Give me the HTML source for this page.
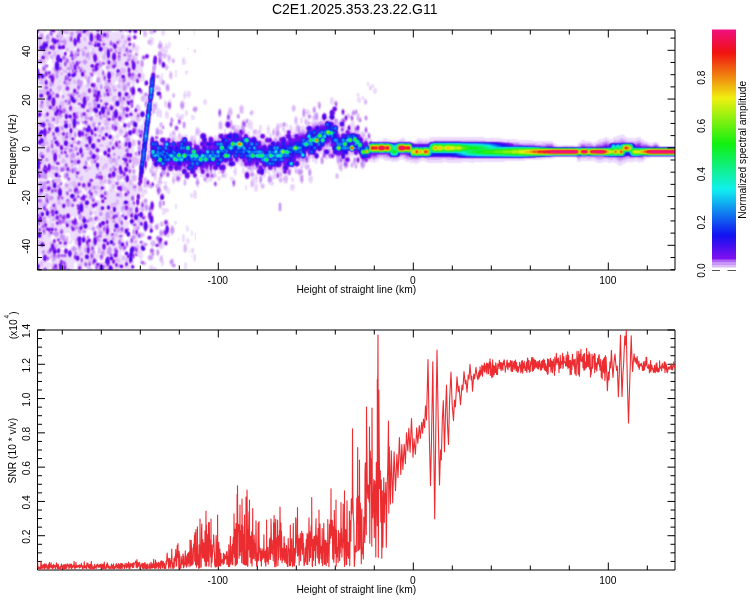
<!DOCTYPE html>
<html><head><meta charset="utf-8"><title>C2E1.2025.353.23.22.G11</title>
<style>
html,body{margin:0;padding:0;background:#fff;}
svg{display:block;font-family:"Liberation Sans",sans-serif;}
.lt ellipse,.lt rect{mix-blend-mode:lighten}
</style></head>
<body>
<svg width="750" height="600" viewBox="0 0 750 600">
<rect width="750" height="600" fill="#fff"/>
<defs>
<radialGradient id="r3"><stop offset="0" stop-color="#131313"/><stop offset="0.0833333" stop-color="#131313"/><stop offset="0.166667" stop-color="#131313"/><stop offset="0.25" stop-color="#121212"/><stop offset="0.333333" stop-color="#111111"/><stop offset="0.416667" stop-color="#0f0f0f"/><stop offset="0.5" stop-color="#0d0d0d"/><stop offset="0.583333" stop-color="#0a0a0a"/><stop offset="0.666667" stop-color="#070707"/><stop offset="0.75" stop-color="#050505"/><stop offset="0.833333" stop-color="#030303"/><stop offset="0.916667" stop-color="#010101"/><stop offset="1" stop-color="#000000"/></radialGradient>
<radialGradient id="r4"><stop offset="0" stop-color="#1a1a1a"/><stop offset="0.0833333" stop-color="#191919"/><stop offset="0.166667" stop-color="#191919"/><stop offset="0.25" stop-color="#181818"/><stop offset="0.333333" stop-color="#171717"/><stop offset="0.416667" stop-color="#141414"/><stop offset="0.5" stop-color="#111111"/><stop offset="0.583333" stop-color="#0d0d0d"/><stop offset="0.666667" stop-color="#090909"/><stop offset="0.75" stop-color="#060606"/><stop offset="0.833333" stop-color="#040404"/><stop offset="0.916667" stop-color="#020202"/><stop offset="1" stop-color="#000000"/></radialGradient>
<radialGradient id="r5"><stop offset="0" stop-color="#202020"/><stop offset="0.0833333" stop-color="#202020"/><stop offset="0.166667" stop-color="#1f1f1f"/><stop offset="0.25" stop-color="#1e1e1e"/><stop offset="0.333333" stop-color="#1c1c1c"/><stop offset="0.416667" stop-color="#191919"/><stop offset="0.5" stop-color="#151515"/><stop offset="0.583333" stop-color="#101010"/><stop offset="0.666667" stop-color="#0c0c0c"/><stop offset="0.75" stop-color="#080808"/><stop offset="0.833333" stop-color="#050505"/><stop offset="0.916667" stop-color="#020202"/><stop offset="1" stop-color="#000000"/></radialGradient>
<radialGradient id="r6"><stop offset="0" stop-color="#262626"/><stop offset="0.0833333" stop-color="#262626"/><stop offset="0.166667" stop-color="#262626"/><stop offset="0.25" stop-color="#242424"/><stop offset="0.333333" stop-color="#222222"/><stop offset="0.416667" stop-color="#1e1e1e"/><stop offset="0.5" stop-color="#191919"/><stop offset="0.583333" stop-color="#141414"/><stop offset="0.666667" stop-color="#0e0e0e"/><stop offset="0.75" stop-color="#090909"/><stop offset="0.833333" stop-color="#050505"/><stop offset="0.916667" stop-color="#030303"/><stop offset="1" stop-color="#000000"/></radialGradient>
<radialGradient id="r7"><stop offset="0" stop-color="#2d2d2d"/><stop offset="0.0833333" stop-color="#2d2d2d"/><stop offset="0.166667" stop-color="#2c2c2c"/><stop offset="0.25" stop-color="#2a2a2a"/><stop offset="0.333333" stop-color="#272727"/><stop offset="0.416667" stop-color="#232323"/><stop offset="0.5" stop-color="#1d1d1d"/><stop offset="0.583333" stop-color="#171717"/><stop offset="0.666667" stop-color="#101010"/><stop offset="0.75" stop-color="#0b0b0b"/><stop offset="0.833333" stop-color="#060606"/><stop offset="0.916667" stop-color="#030303"/><stop offset="1" stop-color="#000000"/></radialGradient>
<radialGradient id="r8"><stop offset="0" stop-color="#333333"/><stop offset="0.0833333" stop-color="#333333"/><stop offset="0.166667" stop-color="#323232"/><stop offset="0.25" stop-color="#303030"/><stop offset="0.333333" stop-color="#2d2d2d"/><stop offset="0.416667" stop-color="#282828"/><stop offset="0.5" stop-color="#212121"/><stop offset="0.583333" stop-color="#1a1a1a"/><stop offset="0.666667" stop-color="#131313"/><stop offset="0.75" stop-color="#0c0c0c"/><stop offset="0.833333" stop-color="#070707"/><stop offset="0.916667" stop-color="#040404"/><stop offset="1" stop-color="#000000"/></radialGradient>
<radialGradient id="r9"><stop offset="0" stop-color="#393939"/><stop offset="0.0833333" stop-color="#393939"/><stop offset="0.166667" stop-color="#383838"/><stop offset="0.25" stop-color="#363636"/><stop offset="0.333333" stop-color="#333333"/><stop offset="0.416667" stop-color="#2d2d2d"/><stop offset="0.5" stop-color="#262626"/><stop offset="0.583333" stop-color="#1d1d1d"/><stop offset="0.666667" stop-color="#151515"/><stop offset="0.75" stop-color="#0e0e0e"/><stop offset="0.833333" stop-color="#080808"/><stop offset="0.916667" stop-color="#040404"/><stop offset="1" stop-color="#000000"/></radialGradient>
<radialGradient id="r10"><stop offset="0" stop-color="#404040"/><stop offset="0.0833333" stop-color="#404040"/><stop offset="0.166667" stop-color="#3f3f3f"/><stop offset="0.25" stop-color="#3c3c3c"/><stop offset="0.333333" stop-color="#383838"/><stop offset="0.416667" stop-color="#323232"/><stop offset="0.5" stop-color="#2a2a2a"/><stop offset="0.583333" stop-color="#212121"/><stop offset="0.666667" stop-color="#171717"/><stop offset="0.75" stop-color="#0f0f0f"/><stop offset="0.833333" stop-color="#090909"/><stop offset="0.916667" stop-color="#050505"/><stop offset="1" stop-color="#000000"/></radialGradient>
<radialGradient id="r11"><stop offset="0" stop-color="#464646"/><stop offset="0.0833333" stop-color="#464646"/><stop offset="0.166667" stop-color="#454545"/><stop offset="0.25" stop-color="#434343"/><stop offset="0.333333" stop-color="#3e3e3e"/><stop offset="0.416667" stop-color="#373737"/><stop offset="0.5" stop-color="#2e2e2e"/><stop offset="0.583333" stop-color="#242424"/><stop offset="0.666667" stop-color="#1a1a1a"/><stop offset="0.75" stop-color="#111111"/><stop offset="0.833333" stop-color="#0a0a0a"/><stop offset="0.916667" stop-color="#050505"/><stop offset="1" stop-color="#000000"/></radialGradient>
<radialGradient id="r12"><stop offset="0" stop-color="#4c4c4c"/><stop offset="0.0833333" stop-color="#4c4c4c"/><stop offset="0.166667" stop-color="#4b4b4b"/><stop offset="0.25" stop-color="#494949"/><stop offset="0.333333" stop-color="#444444"/><stop offset="0.416667" stop-color="#3c3c3c"/><stop offset="0.5" stop-color="#323232"/><stop offset="0.583333" stop-color="#272727"/><stop offset="0.666667" stop-color="#1c1c1c"/><stop offset="0.75" stop-color="#121212"/><stop offset="0.833333" stop-color="#0b0b0b"/><stop offset="0.916667" stop-color="#060606"/><stop offset="1" stop-color="#000000"/></radialGradient>
<radialGradient id="r13"><stop offset="0" stop-color="#535353"/><stop offset="0.0833333" stop-color="#535353"/><stop offset="0.166667" stop-color="#525252"/><stop offset="0.25" stop-color="#4f4f4f"/><stop offset="0.333333" stop-color="#494949"/><stop offset="0.416667" stop-color="#414141"/><stop offset="0.5" stop-color="#363636"/><stop offset="0.583333" stop-color="#2a2a2a"/><stop offset="0.666667" stop-color="#1e1e1e"/><stop offset="0.75" stop-color="#141414"/><stop offset="0.833333" stop-color="#0c0c0c"/><stop offset="0.916667" stop-color="#060606"/><stop offset="1" stop-color="#000000"/></radialGradient>
<radialGradient id="r14"><stop offset="0" stop-color="#595959"/><stop offset="0.0833333" stop-color="#595959"/><stop offset="0.166667" stop-color="#585858"/><stop offset="0.25" stop-color="#555555"/><stop offset="0.333333" stop-color="#4f4f4f"/><stop offset="0.416667" stop-color="#464646"/><stop offset="0.5" stop-color="#3b3b3b"/><stop offset="0.583333" stop-color="#2e2e2e"/><stop offset="0.666667" stop-color="#212121"/><stop offset="0.75" stop-color="#151515"/><stop offset="0.833333" stop-color="#0d0d0d"/><stop offset="0.916667" stop-color="#070707"/><stop offset="1" stop-color="#000000"/></radialGradient>
<radialGradient id="r15"><stop offset="0" stop-color="#606060"/><stop offset="0.0833333" stop-color="#5f5f5f"/><stop offset="0.166667" stop-color="#5e5e5e"/><stop offset="0.25" stop-color="#5b5b5b"/><stop offset="0.333333" stop-color="#545454"/><stop offset="0.416667" stop-color="#4b4b4b"/><stop offset="0.5" stop-color="#3f3f3f"/><stop offset="0.583333" stop-color="#313131"/><stop offset="0.666667" stop-color="#232323"/><stop offset="0.75" stop-color="#171717"/><stop offset="0.833333" stop-color="#0e0e0e"/><stop offset="0.916667" stop-color="#070707"/><stop offset="1" stop-color="#000000"/></radialGradient>
<radialGradient id="r16"><stop offset="0" stop-color="#666666"/><stop offset="0.0833333" stop-color="#666666"/><stop offset="0.166667" stop-color="#646464"/><stop offset="0.25" stop-color="#616161"/><stop offset="0.333333" stop-color="#5a5a5a"/><stop offset="0.416667" stop-color="#505050"/><stop offset="0.5" stop-color="#434343"/><stop offset="0.583333" stop-color="#343434"/><stop offset="0.666667" stop-color="#262626"/><stop offset="0.75" stop-color="#191919"/><stop offset="0.833333" stop-color="#0e0e0e"/><stop offset="0.916667" stop-color="#080808"/><stop offset="1" stop-color="#000000"/></radialGradient>
<radialGradient id="r17"><stop offset="0" stop-color="#6c6c6c"/><stop offset="0.0833333" stop-color="#6c6c6c"/><stop offset="0.166667" stop-color="#6b6b6b"/><stop offset="0.25" stop-color="#676767"/><stop offset="0.333333" stop-color="#606060"/><stop offset="0.416667" stop-color="#555555"/><stop offset="0.5" stop-color="#474747"/><stop offset="0.583333" stop-color="#373737"/><stop offset="0.666667" stop-color="#282828"/><stop offset="0.75" stop-color="#1a1a1a"/><stop offset="0.833333" stop-color="#0f0f0f"/><stop offset="0.916667" stop-color="#080808"/><stop offset="1" stop-color="#000000"/></radialGradient>
<radialGradient id="r18"><stop offset="0" stop-color="#737373"/><stop offset="0.0833333" stop-color="#737373"/><stop offset="0.166667" stop-color="#717171"/><stop offset="0.25" stop-color="#6d6d6d"/><stop offset="0.333333" stop-color="#656565"/><stop offset="0.416667" stop-color="#5a5a5a"/><stop offset="0.5" stop-color="#4b4b4b"/><stop offset="0.583333" stop-color="#3b3b3b"/><stop offset="0.666667" stop-color="#2a2a2a"/><stop offset="0.75" stop-color="#1c1c1c"/><stop offset="0.833333" stop-color="#101010"/><stop offset="0.916667" stop-color="#090909"/><stop offset="1" stop-color="#000000"/></radialGradient>
<radialGradient id="r19"><stop offset="0" stop-color="#797979"/><stop offset="0.0833333" stop-color="#797979"/><stop offset="0.166667" stop-color="#777777"/><stop offset="0.25" stop-color="#737373"/><stop offset="0.333333" stop-color="#6b6b6b"/><stop offset="0.416667" stop-color="#5f5f5f"/><stop offset="0.5" stop-color="#4f4f4f"/><stop offset="0.583333" stop-color="#3e3e3e"/><stop offset="0.666667" stop-color="#2d2d2d"/><stop offset="0.75" stop-color="#1d1d1d"/><stop offset="0.833333" stop-color="#111111"/><stop offset="0.916667" stop-color="#090909"/><stop offset="1" stop-color="#000000"/></radialGradient>
<radialGradient id="r20"><stop offset="0" stop-color="#808080"/><stop offset="0.0833333" stop-color="#7f7f7f"/><stop offset="0.166667" stop-color="#7e7e7e"/><stop offset="0.25" stop-color="#797979"/><stop offset="0.333333" stop-color="#717171"/><stop offset="0.416667" stop-color="#646464"/><stop offset="0.5" stop-color="#545454"/><stop offset="0.583333" stop-color="#414141"/><stop offset="0.666667" stop-color="#2f2f2f"/><stop offset="0.75" stop-color="#1f1f1f"/><stop offset="0.833333" stop-color="#121212"/><stop offset="0.916667" stop-color="#090909"/><stop offset="1" stop-color="#000000"/></radialGradient>
<radialGradient id="r21"><stop offset="0" stop-color="#868686"/><stop offset="0.0833333" stop-color="#868686"/><stop offset="0.166667" stop-color="#848484"/><stop offset="0.25" stop-color="#7f7f7f"/><stop offset="0.333333" stop-color="#767676"/><stop offset="0.416667" stop-color="#696969"/><stop offset="0.5" stop-color="#585858"/><stop offset="0.583333" stop-color="#454545"/><stop offset="0.666667" stop-color="#313131"/><stop offset="0.75" stop-color="#202020"/><stop offset="0.833333" stop-color="#131313"/><stop offset="0.916667" stop-color="#0a0a0a"/><stop offset="1" stop-color="#000000"/></radialGradient>
<radialGradient id="r22"><stop offset="0" stop-color="#8c8c8c"/><stop offset="0.0833333" stop-color="#8c8c8c"/><stop offset="0.166667" stop-color="#8a8a8a"/><stop offset="0.25" stop-color="#858585"/><stop offset="0.333333" stop-color="#7c7c7c"/><stop offset="0.416667" stop-color="#6e6e6e"/><stop offset="0.5" stop-color="#5c5c5c"/><stop offset="0.583333" stop-color="#484848"/><stop offset="0.666667" stop-color="#343434"/><stop offset="0.75" stop-color="#222222"/><stop offset="0.833333" stop-color="#141414"/><stop offset="0.916667" stop-color="#0a0a0a"/><stop offset="1" stop-color="#000000"/></radialGradient>
<radialGradient id="r23"><stop offset="0" stop-color="#939393"/><stop offset="0.0833333" stop-color="#929292"/><stop offset="0.166667" stop-color="#909090"/><stop offset="0.25" stop-color="#8b8b8b"/><stop offset="0.333333" stop-color="#818181"/><stop offset="0.416667" stop-color="#737373"/><stop offset="0.5" stop-color="#606060"/><stop offset="0.583333" stop-color="#4b4b4b"/><stop offset="0.666667" stop-color="#363636"/><stop offset="0.75" stop-color="#232323"/><stop offset="0.833333" stop-color="#151515"/><stop offset="0.916667" stop-color="#0b0b0b"/><stop offset="1" stop-color="#000000"/></radialGradient>
<radialGradient id="r24"><stop offset="0" stop-color="#999999"/><stop offset="0.0833333" stop-color="#999999"/><stop offset="0.166667" stop-color="#979797"/><stop offset="0.25" stop-color="#919191"/><stop offset="0.333333" stop-color="#878787"/><stop offset="0.416667" stop-color="#787878"/><stop offset="0.5" stop-color="#646464"/><stop offset="0.583333" stop-color="#4e4e4e"/><stop offset="0.666667" stop-color="#383838"/><stop offset="0.75" stop-color="#252525"/><stop offset="0.833333" stop-color="#161616"/><stop offset="0.916667" stop-color="#0b0b0b"/><stop offset="1" stop-color="#000000"/></radialGradient>
<radialGradient id="r25"><stop offset="0" stop-color="#9f9f9f"/><stop offset="0.0833333" stop-color="#9f9f9f"/><stop offset="0.166667" stop-color="#9d9d9d"/><stop offset="0.25" stop-color="#979797"/><stop offset="0.333333" stop-color="#8d8d8d"/><stop offset="0.416667" stop-color="#7d7d7d"/><stop offset="0.5" stop-color="#696969"/><stop offset="0.583333" stop-color="#525252"/><stop offset="0.666667" stop-color="#3b3b3b"/><stop offset="0.75" stop-color="#262626"/><stop offset="0.833333" stop-color="#171717"/><stop offset="0.916667" stop-color="#0c0c0c"/><stop offset="1" stop-color="#000000"/></radialGradient>
<radialGradient id="r26"><stop offset="0" stop-color="#a6a6a6"/><stop offset="0.0833333" stop-color="#a5a5a5"/><stop offset="0.166667" stop-color="#a3a3a3"/><stop offset="0.25" stop-color="#9d9d9d"/><stop offset="0.333333" stop-color="#929292"/><stop offset="0.416667" stop-color="#828282"/><stop offset="0.5" stop-color="#6d6d6d"/><stop offset="0.583333" stop-color="#555555"/><stop offset="0.666667" stop-color="#3d3d3d"/><stop offset="0.75" stop-color="#282828"/><stop offset="0.833333" stop-color="#181818"/><stop offset="0.916667" stop-color="#0c0c0c"/><stop offset="1" stop-color="#000000"/></radialGradient>
<radialGradient id="r27"><stop offset="0" stop-color="#acacac"/><stop offset="0.0833333" stop-color="#acacac"/><stop offset="0.166667" stop-color="#a9a9a9"/><stop offset="0.25" stop-color="#a3a3a3"/><stop offset="0.333333" stop-color="#989898"/><stop offset="0.416667" stop-color="#878787"/><stop offset="0.5" stop-color="#717171"/><stop offset="0.583333" stop-color="#585858"/><stop offset="0.666667" stop-color="#3f3f3f"/><stop offset="0.75" stop-color="#292929"/><stop offset="0.833333" stop-color="#181818"/><stop offset="0.916667" stop-color="#0d0d0d"/><stop offset="1" stop-color="#000000"/></radialGradient>
<radialGradient id="r28"><stop offset="0" stop-color="#b2b2b2"/><stop offset="0.0833333" stop-color="#b2b2b2"/><stop offset="0.166667" stop-color="#b0b0b0"/><stop offset="0.25" stop-color="#a9a9a9"/><stop offset="0.333333" stop-color="#9e9e9e"/><stop offset="0.416667" stop-color="#8c8c8c"/><stop offset="0.5" stop-color="#757575"/><stop offset="0.583333" stop-color="#5b5b5b"/><stop offset="0.666667" stop-color="#424242"/><stop offset="0.75" stop-color="#2b2b2b"/><stop offset="0.833333" stop-color="#191919"/><stop offset="0.916667" stop-color="#0d0d0d"/><stop offset="1" stop-color="#000000"/></radialGradient>
<radialGradient id="r29"><stop offset="0" stop-color="#b9b9b9"/><stop offset="0.0833333" stop-color="#b9b9b9"/><stop offset="0.166667" stop-color="#b6b6b6"/><stop offset="0.25" stop-color="#afafaf"/><stop offset="0.333333" stop-color="#a3a3a3"/><stop offset="0.416667" stop-color="#919191"/><stop offset="0.5" stop-color="#797979"/><stop offset="0.583333" stop-color="#5f5f5f"/><stop offset="0.666667" stop-color="#444444"/><stop offset="0.75" stop-color="#2d2d2d"/><stop offset="0.833333" stop-color="#1a1a1a"/><stop offset="0.916667" stop-color="#0e0e0e"/><stop offset="1" stop-color="#000000"/></radialGradient>
<radialGradient id="r30"><stop offset="0" stop-color="#bfbfbf"/><stop offset="0.0833333" stop-color="#bfbfbf"/><stop offset="0.166667" stop-color="#bcbcbc"/><stop offset="0.25" stop-color="#b5b5b5"/><stop offset="0.333333" stop-color="#a9a9a9"/><stop offset="0.416667" stop-color="#969696"/><stop offset="0.5" stop-color="#7d7d7d"/><stop offset="0.583333" stop-color="#626262"/><stop offset="0.666667" stop-color="#464646"/><stop offset="0.75" stop-color="#2e2e2e"/><stop offset="0.833333" stop-color="#1b1b1b"/><stop offset="0.916667" stop-color="#0e0e0e"/><stop offset="1" stop-color="#000000"/></radialGradient>
<radialGradient id="r31"><stop offset="0" stop-color="#c6c6c6"/><stop offset="0.0833333" stop-color="#c5c5c5"/><stop offset="0.166667" stop-color="#c3c3c3"/><stop offset="0.25" stop-color="#bbbbbb"/><stop offset="0.333333" stop-color="#aeaeae"/><stop offset="0.416667" stop-color="#9b9b9b"/><stop offset="0.5" stop-color="#828282"/><stop offset="0.583333" stop-color="#656565"/><stop offset="0.666667" stop-color="#494949"/><stop offset="0.75" stop-color="#303030"/><stop offset="0.833333" stop-color="#1c1c1c"/><stop offset="0.916667" stop-color="#0f0f0f"/><stop offset="1" stop-color="#000000"/></radialGradient>
<radialGradient id="r33"><stop offset="0" stop-color="#d2d2d2"/><stop offset="0.0833333" stop-color="#d2d2d2"/><stop offset="0.166667" stop-color="#cfcfcf"/><stop offset="0.25" stop-color="#c8c8c8"/><stop offset="0.333333" stop-color="#bababa"/><stop offset="0.416667" stop-color="#a5a5a5"/><stop offset="0.5" stop-color="#8a8a8a"/><stop offset="0.583333" stop-color="#6c6c6c"/><stop offset="0.666667" stop-color="#4d4d4d"/><stop offset="0.75" stop-color="#333333"/><stop offset="0.833333" stop-color="#1e1e1e"/><stop offset="0.916667" stop-color="#101010"/><stop offset="1" stop-color="#000000"/></radialGradient>
<radialGradient id="r36"><stop offset="0" stop-color="#e6e6e6"/><stop offset="0.0833333" stop-color="#e5e5e5"/><stop offset="0.166667" stop-color="#e2e2e2"/><stop offset="0.25" stop-color="#dadada"/><stop offset="0.333333" stop-color="#cbcbcb"/><stop offset="0.416667" stop-color="#b4b4b4"/><stop offset="0.5" stop-color="#979797"/><stop offset="0.583333" stop-color="#757575"/><stop offset="0.666667" stop-color="#545454"/><stop offset="0.75" stop-color="#373737"/><stop offset="0.833333" stop-color="#212121"/><stop offset="0.916667" stop-color="#111111"/><stop offset="1" stop-color="#000000"/></radialGradient>
<radialGradient id="r37"><stop offset="0" stop-color="#ececec"/><stop offset="0.0833333" stop-color="#ebebeb"/><stop offset="0.166667" stop-color="#e8e8e8"/><stop offset="0.25" stop-color="#e0e0e0"/><stop offset="0.333333" stop-color="#d0d0d0"/><stop offset="0.416667" stop-color="#b9b9b9"/><stop offset="0.5" stop-color="#9b9b9b"/><stop offset="0.583333" stop-color="#797979"/><stop offset="0.666667" stop-color="#575757"/><stop offset="0.75" stop-color="#393939"/><stop offset="0.833333" stop-color="#212121"/><stop offset="0.916667" stop-color="#121212"/><stop offset="1" stop-color="#000000"/></radialGradient>
<radialGradient id="r38"><stop offset="0" stop-color="#f2f2f2"/><stop offset="0.0833333" stop-color="#f2f2f2"/><stop offset="0.166667" stop-color="#eeeeee"/><stop offset="0.25" stop-color="#e6e6e6"/><stop offset="0.333333" stop-color="#d6d6d6"/><stop offset="0.416667" stop-color="#bebebe"/><stop offset="0.5" stop-color="#9f9f9f"/><stop offset="0.583333" stop-color="#7c7c7c"/><stop offset="0.666667" stop-color="#595959"/><stop offset="0.75" stop-color="#3a3a3a"/><stop offset="0.833333" stop-color="#222222"/><stop offset="0.916667" stop-color="#121212"/><stop offset="1" stop-color="#000000"/></radialGradient>
<linearGradient id="l10" x1="0" y1="0" x2="0" y2="1"><stop offset="0" stop-color="#000000"/><stop offset="0.0625" stop-color="#020202"/><stop offset="0.125" stop-color="#050505"/><stop offset="0.1875" stop-color="#0b0b0b"/><stop offset="0.25" stop-color="#151515"/><stop offset="0.3125" stop-color="#222222"/><stop offset="0.375" stop-color="#303030"/><stop offset="0.4375" stop-color="#3b3b3b"/><stop offset="0.5" stop-color="#404040"/><stop offset="0.5625" stop-color="#3b3b3b"/><stop offset="0.625" stop-color="#303030"/><stop offset="0.6875" stop-color="#222222"/><stop offset="0.75" stop-color="#151515"/><stop offset="0.8125" stop-color="#0b0b0b"/><stop offset="0.875" stop-color="#050505"/><stop offset="0.9375" stop-color="#020202"/><stop offset="1" stop-color="#000000"/></linearGradient>
<linearGradient id="l13" x1="0" y1="0" x2="0" y2="1"><stop offset="0" stop-color="#000000"/><stop offset="0.0625" stop-color="#030303"/><stop offset="0.125" stop-color="#070707"/><stop offset="0.1875" stop-color="#0e0e0e"/><stop offset="0.25" stop-color="#1b1b1b"/><stop offset="0.3125" stop-color="#2c2c2c"/><stop offset="0.375" stop-color="#3f3f3f"/><stop offset="0.4375" stop-color="#4d4d4d"/><stop offset="0.5" stop-color="#535353"/><stop offset="0.5625" stop-color="#4d4d4d"/><stop offset="0.625" stop-color="#3f3f3f"/><stop offset="0.6875" stop-color="#2c2c2c"/><stop offset="0.75" stop-color="#1b1b1b"/><stop offset="0.8125" stop-color="#0e0e0e"/><stop offset="0.875" stop-color="#070707"/><stop offset="0.9375" stop-color="#030303"/><stop offset="1" stop-color="#000000"/></linearGradient>
<linearGradient id="l16" x1="0" y1="0" x2="0" y2="1"><stop offset="0" stop-color="#000000"/><stop offset="0.0625" stop-color="#030303"/><stop offset="0.125" stop-color="#080808"/><stop offset="0.1875" stop-color="#121212"/><stop offset="0.25" stop-color="#212121"/><stop offset="0.3125" stop-color="#363636"/><stop offset="0.375" stop-color="#4d4d4d"/><stop offset="0.4375" stop-color="#5f5f5f"/><stop offset="0.5" stop-color="#666666"/><stop offset="0.5625" stop-color="#5f5f5f"/><stop offset="0.625" stop-color="#4d4d4d"/><stop offset="0.6875" stop-color="#363636"/><stop offset="0.75" stop-color="#212121"/><stop offset="0.8125" stop-color="#121212"/><stop offset="0.875" stop-color="#080808"/><stop offset="0.9375" stop-color="#030303"/><stop offset="1" stop-color="#000000"/></linearGradient>
<linearGradient id="l20" x1="0" y1="0" x2="0" y2="1"><stop offset="0" stop-color="#000000"/><stop offset="0.0625" stop-color="#040404"/><stop offset="0.125" stop-color="#0a0a0a"/><stop offset="0.1875" stop-color="#161616"/><stop offset="0.25" stop-color="#292929"/><stop offset="0.3125" stop-color="#444444"/><stop offset="0.375" stop-color="#606060"/><stop offset="0.4375" stop-color="#777777"/><stop offset="0.5" stop-color="#808080"/><stop offset="0.5625" stop-color="#777777"/><stop offset="0.625" stop-color="#606060"/><stop offset="0.6875" stop-color="#444444"/><stop offset="0.75" stop-color="#292929"/><stop offset="0.8125" stop-color="#161616"/><stop offset="0.875" stop-color="#0a0a0a"/><stop offset="0.9375" stop-color="#040404"/><stop offset="1" stop-color="#000000"/></linearGradient>
<linearGradient id="m8" x1="0" y1="0" x2="0" y2="1"><stop offset="0" stop-color="#000000"/><stop offset="0.03125" stop-color="#010101"/><stop offset="0.0625" stop-color="#020202"/><stop offset="0.09375" stop-color="#040404"/><stop offset="0.125" stop-color="#080808"/><stop offset="0.1562" stop-color="#0d0d0d"/><stop offset="0.1875" stop-color="#141414"/><stop offset="0.2188" stop-color="#1c1c1c"/><stop offset="0.25" stop-color="#222222"/><stop offset="0.2812" stop-color="#272727"/><stop offset="0.3125" stop-color="#2a2a2a"/><stop offset="0.3438" stop-color="#2c2c2c"/><stop offset="0.375" stop-color="#2f2f2f"/><stop offset="0.4062" stop-color="#303030"/><stop offset="0.4375" stop-color="#323232"/><stop offset="0.4688" stop-color="#333333"/><stop offset="0.5" stop-color="#333333"/><stop offset="0.5312" stop-color="#333333"/><stop offset="0.5625" stop-color="#323232"/><stop offset="0.5938" stop-color="#303030"/><stop offset="0.625" stop-color="#2f2f2f"/><stop offset="0.6562" stop-color="#2c2c2c"/><stop offset="0.6875" stop-color="#2a2a2a"/><stop offset="0.7188" stop-color="#272727"/><stop offset="0.75" stop-color="#222222"/><stop offset="0.7812" stop-color="#1c1c1c"/><stop offset="0.8125" stop-color="#141414"/><stop offset="0.8438" stop-color="#0d0d0d"/><stop offset="0.875" stop-color="#080808"/><stop offset="0.9062" stop-color="#040404"/><stop offset="0.9375" stop-color="#020202"/><stop offset="0.9688" stop-color="#010101"/><stop offset="1" stop-color="#000000"/></linearGradient>
<linearGradient id="m9" x1="0" y1="0" x2="0" y2="1"><stop offset="0" stop-color="#000000"/><stop offset="0.03125" stop-color="#010101"/><stop offset="0.0625" stop-color="#020202"/><stop offset="0.09375" stop-color="#040404"/><stop offset="0.125" stop-color="#090909"/><stop offset="0.1562" stop-color="#0f0f0f"/><stop offset="0.1875" stop-color="#161616"/><stop offset="0.2188" stop-color="#1f1f1f"/><stop offset="0.25" stop-color="#272727"/><stop offset="0.2812" stop-color="#2b2b2b"/><stop offset="0.3125" stop-color="#2f2f2f"/><stop offset="0.3438" stop-color="#323232"/><stop offset="0.375" stop-color="#343434"/><stop offset="0.4062" stop-color="#373737"/><stop offset="0.4375" stop-color="#383838"/><stop offset="0.4688" stop-color="#393939"/><stop offset="0.5" stop-color="#393939"/><stop offset="0.5312" stop-color="#393939"/><stop offset="0.5625" stop-color="#383838"/><stop offset="0.5938" stop-color="#373737"/><stop offset="0.625" stop-color="#343434"/><stop offset="0.6562" stop-color="#323232"/><stop offset="0.6875" stop-color="#2f2f2f"/><stop offset="0.7188" stop-color="#2b2b2b"/><stop offset="0.75" stop-color="#272727"/><stop offset="0.7812" stop-color="#1f1f1f"/><stop offset="0.8125" stop-color="#161616"/><stop offset="0.8438" stop-color="#0f0f0f"/><stop offset="0.875" stop-color="#090909"/><stop offset="0.9062" stop-color="#040404"/><stop offset="0.9375" stop-color="#020202"/><stop offset="0.9688" stop-color="#010101"/><stop offset="1" stop-color="#000000"/></linearGradient>
<linearGradient id="m10" x1="0" y1="0" x2="0" y2="1"><stop offset="0" stop-color="#000000"/><stop offset="0.03125" stop-color="#010101"/><stop offset="0.0625" stop-color="#020202"/><stop offset="0.09375" stop-color="#050505"/><stop offset="0.125" stop-color="#090909"/><stop offset="0.1562" stop-color="#101010"/><stop offset="0.1875" stop-color="#191919"/><stop offset="0.2188" stop-color="#232323"/><stop offset="0.25" stop-color="#2b2b2b"/><stop offset="0.2812" stop-color="#303030"/><stop offset="0.3125" stop-color="#343434"/><stop offset="0.3438" stop-color="#373737"/><stop offset="0.375" stop-color="#3a3a3a"/><stop offset="0.4062" stop-color="#3d3d3d"/><stop offset="0.4375" stop-color="#3e3e3e"/><stop offset="0.4688" stop-color="#3f3f3f"/><stop offset="0.5" stop-color="#404040"/><stop offset="0.5312" stop-color="#3f3f3f"/><stop offset="0.5625" stop-color="#3e3e3e"/><stop offset="0.5938" stop-color="#3d3d3d"/><stop offset="0.625" stop-color="#3a3a3a"/><stop offset="0.6562" stop-color="#373737"/><stop offset="0.6875" stop-color="#343434"/><stop offset="0.7188" stop-color="#303030"/><stop offset="0.75" stop-color="#2b2b2b"/><stop offset="0.7812" stop-color="#232323"/><stop offset="0.8125" stop-color="#191919"/><stop offset="0.8438" stop-color="#101010"/><stop offset="0.875" stop-color="#090909"/><stop offset="0.9062" stop-color="#050505"/><stop offset="0.9375" stop-color="#020202"/><stop offset="0.9688" stop-color="#010101"/><stop offset="1" stop-color="#000000"/></linearGradient>
<linearGradient id="m11" x1="0" y1="0" x2="0" y2="1"><stop offset="0" stop-color="#000000"/><stop offset="0.03125" stop-color="#010101"/><stop offset="0.0625" stop-color="#030303"/><stop offset="0.09375" stop-color="#050505"/><stop offset="0.125" stop-color="#0a0a0a"/><stop offset="0.1562" stop-color="#121212"/><stop offset="0.1875" stop-color="#1b1b1b"/><stop offset="0.2188" stop-color="#262626"/><stop offset="0.25" stop-color="#2f2f2f"/><stop offset="0.2812" stop-color="#353535"/><stop offset="0.3125" stop-color="#393939"/><stop offset="0.3438" stop-color="#3d3d3d"/><stop offset="0.375" stop-color="#404040"/><stop offset="0.4062" stop-color="#434343"/><stop offset="0.4375" stop-color="#454545"/><stop offset="0.4688" stop-color="#464646"/><stop offset="0.5" stop-color="#464646"/><stop offset="0.5312" stop-color="#464646"/><stop offset="0.5625" stop-color="#454545"/><stop offset="0.5938" stop-color="#434343"/><stop offset="0.625" stop-color="#404040"/><stop offset="0.6562" stop-color="#3d3d3d"/><stop offset="0.6875" stop-color="#393939"/><stop offset="0.7188" stop-color="#353535"/><stop offset="0.75" stop-color="#2f2f2f"/><stop offset="0.7812" stop-color="#262626"/><stop offset="0.8125" stop-color="#1b1b1b"/><stop offset="0.8438" stop-color="#121212"/><stop offset="0.875" stop-color="#0a0a0a"/><stop offset="0.9062" stop-color="#050505"/><stop offset="0.9375" stop-color="#030303"/><stop offset="0.9688" stop-color="#010101"/><stop offset="1" stop-color="#000000"/></linearGradient>
<linearGradient id="m12" x1="0" y1="0" x2="0" y2="1"><stop offset="0" stop-color="#000000"/><stop offset="0.03125" stop-color="#010101"/><stop offset="0.0625" stop-color="#030303"/><stop offset="0.09375" stop-color="#060606"/><stop offset="0.125" stop-color="#0b0b0b"/><stop offset="0.1562" stop-color="#131313"/><stop offset="0.1875" stop-color="#1e1e1e"/><stop offset="0.2188" stop-color="#292929"/><stop offset="0.25" stop-color="#343434"/><stop offset="0.2812" stop-color="#3a3a3a"/><stop offset="0.3125" stop-color="#3e3e3e"/><stop offset="0.3438" stop-color="#424242"/><stop offset="0.375" stop-color="#464646"/><stop offset="0.4062" stop-color="#494949"/><stop offset="0.4375" stop-color="#4b4b4b"/><stop offset="0.4688" stop-color="#4c4c4c"/><stop offset="0.5" stop-color="#4c4c4c"/><stop offset="0.5312" stop-color="#4c4c4c"/><stop offset="0.5625" stop-color="#4b4b4b"/><stop offset="0.5938" stop-color="#494949"/><stop offset="0.625" stop-color="#464646"/><stop offset="0.6562" stop-color="#424242"/><stop offset="0.6875" stop-color="#3e3e3e"/><stop offset="0.7188" stop-color="#3a3a3a"/><stop offset="0.75" stop-color="#343434"/><stop offset="0.7812" stop-color="#292929"/><stop offset="0.8125" stop-color="#1e1e1e"/><stop offset="0.8438" stop-color="#131313"/><stop offset="0.875" stop-color="#0b0b0b"/><stop offset="0.9062" stop-color="#060606"/><stop offset="0.9375" stop-color="#030303"/><stop offset="0.9688" stop-color="#010101"/><stop offset="1" stop-color="#000000"/></linearGradient>
<linearGradient id="m13" x1="0" y1="0" x2="0" y2="1"><stop offset="0" stop-color="#000000"/><stop offset="0.03125" stop-color="#010101"/><stop offset="0.0625" stop-color="#030303"/><stop offset="0.09375" stop-color="#060606"/><stop offset="0.125" stop-color="#0c0c0c"/><stop offset="0.1562" stop-color="#151515"/><stop offset="0.1875" stop-color="#202020"/><stop offset="0.2188" stop-color="#2d2d2d"/><stop offset="0.25" stop-color="#383838"/><stop offset="0.2812" stop-color="#3f3f3f"/><stop offset="0.3125" stop-color="#444444"/><stop offset="0.3438" stop-color="#484848"/><stop offset="0.375" stop-color="#4c4c4c"/><stop offset="0.4062" stop-color="#4f4f4f"/><stop offset="0.4375" stop-color="#515151"/><stop offset="0.4688" stop-color="#525252"/><stop offset="0.5" stop-color="#535353"/><stop offset="0.5312" stop-color="#525252"/><stop offset="0.5625" stop-color="#515151"/><stop offset="0.5938" stop-color="#4f4f4f"/><stop offset="0.625" stop-color="#4c4c4c"/><stop offset="0.6562" stop-color="#484848"/><stop offset="0.6875" stop-color="#444444"/><stop offset="0.7188" stop-color="#3f3f3f"/><stop offset="0.75" stop-color="#383838"/><stop offset="0.7812" stop-color="#2d2d2d"/><stop offset="0.8125" stop-color="#202020"/><stop offset="0.8438" stop-color="#151515"/><stop offset="0.875" stop-color="#0c0c0c"/><stop offset="0.9062" stop-color="#060606"/><stop offset="0.9375" stop-color="#030303"/><stop offset="0.9688" stop-color="#010101"/><stop offset="1" stop-color="#000000"/></linearGradient>
<linearGradient id="m14" x1="0" y1="0" x2="0" y2="1"><stop offset="0" stop-color="#000000"/><stop offset="0.03125" stop-color="#010101"/><stop offset="0.0625" stop-color="#030303"/><stop offset="0.09375" stop-color="#070707"/><stop offset="0.125" stop-color="#0d0d0d"/><stop offset="0.1562" stop-color="#171717"/><stop offset="0.1875" stop-color="#232323"/><stop offset="0.2188" stop-color="#303030"/><stop offset="0.25" stop-color="#3c3c3c"/><stop offset="0.2812" stop-color="#444444"/><stop offset="0.3125" stop-color="#494949"/><stop offset="0.3438" stop-color="#4d4d4d"/><stop offset="0.375" stop-color="#515151"/><stop offset="0.4062" stop-color="#555555"/><stop offset="0.4375" stop-color="#575757"/><stop offset="0.4688" stop-color="#595959"/><stop offset="0.5" stop-color="#595959"/><stop offset="0.5312" stop-color="#595959"/><stop offset="0.5625" stop-color="#575757"/><stop offset="0.5938" stop-color="#555555"/><stop offset="0.625" stop-color="#515151"/><stop offset="0.6562" stop-color="#4d4d4d"/><stop offset="0.6875" stop-color="#494949"/><stop offset="0.7188" stop-color="#444444"/><stop offset="0.75" stop-color="#3c3c3c"/><stop offset="0.7812" stop-color="#303030"/><stop offset="0.8125" stop-color="#232323"/><stop offset="0.8438" stop-color="#171717"/><stop offset="0.875" stop-color="#0d0d0d"/><stop offset="0.9062" stop-color="#070707"/><stop offset="0.9375" stop-color="#030303"/><stop offset="0.9688" stop-color="#010101"/><stop offset="1" stop-color="#000000"/></linearGradient>
<linearGradient id="m15" x1="0" y1="0" x2="0" y2="1"><stop offset="0" stop-color="#000000"/><stop offset="0.03125" stop-color="#020202"/><stop offset="0.0625" stop-color="#040404"/><stop offset="0.09375" stop-color="#070707"/><stop offset="0.125" stop-color="#0e0e0e"/><stop offset="0.1562" stop-color="#181818"/><stop offset="0.1875" stop-color="#252525"/><stop offset="0.2188" stop-color="#343434"/><stop offset="0.25" stop-color="#404040"/><stop offset="0.2812" stop-color="#484848"/><stop offset="0.3125" stop-color="#4e4e4e"/><stop offset="0.3438" stop-color="#535353"/><stop offset="0.375" stop-color="#575757"/><stop offset="0.4062" stop-color="#5b5b5b"/><stop offset="0.4375" stop-color="#5d5d5d"/><stop offset="0.4688" stop-color="#5f5f5f"/><stop offset="0.5" stop-color="#606060"/><stop offset="0.5312" stop-color="#5f5f5f"/><stop offset="0.5625" stop-color="#5d5d5d"/><stop offset="0.5938" stop-color="#5b5b5b"/><stop offset="0.625" stop-color="#575757"/><stop offset="0.6562" stop-color="#535353"/><stop offset="0.6875" stop-color="#4e4e4e"/><stop offset="0.7188" stop-color="#484848"/><stop offset="0.75" stop-color="#404040"/><stop offset="0.7812" stop-color="#343434"/><stop offset="0.8125" stop-color="#252525"/><stop offset="0.8438" stop-color="#181818"/><stop offset="0.875" stop-color="#0e0e0e"/><stop offset="0.9062" stop-color="#070707"/><stop offset="0.9375" stop-color="#040404"/><stop offset="0.9688" stop-color="#020202"/><stop offset="1" stop-color="#000000"/></linearGradient>
<linearGradient id="m16" x1="0" y1="0" x2="0" y2="1"><stop offset="0" stop-color="#000000"/><stop offset="0.03125" stop-color="#020202"/><stop offset="0.0625" stop-color="#040404"/><stop offset="0.09375" stop-color="#080808"/><stop offset="0.125" stop-color="#0f0f0f"/><stop offset="0.1562" stop-color="#1a1a1a"/><stop offset="0.1875" stop-color="#282828"/><stop offset="0.2188" stop-color="#373737"/><stop offset="0.25" stop-color="#454545"/><stop offset="0.2812" stop-color="#4d4d4d"/><stop offset="0.3125" stop-color="#535353"/><stop offset="0.3438" stop-color="#585858"/><stop offset="0.375" stop-color="#5d5d5d"/><stop offset="0.4062" stop-color="#616161"/><stop offset="0.4375" stop-color="#646464"/><stop offset="0.4688" stop-color="#656565"/><stop offset="0.5" stop-color="#666666"/><stop offset="0.5312" stop-color="#656565"/><stop offset="0.5625" stop-color="#646464"/><stop offset="0.5938" stop-color="#616161"/><stop offset="0.625" stop-color="#5d5d5d"/><stop offset="0.6562" stop-color="#585858"/><stop offset="0.6875" stop-color="#535353"/><stop offset="0.7188" stop-color="#4d4d4d"/><stop offset="0.75" stop-color="#454545"/><stop offset="0.7812" stop-color="#373737"/><stop offset="0.8125" stop-color="#282828"/><stop offset="0.8438" stop-color="#1a1a1a"/><stop offset="0.875" stop-color="#0f0f0f"/><stop offset="0.9062" stop-color="#080808"/><stop offset="0.9375" stop-color="#040404"/><stop offset="0.9688" stop-color="#020202"/><stop offset="1" stop-color="#000000"/></linearGradient>
<linearGradient id="m17" x1="0" y1="0" x2="0" y2="1"><stop offset="0" stop-color="#000000"/><stop offset="0.03125" stop-color="#020202"/><stop offset="0.0625" stop-color="#040404"/><stop offset="0.09375" stop-color="#080808"/><stop offset="0.125" stop-color="#101010"/><stop offset="0.1562" stop-color="#1c1c1c"/><stop offset="0.1875" stop-color="#2a2a2a"/><stop offset="0.2188" stop-color="#3b3b3b"/><stop offset="0.25" stop-color="#494949"/><stop offset="0.2812" stop-color="#525252"/><stop offset="0.3125" stop-color="#585858"/><stop offset="0.3438" stop-color="#5e5e5e"/><stop offset="0.375" stop-color="#636363"/><stop offset="0.4062" stop-color="#676767"/><stop offset="0.4375" stop-color="#6a6a6a"/><stop offset="0.4688" stop-color="#6c6c6c"/><stop offset="0.5" stop-color="#6c6c6c"/><stop offset="0.5312" stop-color="#6c6c6c"/><stop offset="0.5625" stop-color="#6a6a6a"/><stop offset="0.5938" stop-color="#676767"/><stop offset="0.625" stop-color="#636363"/><stop offset="0.6562" stop-color="#5e5e5e"/><stop offset="0.6875" stop-color="#585858"/><stop offset="0.7188" stop-color="#525252"/><stop offset="0.75" stop-color="#494949"/><stop offset="0.7812" stop-color="#3b3b3b"/><stop offset="0.8125" stop-color="#2a2a2a"/><stop offset="0.8438" stop-color="#1c1c1c"/><stop offset="0.875" stop-color="#101010"/><stop offset="0.9062" stop-color="#080808"/><stop offset="0.9375" stop-color="#040404"/><stop offset="0.9688" stop-color="#020202"/><stop offset="1" stop-color="#000000"/></linearGradient>
<linearGradient id="m18" x1="0" y1="0" x2="0" y2="1"><stop offset="0" stop-color="#000000"/><stop offset="0.03125" stop-color="#020202"/><stop offset="0.0625" stop-color="#040404"/><stop offset="0.09375" stop-color="#090909"/><stop offset="0.125" stop-color="#111111"/><stop offset="0.1562" stop-color="#1d1d1d"/><stop offset="0.1875" stop-color="#2d2d2d"/><stop offset="0.2188" stop-color="#3e3e3e"/><stop offset="0.25" stop-color="#4d4d4d"/><stop offset="0.2812" stop-color="#575757"/><stop offset="0.3125" stop-color="#5e5e5e"/><stop offset="0.3438" stop-color="#646464"/><stop offset="0.375" stop-color="#696969"/><stop offset="0.4062" stop-color="#6d6d6d"/><stop offset="0.4375" stop-color="#707070"/><stop offset="0.4688" stop-color="#727272"/><stop offset="0.5" stop-color="#737373"/><stop offset="0.5312" stop-color="#727272"/><stop offset="0.5625" stop-color="#707070"/><stop offset="0.5938" stop-color="#6d6d6d"/><stop offset="0.625" stop-color="#696969"/><stop offset="0.6562" stop-color="#646464"/><stop offset="0.6875" stop-color="#5e5e5e"/><stop offset="0.7188" stop-color="#575757"/><stop offset="0.75" stop-color="#4d4d4d"/><stop offset="0.7812" stop-color="#3e3e3e"/><stop offset="0.8125" stop-color="#2d2d2d"/><stop offset="0.8438" stop-color="#1d1d1d"/><stop offset="0.875" stop-color="#111111"/><stop offset="0.9062" stop-color="#090909"/><stop offset="0.9375" stop-color="#040404"/><stop offset="0.9688" stop-color="#020202"/><stop offset="1" stop-color="#000000"/></linearGradient>
<linearGradient id="m19" x1="0" y1="0" x2="0" y2="1"><stop offset="0" stop-color="#000000"/><stop offset="0.03125" stop-color="#020202"/><stop offset="0.0625" stop-color="#040404"/><stop offset="0.09375" stop-color="#090909"/><stop offset="0.125" stop-color="#121212"/><stop offset="0.1562" stop-color="#1f1f1f"/><stop offset="0.1875" stop-color="#2f2f2f"/><stop offset="0.2188" stop-color="#424242"/><stop offset="0.25" stop-color="#525252"/><stop offset="0.2812" stop-color="#5c5c5c"/><stop offset="0.3125" stop-color="#636363"/><stop offset="0.3438" stop-color="#696969"/><stop offset="0.375" stop-color="#6f6f6f"/><stop offset="0.4062" stop-color="#737373"/><stop offset="0.4375" stop-color="#767676"/><stop offset="0.4688" stop-color="#787878"/><stop offset="0.5" stop-color="#797979"/><stop offset="0.5312" stop-color="#787878"/><stop offset="0.5625" stop-color="#767676"/><stop offset="0.5938" stop-color="#737373"/><stop offset="0.625" stop-color="#6f6f6f"/><stop offset="0.6562" stop-color="#696969"/><stop offset="0.6875" stop-color="#636363"/><stop offset="0.7188" stop-color="#5c5c5c"/><stop offset="0.75" stop-color="#525252"/><stop offset="0.7812" stop-color="#424242"/><stop offset="0.8125" stop-color="#2f2f2f"/><stop offset="0.8438" stop-color="#1f1f1f"/><stop offset="0.875" stop-color="#121212"/><stop offset="0.9062" stop-color="#090909"/><stop offset="0.9375" stop-color="#040404"/><stop offset="0.9688" stop-color="#020202"/><stop offset="1" stop-color="#000000"/></linearGradient>
<linearGradient id="m20" x1="0" y1="0" x2="0" y2="1"><stop offset="0" stop-color="#000000"/><stop offset="0.03125" stop-color="#020202"/><stop offset="0.0625" stop-color="#050505"/><stop offset="0.09375" stop-color="#0a0a0a"/><stop offset="0.125" stop-color="#131313"/><stop offset="0.1562" stop-color="#202020"/><stop offset="0.1875" stop-color="#323232"/><stop offset="0.2188" stop-color="#454545"/><stop offset="0.25" stop-color="#565656"/><stop offset="0.2812" stop-color="#616161"/><stop offset="0.3125" stop-color="#686868"/><stop offset="0.3438" stop-color="#6f6f6f"/><stop offset="0.375" stop-color="#747474"/><stop offset="0.4062" stop-color="#797979"/><stop offset="0.4375" stop-color="#7d7d7d"/><stop offset="0.4688" stop-color="#7f7f7f"/><stop offset="0.5" stop-color="#808080"/><stop offset="0.5312" stop-color="#7f7f7f"/><stop offset="0.5625" stop-color="#7d7d7d"/><stop offset="0.5938" stop-color="#797979"/><stop offset="0.625" stop-color="#747474"/><stop offset="0.6562" stop-color="#6f6f6f"/><stop offset="0.6875" stop-color="#686868"/><stop offset="0.7188" stop-color="#616161"/><stop offset="0.75" stop-color="#565656"/><stop offset="0.7812" stop-color="#454545"/><stop offset="0.8125" stop-color="#323232"/><stop offset="0.8438" stop-color="#202020"/><stop offset="0.875" stop-color="#131313"/><stop offset="0.9062" stop-color="#0a0a0a"/><stop offset="0.9375" stop-color="#050505"/><stop offset="0.9688" stop-color="#020202"/><stop offset="1" stop-color="#000000"/></linearGradient>
<linearGradient id="m21" x1="0" y1="0" x2="0" y2="1"><stop offset="0" stop-color="#000000"/><stop offset="0.03125" stop-color="#020202"/><stop offset="0.0625" stop-color="#050505"/><stop offset="0.09375" stop-color="#0a0a0a"/><stop offset="0.125" stop-color="#141414"/><stop offset="0.1562" stop-color="#222222"/><stop offset="0.1875" stop-color="#343434"/><stop offset="0.2188" stop-color="#484848"/><stop offset="0.25" stop-color="#5a5a5a"/><stop offset="0.2812" stop-color="#656565"/><stop offset="0.3125" stop-color="#6d6d6d"/><stop offset="0.3438" stop-color="#747474"/><stop offset="0.375" stop-color="#7a7a7a"/><stop offset="0.4062" stop-color="#7f7f7f"/><stop offset="0.4375" stop-color="#838383"/><stop offset="0.4688" stop-color="#858585"/><stop offset="0.5" stop-color="#868686"/><stop offset="0.5312" stop-color="#858585"/><stop offset="0.5625" stop-color="#838383"/><stop offset="0.5938" stop-color="#7f7f7f"/><stop offset="0.625" stop-color="#7a7a7a"/><stop offset="0.6562" stop-color="#747474"/><stop offset="0.6875" stop-color="#6d6d6d"/><stop offset="0.7188" stop-color="#656565"/><stop offset="0.75" stop-color="#5a5a5a"/><stop offset="0.7812" stop-color="#484848"/><stop offset="0.8125" stop-color="#343434"/><stop offset="0.8438" stop-color="#222222"/><stop offset="0.875" stop-color="#141414"/><stop offset="0.9062" stop-color="#0a0a0a"/><stop offset="0.9375" stop-color="#050505"/><stop offset="0.9688" stop-color="#020202"/><stop offset="1" stop-color="#000000"/></linearGradient>
<linearGradient id="m22" x1="0" y1="0" x2="0" y2="1"><stop offset="0" stop-color="#000000"/><stop offset="0.03125" stop-color="#020202"/><stop offset="0.0625" stop-color="#050505"/><stop offset="0.09375" stop-color="#0b0b0b"/><stop offset="0.125" stop-color="#151515"/><stop offset="0.1562" stop-color="#242424"/><stop offset="0.1875" stop-color="#373737"/><stop offset="0.2188" stop-color="#4c4c4c"/><stop offset="0.25" stop-color="#5f5f5f"/><stop offset="0.2812" stop-color="#6a6a6a"/><stop offset="0.3125" stop-color="#727272"/><stop offset="0.3438" stop-color="#7a7a7a"/><stop offset="0.375" stop-color="#808080"/><stop offset="0.4062" stop-color="#858585"/><stop offset="0.4375" stop-color="#898989"/><stop offset="0.4688" stop-color="#8b8b8b"/><stop offset="0.5" stop-color="#8c8c8c"/><stop offset="0.5312" stop-color="#8b8b8b"/><stop offset="0.5625" stop-color="#898989"/><stop offset="0.5938" stop-color="#858585"/><stop offset="0.625" stop-color="#808080"/><stop offset="0.6562" stop-color="#7a7a7a"/><stop offset="0.6875" stop-color="#727272"/><stop offset="0.7188" stop-color="#6a6a6a"/><stop offset="0.75" stop-color="#5f5f5f"/><stop offset="0.7812" stop-color="#4c4c4c"/><stop offset="0.8125" stop-color="#373737"/><stop offset="0.8438" stop-color="#242424"/><stop offset="0.875" stop-color="#151515"/><stop offset="0.9062" stop-color="#0b0b0b"/><stop offset="0.9375" stop-color="#050505"/><stop offset="0.9688" stop-color="#020202"/><stop offset="1" stop-color="#000000"/></linearGradient>
<linearGradient id="m23" x1="0" y1="0" x2="0" y2="1"><stop offset="0" stop-color="#000000"/><stop offset="0.03125" stop-color="#020202"/><stop offset="0.0625" stop-color="#050505"/><stop offset="0.09375" stop-color="#0b0b0b"/><stop offset="0.125" stop-color="#161616"/><stop offset="0.1562" stop-color="#252525"/><stop offset="0.1875" stop-color="#393939"/><stop offset="0.2188" stop-color="#4f4f4f"/><stop offset="0.25" stop-color="#636363"/><stop offset="0.2812" stop-color="#6f6f6f"/><stop offset="0.3125" stop-color="#787878"/><stop offset="0.3438" stop-color="#7f7f7f"/><stop offset="0.375" stop-color="#868686"/><stop offset="0.4062" stop-color="#8b8b8b"/><stop offset="0.4375" stop-color="#8f8f8f"/><stop offset="0.4688" stop-color="#929292"/><stop offset="0.5" stop-color="#939393"/><stop offset="0.5312" stop-color="#929292"/><stop offset="0.5625" stop-color="#8f8f8f"/><stop offset="0.5938" stop-color="#8b8b8b"/><stop offset="0.625" stop-color="#868686"/><stop offset="0.6562" stop-color="#7f7f7f"/><stop offset="0.6875" stop-color="#787878"/><stop offset="0.7188" stop-color="#6f6f6f"/><stop offset="0.75" stop-color="#636363"/><stop offset="0.7812" stop-color="#4f4f4f"/><stop offset="0.8125" stop-color="#393939"/><stop offset="0.8438" stop-color="#252525"/><stop offset="0.875" stop-color="#161616"/><stop offset="0.9062" stop-color="#0b0b0b"/><stop offset="0.9375" stop-color="#050505"/><stop offset="0.9688" stop-color="#020202"/><stop offset="1" stop-color="#000000"/></linearGradient>
<linearGradient id="m24" x1="0" y1="0" x2="0" y2="1"><stop offset="0" stop-color="#000000"/><stop offset="0.03125" stop-color="#020202"/><stop offset="0.0625" stop-color="#060606"/><stop offset="0.09375" stop-color="#0c0c0c"/><stop offset="0.125" stop-color="#171717"/><stop offset="0.1562" stop-color="#272727"/><stop offset="0.1875" stop-color="#3c3c3c"/><stop offset="0.2188" stop-color="#535353"/><stop offset="0.25" stop-color="#676767"/><stop offset="0.2812" stop-color="#747474"/><stop offset="0.3125" stop-color="#7d7d7d"/><stop offset="0.3438" stop-color="#858585"/><stop offset="0.375" stop-color="#8c8c8c"/><stop offset="0.4062" stop-color="#919191"/><stop offset="0.4375" stop-color="#969696"/><stop offset="0.4688" stop-color="#989898"/><stop offset="0.5" stop-color="#999999"/><stop offset="0.5312" stop-color="#989898"/><stop offset="0.5625" stop-color="#969696"/><stop offset="0.5938" stop-color="#919191"/><stop offset="0.625" stop-color="#8c8c8c"/><stop offset="0.6562" stop-color="#858585"/><stop offset="0.6875" stop-color="#7d7d7d"/><stop offset="0.7188" stop-color="#747474"/><stop offset="0.75" stop-color="#676767"/><stop offset="0.7812" stop-color="#535353"/><stop offset="0.8125" stop-color="#3c3c3c"/><stop offset="0.8438" stop-color="#272727"/><stop offset="0.875" stop-color="#171717"/><stop offset="0.9062" stop-color="#0c0c0c"/><stop offset="0.9375" stop-color="#060606"/><stop offset="0.9688" stop-color="#020202"/><stop offset="1" stop-color="#000000"/></linearGradient>
<linearGradient id="m25" x1="0" y1="0" x2="0" y2="1"><stop offset="0" stop-color="#000000"/><stop offset="0.03125" stop-color="#030303"/><stop offset="0.0625" stop-color="#060606"/><stop offset="0.09375" stop-color="#0c0c0c"/><stop offset="0.125" stop-color="#181818"/><stop offset="0.1562" stop-color="#292929"/><stop offset="0.1875" stop-color="#3e3e3e"/><stop offset="0.2188" stop-color="#565656"/><stop offset="0.25" stop-color="#6b6b6b"/><stop offset="0.2812" stop-color="#797979"/><stop offset="0.3125" stop-color="#828282"/><stop offset="0.3438" stop-color="#8a8a8a"/><stop offset="0.375" stop-color="#929292"/><stop offset="0.4062" stop-color="#979797"/><stop offset="0.4375" stop-color="#9c9c9c"/><stop offset="0.4688" stop-color="#9e9e9e"/><stop offset="0.5" stop-color="#9f9f9f"/><stop offset="0.5312" stop-color="#9e9e9e"/><stop offset="0.5625" stop-color="#9c9c9c"/><stop offset="0.5938" stop-color="#979797"/><stop offset="0.625" stop-color="#929292"/><stop offset="0.6562" stop-color="#8a8a8a"/><stop offset="0.6875" stop-color="#828282"/><stop offset="0.7188" stop-color="#797979"/><stop offset="0.75" stop-color="#6b6b6b"/><stop offset="0.7812" stop-color="#565656"/><stop offset="0.8125" stop-color="#3e3e3e"/><stop offset="0.8438" stop-color="#292929"/><stop offset="0.875" stop-color="#181818"/><stop offset="0.9062" stop-color="#0c0c0c"/><stop offset="0.9375" stop-color="#060606"/><stop offset="0.9688" stop-color="#030303"/><stop offset="1" stop-color="#000000"/></linearGradient>
<linearGradient id="m26" x1="0" y1="0" x2="0" y2="1"><stop offset="0" stop-color="#000000"/><stop offset="0.03125" stop-color="#030303"/><stop offset="0.0625" stop-color="#060606"/><stop offset="0.09375" stop-color="#0d0d0d"/><stop offset="0.125" stop-color="#191919"/><stop offset="0.1562" stop-color="#2a2a2a"/><stop offset="0.1875" stop-color="#414141"/><stop offset="0.2188" stop-color="#5a5a5a"/><stop offset="0.25" stop-color="#707070"/><stop offset="0.2812" stop-color="#7d7d7d"/><stop offset="0.3125" stop-color="#878787"/><stop offset="0.3438" stop-color="#909090"/><stop offset="0.375" stop-color="#979797"/><stop offset="0.4062" stop-color="#9d9d9d"/><stop offset="0.4375" stop-color="#a2a2a2"/><stop offset="0.4688" stop-color="#a5a5a5"/><stop offset="0.5" stop-color="#a6a6a6"/><stop offset="0.5312" stop-color="#a5a5a5"/><stop offset="0.5625" stop-color="#a2a2a2"/><stop offset="0.5938" stop-color="#9d9d9d"/><stop offset="0.625" stop-color="#979797"/><stop offset="0.6562" stop-color="#909090"/><stop offset="0.6875" stop-color="#878787"/><stop offset="0.7188" stop-color="#7d7d7d"/><stop offset="0.75" stop-color="#707070"/><stop offset="0.7812" stop-color="#5a5a5a"/><stop offset="0.8125" stop-color="#414141"/><stop offset="0.8438" stop-color="#2a2a2a"/><stop offset="0.875" stop-color="#191919"/><stop offset="0.9062" stop-color="#0d0d0d"/><stop offset="0.9375" stop-color="#060606"/><stop offset="0.9688" stop-color="#030303"/><stop offset="1" stop-color="#000000"/></linearGradient>
<linearGradient id="m27" x1="0" y1="0" x2="0" y2="1"><stop offset="0" stop-color="#000000"/><stop offset="0.03125" stop-color="#030303"/><stop offset="0.0625" stop-color="#060606"/><stop offset="0.09375" stop-color="#0d0d0d"/><stop offset="0.125" stop-color="#1a1a1a"/><stop offset="0.1562" stop-color="#2c2c2c"/><stop offset="0.1875" stop-color="#434343"/><stop offset="0.2188" stop-color="#5d5d5d"/><stop offset="0.25" stop-color="#747474"/><stop offset="0.2812" stop-color="#828282"/><stop offset="0.3125" stop-color="#8c8c8c"/><stop offset="0.3438" stop-color="#959595"/><stop offset="0.375" stop-color="#9d9d9d"/><stop offset="0.4062" stop-color="#a4a4a4"/><stop offset="0.4375" stop-color="#a8a8a8"/><stop offset="0.4688" stop-color="#ababab"/><stop offset="0.5" stop-color="#acacac"/><stop offset="0.5312" stop-color="#ababab"/><stop offset="0.5625" stop-color="#a8a8a8"/><stop offset="0.5938" stop-color="#a4a4a4"/><stop offset="0.625" stop-color="#9d9d9d"/><stop offset="0.6562" stop-color="#959595"/><stop offset="0.6875" stop-color="#8c8c8c"/><stop offset="0.7188" stop-color="#828282"/><stop offset="0.75" stop-color="#747474"/><stop offset="0.7812" stop-color="#5d5d5d"/><stop offset="0.8125" stop-color="#434343"/><stop offset="0.8438" stop-color="#2c2c2c"/><stop offset="0.875" stop-color="#1a1a1a"/><stop offset="0.9062" stop-color="#0d0d0d"/><stop offset="0.9375" stop-color="#060606"/><stop offset="0.9688" stop-color="#030303"/><stop offset="1" stop-color="#000000"/></linearGradient>
<linearGradient id="m28" x1="0" y1="0" x2="0" y2="1"><stop offset="0" stop-color="#000000"/><stop offset="0.03125" stop-color="#030303"/><stop offset="0.0625" stop-color="#070707"/><stop offset="0.09375" stop-color="#0e0e0e"/><stop offset="0.125" stop-color="#1b1b1b"/><stop offset="0.1562" stop-color="#2d2d2d"/><stop offset="0.1875" stop-color="#464646"/><stop offset="0.2188" stop-color="#616161"/><stop offset="0.25" stop-color="#787878"/><stop offset="0.2812" stop-color="#878787"/><stop offset="0.3125" stop-color="#919191"/><stop offset="0.3438" stop-color="#9b9b9b"/><stop offset="0.375" stop-color="#a3a3a3"/><stop offset="0.4062" stop-color="#aaaaaa"/><stop offset="0.4375" stop-color="#aeaeae"/><stop offset="0.4688" stop-color="#b1b1b1"/><stop offset="0.5" stop-color="#b2b2b2"/><stop offset="0.5312" stop-color="#b1b1b1"/><stop offset="0.5625" stop-color="#aeaeae"/><stop offset="0.5938" stop-color="#aaaaaa"/><stop offset="0.625" stop-color="#a3a3a3"/><stop offset="0.6562" stop-color="#9b9b9b"/><stop offset="0.6875" stop-color="#919191"/><stop offset="0.7188" stop-color="#878787"/><stop offset="0.75" stop-color="#787878"/><stop offset="0.7812" stop-color="#616161"/><stop offset="0.8125" stop-color="#464646"/><stop offset="0.8438" stop-color="#2d2d2d"/><stop offset="0.875" stop-color="#1b1b1b"/><stop offset="0.9062" stop-color="#0e0e0e"/><stop offset="0.9375" stop-color="#070707"/><stop offset="0.9688" stop-color="#030303"/><stop offset="1" stop-color="#000000"/></linearGradient>
<linearGradient id="m29" x1="0" y1="0" x2="0" y2="1"><stop offset="0" stop-color="#000000"/><stop offset="0.03125" stop-color="#030303"/><stop offset="0.0625" stop-color="#070707"/><stop offset="0.09375" stop-color="#0e0e0e"/><stop offset="0.125" stop-color="#1b1b1b"/><stop offset="0.1562" stop-color="#2f2f2f"/><stop offset="0.1875" stop-color="#484848"/><stop offset="0.2188" stop-color="#646464"/><stop offset="0.25" stop-color="#7d7d7d"/><stop offset="0.2812" stop-color="#8c8c8c"/><stop offset="0.3125" stop-color="#979797"/><stop offset="0.3438" stop-color="#a0a0a0"/><stop offset="0.375" stop-color="#a9a9a9"/><stop offset="0.4062" stop-color="#b0b0b0"/><stop offset="0.4375" stop-color="#b5b5b5"/><stop offset="0.4688" stop-color="#b8b8b8"/><stop offset="0.5" stop-color="#b9b9b9"/><stop offset="0.5312" stop-color="#b8b8b8"/><stop offset="0.5625" stop-color="#b5b5b5"/><stop offset="0.5938" stop-color="#b0b0b0"/><stop offset="0.625" stop-color="#a9a9a9"/><stop offset="0.6562" stop-color="#a0a0a0"/><stop offset="0.6875" stop-color="#979797"/><stop offset="0.7188" stop-color="#8c8c8c"/><stop offset="0.75" stop-color="#7d7d7d"/><stop offset="0.7812" stop-color="#646464"/><stop offset="0.8125" stop-color="#484848"/><stop offset="0.8438" stop-color="#2f2f2f"/><stop offset="0.875" stop-color="#1b1b1b"/><stop offset="0.9062" stop-color="#0e0e0e"/><stop offset="0.9375" stop-color="#070707"/><stop offset="0.9688" stop-color="#030303"/><stop offset="1" stop-color="#000000"/></linearGradient>
<linearGradient id="m30" x1="0" y1="0" x2="0" y2="1"><stop offset="0" stop-color="#000000"/><stop offset="0.03125" stop-color="#030303"/><stop offset="0.0625" stop-color="#070707"/><stop offset="0.09375" stop-color="#0f0f0f"/><stop offset="0.125" stop-color="#1c1c1c"/><stop offset="0.1562" stop-color="#313131"/><stop offset="0.1875" stop-color="#4b4b4b"/><stop offset="0.2188" stop-color="#686868"/><stop offset="0.25" stop-color="#818181"/><stop offset="0.2812" stop-color="#919191"/><stop offset="0.3125" stop-color="#9c9c9c"/><stop offset="0.3438" stop-color="#a6a6a6"/><stop offset="0.375" stop-color="#afafaf"/><stop offset="0.4062" stop-color="#b6b6b6"/><stop offset="0.4375" stop-color="#bbbbbb"/><stop offset="0.4688" stop-color="#bebebe"/><stop offset="0.5" stop-color="#bfbfbf"/><stop offset="0.5312" stop-color="#bebebe"/><stop offset="0.5625" stop-color="#bbbbbb"/><stop offset="0.5938" stop-color="#b6b6b6"/><stop offset="0.625" stop-color="#afafaf"/><stop offset="0.6562" stop-color="#a6a6a6"/><stop offset="0.6875" stop-color="#9c9c9c"/><stop offset="0.7188" stop-color="#919191"/><stop offset="0.75" stop-color="#818181"/><stop offset="0.7812" stop-color="#686868"/><stop offset="0.8125" stop-color="#4b4b4b"/><stop offset="0.8438" stop-color="#313131"/><stop offset="0.875" stop-color="#1c1c1c"/><stop offset="0.9062" stop-color="#0f0f0f"/><stop offset="0.9375" stop-color="#070707"/><stop offset="0.9688" stop-color="#030303"/><stop offset="1" stop-color="#000000"/></linearGradient>
<linearGradient id="m31" x1="0" y1="0" x2="0" y2="1"><stop offset="0" stop-color="#000000"/><stop offset="0.03125" stop-color="#030303"/><stop offset="0.0625" stop-color="#070707"/><stop offset="0.09375" stop-color="#0f0f0f"/><stop offset="0.125" stop-color="#1d1d1d"/><stop offset="0.1562" stop-color="#323232"/><stop offset="0.1875" stop-color="#4d4d4d"/><stop offset="0.2188" stop-color="#6b6b6b"/><stop offset="0.25" stop-color="#858585"/><stop offset="0.2812" stop-color="#969696"/><stop offset="0.3125" stop-color="#a1a1a1"/><stop offset="0.3438" stop-color="#ababab"/><stop offset="0.375" stop-color="#b4b4b4"/><stop offset="0.4062" stop-color="#bcbcbc"/><stop offset="0.4375" stop-color="#c1c1c1"/><stop offset="0.4688" stop-color="#c5c5c5"/><stop offset="0.5" stop-color="#c6c6c6"/><stop offset="0.5312" stop-color="#c5c5c5"/><stop offset="0.5625" stop-color="#c1c1c1"/><stop offset="0.5938" stop-color="#bcbcbc"/><stop offset="0.625" stop-color="#b4b4b4"/><stop offset="0.6562" stop-color="#ababab"/><stop offset="0.6875" stop-color="#a1a1a1"/><stop offset="0.7188" stop-color="#969696"/><stop offset="0.75" stop-color="#858585"/><stop offset="0.7812" stop-color="#6b6b6b"/><stop offset="0.8125" stop-color="#4d4d4d"/><stop offset="0.8438" stop-color="#323232"/><stop offset="0.875" stop-color="#1d1d1d"/><stop offset="0.9062" stop-color="#0f0f0f"/><stop offset="0.9375" stop-color="#070707"/><stop offset="0.9688" stop-color="#030303"/><stop offset="1" stop-color="#000000"/></linearGradient>
<linearGradient id="m32" x1="0" y1="0" x2="0" y2="1"><stop offset="0" stop-color="#000000"/><stop offset="0.03125" stop-color="#030303"/><stop offset="0.0625" stop-color="#080808"/><stop offset="0.09375" stop-color="#101010"/><stop offset="0.125" stop-color="#1e1e1e"/><stop offset="0.1562" stop-color="#343434"/><stop offset="0.1875" stop-color="#505050"/><stop offset="0.2188" stop-color="#6e6e6e"/><stop offset="0.25" stop-color="#8a8a8a"/><stop offset="0.2812" stop-color="#9a9a9a"/><stop offset="0.3125" stop-color="#a6a6a6"/><stop offset="0.3438" stop-color="#b1b1b1"/><stop offset="0.375" stop-color="#bababa"/><stop offset="0.4062" stop-color="#c2c2c2"/><stop offset="0.4375" stop-color="#c7c7c7"/><stop offset="0.4688" stop-color="#cbcbcb"/><stop offset="0.5" stop-color="#cccccc"/><stop offset="0.5312" stop-color="#cbcbcb"/><stop offset="0.5625" stop-color="#c7c7c7"/><stop offset="0.5938" stop-color="#c2c2c2"/><stop offset="0.625" stop-color="#bababa"/><stop offset="0.6562" stop-color="#b1b1b1"/><stop offset="0.6875" stop-color="#a6a6a6"/><stop offset="0.7188" stop-color="#9a9a9a"/><stop offset="0.75" stop-color="#8a8a8a"/><stop offset="0.7812" stop-color="#6e6e6e"/><stop offset="0.8125" stop-color="#505050"/><stop offset="0.8438" stop-color="#343434"/><stop offset="0.875" stop-color="#1e1e1e"/><stop offset="0.9062" stop-color="#101010"/><stop offset="0.9375" stop-color="#080808"/><stop offset="0.9688" stop-color="#030303"/><stop offset="1" stop-color="#000000"/></linearGradient>
<linearGradient id="m33" x1="0" y1="0" x2="0" y2="1"><stop offset="0" stop-color="#000000"/><stop offset="0.03125" stop-color="#030303"/><stop offset="0.0625" stop-color="#080808"/><stop offset="0.09375" stop-color="#101010"/><stop offset="0.125" stop-color="#1f1f1f"/><stop offset="0.1562" stop-color="#353535"/><stop offset="0.1875" stop-color="#525252"/><stop offset="0.2188" stop-color="#727272"/><stop offset="0.25" stop-color="#8e8e8e"/><stop offset="0.2812" stop-color="#9f9f9f"/><stop offset="0.3125" stop-color="#ababab"/><stop offset="0.3438" stop-color="#b7b7b7"/><stop offset="0.375" stop-color="#c0c0c0"/><stop offset="0.4062" stop-color="#c8c8c8"/><stop offset="0.4375" stop-color="#cecece"/><stop offset="0.4688" stop-color="#d1d1d1"/><stop offset="0.5" stop-color="#d2d2d2"/><stop offset="0.5312" stop-color="#d1d1d1"/><stop offset="0.5625" stop-color="#cecece"/><stop offset="0.5938" stop-color="#c8c8c8"/><stop offset="0.625" stop-color="#c0c0c0"/><stop offset="0.6562" stop-color="#b7b7b7"/><stop offset="0.6875" stop-color="#ababab"/><stop offset="0.7188" stop-color="#9f9f9f"/><stop offset="0.75" stop-color="#8e8e8e"/><stop offset="0.7812" stop-color="#727272"/><stop offset="0.8125" stop-color="#525252"/><stop offset="0.8438" stop-color="#353535"/><stop offset="0.875" stop-color="#1f1f1f"/><stop offset="0.9062" stop-color="#101010"/><stop offset="0.9375" stop-color="#080808"/><stop offset="0.9688" stop-color="#030303"/><stop offset="1" stop-color="#000000"/></linearGradient>
<linearGradient id="m34" x1="0" y1="0" x2="0" y2="1"><stop offset="0" stop-color="#000000"/><stop offset="0.03125" stop-color="#030303"/><stop offset="0.0625" stop-color="#080808"/><stop offset="0.09375" stop-color="#111111"/><stop offset="0.125" stop-color="#202020"/><stop offset="0.1562" stop-color="#373737"/><stop offset="0.1875" stop-color="#555555"/><stop offset="0.2188" stop-color="#757575"/><stop offset="0.25" stop-color="#929292"/><stop offset="0.2812" stop-color="#a4a4a4"/><stop offset="0.3125" stop-color="#b1b1b1"/><stop offset="0.3438" stop-color="#bcbcbc"/><stop offset="0.375" stop-color="#c6c6c6"/><stop offset="0.4062" stop-color="#cecece"/><stop offset="0.4375" stop-color="#d4d4d4"/><stop offset="0.4688" stop-color="#d8d8d8"/><stop offset="0.5" stop-color="#d9d9d9"/><stop offset="0.5312" stop-color="#d8d8d8"/><stop offset="0.5625" stop-color="#d4d4d4"/><stop offset="0.5938" stop-color="#cecece"/><stop offset="0.625" stop-color="#c6c6c6"/><stop offset="0.6562" stop-color="#bcbcbc"/><stop offset="0.6875" stop-color="#b1b1b1"/><stop offset="0.7188" stop-color="#a4a4a4"/><stop offset="0.75" stop-color="#929292"/><stop offset="0.7812" stop-color="#757575"/><stop offset="0.8125" stop-color="#555555"/><stop offset="0.8438" stop-color="#373737"/><stop offset="0.875" stop-color="#202020"/><stop offset="0.9062" stop-color="#111111"/><stop offset="0.9375" stop-color="#080808"/><stop offset="0.9688" stop-color="#030303"/><stop offset="1" stop-color="#000000"/></linearGradient>
<linearGradient id="m35" x1="0" y1="0" x2="0" y2="1"><stop offset="0" stop-color="#000000"/><stop offset="0.03125" stop-color="#040404"/><stop offset="0.0625" stop-color="#080808"/><stop offset="0.09375" stop-color="#111111"/><stop offset="0.125" stop-color="#212121"/><stop offset="0.1562" stop-color="#393939"/><stop offset="0.1875" stop-color="#575757"/><stop offset="0.2188" stop-color="#797979"/><stop offset="0.25" stop-color="#969696"/><stop offset="0.2812" stop-color="#a9a9a9"/><stop offset="0.3125" stop-color="#b6b6b6"/><stop offset="0.3438" stop-color="#c2c2c2"/><stop offset="0.375" stop-color="#cccccc"/><stop offset="0.4062" stop-color="#d4d4d4"/><stop offset="0.4375" stop-color="#dadada"/><stop offset="0.4688" stop-color="#dedede"/><stop offset="0.5" stop-color="#dfdfdf"/><stop offset="0.5312" stop-color="#dedede"/><stop offset="0.5625" stop-color="#dadada"/><stop offset="0.5938" stop-color="#d4d4d4"/><stop offset="0.625" stop-color="#cccccc"/><stop offset="0.6562" stop-color="#c2c2c2"/><stop offset="0.6875" stop-color="#b6b6b6"/><stop offset="0.7188" stop-color="#a9a9a9"/><stop offset="0.75" stop-color="#969696"/><stop offset="0.7812" stop-color="#797979"/><stop offset="0.8125" stop-color="#575757"/><stop offset="0.8438" stop-color="#393939"/><stop offset="0.875" stop-color="#212121"/><stop offset="0.9062" stop-color="#111111"/><stop offset="0.9375" stop-color="#080808"/><stop offset="0.9688" stop-color="#040404"/><stop offset="1" stop-color="#000000"/></linearGradient>
<linearGradient id="m36" x1="0" y1="0" x2="0" y2="1"><stop offset="0" stop-color="#000000"/><stop offset="0.03125" stop-color="#040404"/><stop offset="0.0625" stop-color="#080808"/><stop offset="0.09375" stop-color="#121212"/><stop offset="0.125" stop-color="#222222"/><stop offset="0.1562" stop-color="#3a3a3a"/><stop offset="0.1875" stop-color="#5a5a5a"/><stop offset="0.2188" stop-color="#7c7c7c"/><stop offset="0.25" stop-color="#9b9b9b"/><stop offset="0.2812" stop-color="#aeaeae"/><stop offset="0.3125" stop-color="#bbbbbb"/><stop offset="0.3438" stop-color="#c7c7c7"/><stop offset="0.375" stop-color="#d2d2d2"/><stop offset="0.4062" stop-color="#dadada"/><stop offset="0.4375" stop-color="#e0e0e0"/><stop offset="0.4688" stop-color="#e4e4e4"/><stop offset="0.5" stop-color="#e6e6e6"/><stop offset="0.5312" stop-color="#e4e4e4"/><stop offset="0.5625" stop-color="#e0e0e0"/><stop offset="0.5938" stop-color="#dadada"/><stop offset="0.625" stop-color="#d2d2d2"/><stop offset="0.6562" stop-color="#c7c7c7"/><stop offset="0.6875" stop-color="#bbbbbb"/><stop offset="0.7188" stop-color="#aeaeae"/><stop offset="0.75" stop-color="#9b9b9b"/><stop offset="0.7812" stop-color="#7c7c7c"/><stop offset="0.8125" stop-color="#5a5a5a"/><stop offset="0.8438" stop-color="#3a3a3a"/><stop offset="0.875" stop-color="#222222"/><stop offset="0.9062" stop-color="#121212"/><stop offset="0.9375" stop-color="#080808"/><stop offset="0.9688" stop-color="#040404"/><stop offset="1" stop-color="#000000"/></linearGradient>
<linearGradient id="m37" x1="0" y1="0" x2="0" y2="1"><stop offset="0" stop-color="#000000"/><stop offset="0.03125" stop-color="#040404"/><stop offset="0.0625" stop-color="#090909"/><stop offset="0.09375" stop-color="#121212"/><stop offset="0.125" stop-color="#232323"/><stop offset="0.1562" stop-color="#3c3c3c"/><stop offset="0.1875" stop-color="#5c5c5c"/><stop offset="0.2188" stop-color="#808080"/><stop offset="0.25" stop-color="#9f9f9f"/><stop offset="0.2812" stop-color="#b3b3b3"/><stop offset="0.3125" stop-color="#c0c0c0"/><stop offset="0.3438" stop-color="#cdcdcd"/><stop offset="0.375" stop-color="#d7d7d7"/><stop offset="0.4062" stop-color="#e0e0e0"/><stop offset="0.4375" stop-color="#e7e7e7"/><stop offset="0.4688" stop-color="#ebebeb"/><stop offset="0.5" stop-color="#ececec"/><stop offset="0.5312" stop-color="#ebebeb"/><stop offset="0.5625" stop-color="#e7e7e7"/><stop offset="0.5938" stop-color="#e0e0e0"/><stop offset="0.625" stop-color="#d7d7d7"/><stop offset="0.6562" stop-color="#cdcdcd"/><stop offset="0.6875" stop-color="#c0c0c0"/><stop offset="0.7188" stop-color="#b3b3b3"/><stop offset="0.75" stop-color="#9f9f9f"/><stop offset="0.7812" stop-color="#808080"/><stop offset="0.8125" stop-color="#5c5c5c"/><stop offset="0.8438" stop-color="#3c3c3c"/><stop offset="0.875" stop-color="#232323"/><stop offset="0.9062" stop-color="#121212"/><stop offset="0.9375" stop-color="#090909"/><stop offset="0.9688" stop-color="#040404"/><stop offset="1" stop-color="#000000"/></linearGradient>
<linearGradient id="m38" x1="0" y1="0" x2="0" y2="1"><stop offset="0" stop-color="#000000"/><stop offset="0.03125" stop-color="#040404"/><stop offset="0.0625" stop-color="#090909"/><stop offset="0.09375" stop-color="#131313"/><stop offset="0.125" stop-color="#242424"/><stop offset="0.1562" stop-color="#3e3e3e"/><stop offset="0.1875" stop-color="#5f5f5f"/><stop offset="0.2188" stop-color="#838383"/><stop offset="0.25" stop-color="#a3a3a3"/><stop offset="0.2812" stop-color="#b7b7b7"/><stop offset="0.3125" stop-color="#c5c5c5"/><stop offset="0.3438" stop-color="#d2d2d2"/><stop offset="0.375" stop-color="#dddddd"/><stop offset="0.4062" stop-color="#e6e6e6"/><stop offset="0.4375" stop-color="#ededed"/><stop offset="0.4688" stop-color="#f1f1f1"/><stop offset="0.5" stop-color="#f2f2f2"/><stop offset="0.5312" stop-color="#f1f1f1"/><stop offset="0.5625" stop-color="#ededed"/><stop offset="0.5938" stop-color="#e6e6e6"/><stop offset="0.625" stop-color="#dddddd"/><stop offset="0.6562" stop-color="#d2d2d2"/><stop offset="0.6875" stop-color="#c5c5c5"/><stop offset="0.7188" stop-color="#b7b7b7"/><stop offset="0.75" stop-color="#a3a3a3"/><stop offset="0.7812" stop-color="#838383"/><stop offset="0.8125" stop-color="#5f5f5f"/><stop offset="0.8438" stop-color="#3e3e3e"/><stop offset="0.875" stop-color="#242424"/><stop offset="0.9062" stop-color="#131313"/><stop offset="0.9375" stop-color="#090909"/><stop offset="0.9688" stop-color="#040404"/><stop offset="1" stop-color="#000000"/></linearGradient>
<linearGradient id="m39" x1="0" y1="0" x2="0" y2="1"><stop offset="0" stop-color="#000000"/><stop offset="0.03125" stop-color="#040404"/><stop offset="0.0625" stop-color="#090909"/><stop offset="0.09375" stop-color="#131313"/><stop offset="0.125" stop-color="#252525"/><stop offset="0.1562" stop-color="#3f3f3f"/><stop offset="0.1875" stop-color="#616161"/><stop offset="0.2188" stop-color="#878787"/><stop offset="0.25" stop-color="#a8a8a8"/><stop offset="0.2812" stop-color="#bcbcbc"/><stop offset="0.3125" stop-color="#cbcbcb"/><stop offset="0.3438" stop-color="#d8d8d8"/><stop offset="0.375" stop-color="#e3e3e3"/><stop offset="0.4062" stop-color="#ececec"/><stop offset="0.4375" stop-color="#f3f3f3"/><stop offset="0.4688" stop-color="#f7f7f7"/><stop offset="0.5" stop-color="#f9f9f9"/><stop offset="0.5312" stop-color="#f7f7f7"/><stop offset="0.5625" stop-color="#f3f3f3"/><stop offset="0.5938" stop-color="#ececec"/><stop offset="0.625" stop-color="#e3e3e3"/><stop offset="0.6562" stop-color="#d8d8d8"/><stop offset="0.6875" stop-color="#cbcbcb"/><stop offset="0.7188" stop-color="#bcbcbc"/><stop offset="0.75" stop-color="#a8a8a8"/><stop offset="0.7812" stop-color="#878787"/><stop offset="0.8125" stop-color="#616161"/><stop offset="0.8438" stop-color="#3f3f3f"/><stop offset="0.875" stop-color="#252525"/><stop offset="0.9062" stop-color="#131313"/><stop offset="0.9375" stop-color="#090909"/><stop offset="0.9688" stop-color="#040404"/><stop offset="1" stop-color="#000000"/></linearGradient>
<linearGradient id="m40" x1="0" y1="0" x2="0" y2="1"><stop offset="0" stop-color="#000000"/><stop offset="0.03125" stop-color="#040404"/><stop offset="0.0625" stop-color="#090909"/><stop offset="0.09375" stop-color="#141414"/><stop offset="0.125" stop-color="#262626"/><stop offset="0.1562" stop-color="#414141"/><stop offset="0.1875" stop-color="#646464"/><stop offset="0.2188" stop-color="#8a8a8a"/><stop offset="0.25" stop-color="#acacac"/><stop offset="0.2812" stop-color="#c1c1c1"/><stop offset="0.3125" stop-color="#d0d0d0"/><stop offset="0.3438" stop-color="#dddddd"/><stop offset="0.375" stop-color="#e9e9e9"/><stop offset="0.4062" stop-color="#f2f2f2"/><stop offset="0.4375" stop-color="#f9f9f9"/><stop offset="0.4688" stop-color="#fefefe"/><stop offset="0.5" stop-color="#ffffff"/><stop offset="0.5312" stop-color="#fefefe"/><stop offset="0.5625" stop-color="#f9f9f9"/><stop offset="0.5938" stop-color="#f2f2f2"/><stop offset="0.625" stop-color="#e9e9e9"/><stop offset="0.6562" stop-color="#dddddd"/><stop offset="0.6875" stop-color="#d0d0d0"/><stop offset="0.7188" stop-color="#c1c1c1"/><stop offset="0.75" stop-color="#acacac"/><stop offset="0.7812" stop-color="#8a8a8a"/><stop offset="0.8125" stop-color="#646464"/><stop offset="0.8438" stop-color="#414141"/><stop offset="0.875" stop-color="#262626"/><stop offset="0.9062" stop-color="#141414"/><stop offset="0.9375" stop-color="#090909"/><stop offset="0.9688" stop-color="#040404"/><stop offset="1" stop-color="#000000"/></linearGradient>
<linearGradient id="m41" x1="0" y1="0" x2="0" y2="1"><stop offset="0" stop-color="#000000"/><stop offset="0.03125" stop-color="#040404"/><stop offset="0.0625" stop-color="#0a0a0a"/><stop offset="0.09375" stop-color="#141414"/><stop offset="0.125" stop-color="#272727"/><stop offset="0.1562" stop-color="#424242"/><stop offset="0.1875" stop-color="#666666"/><stop offset="0.2188" stop-color="#8e8e8e"/><stop offset="0.25" stop-color="#b0b0b0"/><stop offset="0.2812" stop-color="#c6c6c6"/><stop offset="0.3125" stop-color="#d5d5d5"/><stop offset="0.3438" stop-color="#e3e3e3"/><stop offset="0.375" stop-color="#efefef"/><stop offset="0.4062" stop-color="#f8f8f8"/><stop offset="0.4375" stop-color="#ffffff"/><stop offset="0.4688" stop-color="#ffffff"/><stop offset="0.5" stop-color="#ffffff"/><stop offset="0.5312" stop-color="#ffffff"/><stop offset="0.5625" stop-color="#ffffff"/><stop offset="0.5938" stop-color="#f8f8f8"/><stop offset="0.625" stop-color="#efefef"/><stop offset="0.6562" stop-color="#e3e3e3"/><stop offset="0.6875" stop-color="#d5d5d5"/><stop offset="0.7188" stop-color="#c6c6c6"/><stop offset="0.75" stop-color="#b0b0b0"/><stop offset="0.7812" stop-color="#8e8e8e"/><stop offset="0.8125" stop-color="#666666"/><stop offset="0.8438" stop-color="#424242"/><stop offset="0.875" stop-color="#272727"/><stop offset="0.9062" stop-color="#141414"/><stop offset="0.9375" stop-color="#0a0a0a"/><stop offset="0.9688" stop-color="#040404"/><stop offset="1" stop-color="#000000"/></linearGradient>
<radialGradient id="hg"><stop offset="0" stop-color="#000"/><stop offset=".3" stop-color="#000" stop-opacity=".8"/><stop offset=".6" stop-color="#000" stop-opacity=".35"/><stop offset="1" stop-color="#000" stop-opacity="0"/></radialGradient>
<linearGradient id="base" gradientUnits="userSpaceOnUse" x1="36" y1="0" x2="160" y2="0"><stop offset="0" stop-color="#1b1b1b"/><stop offset=".7" stop-color="#1b1b1b"/><stop offset=".85" stop-color="#141414"/><stop offset="1" stop-color="#000"/></linearGradient>
<filter id="cma" filterUnits="userSpaceOnUse" x="36" y="28" width="160" height="244" color-interpolation-filters="sRGB">
<feComponentTransfer><feFuncR type="table" tableValues="1 1 1 1 1 1 1 1 1 1 1 1 1 1 1 1 1 1 1 0.933 0.933 0.933 0.933 0.933 0.933 0.933 0.933 0.933 0.933 0.933 0.933 0.933 0.863 0.863 0.863 0.863 0.863 0.863 0.863 0.784 0.784 0.784 0.784 0.784 0.784 0.784 0.686 0.686 0.686 0.686 0.686 0.588 0.588 0.588 0.588 0.588 0.498 0.49 0.482 0.475 0.467 0.455 0.447 0.439 0.431 0.42 0.412 0.4 0.392 0.384 0.373 0.361 0.353 0.341 0.333 0.322 0.31 0.298 0.29 0.278 0.267 0.255 0.243 0.231 0.22 0.208 0.196 0.184 0.173 0.157 0.145 0.133 0.122 0.106 0.094 0.078 0.067 0.063 0.063 0.063 0.063 0.063 0.063 0.063 0.063 0.063 0.063 0.063 0.063 0.063 0.063 0.063 0.063 0.063 0.063 0.063 0.063 0.063 0.063 0.063 0.063 0.063 0.063 0.063 0.063 0.063 0.063 0.063 0.063 0.063 0.063 0.063 0.063 0.063 0.063 0.063 0.063 0.063 0.063 0.063 0.063 0.063 0.063 0.063 0.063 0.063 0.063 0.063 0.063 0.063 0.063 0.063 0.063 0.063 0.063 0.063 0.063 0.063 0.063 0.063 0.063 0.063 0.063 0.063 0.063 0.063 0.063 0.063 0.063 0.063 0.063 0.063 0.063 0.063 0.063 0.063 0.063 0.063 0.063 0.063 0.063 0.063 0.063 0.063 0.063 0.078 0.102 0.129 0.157 0.184 0.208 0.235 0.263 0.29 0.318 0.345 0.373 0.4 0.431 0.459 0.486 0.514 0.545 0.573 0.6 0.631 0.659 0.69 0.718 0.749 0.776 0.808 0.835 0.867 0.898 0.929 0.941 0.941 0.941 0.941 0.941 0.941 0.941 0.941 0.941 0.941 0.941 0.941 0.941 0.941 0.941 0.941 0.941 0.941 0.941 0.941 0.941 0.941 0.941 0.941 0.941 0.941 0.941 0.941 0.941 0.941 0.941 0.941 0.941 0.941 0.941 0.941 0.941 0.941 0.941 0.941"/><feFuncG type="table" tableValues="1 1 1 1 1 1 1 1 1 1 1 1 1 1 1 1 1 1 1 0.863 0.863 0.863 0.863 0.863 0.863 0.863 0.863 0.863 0.863 0.863 0.863 0.863 0.725 0.725 0.725 0.725 0.725 0.725 0.725 0.588 0.588 0.588 0.588 0.588 0.588 0.588 0.392 0.392 0.392 0.392 0.392 0.235 0.235 0.235 0.235 0.235 0.063 0.063 0.063 0.063 0.063 0.063 0.063 0.063 0.063 0.063 0.063 0.063 0.063 0.063 0.063 0.063 0.063 0.063 0.063 0.063 0.063 0.063 0.063 0.063 0.063 0.063 0.063 0.063 0.063 0.063 0.063 0.063 0.063 0.063 0.063 0.063 0.063 0.063 0.063 0.063 0.063 0.075 0.086 0.102 0.114 0.129 0.145 0.157 0.173 0.188 0.204 0.22 0.231 0.247 0.263 0.278 0.294 0.31 0.325 0.345 0.361 0.376 0.392 0.412 0.427 0.443 0.463 0.478 0.498 0.514 0.533 0.549 0.569 0.584 0.604 0.624 0.643 0.659 0.678 0.698 0.718 0.737 0.757 0.776 0.796 0.816 0.835 0.855 0.878 0.898 0.918 0.937 0.941 0.941 0.941 0.941 0.941 0.941 0.941 0.941 0.941 0.941 0.941 0.941 0.941 0.941 0.941 0.941 0.941 0.941 0.941 0.941 0.941 0.941 0.941 0.941 0.941 0.941 0.941 0.941 0.941 0.941 0.941 0.941 0.941 0.941 0.941 0.941 0.941 0.941 0.941 0.941 0.941 0.941 0.941 0.941 0.941 0.941 0.941 0.941 0.941 0.941 0.941 0.941 0.941 0.941 0.941 0.941 0.941 0.941 0.941 0.941 0.941 0.941 0.941 0.941 0.941 0.941 0.941 0.941 0.925 0.894 0.863 0.831 0.8 0.769 0.737 0.706 0.675 0.643 0.612 0.576 0.545 0.514 0.482 0.447 0.416 0.38 0.349 0.318 0.282 0.247 0.216 0.18 0.149 0.114 0.078 0.063 0.063 0.063 0.063 0.063 0.063 0.063 0.063 0.063 0.063 0.063 0.063 0.063"/><feFuncB type="table" tableValues="1 1 1 1 1 1 1 1 1 1 1 1 1 1 1 1 1 1 1 0.992 0.992 0.992 0.992 0.992 0.992 0.992 0.992 0.992 0.992 0.992 0.992 0.992 0.98 0.98 0.98 0.98 0.98 0.98 0.98 0.973 0.973 0.973 0.973 0.973 0.973 0.973 0.961 0.961 0.961 0.961 0.961 0.941 0.941 0.941 0.941 0.941 0.941 0.941 0.941 0.941 0.941 0.941 0.941 0.941 0.941 0.941 0.941 0.941 0.941 0.941 0.941 0.941 0.941 0.941 0.941 0.941 0.941 0.941 0.941 0.941 0.941 0.941 0.941 0.941 0.941 0.941 0.941 0.941 0.941 0.941 0.941 0.941 0.941 0.941 0.941 0.941 0.941 0.941 0.941 0.941 0.941 0.941 0.941 0.941 0.941 0.941 0.941 0.941 0.941 0.941 0.941 0.941 0.941 0.941 0.941 0.941 0.941 0.941 0.941 0.941 0.941 0.941 0.941 0.941 0.941 0.941 0.941 0.941 0.941 0.941 0.941 0.941 0.941 0.941 0.941 0.941 0.941 0.941 0.941 0.941 0.941 0.941 0.941 0.941 0.941 0.941 0.941 0.941 0.922 0.902 0.882 0.859 0.839 0.816 0.796 0.773 0.749 0.729 0.706 0.682 0.663 0.639 0.616 0.592 0.569 0.545 0.522 0.498 0.475 0.451 0.427 0.404 0.376 0.353 0.329 0.306 0.278 0.255 0.227 0.204 0.176 0.153 0.125 0.102 0.075 0.063 0.063 0.063 0.063 0.063 0.063 0.063 0.063 0.063 0.063 0.063 0.063 0.063 0.063 0.063 0.063 0.063 0.063 0.063 0.063 0.063 0.063 0.063 0.063 0.063 0.063 0.063 0.063 0.063 0.063 0.063 0.063 0.063 0.063 0.063 0.063 0.063 0.063 0.063 0.063 0.063 0.063 0.063 0.063 0.063 0.063 0.063 0.063 0.063 0.063 0.063 0.063 0.063 0.063 0.063 0.063 0.063 0.063 0.082 0.114 0.149 0.184 0.22 0.255 0.29 0.325 0.361 0.396 0.431 0.471 0.506"/></feComponentTransfer>
<feConvolveMatrix order="3" preserveAlpha="true" edgeMode="duplicate" kernelMatrix="0.0468 0.1227 0.0468 0.1227 0.3220 0.1227 0.0468 0.1227 0.0468"/>
</filter>
<filter id="cmb" filterUnits="userSpaceOnUse" x="120" y="28" width="557" height="244" color-interpolation-filters="sRGB">
<feComponentTransfer><feFuncR type="table" tableValues="1 1 1 1 1 1 1 1 1 1 1 1 1 1 1 1 1 1 1 0.933 0.933 0.933 0.933 0.933 0.933 0.933 0.933 0.933 0.933 0.933 0.933 0.933 0.863 0.863 0.863 0.863 0.863 0.863 0.863 0.784 0.784 0.784 0.784 0.784 0.784 0.784 0.686 0.686 0.686 0.686 0.686 0.588 0.588 0.588 0.588 0.588 0.498 0.49 0.482 0.475 0.467 0.455 0.447 0.439 0.431 0.42 0.412 0.4 0.392 0.384 0.373 0.361 0.353 0.341 0.333 0.322 0.31 0.298 0.29 0.278 0.267 0.255 0.243 0.231 0.22 0.208 0.196 0.184 0.173 0.157 0.145 0.133 0.122 0.106 0.094 0.078 0.067 0.063 0.063 0.063 0.063 0.063 0.063 0.063 0.063 0.063 0.063 0.063 0.063 0.063 0.063 0.063 0.063 0.063 0.063 0.063 0.063 0.063 0.063 0.063 0.063 0.063 0.063 0.063 0.063 0.063 0.063 0.063 0.063 0.063 0.063 0.063 0.063 0.063 0.063 0.063 0.063 0.063 0.063 0.063 0.063 0.063 0.063 0.063 0.063 0.063 0.063 0.063 0.063 0.063 0.063 0.063 0.063 0.063 0.063 0.063 0.063 0.063 0.063 0.063 0.063 0.063 0.063 0.063 0.063 0.063 0.063 0.063 0.063 0.063 0.063 0.063 0.063 0.063 0.063 0.063 0.063 0.063 0.063 0.063 0.063 0.063 0.063 0.063 0.063 0.078 0.102 0.129 0.157 0.184 0.208 0.235 0.263 0.29 0.318 0.345 0.373 0.4 0.431 0.459 0.486 0.514 0.545 0.573 0.6 0.631 0.659 0.69 0.718 0.749 0.776 0.808 0.835 0.867 0.898 0.929 0.941 0.941 0.941 0.941 0.941 0.941 0.941 0.941 0.941 0.941 0.941 0.941 0.941 0.941 0.941 0.941 0.941 0.941 0.941 0.941 0.941 0.941 0.941 0.941 0.941 0.941 0.941 0.941 0.941 0.941 0.941 0.941 0.941 0.941 0.941 0.941 0.941 0.941 0.941 0.941"/><feFuncG type="table" tableValues="1 1 1 1 1 1 1 1 1 1 1 1 1 1 1 1 1 1 1 0.863 0.863 0.863 0.863 0.863 0.863 0.863 0.863 0.863 0.863 0.863 0.863 0.863 0.725 0.725 0.725 0.725 0.725 0.725 0.725 0.588 0.588 0.588 0.588 0.588 0.588 0.588 0.392 0.392 0.392 0.392 0.392 0.235 0.235 0.235 0.235 0.235 0.063 0.063 0.063 0.063 0.063 0.063 0.063 0.063 0.063 0.063 0.063 0.063 0.063 0.063 0.063 0.063 0.063 0.063 0.063 0.063 0.063 0.063 0.063 0.063 0.063 0.063 0.063 0.063 0.063 0.063 0.063 0.063 0.063 0.063 0.063 0.063 0.063 0.063 0.063 0.063 0.063 0.075 0.086 0.102 0.114 0.129 0.145 0.157 0.173 0.188 0.204 0.22 0.231 0.247 0.263 0.278 0.294 0.31 0.325 0.345 0.361 0.376 0.392 0.412 0.427 0.443 0.463 0.478 0.498 0.514 0.533 0.549 0.569 0.584 0.604 0.624 0.643 0.659 0.678 0.698 0.718 0.737 0.757 0.776 0.796 0.816 0.835 0.855 0.878 0.898 0.918 0.937 0.941 0.941 0.941 0.941 0.941 0.941 0.941 0.941 0.941 0.941 0.941 0.941 0.941 0.941 0.941 0.941 0.941 0.941 0.941 0.941 0.941 0.941 0.941 0.941 0.941 0.941 0.941 0.941 0.941 0.941 0.941 0.941 0.941 0.941 0.941 0.941 0.941 0.941 0.941 0.941 0.941 0.941 0.941 0.941 0.941 0.941 0.941 0.941 0.941 0.941 0.941 0.941 0.941 0.941 0.941 0.941 0.941 0.941 0.941 0.941 0.941 0.941 0.941 0.941 0.941 0.941 0.941 0.941 0.925 0.894 0.863 0.831 0.8 0.769 0.737 0.706 0.675 0.643 0.612 0.576 0.545 0.514 0.482 0.447 0.416 0.38 0.349 0.318 0.282 0.247 0.216 0.18 0.149 0.114 0.078 0.063 0.063 0.063 0.063 0.063 0.063 0.063 0.063 0.063 0.063 0.063 0.063 0.063"/><feFuncB type="table" tableValues="1 1 1 1 1 1 1 1 1 1 1 1 1 1 1 1 1 1 1 0.992 0.992 0.992 0.992 0.992 0.992 0.992 0.992 0.992 0.992 0.992 0.992 0.992 0.98 0.98 0.98 0.98 0.98 0.98 0.98 0.973 0.973 0.973 0.973 0.973 0.973 0.973 0.961 0.961 0.961 0.961 0.961 0.941 0.941 0.941 0.941 0.941 0.941 0.941 0.941 0.941 0.941 0.941 0.941 0.941 0.941 0.941 0.941 0.941 0.941 0.941 0.941 0.941 0.941 0.941 0.941 0.941 0.941 0.941 0.941 0.941 0.941 0.941 0.941 0.941 0.941 0.941 0.941 0.941 0.941 0.941 0.941 0.941 0.941 0.941 0.941 0.941 0.941 0.941 0.941 0.941 0.941 0.941 0.941 0.941 0.941 0.941 0.941 0.941 0.941 0.941 0.941 0.941 0.941 0.941 0.941 0.941 0.941 0.941 0.941 0.941 0.941 0.941 0.941 0.941 0.941 0.941 0.941 0.941 0.941 0.941 0.941 0.941 0.941 0.941 0.941 0.941 0.941 0.941 0.941 0.941 0.941 0.941 0.941 0.941 0.941 0.941 0.941 0.941 0.922 0.902 0.882 0.859 0.839 0.816 0.796 0.773 0.749 0.729 0.706 0.682 0.663 0.639 0.616 0.592 0.569 0.545 0.522 0.498 0.475 0.451 0.427 0.404 0.376 0.353 0.329 0.306 0.278 0.255 0.227 0.204 0.176 0.153 0.125 0.102 0.075 0.063 0.063 0.063 0.063 0.063 0.063 0.063 0.063 0.063 0.063 0.063 0.063 0.063 0.063 0.063 0.063 0.063 0.063 0.063 0.063 0.063 0.063 0.063 0.063 0.063 0.063 0.063 0.063 0.063 0.063 0.063 0.063 0.063 0.063 0.063 0.063 0.063 0.063 0.063 0.063 0.063 0.063 0.063 0.063 0.063 0.063 0.063 0.063 0.063 0.063 0.063 0.063 0.063 0.063 0.063 0.063 0.063 0.063 0.082 0.114 0.149 0.184 0.22 0.255 0.29 0.325 0.361 0.396 0.431 0.471 0.506"/></feComponentTransfer>
<feConvolveMatrix order="3" preserveAlpha="true" edgeMode="duplicate" kernelMatrix="0.0361 0.1178 0.0361 0.1178 0.3846 0.1178 0.0361 0.1178 0.0361"/>
</filter>
<clipPath id="cpt"><rect x="37.5" y="30" width="637.5" height="240"/></clipPath>
</defs>
<g clip-path="url(#cpt)">
<g filter="url(#cma)">
<rect x="36" y="28" width="160" height="244" fill="#000"/>
<rect x="36" y="28" width="124" height="244" fill="url(#base)"/>
<g fill="url(#hg)"><ellipse cx="142.7" cy="129.3" rx="5.0" ry="6.5" opacity="0.67"/><ellipse cx="96.2" cy="227.2" rx="5.7" ry="8.4" opacity="0.65"/><ellipse cx="50.0" cy="61.9" rx="4.2" ry="6.1" opacity="0.88"/><ellipse cx="118.2" cy="84.5" rx="6.9" ry="6.6" opacity="0.73"/><ellipse cx="55.2" cy="109.7" rx="5.0" ry="6.5" opacity="0.72"/><ellipse cx="148.8" cy="145.2" rx="6.8" ry="8.7" opacity="0.93"/><ellipse cx="117.9" cy="141.7" rx="4.4" ry="8.2" opacity="0.77"/><ellipse cx="143.2" cy="81.5" rx="6.2" ry="7.7" opacity="0.63"/><ellipse cx="46.8" cy="29.1" rx="5.6" ry="8.0" opacity="0.83"/><ellipse cx="95.3" cy="80.4" rx="4.5" ry="9.1" opacity="0.93"/><ellipse cx="135.2" cy="269.4" rx="5.0" ry="5.4" opacity="0.79"/><ellipse cx="154.5" cy="81.8" rx="4.7" ry="7.7" opacity="0.88"/><ellipse cx="142.6" cy="33.2" rx="6.7" ry="5.1" opacity="0.79"/><ellipse cx="146.5" cy="178.7" rx="7.2" ry="6.1" opacity="0.99"/><ellipse cx="106.9" cy="61.0" rx="3.9" ry="6.8" opacity="0.64"/><ellipse cx="128.4" cy="239.0" rx="4.3" ry="7.8" opacity="0.67"/><ellipse cx="84.8" cy="237.3" rx="4.0" ry="6.1" opacity="0.95"/><ellipse cx="97.0" cy="200.2" rx="4.7" ry="6.9" opacity="0.98"/><ellipse cx="104.3" cy="67.5" rx="4.1" ry="9.7" opacity="0.99"/><ellipse cx="139.4" cy="85.6" rx="6.3" ry="8.5" opacity="0.62"/><ellipse cx="124.6" cy="203.0" rx="3.9" ry="5.5" opacity="0.64"/><ellipse cx="62.5" cy="178.8" rx="7.0" ry="8.9" opacity="0.80"/><ellipse cx="114.4" cy="245.9" rx="3.8" ry="7.2" opacity="0.80"/><ellipse cx="145.3" cy="37.0" rx="4.3" ry="10.0" opacity="0.71"/><ellipse cx="119.6" cy="133.8" rx="4.5" ry="7.2" opacity="0.65"/><ellipse cx="93.3" cy="211.6" rx="4.8" ry="8.3" opacity="0.71"/><ellipse cx="80.5" cy="137.2" rx="4.9" ry="6.6" opacity="0.66"/><ellipse cx="146.4" cy="48.9" rx="4.6" ry="9.2" opacity="0.78"/><ellipse cx="140.8" cy="32.6" rx="6.5" ry="10.1" opacity="0.65"/><ellipse cx="54.3" cy="239.9" rx="5.5" ry="8.3" opacity="0.88"/><ellipse cx="91.5" cy="234.4" rx="5.9" ry="7.6" opacity="0.82"/><ellipse cx="148.6" cy="64.6" rx="4.9" ry="10.0" opacity="0.83"/><ellipse cx="75.4" cy="169.8" rx="6.7" ry="7.7" opacity="0.78"/><ellipse cx="90.8" cy="264.5" rx="4.8" ry="6.7" opacity="0.96"/><ellipse cx="143.3" cy="271.7" rx="6.9" ry="8.5" opacity="0.87"/><ellipse cx="157.3" cy="266.2" rx="4.9" ry="5.4" opacity="0.65"/><ellipse cx="132.6" cy="227.1" rx="5.2" ry="9.7" opacity="0.80"/><ellipse cx="155.4" cy="93.9" rx="4.9" ry="7.6" opacity="0.93"/><ellipse cx="128.4" cy="136.0" rx="7.0" ry="9.3" opacity="0.62"/><ellipse cx="62.8" cy="223.3" rx="7.2" ry="6.1" opacity="0.61"/><ellipse cx="121.1" cy="46.3" rx="5.4" ry="5.1" opacity="0.88"/><ellipse cx="67.6" cy="237.4" rx="4.3" ry="6.7" opacity="0.77"/><ellipse cx="120.2" cy="139.6" rx="6.1" ry="5.1" opacity="0.66"/><ellipse cx="55.7" cy="217.5" rx="5.7" ry="5.1" opacity="0.93"/><ellipse cx="145.5" cy="126.0" rx="5.9" ry="9.2" opacity="0.99"/><ellipse cx="140.8" cy="202.5" rx="4.5" ry="5.6" opacity="0.76"/><ellipse cx="145.5" cy="206.9" rx="5.9" ry="6.8" opacity="0.80"/><ellipse cx="119.3" cy="170.7" rx="3.6" ry="6.3" opacity="0.70"/><ellipse cx="140.4" cy="55.7" rx="4.4" ry="8.7" opacity="0.64"/><ellipse cx="150.4" cy="196.6" rx="4.8" ry="4.8" opacity="0.88"/><ellipse cx="81.0" cy="240.7" rx="5.8" ry="9.4" opacity="0.86"/><ellipse cx="136.4" cy="155.3" rx="4.1" ry="6.4" opacity="0.85"/><ellipse cx="46.6" cy="30.9" rx="4.2" ry="7.2" opacity="0.72"/><ellipse cx="137.1" cy="221.6" rx="4.7" ry="9.1" opacity="0.70"/><ellipse cx="47.8" cy="216.8" rx="5.7" ry="7.3" opacity="0.61"/><ellipse cx="150.5" cy="230.9" rx="5.5" ry="7.4" opacity="0.75"/><ellipse cx="130.8" cy="230.9" rx="3.7" ry="9.2" opacity="0.97"/><ellipse cx="130.8" cy="43.8" rx="3.8" ry="5.1" opacity="0.63"/><ellipse cx="93.8" cy="49.7" rx="6.9" ry="8.4" opacity="0.68"/><ellipse cx="126.3" cy="247.1" rx="4.6" ry="5.0" opacity="0.73"/><ellipse cx="150.5" cy="149.5" rx="4.7" ry="8.5" opacity="0.69"/><ellipse cx="61.5" cy="180.3" rx="6.5" ry="7.3" opacity="0.63"/><ellipse cx="128.3" cy="123.1" rx="4.9" ry="8.1" opacity="0.85"/><ellipse cx="42.3" cy="32.5" rx="6.5" ry="8.2" opacity="0.94"/><ellipse cx="42.8" cy="257.9" rx="6.9" ry="8.3" opacity="0.88"/><ellipse cx="37.1" cy="63.5" rx="4.7" ry="7.4" opacity="1.00"/><ellipse cx="57.8" cy="127.1" rx="5.2" ry="9.2" opacity="0.79"/><ellipse cx="66.3" cy="239.9" rx="5.8" ry="9.9" opacity="0.70"/><ellipse cx="65.4" cy="118.0" rx="4.5" ry="5.6" opacity="0.62"/><ellipse cx="41.7" cy="63.7" rx="5.6" ry="8.9" opacity="0.97"/><ellipse cx="141.6" cy="202.1" rx="4.7" ry="7.9" opacity="0.70"/><ellipse cx="34.9" cy="74.4" rx="6.3" ry="7.4" opacity="0.95"/><ellipse cx="128.3" cy="31.4" rx="6.6" ry="9.4" opacity="0.64"/><ellipse cx="126.6" cy="238.9" rx="4.7" ry="4.9" opacity="0.99"/><ellipse cx="158.9" cy="124.2" rx="7.1" ry="8.9" opacity="0.75"/><ellipse cx="136.3" cy="262.6" rx="4.8" ry="9.3" opacity="0.66"/><ellipse cx="61.9" cy="111.8" rx="4.7" ry="8.1" opacity="0.76"/><ellipse cx="92.0" cy="159.3" rx="6.1" ry="7.6" opacity="0.79"/><ellipse cx="50.7" cy="258.0" rx="6.2" ry="8.1" opacity="0.94"/><ellipse cx="105.2" cy="60.9" rx="3.7" ry="9.1" opacity="0.94"/><ellipse cx="102.8" cy="186.4" rx="3.9" ry="7.3" opacity="0.61"/><ellipse cx="75.8" cy="219.5" rx="7.1" ry="6.0" opacity="0.89"/><ellipse cx="108.6" cy="169.9" rx="4.8" ry="8.7" opacity="0.69"/><ellipse cx="119.3" cy="28.3" rx="4.6" ry="7.3" opacity="0.84"/><ellipse cx="146.3" cy="87.7" rx="5.0" ry="8.9" opacity="0.98"/><ellipse cx="120.8" cy="177.7" rx="6.6" ry="9.6" opacity="0.64"/><ellipse cx="145.0" cy="171.4" rx="4.1" ry="9.6" opacity="0.70"/><ellipse cx="49.1" cy="67.0" rx="5.8" ry="5.6" opacity="0.81"/><ellipse cx="129.0" cy="89.5" rx="5.9" ry="9.3" opacity="0.78"/><ellipse cx="150.5" cy="201.8" rx="5.4" ry="8.7" opacity="0.78"/><ellipse cx="114.2" cy="231.8" rx="3.8" ry="8.1" opacity="0.63"/><ellipse cx="58.3" cy="254.6" rx="5.8" ry="5.2" opacity="0.68"/><ellipse cx="150.0" cy="108.5" rx="6.4" ry="6.2" opacity="0.87"/><ellipse cx="36.6" cy="91.0" rx="4.0" ry="7.4" opacity="0.98"/><ellipse cx="39.1" cy="131.0" rx="5.0" ry="8.3" opacity="0.76"/><ellipse cx="158.1" cy="179.8" rx="6.9" ry="5.2" opacity="0.84"/><ellipse cx="82.3" cy="196.7" rx="5.8" ry="8.5" opacity="0.89"/><ellipse cx="141.2" cy="41.3" rx="4.2" ry="7.7" opacity="0.82"/><ellipse cx="87.8" cy="82.0" rx="3.9" ry="7.9" opacity="0.64"/><ellipse cx="140.5" cy="271.1" rx="4.7" ry="7.4" opacity="0.85"/><ellipse cx="144.7" cy="210.0" rx="4.1" ry="5.1" opacity="0.97"/><ellipse cx="155.3" cy="261.6" rx="5.0" ry="7.4" opacity="0.80"/><ellipse cx="113.5" cy="133.6" rx="4.0" ry="9.2" opacity="0.95"/><ellipse cx="136.0" cy="94.0" rx="5.2" ry="4.9" opacity="0.76"/><ellipse cx="105.7" cy="81.4" rx="5.1" ry="5.0" opacity="0.95"/><ellipse cx="121.0" cy="103.4" rx="6.0" ry="9.9" opacity="0.90"/><ellipse cx="125.3" cy="135.6" rx="6.0" ry="9.5" opacity="0.69"/><ellipse cx="86.6" cy="78.5" rx="5.5" ry="5.6" opacity="0.87"/><ellipse cx="156.1" cy="50.4" rx="4.1" ry="5.9" opacity="0.79"/><ellipse cx="112.7" cy="147.2" rx="6.6" ry="5.5" opacity="0.73"/><ellipse cx="132.4" cy="105.8" rx="3.9" ry="6.7" opacity="0.75"/><ellipse cx="34.7" cy="86.8" rx="5.4" ry="9.8" opacity="0.96"/><ellipse cx="149.2" cy="244.5" rx="6.3" ry="9.6" opacity="0.65"/><ellipse cx="142.3" cy="35.9" rx="6.9" ry="5.3" opacity="0.81"/><ellipse cx="65.3" cy="272.6" rx="4.8" ry="5.4" opacity="0.95"/><ellipse cx="141.4" cy="234.4" rx="5.1" ry="9.3" opacity="0.88"/><ellipse cx="137.9" cy="243.3" rx="4.3" ry="7.9" opacity="0.91"/><ellipse cx="150.1" cy="214.5" rx="4.6" ry="9.4" opacity="0.85"/><ellipse cx="119.0" cy="101.6" rx="5.8" ry="8.8" opacity="0.88"/><ellipse cx="96.0" cy="268.4" rx="7.1" ry="8.8" opacity="0.60"/><ellipse cx="88.0" cy="254.5" rx="5.9" ry="6.4" opacity="0.68"/><ellipse cx="149.1" cy="149.8" rx="7.2" ry="9.4" opacity="0.95"/><ellipse cx="85.3" cy="125.8" rx="4.2" ry="9.4" opacity="0.70"/><ellipse cx="127.4" cy="210.3" rx="5.7" ry="8.7" opacity="0.87"/><ellipse cx="145.4" cy="108.3" rx="5.1" ry="4.9" opacity="0.92"/><ellipse cx="88.3" cy="267.9" rx="6.6" ry="9.4" opacity="0.81"/><ellipse cx="36.3" cy="91.9" rx="6.2" ry="6.5" opacity="0.82"/><ellipse cx="149.6" cy="116.3" rx="6.4" ry="6.3" opacity="0.96"/><ellipse cx="154.3" cy="47.0" rx="3.8" ry="7.6" opacity="0.62"/><ellipse cx="93.3" cy="27.8" rx="6.8" ry="9.3" opacity="0.71"/><ellipse cx="151.3" cy="27.7" rx="3.7" ry="5.4" opacity="0.89"/><ellipse cx="150.9" cy="127.8" rx="4.1" ry="8.8" opacity="0.77"/><ellipse cx="92.5" cy="116.5" rx="4.3" ry="5.1" opacity="0.95"/><ellipse cx="102.5" cy="59.7" rx="5.5" ry="5.7" opacity="0.76"/><ellipse cx="82.5" cy="195.8" rx="5.3" ry="8.8" opacity="0.93"/><ellipse cx="159.8" cy="252.8" rx="4.8" ry="6.0" opacity="0.87"/><ellipse cx="146.0" cy="77.9" rx="4.9" ry="4.9" opacity="0.78"/><ellipse cx="152.0" cy="59.0" rx="4.3" ry="7.9" opacity="0.75"/><ellipse cx="74.8" cy="242.4" rx="4.5" ry="6.7" opacity="0.62"/><ellipse cx="130.1" cy="253.7" rx="5.0" ry="7.4" opacity="0.88"/><ellipse cx="158.5" cy="242.7" rx="4.9" ry="7.3" opacity="0.94"/><ellipse cx="106.8" cy="186.4" rx="4.0" ry="5.7" opacity="0.61"/><ellipse cx="157.1" cy="63.8" rx="7.1" ry="6.9" opacity="0.67"/><ellipse cx="79.8" cy="265.2" rx="6.7" ry="9.3" opacity="0.94"/><ellipse cx="134.2" cy="58.1" rx="3.9" ry="9.6" opacity="0.70"/><ellipse cx="103.3" cy="127.9" rx="5.4" ry="5.3" opacity="0.65"/><ellipse cx="108.2" cy="216.8" rx="6.1" ry="9.6" opacity="0.65"/><ellipse cx="57.7" cy="174.0" rx="7.2" ry="5.2" opacity="0.85"/><ellipse cx="81.8" cy="234.7" rx="3.9" ry="7.2" opacity="0.62"/><ellipse cx="127.6" cy="127.3" rx="5.1" ry="8.4" opacity="0.85"/><ellipse cx="131.3" cy="160.7" rx="5.3" ry="5.5" opacity="0.97"/><ellipse cx="119.0" cy="215.4" rx="5.5" ry="8.1" opacity="0.93"/><ellipse cx="151.2" cy="158.6" rx="6.3" ry="7.1" opacity="0.65"/><ellipse cx="134.8" cy="39.5" rx="5.4" ry="9.1" opacity="0.86"/><ellipse cx="132.5" cy="126.9" rx="4.3" ry="8.8" opacity="0.88"/><ellipse cx="37.4" cy="177.1" rx="5.0" ry="6.5" opacity="0.83"/><ellipse cx="113.2" cy="27.6" rx="5.3" ry="8.1" opacity="0.82"/><ellipse cx="59.4" cy="92.2" rx="5.4" ry="7.0" opacity="0.79"/><ellipse cx="134.5" cy="200.8" rx="4.7" ry="5.7" opacity="0.81"/><ellipse cx="77.0" cy="268.7" rx="5.5" ry="9.0" opacity="0.97"/><ellipse cx="137.9" cy="148.0" rx="5.6" ry="7.5" opacity="0.87"/><ellipse cx="103.8" cy="115.7" rx="4.5" ry="7.1" opacity="0.73"/><ellipse cx="136.4" cy="134.7" rx="4.2" ry="7.8" opacity="0.67"/><ellipse cx="141.7" cy="28.5" rx="4.1" ry="7.3" opacity="0.83"/><ellipse cx="137.4" cy="102.7" rx="5.6" ry="5.9" opacity="1.00"/><ellipse cx="72.7" cy="248.3" rx="6.8" ry="6.8" opacity="0.75"/><ellipse cx="78.7" cy="88.2" rx="3.8" ry="7.3" opacity="0.95"/><ellipse cx="75.5" cy="147.9" rx="3.7" ry="5.0" opacity="0.63"/><ellipse cx="64.8" cy="248.2" rx="6.7" ry="5.1" opacity="0.62"/><ellipse cx="139.7" cy="165.4" rx="3.6" ry="9.0" opacity="0.81"/><ellipse cx="113.0" cy="62.6" rx="6.2" ry="6.9" opacity="0.63"/><ellipse cx="150.6" cy="125.9" rx="4.0" ry="6.7" opacity="0.62"/><ellipse cx="158.7" cy="118.0" rx="7.2" ry="9.5" opacity="0.74"/><ellipse cx="101.8" cy="259.3" rx="5.6" ry="6.6" opacity="0.61"/><ellipse cx="148.4" cy="203.9" rx="7.1" ry="5.6" opacity="0.63"/><ellipse cx="127.8" cy="86.9" rx="5.4" ry="7.4" opacity="0.69"/><ellipse cx="65.9" cy="32.6" rx="4.5" ry="7.8" opacity="0.69"/><ellipse cx="149.5" cy="145.6" rx="6.1" ry="8.0" opacity="0.97"/><ellipse cx="148.7" cy="205.2" rx="3.8" ry="8.6" opacity="0.64"/><ellipse cx="44.0" cy="175.5" rx="5.1" ry="5.5" opacity="0.72"/><ellipse cx="126.2" cy="260.3" rx="5.7" ry="6.1" opacity="0.93"/><ellipse cx="151.8" cy="264.0" rx="5.6" ry="7.2" opacity="0.84"/><ellipse cx="123.7" cy="250.4" rx="5.3" ry="8.7" opacity="0.97"/><ellipse cx="126.6" cy="236.4" rx="3.8" ry="4.9" opacity="0.71"/><ellipse cx="70.1" cy="134.4" rx="4.2" ry="9.0" opacity="0.91"/><ellipse cx="75.7" cy="52.2" rx="3.9" ry="9.6" opacity="0.63"/><ellipse cx="66.1" cy="53.2" rx="4.8" ry="8.6" opacity="0.99"/><ellipse cx="137.9" cy="227.1" rx="4.6" ry="5.7" opacity="0.91"/><ellipse cx="140.1" cy="272.3" rx="5.3" ry="6.0" opacity="0.77"/><ellipse cx="101.6" cy="154.5" rx="6.3" ry="5.5" opacity="0.63"/><ellipse cx="118.0" cy="110.8" rx="5.8" ry="5.1" opacity="0.61"/><ellipse cx="89.6" cy="160.5" rx="6.8" ry="6.1" opacity="1.00"/><ellipse cx="79.9" cy="125.7" rx="6.1" ry="6.0" opacity="0.66"/><ellipse cx="53.1" cy="270.3" rx="5.9" ry="7.3" opacity="0.93"/><ellipse cx="86.7" cy="84.0" rx="4.4" ry="9.3" opacity="0.79"/><ellipse cx="48.9" cy="208.7" rx="4.1" ry="8.0" opacity="0.93"/><ellipse cx="68.8" cy="81.5" rx="5.7" ry="9.2" opacity="0.77"/><ellipse cx="66.0" cy="179.1" rx="5.7" ry="9.5" opacity="0.67"/><ellipse cx="133.0" cy="77.1" rx="6.2" ry="5.4" opacity="0.95"/><ellipse cx="112.7" cy="104.3" rx="5.7" ry="5.3" opacity="0.91"/><ellipse cx="137.7" cy="127.2" rx="5.6" ry="6.8" opacity="1.00"/><ellipse cx="85.9" cy="235.6" rx="7.0" ry="9.6" opacity="0.63"/><ellipse cx="115.9" cy="129.5" rx="3.8" ry="7.3" opacity="0.63"/><ellipse cx="84.8" cy="187.4" rx="6.7" ry="5.7" opacity="0.69"/><ellipse cx="128.5" cy="28.0" rx="6.5" ry="6.9" opacity="0.85"/><ellipse cx="60.3" cy="269.6" rx="5.7" ry="5.0" opacity="0.96"/><ellipse cx="134.2" cy="166.6" rx="6.6" ry="9.3" opacity="0.64"/><ellipse cx="159.0" cy="121.9" rx="6.6" ry="9.2" opacity="0.66"/><ellipse cx="150.0" cy="38.3" rx="3.9" ry="6.6" opacity="0.74"/><ellipse cx="59.4" cy="69.3" rx="7.0" ry="6.6" opacity="0.61"/><ellipse cx="156.0" cy="190.3" rx="6.1" ry="6.1" opacity="0.91"/><ellipse cx="77.5" cy="140.3" rx="5.9" ry="10.2" opacity="0.78"/><ellipse cx="56.1" cy="36.6" rx="3.9" ry="9.8" opacity="0.82"/><ellipse cx="104.9" cy="189.3" rx="6.0" ry="4.9" opacity="0.88"/><ellipse cx="155.9" cy="106.7" rx="4.2" ry="6.8" opacity="0.81"/><ellipse cx="95.8" cy="250.0" rx="3.9" ry="8.9" opacity="0.64"/><ellipse cx="95.3" cy="217.0" rx="6.1" ry="7.1" opacity="0.99"/><ellipse cx="138.8" cy="148.4" rx="4.3" ry="8.2" opacity="0.92"/><ellipse cx="136.4" cy="176.4" rx="5.0" ry="6.0" opacity="0.72"/><ellipse cx="98.8" cy="125.9" rx="5.4" ry="5.0" opacity="0.86"/><ellipse cx="122.6" cy="192.6" rx="6.8" ry="6.4" opacity="0.84"/><ellipse cx="139.3" cy="246.3" rx="4.9" ry="9.7" opacity="0.62"/><ellipse cx="145.3" cy="162.1" rx="4.4" ry="7.8" opacity="0.93"/><ellipse cx="49.8" cy="181.6" rx="5.2" ry="7.4" opacity="0.81"/><ellipse cx="67.5" cy="64.5" rx="5.8" ry="8.9" opacity="0.79"/><ellipse cx="130.0" cy="261.8" rx="6.9" ry="5.6" opacity="0.72"/><ellipse cx="81.4" cy="271.6" rx="6.7" ry="9.5" opacity="0.93"/><ellipse cx="101.3" cy="262.3" rx="5.1" ry="7.6" opacity="0.88"/><ellipse cx="57.7" cy="113.9" rx="6.3" ry="8.1" opacity="0.68"/><ellipse cx="140.0" cy="98.0" rx="5.6" ry="8.4" opacity="0.81"/><ellipse cx="144.9" cy="264.7" rx="4.9" ry="8.0" opacity="0.64"/><ellipse cx="116.3" cy="184.9" rx="3.6" ry="9.7" opacity="0.94"/><ellipse cx="142.8" cy="88.7" rx="7.2" ry="5.3" opacity="0.62"/><ellipse cx="156.4" cy="220.3" rx="5.3" ry="6.7" opacity="0.67"/><ellipse cx="41.9" cy="29.0" rx="5.2" ry="8.5" opacity="0.86"/><ellipse cx="97.6" cy="159.2" rx="3.7" ry="6.3" opacity="0.83"/><ellipse cx="141.4" cy="198.0" rx="6.5" ry="8.6" opacity="0.67"/><ellipse cx="129.4" cy="31.9" rx="6.2" ry="7.3" opacity="0.82"/><ellipse cx="113.3" cy="139.9" rx="5.8" ry="8.4" opacity="0.96"/><ellipse cx="137.5" cy="237.0" rx="4.2" ry="9.8" opacity="0.98"/><ellipse cx="128.6" cy="217.7" rx="5.1" ry="5.9" opacity="0.77"/><ellipse cx="143.4" cy="183.4" rx="5.1" ry="7.0" opacity="0.99"/><ellipse cx="66.4" cy="71.6" rx="4.9" ry="7.8" opacity="0.87"/><ellipse cx="152.2" cy="35.3" rx="5.2" ry="5.3" opacity="0.71"/><ellipse cx="135.5" cy="177.5" rx="6.4" ry="7.9" opacity="0.76"/><ellipse cx="77.1" cy="103.7" rx="4.6" ry="5.6" opacity="0.66"/><ellipse cx="131.9" cy="244.2" rx="6.0" ry="8.4" opacity="0.79"/><ellipse cx="154.2" cy="267.9" rx="5.0" ry="8.8" opacity="0.87"/><ellipse cx="122.3" cy="123.3" rx="5.2" ry="5.3" opacity="0.80"/><ellipse cx="89.0" cy="135.5" rx="7.1" ry="7.5" opacity="0.82"/></g>
<g class="lt">
<g fill="url(#r5)"><ellipse cx="115.8" cy="213.6" rx="5.8" ry="8.0"/><ellipse cx="123.1" cy="247.6" rx="4.2" ry="6.7"/><ellipse cx="117.4" cy="136.4" rx="4.0" ry="6.3"/><ellipse cx="101.6" cy="159.5" rx="5.0" ry="7.6"/><ellipse cx="138.8" cy="222.9" rx="4.8" ry="7.0"/><ellipse cx="74.0" cy="187.2" rx="5.3" ry="7.5"/><ellipse cx="53.4" cy="84.9" rx="3.7" ry="8.2"/><ellipse cx="78.1" cy="259.5" rx="5.6" ry="7.5"/><ellipse cx="110.9" cy="45.5" rx="5.0" ry="5.9"/><ellipse cx="124.5" cy="51.1" rx="5.3" ry="6.1"/><ellipse cx="68.0" cy="263.1" rx="3.9" ry="7.3"/><ellipse cx="120.4" cy="249.4" rx="4.0" ry="6.5"/><ellipse cx="103.9" cy="218.5" rx="5.9" ry="5.0"/><ellipse cx="151.7" cy="269.0" rx="5.0" ry="8.1"/><ellipse cx="94.0" cy="135.7" rx="5.8" ry="6.2"/><ellipse cx="51.1" cy="131.5" rx="5.2" ry="7.5"/><ellipse cx="95.7" cy="212.7" rx="4.5" ry="5.5"/><ellipse cx="87.3" cy="30.2" rx="5.2" ry="6.3"/><ellipse cx="116.1" cy="77.4" rx="5.7" ry="4.9"/><ellipse cx="74.0" cy="197.2" rx="5.5" ry="5.2"/><ellipse cx="155.6" cy="142.3" rx="3.7" ry="5.1"/><ellipse cx="113.8" cy="227.5" rx="3.8" ry="4.4"/><ellipse cx="54.6" cy="73.0" rx="4.1" ry="4.7"/><ellipse cx="71.0" cy="182.8" rx="5.8" ry="7.2"/><ellipse cx="112.0" cy="244.8" rx="6.0" ry="7.6"/><ellipse cx="78.1" cy="103.0" rx="5.8" ry="5.3"/><ellipse cx="43.5" cy="40.6" rx="4.0" ry="6.1"/><ellipse cx="142.2" cy="195.4" rx="4.2" ry="4.8"/><ellipse cx="107.0" cy="143.9" rx="4.9" ry="6.4"/><ellipse cx="123.0" cy="148.5" rx="5.6" ry="8.0"/><ellipse cx="89.3" cy="108.5" rx="6.0" ry="7.1"/><ellipse cx="111.8" cy="86.2" rx="3.9" ry="5.2"/><ellipse cx="75.6" cy="187.5" rx="4.1" ry="5.3"/><ellipse cx="70.1" cy="184.8" rx="4.5" ry="6.9"/><ellipse cx="149.0" cy="104.8" rx="5.4" ry="6.5"/><ellipse cx="56.0" cy="105.2" rx="5.8" ry="4.8"/><ellipse cx="70.4" cy="121.4" rx="4.7" ry="6.4"/><ellipse cx="71.9" cy="106.9" rx="3.7" ry="8.1"/><ellipse cx="141.5" cy="64.1" rx="5.3" ry="7.1"/><ellipse cx="70.1" cy="97.9" rx="5.6" ry="7.9"/><ellipse cx="52.9" cy="254.2" rx="3.8" ry="8.4"/><ellipse cx="133.2" cy="161.1" rx="4.0" ry="6.0"/><ellipse cx="124.7" cy="83.3" rx="3.7" ry="7.1"/><ellipse cx="83.0" cy="143.3" rx="4.2" ry="6.2"/><ellipse cx="68.0" cy="202.6" rx="4.4" ry="5.4"/><ellipse cx="65.2" cy="245.7" rx="5.9" ry="4.6"/><ellipse cx="117.0" cy="96.7" rx="5.8" ry="5.2"/><ellipse cx="82.3" cy="221.7" rx="4.8" ry="6.8"/><ellipse cx="42.1" cy="142.7" rx="4.1" ry="4.2"/><ellipse cx="129.8" cy="187.1" rx="3.8" ry="6.9"/><ellipse cx="164.7" cy="146.7" rx="4.6" ry="6.6"/><ellipse cx="63.8" cy="131.4" rx="5.3" ry="6.4"/><ellipse cx="109.3" cy="31.2" rx="4.5" ry="5.5"/><ellipse cx="144.9" cy="191.8" rx="5.1" ry="6.1"/><ellipse cx="122.0" cy="121.1" rx="4.2" ry="4.5"/><ellipse cx="139.4" cy="209.1" rx="4.2" ry="8.1"/><ellipse cx="44.0" cy="71.5" rx="5.9" ry="8.3"/><ellipse cx="57.2" cy="51.4" rx="5.4" ry="6.2"/><ellipse cx="123.7" cy="82.4" rx="5.3" ry="8.3"/><ellipse cx="131.8" cy="154.7" rx="4.9" ry="8.3"/><ellipse cx="68.5" cy="73.0" rx="5.5" ry="8.1"/><ellipse cx="142.1" cy="127.2" rx="5.3" ry="5.1"/><ellipse cx="89.7" cy="72.9" rx="5.4" ry="5.8"/><ellipse cx="120.4" cy="30.7" rx="4.0" ry="7.4"/><ellipse cx="90.5" cy="123.0" rx="5.7" ry="4.4"/><ellipse cx="111.5" cy="189.7" rx="3.9" ry="6.9"/><ellipse cx="94.3" cy="146.0" rx="4.3" ry="4.4"/><ellipse cx="46.5" cy="103.8" rx="5.4" ry="6.0"/><ellipse cx="84.9" cy="169.8" rx="5.6" ry="6.7"/><ellipse cx="92.1" cy="212.6" rx="3.9" ry="4.9"/><ellipse cx="76.3" cy="41.1" rx="5.2" ry="8.3"/><ellipse cx="108.9" cy="93.7" rx="3.8" ry="5.3"/><ellipse cx="154.4" cy="171.7" rx="5.8" ry="5.8"/><ellipse cx="56.7" cy="132.9" rx="3.6" ry="7.3"/><ellipse cx="98.7" cy="218.8" rx="5.9" ry="6.5"/><ellipse cx="38.9" cy="138.4" rx="4.2" ry="7.8"/><ellipse cx="122.0" cy="94.9" rx="4.8" ry="7.2"/><ellipse cx="76.7" cy="257.0" rx="5.5" ry="6.4"/><ellipse cx="84.5" cy="53.1" rx="4.0" ry="6.5"/><ellipse cx="53.8" cy="40.6" rx="4.2" ry="4.5"/><ellipse cx="140.4" cy="77.9" rx="5.8" ry="6.9"/><ellipse cx="134.6" cy="30.2" rx="3.8" ry="5.1"/><ellipse cx="117.9" cy="236.3" rx="3.8" ry="8.2"/><ellipse cx="48.8" cy="250.9" rx="5.6" ry="6.6"/><ellipse cx="164.6" cy="272.7" rx="4.3" ry="6.6"/><ellipse cx="81.2" cy="146.2" rx="5.6" ry="6.1"/><ellipse cx="44.8" cy="29.9" rx="3.6" ry="5.2"/><ellipse cx="111.8" cy="259.3" rx="5.7" ry="5.1"/><ellipse cx="74.6" cy="179.1" rx="4.6" ry="6.2"/><ellipse cx="43.9" cy="87.7" rx="5.7" ry="5.5"/><ellipse cx="127.6" cy="270.9" rx="4.9" ry="8.1"/><ellipse cx="70.2" cy="211.0" rx="3.6" ry="4.6"/><ellipse cx="93.6" cy="49.0" rx="4.5" ry="5.4"/><ellipse cx="149.4" cy="146.3" rx="5.1" ry="5.9"/><ellipse cx="36.9" cy="264.7" rx="5.9" ry="7.8"/><ellipse cx="86.5" cy="49.7" rx="5.3" ry="7.4"/><ellipse cx="69.0" cy="201.6" rx="5.9" ry="4.5"/><ellipse cx="50.0" cy="136.1" rx="3.8" ry="6.7"/><ellipse cx="39.3" cy="112.5" rx="4.6" ry="7.6"/><ellipse cx="34.0" cy="239.5" rx="3.9" ry="4.7"/><ellipse cx="128.4" cy="173.9" rx="3.6" ry="4.7"/><ellipse cx="112.0" cy="148.5" rx="5.1" ry="4.6"/><ellipse cx="117.8" cy="163.4" rx="5.2" ry="6.2"/><ellipse cx="42.2" cy="239.4" rx="4.3" ry="6.5"/><ellipse cx="134.0" cy="206.1" rx="4.4" ry="6.9"/><ellipse cx="54.1" cy="173.9" rx="5.5" ry="6.7"/><ellipse cx="80.0" cy="170.4" rx="5.9" ry="8.2"/><ellipse cx="89.2" cy="210.5" rx="4.6" ry="6.2"/><ellipse cx="124.9" cy="128.2" rx="3.6" ry="6.9"/><ellipse cx="67.2" cy="223.6" rx="5.0" ry="4.3"/><ellipse cx="77.8" cy="86.6" rx="6.0" ry="6.1"/><ellipse cx="99.6" cy="92.8" rx="5.6" ry="4.5"/><ellipse cx="64.1" cy="131.9" rx="3.9" ry="7.8"/><ellipse cx="136.0" cy="58.2" rx="4.1" ry="7.6"/><ellipse cx="129.8" cy="72.0" rx="5.1" ry="6.8"/><ellipse cx="165.7" cy="210.3" rx="5.9" ry="4.5"/><ellipse cx="40.6" cy="141.5" rx="5.2" ry="5.9"/><ellipse cx="38.7" cy="190.6" rx="4.7" ry="5.5"/><ellipse cx="59.8" cy="81.0" rx="4.1" ry="6.1"/><ellipse cx="63.0" cy="69.5" rx="5.9" ry="7.4"/><ellipse cx="45.0" cy="122.2" rx="4.7" ry="7.4"/><ellipse cx="68.4" cy="121.3" rx="4.6" ry="8.3"/><ellipse cx="71.6" cy="189.2" rx="4.3" ry="4.5"/><ellipse cx="65.8" cy="84.4" rx="5.3" ry="5.1"/><ellipse cx="56.0" cy="257.4" rx="5.3" ry="7.7"/><ellipse cx="42.3" cy="142.4" rx="6.0" ry="7.9"/><ellipse cx="96.5" cy="104.9" rx="5.6" ry="6.5"/><ellipse cx="70.3" cy="118.3" rx="4.1" ry="7.0"/><ellipse cx="134.8" cy="221.2" rx="4.1" ry="7.3"/><ellipse cx="132.6" cy="247.4" rx="5.9" ry="8.4"/><ellipse cx="35.9" cy="232.7" rx="4.5" ry="5.6"/><ellipse cx="142.6" cy="77.3" rx="5.1" ry="8.2"/><ellipse cx="112.3" cy="111.5" rx="4.5" ry="6.1"/><ellipse cx="53.1" cy="30.3" rx="4.7" ry="7.2"/><ellipse cx="115.2" cy="96.6" rx="4.2" ry="4.7"/><ellipse cx="59.5" cy="210.4" rx="5.4" ry="7.5"/><ellipse cx="133.5" cy="238.7" rx="4.6" ry="7.6"/><ellipse cx="109.7" cy="176.5" rx="4.6" ry="8.3"/><ellipse cx="59.2" cy="169.6" rx="5.9" ry="7.4"/><ellipse cx="45.3" cy="116.4" rx="5.7" ry="7.0"/><ellipse cx="136.9" cy="49.2" rx="3.6" ry="7.6"/><ellipse cx="139.5" cy="252.1" rx="5.6" ry="6.1"/><ellipse cx="88.0" cy="149.7" rx="5.8" ry="8.1"/><ellipse cx="101.0" cy="99.0" rx="5.6" ry="6.8"/><ellipse cx="81.1" cy="269.5" rx="4.9" ry="6.9"/><ellipse cx="137.2" cy="208.4" rx="4.2" ry="4.7"/><ellipse cx="100.3" cy="195.2" rx="4.4" ry="4.7"/><ellipse cx="124.8" cy="213.0" rx="5.4" ry="7.3"/><ellipse cx="83.5" cy="38.3" rx="5.0" ry="4.4"/><ellipse cx="126.2" cy="174.6" rx="5.4" ry="8.2"/><ellipse cx="132.0" cy="189.5" rx="3.9" ry="4.7"/><ellipse cx="104.8" cy="120.1" rx="4.6" ry="5.0"/><ellipse cx="105.5" cy="219.4" rx="3.9" ry="7.6"/><ellipse cx="49.2" cy="38.9" rx="5.2" ry="4.3"/><ellipse cx="86.3" cy="133.1" rx="5.0" ry="5.4"/><ellipse cx="86.7" cy="141.0" rx="4.1" ry="7.1"/><ellipse cx="44.2" cy="172.0" rx="3.6" ry="5.7"/><ellipse cx="66.8" cy="57.8" rx="5.5" ry="4.3"/><ellipse cx="113.9" cy="182.8" rx="4.0" ry="6.2"/><ellipse cx="156.6" cy="28.2" rx="5.2" ry="6.3"/><ellipse cx="83.6" cy="136.8" rx="5.5" ry="8.1"/><ellipse cx="98.2" cy="267.0" rx="5.2" ry="7.0"/><ellipse cx="100.1" cy="90.2" rx="4.4" ry="7.5"/><ellipse cx="51.2" cy="166.9" rx="5.3" ry="5.0"/><ellipse cx="114.7" cy="147.3" rx="5.8" ry="8.1"/><ellipse cx="62.8" cy="146.3" rx="5.1" ry="7.6"/><ellipse cx="104.4" cy="177.4" rx="3.9" ry="8.3"/><ellipse cx="68.1" cy="195.6" rx="4.2" ry="7.0"/><ellipse cx="90.7" cy="69.6" rx="4.0" ry="7.2"/><ellipse cx="131.0" cy="69.5" rx="5.7" ry="5.2"/><ellipse cx="106.6" cy="168.1" rx="4.3" ry="7.2"/><ellipse cx="110.7" cy="145.5" rx="5.5" ry="6.5"/><ellipse cx="146.1" cy="96.4" rx="5.3" ry="5.2"/><ellipse cx="86.1" cy="48.4" rx="5.1" ry="6.7"/><ellipse cx="111.6" cy="191.1" rx="3.8" ry="5.6"/><ellipse cx="92.3" cy="29.2" rx="5.4" ry="6.6"/><ellipse cx="65.4" cy="140.0" rx="4.1" ry="7.0"/><ellipse cx="99.7" cy="99.0" rx="4.7" ry="6.0"/><ellipse cx="91.0" cy="209.0" rx="5.3" ry="4.4"/><ellipse cx="43.2" cy="231.6" rx="5.8" ry="5.6"/><ellipse cx="57.7" cy="115.1" rx="5.7" ry="6.1"/><ellipse cx="105.1" cy="213.6" rx="4.3" ry="5.9"/><ellipse cx="96.4" cy="188.3" rx="4.1" ry="5.4"/><ellipse cx="46.6" cy="74.8" rx="5.8" ry="8.1"/><ellipse cx="61.5" cy="150.3" rx="3.7" ry="5.5"/><ellipse cx="83.0" cy="167.5" rx="5.8" ry="5.3"/><ellipse cx="81.9" cy="241.9" rx="4.4" ry="6.1"/><ellipse cx="49.9" cy="184.3" rx="5.1" ry="6.4"/><ellipse cx="94.8" cy="51.6" rx="5.3" ry="8.3"/><ellipse cx="129.5" cy="215.0" rx="4.8" ry="6.1"/><ellipse cx="53.5" cy="188.5" rx="4.1" ry="5.8"/><ellipse cx="44.8" cy="43.1" rx="5.3" ry="7.7"/><ellipse cx="149.6" cy="117.2" rx="3.9" ry="5.2"/><ellipse cx="86.3" cy="86.9" rx="4.2" ry="5.2"/><ellipse cx="88.8" cy="142.4" rx="4.3" ry="5.7"/><ellipse cx="154.9" cy="270.0" rx="3.6" ry="6.3"/><ellipse cx="73.2" cy="121.4" rx="5.9" ry="6.3"/><ellipse cx="90.7" cy="167.2" rx="5.6" ry="4.4"/><ellipse cx="109.0" cy="161.6" rx="4.7" ry="5.3"/><ellipse cx="44.7" cy="163.9" rx="3.7" ry="7.7"/><ellipse cx="116.8" cy="171.9" rx="4.3" ry="7.0"/><ellipse cx="84.5" cy="134.9" rx="5.3" ry="7.7"/><ellipse cx="136.2" cy="71.4" rx="5.3" ry="4.8"/><ellipse cx="103.2" cy="252.9" rx="3.9" ry="6.5"/><ellipse cx="106.0" cy="80.2" rx="4.5" ry="7.1"/><ellipse cx="40.1" cy="77.2" rx="4.4" ry="6.9"/><ellipse cx="117.0" cy="199.6" rx="3.8" ry="7.7"/><ellipse cx="83.7" cy="70.0" rx="4.2" ry="5.6"/><ellipse cx="89.0" cy="169.8" rx="4.5" ry="6.8"/><ellipse cx="90.1" cy="45.4" rx="5.7" ry="7.1"/><ellipse cx="85.5" cy="58.6" rx="5.7" ry="8.3"/><ellipse cx="127.7" cy="85.1" rx="3.9" ry="8.3"/><ellipse cx="63.3" cy="200.8" rx="3.9" ry="4.7"/><ellipse cx="151.4" cy="41.3" rx="5.4" ry="8.3"/><ellipse cx="53.3" cy="57.7" rx="4.5" ry="4.9"/><ellipse cx="93.8" cy="221.5" rx="4.2" ry="6.3"/><ellipse cx="96.8" cy="56.8" rx="4.1" ry="6.3"/><ellipse cx="48.4" cy="76.8" rx="5.5" ry="7.5"/><ellipse cx="52.5" cy="83.1" rx="3.9" ry="4.4"/><ellipse cx="55.7" cy="57.1" rx="4.7" ry="5.9"/><ellipse cx="96.0" cy="88.2" rx="5.6" ry="8.0"/><ellipse cx="104.2" cy="40.6" rx="4.9" ry="4.7"/><ellipse cx="162.4" cy="49.9" rx="3.0" ry="6.9"/><ellipse cx="163.1" cy="32.7" rx="3.4" ry="5.6"/><ellipse cx="165.9" cy="51.0" rx="3.4" ry="6.0"/><ellipse cx="167.6" cy="231.3" rx="4.2" ry="5.7"/><ellipse cx="170.1" cy="102.9" rx="3.1" ry="6.9"/><ellipse cx="169.0" cy="58.8" rx="2.8" ry="8.2"/><ellipse cx="192.5" cy="250.6" rx="2.9" ry="5.3"/><ellipse cx="182.0" cy="116.7" rx="3.8" ry="5.9"/><ellipse cx="188.8" cy="94.2" rx="3.5" ry="7.3"/><ellipse cx="167.1" cy="190.7" rx="2.9" ry="5.1"/><ellipse cx="185.0" cy="95.4" rx="3.1" ry="7.8"/><ellipse cx="161.3" cy="80.3" rx="4.1" ry="9.0"/><ellipse cx="167.6" cy="229.5" rx="3.6" ry="4.9"/><ellipse cx="167.0" cy="114.6" rx="3.9" ry="7.8"/><ellipse cx="167.1" cy="225.4" rx="3.9" ry="5.6"/><ellipse cx="177.9" cy="115.6" rx="2.9" ry="4.6"/><ellipse cx="160.0" cy="94.5" rx="4.1" ry="7.0"/><ellipse cx="162.2" cy="262.4" rx="2.9" ry="8.0"/><ellipse cx="196.2" cy="111.4" rx="2.9" ry="5.1"/><ellipse cx="168.3" cy="235.3" rx="3.3" ry="5.3"/><ellipse cx="166.1" cy="47.6" rx="3.2" ry="8.8"/><ellipse cx="183.6" cy="61.2" rx="3.7" ry="7.8"/><ellipse cx="160.2" cy="113.3" rx="3.7" ry="8.8"/></g>
<g fill="url(#r6)"><ellipse cx="110.5" cy="66.3" rx="4.0" ry="5.2"/><ellipse cx="35.9" cy="108.6" rx="3.7" ry="4.4"/><ellipse cx="68.0" cy="103.3" rx="5.7" ry="5.0"/><ellipse cx="62.4" cy="103.9" rx="6.0" ry="7.8"/><ellipse cx="80.8" cy="241.7" rx="3.8" ry="7.3"/><ellipse cx="160.3" cy="58.6" rx="4.5" ry="5.0"/><ellipse cx="97.2" cy="164.8" rx="4.0" ry="6.1"/><ellipse cx="121.0" cy="131.5" rx="5.3" ry="7.0"/><ellipse cx="81.5" cy="218.8" rx="4.3" ry="4.5"/><ellipse cx="47.2" cy="48.0" rx="3.7" ry="8.2"/><ellipse cx="153.2" cy="243.3" rx="5.2" ry="6.4"/><ellipse cx="137.9" cy="119.0" rx="3.8" ry="6.6"/><ellipse cx="123.6" cy="70.8" rx="5.3" ry="7.4"/><ellipse cx="35.0" cy="213.6" rx="4.1" ry="5.4"/><ellipse cx="66.6" cy="240.0" rx="4.7" ry="8.4"/><ellipse cx="118.3" cy="260.3" rx="3.9" ry="6.4"/><ellipse cx="82.2" cy="114.6" rx="4.6" ry="6.4"/><ellipse cx="119.3" cy="115.4" rx="4.0" ry="8.1"/><ellipse cx="45.4" cy="74.4" rx="4.8" ry="6.7"/><ellipse cx="108.8" cy="263.4" rx="3.9" ry="5.3"/><ellipse cx="107.0" cy="227.4" rx="4.1" ry="6.4"/><ellipse cx="63.7" cy="160.7" rx="5.5" ry="5.8"/><ellipse cx="147.6" cy="99.6" rx="4.8" ry="5.4"/><ellipse cx="134.9" cy="188.6" rx="4.1" ry="6.0"/><ellipse cx="90.2" cy="108.8" rx="4.7" ry="5.5"/><ellipse cx="75.6" cy="53.9" rx="4.7" ry="7.2"/><ellipse cx="44.8" cy="80.9" rx="5.1" ry="7.3"/><ellipse cx="52.1" cy="56.6" rx="5.2" ry="5.5"/><ellipse cx="154.7" cy="150.1" rx="5.7" ry="6.2"/><ellipse cx="48.2" cy="186.7" rx="4.2" ry="4.5"/><ellipse cx="40.1" cy="207.3" rx="4.6" ry="5.9"/><ellipse cx="113.0" cy="213.7" rx="4.1" ry="8.4"/><ellipse cx="49.3" cy="215.8" rx="4.2" ry="6.4"/><ellipse cx="94.0" cy="145.5" rx="4.2" ry="6.5"/><ellipse cx="128.7" cy="66.5" rx="3.8" ry="7.1"/><ellipse cx="95.0" cy="188.5" rx="4.8" ry="7.3"/><ellipse cx="114.3" cy="146.4" rx="5.7" ry="8.1"/><ellipse cx="151.3" cy="170.7" rx="3.8" ry="6.1"/><ellipse cx="70.3" cy="222.2" rx="5.7" ry="6.3"/><ellipse cx="40.3" cy="36.5" rx="3.7" ry="4.7"/><ellipse cx="39.8" cy="197.5" rx="3.9" ry="6.2"/><ellipse cx="73.9" cy="142.2" rx="5.8" ry="5.7"/><ellipse cx="40.6" cy="213.1" rx="4.7" ry="7.1"/><ellipse cx="59.1" cy="202.2" rx="5.6" ry="8.3"/><ellipse cx="36.1" cy="74.9" rx="4.2" ry="7.7"/><ellipse cx="134.2" cy="177.9" rx="5.9" ry="7.4"/><ellipse cx="133.3" cy="186.8" rx="4.3" ry="6.4"/><ellipse cx="96.9" cy="114.7" rx="5.4" ry="6.3"/><ellipse cx="84.7" cy="39.0" rx="4.3" ry="4.9"/><ellipse cx="144.0" cy="225.4" rx="4.8" ry="5.8"/><ellipse cx="126.9" cy="259.5" rx="4.4" ry="4.5"/><ellipse cx="105.8" cy="51.7" rx="5.3" ry="6.8"/><ellipse cx="124.3" cy="163.5" rx="3.6" ry="4.4"/><ellipse cx="79.7" cy="191.7" rx="4.8" ry="5.8"/><ellipse cx="108.0" cy="230.3" rx="4.9" ry="4.3"/><ellipse cx="133.4" cy="143.2" rx="4.5" ry="7.0"/><ellipse cx="115.3" cy="105.0" rx="4.1" ry="4.7"/><ellipse cx="89.4" cy="140.7" rx="4.7" ry="7.9"/><ellipse cx="142.1" cy="164.5" rx="4.0" ry="5.7"/><ellipse cx="114.1" cy="99.4" rx="5.2" ry="7.6"/><ellipse cx="55.6" cy="248.4" rx="4.3" ry="7.9"/><ellipse cx="43.0" cy="224.2" rx="4.6" ry="8.3"/><ellipse cx="55.8" cy="245.7" rx="5.0" ry="4.7"/><ellipse cx="118.7" cy="41.8" rx="5.9" ry="6.7"/><ellipse cx="97.9" cy="268.8" rx="4.6" ry="5.9"/><ellipse cx="40.9" cy="203.2" rx="5.1" ry="7.9"/><ellipse cx="67.7" cy="101.6" rx="5.9" ry="7.3"/><ellipse cx="41.9" cy="244.4" rx="4.8" ry="8.4"/><ellipse cx="132.5" cy="94.0" rx="4.8" ry="5.2"/><ellipse cx="103.1" cy="226.0" rx="5.0" ry="5.7"/><ellipse cx="97.8" cy="140.7" rx="4.4" ry="6.6"/><ellipse cx="103.0" cy="187.9" rx="4.9" ry="5.4"/><ellipse cx="51.7" cy="126.3" rx="5.1" ry="7.8"/><ellipse cx="43.3" cy="204.4" rx="4.6" ry="5.7"/><ellipse cx="145.7" cy="121.7" rx="4.7" ry="7.7"/><ellipse cx="85.9" cy="187.4" rx="4.5" ry="7.7"/><ellipse cx="128.1" cy="168.1" rx="5.6" ry="7.6"/><ellipse cx="60.6" cy="265.5" rx="6.0" ry="6.9"/><ellipse cx="135.9" cy="241.6" rx="4.0" ry="5.2"/><ellipse cx="77.3" cy="242.6" rx="5.4" ry="5.7"/><ellipse cx="81.5" cy="68.9" rx="4.1" ry="6.7"/><ellipse cx="123.8" cy="46.3" rx="3.9" ry="8.2"/><ellipse cx="37.0" cy="209.1" rx="5.8" ry="7.4"/><ellipse cx="80.4" cy="265.6" rx="5.2" ry="5.6"/><ellipse cx="138.3" cy="220.3" rx="5.9" ry="5.3"/><ellipse cx="68.1" cy="145.9" rx="4.7" ry="6.0"/><ellipse cx="140.5" cy="178.3" rx="4.6" ry="6.9"/><ellipse cx="98.9" cy="107.8" rx="4.9" ry="4.5"/><ellipse cx="145.3" cy="181.3" rx="4.5" ry="8.4"/><ellipse cx="67.7" cy="251.4" rx="5.0" ry="4.6"/><ellipse cx="151.7" cy="31.6" rx="4.8" ry="5.2"/><ellipse cx="55.7" cy="181.4" rx="4.6" ry="6.4"/><ellipse cx="118.7" cy="170.3" rx="6.0" ry="8.2"/><ellipse cx="52.1" cy="224.6" rx="3.9" ry="4.8"/><ellipse cx="134.3" cy="122.3" rx="3.9" ry="5.4"/><ellipse cx="91.4" cy="148.1" rx="4.3" ry="5.5"/><ellipse cx="80.7" cy="254.2" rx="5.6" ry="5.2"/><ellipse cx="92.9" cy="187.5" rx="5.1" ry="5.9"/><ellipse cx="63.6" cy="137.4" rx="5.4" ry="4.6"/><ellipse cx="100.8" cy="131.3" rx="4.7" ry="4.7"/><ellipse cx="124.7" cy="203.8" rx="5.7" ry="8.2"/><ellipse cx="52.3" cy="118.9" rx="3.7" ry="7.5"/><ellipse cx="119.7" cy="220.1" rx="5.2" ry="8.0"/><ellipse cx="138.5" cy="132.5" rx="5.9" ry="8.0"/><ellipse cx="89.3" cy="90.6" rx="4.7" ry="4.9"/><ellipse cx="39.1" cy="242.5" rx="4.4" ry="6.7"/><ellipse cx="122.3" cy="116.6" rx="4.5" ry="7.7"/><ellipse cx="41.0" cy="80.5" rx="5.8" ry="8.0"/><ellipse cx="80.1" cy="205.7" rx="6.0" ry="8.2"/><ellipse cx="41.6" cy="45.6" rx="4.5" ry="8.0"/><ellipse cx="47.9" cy="252.8" rx="3.7" ry="5.4"/><ellipse cx="70.7" cy="64.7" rx="4.3" ry="8.3"/><ellipse cx="99.6" cy="250.5" rx="4.6" ry="8.2"/><ellipse cx="54.9" cy="218.8" rx="5.9" ry="5.8"/><ellipse cx="34.6" cy="79.9" rx="3.7" ry="5.3"/><ellipse cx="89.9" cy="269.5" rx="5.0" ry="5.5"/><ellipse cx="90.3" cy="260.4" rx="5.6" ry="7.4"/><ellipse cx="60.3" cy="67.6" rx="5.0" ry="8.1"/><ellipse cx="86.5" cy="206.4" rx="5.0" ry="5.4"/><ellipse cx="70.7" cy="157.5" rx="4.8" ry="6.4"/><ellipse cx="35.3" cy="137.8" rx="4.7" ry="6.7"/><ellipse cx="66.5" cy="201.6" rx="5.1" ry="5.2"/><ellipse cx="73.9" cy="184.2" rx="5.6" ry="7.6"/><ellipse cx="105.3" cy="105.3" rx="4.1" ry="5.0"/><ellipse cx="73.3" cy="149.1" rx="4.9" ry="6.6"/><ellipse cx="129.1" cy="37.4" rx="5.9" ry="6.0"/><ellipse cx="122.0" cy="107.5" rx="4.5" ry="6.7"/><ellipse cx="78.1" cy="160.4" rx="5.5" ry="7.5"/><ellipse cx="48.5" cy="54.2" rx="4.4" ry="4.9"/><ellipse cx="132.9" cy="213.5" rx="5.3" ry="4.4"/><ellipse cx="108.9" cy="56.8" rx="5.5" ry="6.9"/><ellipse cx="45.2" cy="138.9" rx="5.7" ry="4.8"/><ellipse cx="148.8" cy="185.0" rx="5.5" ry="5.1"/><ellipse cx="120.8" cy="70.9" rx="4.9" ry="8.3"/><ellipse cx="44.4" cy="124.2" rx="4.8" ry="6.6"/><ellipse cx="67.0" cy="185.9" rx="5.5" ry="6.3"/><ellipse cx="149.7" cy="152.5" rx="4.4" ry="7.4"/><ellipse cx="55.3" cy="208.5" rx="5.1" ry="6.3"/><ellipse cx="150.4" cy="226.9" rx="4.7" ry="4.7"/><ellipse cx="114.6" cy="235.5" rx="4.0" ry="4.7"/><ellipse cx="141.3" cy="145.3" rx="5.0" ry="5.1"/><ellipse cx="104.3" cy="56.8" rx="5.0" ry="8.2"/><ellipse cx="61.0" cy="36.0" rx="4.7" ry="7.9"/><ellipse cx="130.3" cy="55.1" rx="4.0" ry="5.2"/><ellipse cx="37.5" cy="206.2" rx="4.9" ry="6.0"/><ellipse cx="105.6" cy="165.5" rx="5.7" ry="5.7"/><ellipse cx="39.3" cy="43.3" rx="5.3" ry="6.4"/><ellipse cx="165.4" cy="187.5" rx="3.6" ry="6.1"/><ellipse cx="106.9" cy="193.9" rx="3.8" ry="5.2"/><ellipse cx="103.6" cy="182.0" rx="5.1" ry="4.5"/><ellipse cx="107.1" cy="240.1" rx="5.2" ry="4.9"/><ellipse cx="121.5" cy="230.3" rx="5.5" ry="7.0"/><ellipse cx="125.6" cy="189.1" rx="5.6" ry="4.9"/><ellipse cx="43.4" cy="60.5" rx="4.9" ry="7.1"/><ellipse cx="100.0" cy="229.4" rx="5.3" ry="7.8"/><ellipse cx="39.6" cy="162.4" rx="4.7" ry="6.0"/><ellipse cx="112.8" cy="205.8" rx="5.9" ry="7.6"/><ellipse cx="51.5" cy="208.9" rx="4.7" ry="7.3"/><ellipse cx="36.9" cy="146.9" rx="5.8" ry="4.5"/><ellipse cx="101.4" cy="195.6" rx="3.7" ry="7.4"/><ellipse cx="96.6" cy="59.8" rx="5.9" ry="6.8"/><ellipse cx="143.0" cy="163.5" rx="3.6" ry="6.5"/><ellipse cx="59.0" cy="128.0" rx="4.5" ry="5.7"/><ellipse cx="156.2" cy="88.1" rx="5.8" ry="6.2"/><ellipse cx="59.2" cy="88.1" rx="4.5" ry="7.9"/><ellipse cx="40.5" cy="91.6" rx="5.9" ry="4.7"/><ellipse cx="164.5" cy="55.5" rx="5.6" ry="5.5"/><ellipse cx="65.9" cy="113.5" rx="5.3" ry="5.1"/><ellipse cx="58.8" cy="34.7" rx="4.8" ry="5.0"/><ellipse cx="68.7" cy="82.9" rx="5.8" ry="5.3"/><ellipse cx="35.1" cy="30.8" rx="4.0" ry="8.1"/><ellipse cx="165.1" cy="152.1" rx="4.1" ry="6.2"/><ellipse cx="103.2" cy="47.5" rx="3.7" ry="7.2"/><ellipse cx="72.5" cy="95.6" rx="3.6" ry="6.0"/><ellipse cx="80.7" cy="95.5" rx="5.8" ry="4.6"/><ellipse cx="107.1" cy="61.7" rx="4.1" ry="7.8"/><ellipse cx="42.3" cy="78.0" rx="5.3" ry="4.6"/><ellipse cx="142.7" cy="245.5" rx="5.4" ry="6.6"/><ellipse cx="125.2" cy="111.5" rx="3.6" ry="7.7"/><ellipse cx="74.1" cy="65.6" rx="4.9" ry="6.2"/><ellipse cx="122.3" cy="37.0" rx="4.5" ry="4.9"/><ellipse cx="95.8" cy="100.8" rx="4.7" ry="5.7"/><ellipse cx="68.8" cy="201.3" rx="4.7" ry="7.5"/><ellipse cx="60.9" cy="31.2" rx="5.0" ry="7.2"/><ellipse cx="82.5" cy="50.5" rx="3.8" ry="5.2"/><ellipse cx="92.9" cy="53.3" rx="5.6" ry="5.4"/><ellipse cx="57.6" cy="118.4" rx="5.3" ry="7.7"/><ellipse cx="46.9" cy="100.7" rx="3.6" ry="8.0"/><ellipse cx="89.7" cy="104.5" rx="4.8" ry="5.4"/><ellipse cx="65.7" cy="111.8" rx="5.4" ry="6.0"/><ellipse cx="109.9" cy="83.7" rx="4.9" ry="4.6"/><ellipse cx="113.6" cy="217.3" rx="5.7" ry="7.2"/><ellipse cx="54.4" cy="109.0" rx="4.3" ry="8.1"/><ellipse cx="65.2" cy="71.3" rx="5.6" ry="4.3"/><ellipse cx="116.6" cy="164.1" rx="3.9" ry="4.3"/><ellipse cx="132.7" cy="221.3" rx="5.6" ry="7.6"/><ellipse cx="67.5" cy="146.1" rx="5.9" ry="8.2"/><ellipse cx="58.4" cy="180.6" rx="5.8" ry="6.0"/><ellipse cx="125.5" cy="97.8" rx="5.2" ry="8.0"/><ellipse cx="78.7" cy="206.3" rx="5.2" ry="4.8"/><ellipse cx="36.5" cy="128.0" rx="5.2" ry="6.8"/><ellipse cx="117.9" cy="214.7" rx="3.8" ry="7.5"/><ellipse cx="93.3" cy="109.5" rx="5.1" ry="6.2"/><ellipse cx="53.4" cy="75.1" rx="5.1" ry="5.6"/><ellipse cx="43.9" cy="92.2" rx="5.9" ry="7.4"/><ellipse cx="141.9" cy="234.8" rx="5.4" ry="4.8"/><ellipse cx="130.1" cy="209.7" rx="4.6" ry="7.7"/><ellipse cx="106.5" cy="48.7" rx="4.2" ry="4.9"/><ellipse cx="116.9" cy="227.6" rx="4.3" ry="7.6"/><ellipse cx="155.3" cy="106.5" rx="4.8" ry="8.3"/><ellipse cx="38.1" cy="172.3" rx="4.4" ry="4.3"/><ellipse cx="103.0" cy="266.2" rx="5.7" ry="7.1"/><ellipse cx="44.0" cy="79.9" rx="4.3" ry="6.8"/><ellipse cx="143.4" cy="98.3" rx="5.2" ry="6.6"/><ellipse cx="37.9" cy="129.5" rx="5.2" ry="6.9"/><ellipse cx="116.0" cy="260.1" rx="4.0" ry="8.0"/><ellipse cx="122.5" cy="187.0" rx="5.8" ry="6.8"/><ellipse cx="60.2" cy="112.9" rx="4.3" ry="4.3"/><ellipse cx="80.2" cy="62.2" rx="3.7" ry="4.5"/><ellipse cx="94.9" cy="40.7" rx="5.6" ry="6.2"/><ellipse cx="129.9" cy="170.6" rx="4.4" ry="5.0"/><ellipse cx="45.3" cy="82.2" rx="4.3" ry="4.8"/><ellipse cx="49.6" cy="233.7" rx="4.5" ry="8.4"/><ellipse cx="111.5" cy="74.1" rx="5.5" ry="7.4"/><ellipse cx="41.2" cy="123.4" rx="5.9" ry="7.3"/><ellipse cx="34.7" cy="248.8" rx="4.7" ry="8.1"/><ellipse cx="125.5" cy="41.6" rx="4.7" ry="5.2"/><ellipse cx="120.1" cy="80.4" rx="4.2" ry="8.3"/><ellipse cx="49.0" cy="123.2" rx="4.9" ry="6.2"/><ellipse cx="96.1" cy="88.4" rx="4.0" ry="6.2"/><ellipse cx="76.7" cy="240.6" rx="5.2" ry="8.0"/><ellipse cx="86.9" cy="31.4" rx="4.4" ry="8.3"/><ellipse cx="136.1" cy="228.2" rx="4.8" ry="8.1"/><ellipse cx="123.0" cy="209.2" rx="6.0" ry="6.1"/><ellipse cx="105.1" cy="181.0" rx="4.5" ry="4.5"/><ellipse cx="128.3" cy="213.5" rx="3.8" ry="7.0"/><ellipse cx="78.2" cy="52.4" rx="5.4" ry="6.8"/><ellipse cx="149.5" cy="42.0" rx="4.4" ry="5.5"/><ellipse cx="49.3" cy="100.9" rx="4.9" ry="7.6"/><ellipse cx="109.8" cy="75.8" rx="5.3" ry="4.7"/><ellipse cx="81.8" cy="98.1" rx="4.5" ry="7.3"/><ellipse cx="108.3" cy="30.9" rx="4.4" ry="4.6"/><ellipse cx="96.8" cy="150.4" rx="5.6" ry="6.5"/><ellipse cx="111.4" cy="235.2" rx="4.8" ry="4.7"/><ellipse cx="35.2" cy="92.5" rx="4.1" ry="5.6"/><ellipse cx="94.0" cy="243.8" rx="4.4" ry="4.3"/><ellipse cx="41.9" cy="263.5" rx="4.1" ry="7.0"/><ellipse cx="37.8" cy="137.8" rx="5.1" ry="7.5"/><ellipse cx="115.4" cy="204.3" rx="4.0" ry="7.0"/><ellipse cx="85.8" cy="77.1" rx="4.0" ry="6.1"/><ellipse cx="106.6" cy="121.9" rx="5.4" ry="4.7"/><ellipse cx="86.5" cy="28.0" rx="3.9" ry="8.2"/><ellipse cx="69.4" cy="223.8" rx="4.3" ry="8.0"/><ellipse cx="119.3" cy="86.2" rx="4.9" ry="5.0"/><ellipse cx="59.6" cy="87.2" rx="5.9" ry="4.8"/><ellipse cx="55.6" cy="152.2" rx="5.1" ry="7.1"/><ellipse cx="42.2" cy="161.6" rx="4.8" ry="5.4"/><ellipse cx="114.3" cy="98.0" rx="5.2" ry="5.5"/><ellipse cx="100.9" cy="189.0" rx="4.0" ry="7.2"/><ellipse cx="48.4" cy="147.8" rx="3.8" ry="6.0"/><ellipse cx="45.6" cy="115.8" rx="4.6" ry="5.5"/><ellipse cx="66.6" cy="32.2" rx="5.9" ry="4.4"/><ellipse cx="54.8" cy="162.0" rx="4.4" ry="5.9"/><ellipse cx="141.6" cy="27.1" rx="4.6" ry="8.2"/><ellipse cx="90.6" cy="148.7" rx="4.8" ry="7.5"/><ellipse cx="159.0" cy="59.7" rx="3.9" ry="5.1"/><ellipse cx="112.0" cy="138.7" rx="4.4" ry="6.6"/><ellipse cx="62.8" cy="220.6" rx="3.8" ry="4.4"/><ellipse cx="61.8" cy="73.6" rx="3.8" ry="5.1"/><ellipse cx="55.6" cy="95.3" rx="4.4" ry="7.2"/><ellipse cx="56.0" cy="150.8" rx="4.9" ry="5.8"/><ellipse cx="81.1" cy="178.3" rx="4.8" ry="7.2"/><ellipse cx="145.4" cy="184.1" rx="3.9" ry="7.7"/><ellipse cx="90.8" cy="188.9" rx="5.6" ry="7.8"/><ellipse cx="52.1" cy="186.5" rx="4.4" ry="8.2"/><ellipse cx="70.1" cy="73.5" rx="4.2" ry="6.8"/><ellipse cx="101.6" cy="145.5" rx="5.8" ry="4.4"/><ellipse cx="113.2" cy="186.3" rx="4.0" ry="6.9"/><ellipse cx="44.6" cy="172.3" rx="5.0" ry="6.0"/><ellipse cx="92.0" cy="198.5" rx="4.6" ry="5.7"/><ellipse cx="118.7" cy="144.0" rx="3.8" ry="4.5"/><ellipse cx="118.7" cy="177.7" rx="5.7" ry="7.4"/><ellipse cx="54.8" cy="208.2" rx="5.8" ry="6.0"/><ellipse cx="84.9" cy="93.8" rx="4.8" ry="5.0"/><ellipse cx="62.7" cy="60.0" rx="4.9" ry="4.2"/><ellipse cx="139.2" cy="27.1" rx="4.6" ry="6.9"/><ellipse cx="116.1" cy="160.6" rx="4.3" ry="7.6"/><ellipse cx="134.9" cy="232.6" rx="5.8" ry="5.4"/><ellipse cx="116.2" cy="234.9" rx="4.5" ry="5.6"/><ellipse cx="110.9" cy="94.2" rx="3.9" ry="5.9"/><ellipse cx="67.0" cy="77.2" rx="5.2" ry="6.5"/><ellipse cx="140.2" cy="189.0" rx="4.7" ry="7.1"/><ellipse cx="160.7" cy="45.8" rx="4.6" ry="7.0"/><ellipse cx="120.2" cy="95.9" rx="4.2" ry="5.6"/><ellipse cx="119.8" cy="194.9" rx="5.8" ry="7.4"/><ellipse cx="69.9" cy="144.4" rx="3.8" ry="7.3"/><ellipse cx="74.7" cy="81.6" rx="4.2" ry="5.9"/><ellipse cx="51.5" cy="244.9" rx="4.3" ry="8.1"/><ellipse cx="128.0" cy="30.1" rx="4.1" ry="5.4"/><ellipse cx="134.8" cy="159.8" rx="5.9" ry="8.3"/><ellipse cx="58.7" cy="133.1" rx="5.2" ry="6.4"/><ellipse cx="133.8" cy="79.3" rx="5.8" ry="4.9"/><ellipse cx="72.3" cy="164.3" rx="4.2" ry="6.6"/><ellipse cx="43.1" cy="82.9" rx="4.5" ry="4.9"/><ellipse cx="113.7" cy="87.2" rx="4.8" ry="4.6"/><ellipse cx="106.5" cy="82.4" rx="4.9" ry="8.0"/><ellipse cx="46.8" cy="190.3" rx="5.4" ry="5.0"/><ellipse cx="56.1" cy="267.8" rx="5.2" ry="7.9"/><ellipse cx="57.0" cy="169.7" rx="4.9" ry="6.8"/><ellipse cx="129.7" cy="29.0" rx="4.5" ry="5.6"/><ellipse cx="143.1" cy="138.1" rx="4.2" ry="7.8"/><ellipse cx="63.4" cy="29.6" rx="5.4" ry="6.6"/><ellipse cx="128.1" cy="203.7" rx="5.3" ry="7.8"/><ellipse cx="51.8" cy="256.4" rx="5.9" ry="5.0"/><ellipse cx="71.5" cy="35.8" rx="4.6" ry="6.7"/><ellipse cx="111.2" cy="62.6" rx="3.9" ry="5.2"/><ellipse cx="94.2" cy="69.5" rx="5.6" ry="8.0"/><ellipse cx="133.7" cy="58.2" rx="4.1" ry="7.0"/><ellipse cx="102.5" cy="271.4" rx="3.8" ry="6.5"/><ellipse cx="115.3" cy="128.4" rx="6.0" ry="5.9"/><ellipse cx="40.0" cy="139.5" rx="5.4" ry="8.1"/><ellipse cx="57.9" cy="213.7" rx="5.1" ry="7.9"/><ellipse cx="88.1" cy="84.7" rx="3.7" ry="7.7"/><ellipse cx="105.4" cy="104.2" rx="5.5" ry="7.5"/><ellipse cx="145.0" cy="33.6" rx="4.1" ry="7.3"/><ellipse cx="104.0" cy="29.3" rx="4.8" ry="7.3"/><ellipse cx="138.4" cy="195.9" rx="4.4" ry="4.9"/><ellipse cx="64.7" cy="136.7" rx="4.7" ry="4.9"/><ellipse cx="46.5" cy="143.0" rx="5.8" ry="4.9"/><ellipse cx="129.3" cy="134.3" rx="5.8" ry="5.3"/><ellipse cx="69.8" cy="135.8" rx="5.2" ry="8.1"/><ellipse cx="133.7" cy="59.5" rx="5.9" ry="6.8"/><ellipse cx="40.1" cy="47.1" rx="4.7" ry="5.3"/><ellipse cx="136.9" cy="161.5" rx="5.9" ry="8.0"/><ellipse cx="119.8" cy="49.7" rx="5.5" ry="8.3"/><ellipse cx="54.0" cy="47.1" rx="5.7" ry="6.9"/><ellipse cx="103.4" cy="168.1" rx="4.4" ry="4.3"/><ellipse cx="77.2" cy="195.3" rx="4.6" ry="4.3"/><ellipse cx="58.5" cy="239.4" rx="5.4" ry="5.3"/><ellipse cx="59.4" cy="156.0" rx="4.1" ry="6.3"/><ellipse cx="126.7" cy="165.0" rx="5.4" ry="5.0"/><ellipse cx="53.6" cy="259.9" rx="4.4" ry="6.5"/><ellipse cx="34.4" cy="91.9" rx="5.8" ry="4.2"/><ellipse cx="130.5" cy="182.5" rx="4.3" ry="7.3"/><ellipse cx="102.4" cy="41.8" rx="3.7" ry="4.5"/><ellipse cx="64.3" cy="140.9" rx="3.9" ry="7.6"/><ellipse cx="142.3" cy="209.0" rx="4.1" ry="8.2"/><ellipse cx="88.2" cy="267.1" rx="4.2" ry="5.1"/><ellipse cx="34.2" cy="38.6" rx="5.6" ry="6.7"/><ellipse cx="107.8" cy="147.1" rx="5.3" ry="5.1"/><ellipse cx="76.0" cy="99.6" rx="4.1" ry="8.2"/><ellipse cx="112.7" cy="218.4" rx="5.5" ry="6.4"/><ellipse cx="46.3" cy="56.4" rx="5.2" ry="8.1"/><ellipse cx="159.2" cy="89.0" rx="3.8" ry="4.7"/><ellipse cx="48.0" cy="104.7" rx="5.8" ry="5.7"/><ellipse cx="79.8" cy="248.5" rx="4.1" ry="6.5"/><ellipse cx="136.3" cy="76.6" rx="5.9" ry="4.5"/><ellipse cx="117.5" cy="202.2" rx="4.8" ry="6.7"/><ellipse cx="86.1" cy="122.2" rx="4.8" ry="6.9"/><ellipse cx="52.2" cy="227.0" rx="5.4" ry="6.3"/><ellipse cx="46.9" cy="44.2" rx="3.9" ry="8.1"/><ellipse cx="53.2" cy="151.6" rx="6.0" ry="4.8"/><ellipse cx="137.6" cy="108.3" rx="4.3" ry="7.5"/><ellipse cx="36.6" cy="183.0" rx="4.0" ry="6.9"/><ellipse cx="64.7" cy="40.8" rx="5.7" ry="4.7"/><ellipse cx="127.9" cy="139.3" rx="4.6" ry="5.7"/><ellipse cx="100.9" cy="182.2" rx="3.7" ry="7.2"/><ellipse cx="86.4" cy="170.1" rx="5.0" ry="5.0"/><ellipse cx="60.6" cy="28.9" rx="3.9" ry="5.8"/><ellipse cx="106.7" cy="123.8" rx="5.1" ry="6.0"/><ellipse cx="90.7" cy="109.5" rx="5.2" ry="5.3"/><ellipse cx="110.9" cy="161.2" rx="5.4" ry="7.5"/><ellipse cx="43.6" cy="123.3" rx="5.8" ry="5.2"/><ellipse cx="65.1" cy="168.9" rx="3.8" ry="5.3"/><ellipse cx="105.7" cy="123.5" rx="3.7" ry="5.2"/><ellipse cx="34.0" cy="184.5" rx="4.9" ry="5.3"/><ellipse cx="52.2" cy="106.2" rx="4.7" ry="6.4"/><ellipse cx="123.5" cy="83.9" rx="4.6" ry="5.9"/><ellipse cx="141.8" cy="215.1" rx="5.9" ry="5.4"/><ellipse cx="53.5" cy="219.3" rx="5.9" ry="4.6"/><ellipse cx="109.0" cy="251.7" rx="5.0" ry="6.7"/><ellipse cx="36.8" cy="234.0" rx="5.2" ry="6.1"/><ellipse cx="88.8" cy="57.3" rx="4.5" ry="7.6"/><ellipse cx="60.7" cy="105.3" rx="5.6" ry="7.8"/><ellipse cx="69.2" cy="270.0" rx="3.7" ry="5.9"/><ellipse cx="107.2" cy="127.9" rx="4.7" ry="4.7"/><ellipse cx="48.1" cy="41.2" rx="4.1" ry="6.1"/><ellipse cx="141.3" cy="149.2" rx="4.8" ry="6.4"/><ellipse cx="86.8" cy="187.2" rx="5.2" ry="5.8"/><ellipse cx="37.6" cy="125.1" rx="5.5" ry="6.1"/><ellipse cx="100.9" cy="208.8" rx="5.3" ry="7.2"/><ellipse cx="81.9" cy="210.0" rx="5.4" ry="6.2"/><ellipse cx="152.8" cy="108.7" rx="4.5" ry="4.6"/><ellipse cx="97.5" cy="203.2" rx="4.0" ry="5.9"/><ellipse cx="137.7" cy="247.2" rx="4.1" ry="5.2"/><ellipse cx="57.1" cy="121.9" rx="4.2" ry="4.9"/><ellipse cx="36.7" cy="263.0" rx="5.3" ry="6.0"/><ellipse cx="83.0" cy="95.9" rx="4.0" ry="6.7"/><ellipse cx="132.6" cy="159.3" rx="3.8" ry="7.3"/><ellipse cx="67.5" cy="49.7" rx="4.3" ry="4.7"/><ellipse cx="120.7" cy="238.1" rx="4.5" ry="5.9"/><ellipse cx="133.5" cy="164.5" rx="3.8" ry="7.0"/><ellipse cx="53.8" cy="173.4" rx="3.9" ry="4.4"/><ellipse cx="93.0" cy="122.8" rx="3.7" ry="6.4"/><ellipse cx="63.6" cy="161.2" rx="5.9" ry="4.8"/><ellipse cx="54.5" cy="53.6" rx="4.3" ry="6.1"/><ellipse cx="110.4" cy="212.8" rx="5.5" ry="7.4"/><ellipse cx="123.3" cy="208.4" rx="5.4" ry="7.7"/><ellipse cx="111.5" cy="171.3" rx="5.8" ry="5.2"/><ellipse cx="88.2" cy="33.8" rx="5.0" ry="6.9"/><ellipse cx="71.8" cy="76.0" rx="5.4" ry="7.7"/><ellipse cx="122.3" cy="102.4" rx="4.4" ry="5.8"/><ellipse cx="111.5" cy="258.6" rx="4.6" ry="8.0"/><ellipse cx="98.7" cy="35.2" rx="4.0" ry="5.0"/><ellipse cx="70.6" cy="204.2" rx="5.8" ry="5.3"/><ellipse cx="116.0" cy="123.7" rx="4.3" ry="7.2"/><ellipse cx="47.4" cy="87.3" rx="4.9" ry="4.7"/><ellipse cx="85.0" cy="131.1" rx="5.7" ry="6.8"/><ellipse cx="97.8" cy="187.3" rx="4.1" ry="5.5"/><ellipse cx="112.3" cy="218.3" rx="5.6" ry="6.6"/><ellipse cx="60.6" cy="38.8" rx="4.8" ry="6.0"/><ellipse cx="44.7" cy="52.6" rx="5.6" ry="7.0"/><ellipse cx="151.1" cy="93.8" rx="4.2" ry="7.1"/><ellipse cx="72.8" cy="169.7" rx="4.9" ry="6.1"/><ellipse cx="115.8" cy="112.0" rx="5.5" ry="8.3"/><ellipse cx="57.8" cy="36.3" rx="5.3" ry="6.1"/><ellipse cx="153.4" cy="110.9" rx="4.1" ry="6.5"/><ellipse cx="123.6" cy="258.2" rx="4.0" ry="5.9"/><ellipse cx="112.7" cy="63.1" rx="4.4" ry="7.5"/><ellipse cx="88.8" cy="168.3" rx="4.4" ry="4.5"/><ellipse cx="34.5" cy="219.8" rx="4.0" ry="8.1"/><ellipse cx="133.4" cy="28.1" rx="4.9" ry="5.2"/><ellipse cx="93.0" cy="160.6" rx="5.7" ry="8.2"/><ellipse cx="170.7" cy="75.3" rx="3.6" ry="8.0"/><ellipse cx="161.3" cy="258.9" rx="3.3" ry="7.2"/><ellipse cx="180.1" cy="119.1" rx="2.7" ry="7.3"/><ellipse cx="166.5" cy="67.2" rx="3.4" ry="6.0"/><ellipse cx="185.2" cy="248.4" rx="3.6" ry="8.5"/><ellipse cx="161.6" cy="224.2" rx="3.6" ry="5.3"/><ellipse cx="173.6" cy="95.5" rx="3.0" ry="4.7"/><ellipse cx="169.1" cy="58.0" rx="3.9" ry="6.0"/><ellipse cx="163.0" cy="65.1" rx="3.4" ry="7.0"/><ellipse cx="173.4" cy="60.8" rx="3.4" ry="4.7"/><ellipse cx="160.1" cy="44.2" rx="2.7" ry="7.2"/><ellipse cx="160.4" cy="244.2" rx="3.5" ry="9.0"/></g>
<g fill="url(#r7)"><ellipse cx="89.4" cy="184.5" rx="3.9" ry="5.7"/><ellipse cx="97.1" cy="157.5" rx="4.6" ry="7.0"/><ellipse cx="108.9" cy="90.5" rx="5.2" ry="7.3"/><ellipse cx="41.4" cy="36.5" rx="4.7" ry="8.3"/><ellipse cx="71.9" cy="33.8" rx="4.2" ry="6.1"/><ellipse cx="59.2" cy="272.3" rx="4.9" ry="6.4"/><ellipse cx="100.1" cy="64.5" rx="5.8" ry="7.1"/><ellipse cx="68.3" cy="203.2" rx="6.0" ry="5.2"/><ellipse cx="94.9" cy="147.9" rx="5.5" ry="5.6"/><ellipse cx="94.4" cy="101.4" rx="4.1" ry="6.7"/><ellipse cx="100.6" cy="232.9" rx="5.8" ry="4.5"/><ellipse cx="51.4" cy="198.0" rx="5.2" ry="5.4"/><ellipse cx="54.6" cy="205.4" rx="4.3" ry="6.6"/><ellipse cx="53.5" cy="153.1" rx="4.2" ry="8.3"/><ellipse cx="46.8" cy="196.0" rx="5.1" ry="5.5"/><ellipse cx="56.8" cy="75.8" rx="3.8" ry="7.2"/><ellipse cx="87.6" cy="55.1" rx="5.1" ry="6.3"/><ellipse cx="94.4" cy="91.0" rx="5.3" ry="8.0"/><ellipse cx="125.8" cy="156.6" rx="5.3" ry="5.5"/><ellipse cx="120.6" cy="99.6" rx="5.7" ry="7.4"/><ellipse cx="40.8" cy="184.4" rx="5.6" ry="7.2"/><ellipse cx="86.0" cy="163.5" rx="3.7" ry="7.3"/><ellipse cx="119.0" cy="58.8" rx="4.3" ry="5.5"/><ellipse cx="54.6" cy="265.4" rx="5.9" ry="4.6"/><ellipse cx="74.0" cy="249.0" rx="5.6" ry="5.9"/><ellipse cx="166.3" cy="224.0" rx="5.1" ry="4.6"/><ellipse cx="62.8" cy="221.5" rx="5.6" ry="4.9"/><ellipse cx="56.6" cy="234.0" rx="5.6" ry="6.1"/><ellipse cx="127.6" cy="139.9" rx="5.5" ry="8.0"/><ellipse cx="108.2" cy="110.2" rx="5.2" ry="7.3"/><ellipse cx="118.2" cy="229.1" rx="4.9" ry="8.3"/><ellipse cx="46.7" cy="159.7" rx="4.4" ry="4.6"/><ellipse cx="143.4" cy="217.6" rx="5.6" ry="5.8"/><ellipse cx="58.8" cy="218.9" rx="4.6" ry="5.8"/><ellipse cx="113.8" cy="160.0" rx="4.9" ry="6.4"/><ellipse cx="127.0" cy="166.9" rx="4.4" ry="7.4"/><ellipse cx="52.8" cy="167.8" rx="5.2" ry="5.9"/><ellipse cx="35.1" cy="208.5" rx="3.6" ry="4.5"/><ellipse cx="42.3" cy="175.8" rx="5.8" ry="6.0"/><ellipse cx="49.3" cy="169.7" rx="4.6" ry="6.4"/><ellipse cx="98.1" cy="239.8" rx="5.6" ry="4.3"/><ellipse cx="72.0" cy="95.1" rx="3.6" ry="4.9"/><ellipse cx="70.1" cy="150.8" rx="4.2" ry="5.2"/><ellipse cx="75.2" cy="170.3" rx="3.9" ry="7.4"/><ellipse cx="81.1" cy="82.8" rx="3.9" ry="5.6"/><ellipse cx="91.1" cy="196.6" rx="5.0" ry="6.9"/><ellipse cx="64.7" cy="42.2" rx="4.7" ry="8.0"/><ellipse cx="56.4" cy="190.7" rx="5.1" ry="5.4"/><ellipse cx="56.9" cy="68.0" rx="4.1" ry="8.4"/><ellipse cx="109.5" cy="249.8" rx="5.0" ry="7.2"/><ellipse cx="35.5" cy="49.6" rx="5.2" ry="5.4"/><ellipse cx="84.9" cy="62.0" rx="5.8" ry="5.8"/><ellipse cx="146.6" cy="103.9" rx="4.7" ry="7.9"/><ellipse cx="102.8" cy="252.9" rx="5.0" ry="5.4"/><ellipse cx="79.5" cy="28.9" rx="5.0" ry="8.2"/><ellipse cx="95.3" cy="105.1" rx="4.6" ry="8.4"/><ellipse cx="121.3" cy="246.5" rx="5.2" ry="7.3"/><ellipse cx="87.5" cy="98.5" rx="4.4" ry="6.1"/><ellipse cx="150.5" cy="257.5" rx="5.0" ry="5.4"/><ellipse cx="129.0" cy="272.6" rx="4.1" ry="7.5"/><ellipse cx="107.9" cy="67.3" rx="4.2" ry="4.9"/><ellipse cx="65.3" cy="27.9" rx="4.8" ry="5.2"/><ellipse cx="69.8" cy="95.1" rx="5.7" ry="4.3"/><ellipse cx="47.7" cy="37.4" rx="4.5" ry="6.7"/><ellipse cx="119.2" cy="146.9" rx="4.9" ry="5.2"/><ellipse cx="139.9" cy="148.5" rx="4.5" ry="8.0"/><ellipse cx="36.1" cy="194.7" rx="4.6" ry="6.8"/><ellipse cx="131.7" cy="77.1" rx="5.4" ry="6.6"/><ellipse cx="88.4" cy="148.4" rx="3.9" ry="4.9"/><ellipse cx="35.7" cy="272.9" rx="3.9" ry="6.6"/><ellipse cx="142.1" cy="63.7" rx="3.7" ry="7.4"/><ellipse cx="107.0" cy="35.6" rx="5.4" ry="6.9"/><ellipse cx="68.2" cy="204.7" rx="4.0" ry="5.8"/><ellipse cx="40.5" cy="200.8" rx="4.7" ry="5.4"/><ellipse cx="86.0" cy="250.1" rx="4.4" ry="6.3"/><ellipse cx="40.1" cy="193.1" rx="5.9" ry="4.7"/><ellipse cx="44.3" cy="183.6" rx="5.6" ry="4.7"/><ellipse cx="107.2" cy="265.2" rx="4.4" ry="6.5"/><ellipse cx="129.7" cy="56.0" rx="5.0" ry="4.4"/><ellipse cx="143.6" cy="135.0" rx="4.1" ry="7.0"/><ellipse cx="86.1" cy="116.9" rx="4.1" ry="7.5"/><ellipse cx="100.8" cy="214.0" rx="4.8" ry="5.2"/><ellipse cx="66.0" cy="222.5" rx="3.9" ry="4.8"/><ellipse cx="66.4" cy="271.8" rx="3.7" ry="6.1"/><ellipse cx="98.4" cy="80.1" rx="4.5" ry="6.9"/><ellipse cx="78.6" cy="82.3" rx="4.3" ry="8.1"/><ellipse cx="72.7" cy="68.1" rx="3.7" ry="8.0"/><ellipse cx="90.8" cy="152.9" rx="5.8" ry="5.4"/><ellipse cx="63.1" cy="237.0" rx="4.5" ry="5.0"/><ellipse cx="43.8" cy="220.5" rx="5.2" ry="7.4"/><ellipse cx="100.6" cy="266.3" rx="4.2" ry="7.5"/><ellipse cx="35.3" cy="28.9" rx="3.8" ry="5.2"/><ellipse cx="134.0" cy="67.1" rx="4.8" ry="7.6"/><ellipse cx="116.0" cy="225.6" rx="4.9" ry="7.4"/><ellipse cx="75.3" cy="162.0" rx="5.3" ry="6.2"/><ellipse cx="72.8" cy="99.8" rx="4.3" ry="6.6"/><ellipse cx="80.2" cy="216.4" rx="4.1" ry="8.4"/><ellipse cx="75.7" cy="55.4" rx="4.1" ry="7.0"/><ellipse cx="40.1" cy="142.8" rx="5.8" ry="6.6"/><ellipse cx="63.5" cy="238.5" rx="4.4" ry="6.7"/><ellipse cx="76.2" cy="116.9" rx="5.8" ry="5.5"/><ellipse cx="103.9" cy="107.7" rx="5.8" ry="5.9"/><ellipse cx="88.4" cy="158.5" rx="3.8" ry="4.7"/><ellipse cx="82.7" cy="225.5" rx="5.9" ry="5.3"/><ellipse cx="86.4" cy="123.3" rx="4.1" ry="5.3"/><ellipse cx="133.6" cy="237.1" rx="5.2" ry="5.2"/><ellipse cx="48.1" cy="149.8" rx="4.8" ry="6.8"/><ellipse cx="38.3" cy="168.7" rx="6.0" ry="7.8"/><ellipse cx="150.6" cy="212.9" rx="3.8" ry="7.1"/><ellipse cx="128.7" cy="157.0" rx="4.2" ry="6.5"/><ellipse cx="36.2" cy="129.6" rx="4.3" ry="5.1"/><ellipse cx="43.1" cy="145.5" rx="4.7" ry="4.8"/><ellipse cx="45.4" cy="176.1" rx="4.1" ry="7.6"/><ellipse cx="84.7" cy="223.4" rx="5.6" ry="4.2"/><ellipse cx="107.6" cy="216.2" rx="5.7" ry="7.2"/><ellipse cx="127.6" cy="51.0" rx="3.7" ry="7.5"/><ellipse cx="126.6" cy="143.5" rx="4.2" ry="5.1"/><ellipse cx="146.3" cy="207.3" rx="4.0" ry="7.1"/><ellipse cx="51.5" cy="83.4" rx="4.8" ry="5.4"/><ellipse cx="80.2" cy="84.6" rx="4.1" ry="7.0"/><ellipse cx="109.0" cy="251.9" rx="5.4" ry="7.0"/><ellipse cx="62.0" cy="237.0" rx="5.3" ry="6.6"/><ellipse cx="43.6" cy="187.0" rx="6.0" ry="6.6"/><ellipse cx="41.2" cy="153.7" rx="4.1" ry="4.9"/><ellipse cx="71.0" cy="74.6" rx="4.5" ry="4.9"/><ellipse cx="114.9" cy="62.1" rx="4.9" ry="4.4"/><ellipse cx="100.8" cy="116.5" rx="4.7" ry="6.9"/><ellipse cx="57.2" cy="70.9" rx="5.8" ry="6.6"/><ellipse cx="124.7" cy="87.8" rx="5.3" ry="8.3"/><ellipse cx="150.8" cy="155.9" rx="5.6" ry="7.3"/><ellipse cx="74.7" cy="228.7" rx="4.8" ry="5.0"/><ellipse cx="81.5" cy="204.5" rx="4.6" ry="8.4"/><ellipse cx="130.6" cy="209.8" rx="5.6" ry="5.5"/><ellipse cx="110.0" cy="157.1" rx="3.7" ry="5.0"/><ellipse cx="79.8" cy="231.2" rx="3.9" ry="6.6"/><ellipse cx="40.7" cy="133.0" rx="5.2" ry="7.3"/><ellipse cx="160.1" cy="54.7" rx="5.2" ry="7.1"/><ellipse cx="72.8" cy="155.8" rx="5.9" ry="7.6"/><ellipse cx="83.9" cy="71.2" rx="4.7" ry="4.5"/><ellipse cx="45.3" cy="205.1" rx="4.7" ry="5.3"/><ellipse cx="37.4" cy="115.4" rx="4.4" ry="8.2"/><ellipse cx="102.4" cy="35.8" rx="4.3" ry="7.3"/><ellipse cx="146.1" cy="94.6" rx="5.5" ry="4.4"/><ellipse cx="105.4" cy="227.4" rx="5.1" ry="4.4"/><ellipse cx="90.5" cy="219.4" rx="5.9" ry="5.6"/><ellipse cx="81.0" cy="242.5" rx="3.7" ry="4.5"/><ellipse cx="76.2" cy="227.6" rx="4.4" ry="4.8"/><ellipse cx="127.2" cy="95.7" rx="3.4" ry="6.2"/><ellipse cx="74.7" cy="74.1" rx="4.5" ry="6.2"/><ellipse cx="51.0" cy="84.5" rx="3.6" ry="6.6"/><ellipse cx="77.0" cy="223.6" rx="3.6" ry="4.6"/><ellipse cx="76.2" cy="186.9" rx="3.7" ry="4.9"/><ellipse cx="91.3" cy="118.3" rx="4.5" ry="5.3"/><ellipse cx="97.8" cy="128.7" rx="3.6" ry="5.7"/><ellipse cx="120.4" cy="170.9" rx="4.0" ry="3.5"/><ellipse cx="42.6" cy="227.4" rx="4.3" ry="4.2"/><ellipse cx="131.8" cy="122.5" rx="3.6" ry="5.7"/><ellipse cx="109.3" cy="181.6" rx="3.1" ry="6.3"/><ellipse cx="156.7" cy="226.9" rx="4.1" ry="5.8"/><ellipse cx="56.3" cy="168.2" rx="4.4" ry="3.9"/><ellipse cx="65.9" cy="175.7" rx="4.4" ry="6.6"/><ellipse cx="105.8" cy="87.6" rx="4.3" ry="5.4"/><ellipse cx="133.0" cy="166.9" rx="3.0" ry="3.6"/><ellipse cx="103.6" cy="201.4" rx="3.8" ry="3.5"/><ellipse cx="36.3" cy="166.4" rx="3.4" ry="3.9"/><ellipse cx="66.9" cy="114.5" rx="3.9" ry="3.7"/><ellipse cx="123.6" cy="207.6" rx="4.1" ry="4.7"/><ellipse cx="123.6" cy="112.9" rx="3.9" ry="5.4"/><ellipse cx="141.8" cy="160.3" rx="4.1" ry="3.9"/><ellipse cx="45.3" cy="187.6" rx="3.4" ry="5.3"/><ellipse cx="54.1" cy="258.2" rx="4.0" ry="6.4"/><ellipse cx="113.1" cy="238.7" rx="4.1" ry="5.0"/><ellipse cx="143.9" cy="263.4" rx="4.2" ry="3.4"/><ellipse cx="77.3" cy="32.0" rx="3.5" ry="4.0"/><ellipse cx="88.0" cy="133.5" rx="4.4" ry="5.9"/><ellipse cx="65.2" cy="149.0" rx="4.3" ry="3.4"/><ellipse cx="133.7" cy="171.6" rx="3.4" ry="5.3"/><ellipse cx="66.5" cy="185.0" rx="3.6" ry="3.8"/><ellipse cx="85.5" cy="47.9" rx="3.6" ry="3.8"/><ellipse cx="113.8" cy="167.7" rx="4.1" ry="5.4"/><ellipse cx="50.9" cy="198.6" rx="4.2" ry="5.6"/><ellipse cx="45.2" cy="196.0" rx="4.0" ry="3.4"/><ellipse cx="114.8" cy="90.1" rx="4.4" ry="3.5"/><ellipse cx="114.2" cy="154.5" rx="3.5" ry="4.4"/><ellipse cx="83.7" cy="53.6" rx="3.9" ry="6.6"/><ellipse cx="107.6" cy="214.0" rx="3.5" ry="5.9"/><ellipse cx="157.7" cy="252.5" rx="3.1" ry="6.4"/><ellipse cx="68.1" cy="68.5" rx="4.3" ry="3.3"/><ellipse cx="69.7" cy="170.4" rx="3.6" ry="5.7"/><ellipse cx="111.8" cy="109.0" rx="4.2" ry="4.5"/><ellipse cx="76.4" cy="148.9" rx="3.6" ry="6.1"/><ellipse cx="54.4" cy="233.3" rx="3.9" ry="3.5"/><ellipse cx="120.0" cy="73.8" rx="3.9" ry="4.1"/><ellipse cx="63.1" cy="31.0" rx="3.4" ry="4.6"/><ellipse cx="93.1" cy="252.3" rx="4.3" ry="6.0"/><ellipse cx="83.9" cy="236.5" rx="3.0" ry="3.5"/><ellipse cx="88.7" cy="118.4" rx="3.9" ry="3.9"/><ellipse cx="99.6" cy="177.8" rx="3.7" ry="5.4"/><ellipse cx="57.6" cy="36.4" rx="3.9" ry="4.4"/><ellipse cx="137.8" cy="62.3" rx="3.6" ry="4.3"/><ellipse cx="59.6" cy="191.6" rx="4.1" ry="5.5"/><ellipse cx="61.5" cy="41.6" rx="4.4" ry="3.9"/><ellipse cx="73.7" cy="94.1" rx="4.3" ry="6.5"/><ellipse cx="104.9" cy="94.8" rx="3.9" ry="5.3"/><ellipse cx="140.7" cy="181.7" rx="3.7" ry="5.7"/><ellipse cx="119.0" cy="157.5" rx="3.3" ry="4.5"/><ellipse cx="87.9" cy="237.6" rx="3.4" ry="3.9"/><ellipse cx="66.5" cy="217.5" rx="3.1" ry="5.4"/><ellipse cx="91.3" cy="43.5" rx="4.2" ry="4.9"/><ellipse cx="136.3" cy="54.4" rx="3.5" ry="3.9"/><ellipse cx="98.3" cy="227.0" rx="4.1" ry="4.2"/><ellipse cx="90.6" cy="213.2" rx="3.2" ry="5.2"/><ellipse cx="44.4" cy="232.3" rx="3.4" ry="6.5"/><ellipse cx="44.4" cy="218.3" rx="3.9" ry="4.2"/><ellipse cx="88.9" cy="77.6" rx="4.0" ry="3.3"/><ellipse cx="145.5" cy="244.6" rx="4.1" ry="3.8"/><ellipse cx="48.7" cy="252.1" rx="3.9" ry="5.4"/><ellipse cx="77.1" cy="113.4" rx="3.6" ry="3.8"/><ellipse cx="151.6" cy="146.5" rx="3.9" ry="5.5"/><ellipse cx="107.2" cy="117.9" rx="3.2" ry="5.4"/><ellipse cx="41.5" cy="220.7" rx="3.7" ry="5.3"/><ellipse cx="152.6" cy="253.6" rx="3.1" ry="6.2"/><ellipse cx="66.5" cy="83.9" rx="3.7" ry="6.3"/><ellipse cx="35.6" cy="246.9" rx="3.5" ry="4.2"/><ellipse cx="110.4" cy="143.2" rx="3.6" ry="3.9"/><ellipse cx="133.7" cy="45.7" rx="3.3" ry="6.1"/><ellipse cx="100.1" cy="173.3" rx="3.7" ry="5.6"/><ellipse cx="87.0" cy="138.3" rx="3.9" ry="5.9"/><ellipse cx="151.1" cy="185.9" rx="3.5" ry="5.1"/><ellipse cx="128.6" cy="97.1" rx="4.5" ry="5.1"/><ellipse cx="58.7" cy="186.4" rx="4.5" ry="5.0"/><ellipse cx="99.9" cy="135.8" rx="3.5" ry="3.5"/><ellipse cx="102.5" cy="128.5" rx="4.3" ry="4.9"/><ellipse cx="129.2" cy="59.4" rx="4.3" ry="4.1"/><ellipse cx="35.7" cy="186.2" rx="4.4" ry="4.3"/><ellipse cx="70.9" cy="110.1" rx="3.9" ry="4.0"/><ellipse cx="58.6" cy="69.2" rx="3.7" ry="6.1"/><ellipse cx="128.7" cy="125.2" rx="4.2" ry="5.9"/><ellipse cx="93.8" cy="124.9" rx="4.2" ry="6.0"/><ellipse cx="79.6" cy="246.8" rx="3.6" ry="5.3"/><ellipse cx="120.2" cy="246.2" rx="3.7" ry="5.9"/><ellipse cx="76.9" cy="176.2" rx="3.1" ry="6.0"/><ellipse cx="53.0" cy="93.4" rx="3.3" ry="4.7"/><ellipse cx="52.1" cy="141.5" rx="3.0" ry="4.0"/><ellipse cx="41.5" cy="105.7" rx="4.5" ry="6.3"/><ellipse cx="128.3" cy="84.3" rx="4.4" ry="5.6"/><ellipse cx="101.1" cy="86.7" rx="3.3" ry="6.3"/><ellipse cx="62.2" cy="29.9" rx="3.5" ry="5.7"/><ellipse cx="145.5" cy="201.1" rx="4.4" ry="5.3"/><ellipse cx="153.3" cy="174.4" rx="4.1" ry="4.6"/><ellipse cx="54.4" cy="109.5" rx="3.2" ry="5.0"/><ellipse cx="73.3" cy="63.2" rx="4.0" ry="4.1"/><ellipse cx="108.3" cy="88.1" rx="3.8" ry="6.4"/><ellipse cx="57.3" cy="223.7" rx="3.9" ry="5.2"/><ellipse cx="93.2" cy="228.6" rx="4.0" ry="4.9"/><ellipse cx="96.3" cy="240.3" rx="4.2" ry="5.9"/><ellipse cx="132.1" cy="261.7" rx="3.1" ry="3.9"/><ellipse cx="157.5" cy="76.5" rx="3.7" ry="3.9"/><ellipse cx="47.2" cy="120.6" rx="3.8" ry="4.1"/><ellipse cx="81.8" cy="115.1" rx="3.8" ry="6.4"/><ellipse cx="88.4" cy="80.1" rx="3.3" ry="4.3"/><ellipse cx="78.3" cy="228.3" rx="3.9" ry="4.3"/><ellipse cx="36.2" cy="248.2" rx="3.7" ry="4.9"/><ellipse cx="90.7" cy="44.1" rx="3.4" ry="4.1"/><ellipse cx="136.2" cy="154.0" rx="3.3" ry="5.1"/><ellipse cx="125.3" cy="179.0" rx="3.9" ry="3.3"/><ellipse cx="94.5" cy="187.7" rx="4.2" ry="4.9"/><ellipse cx="63.4" cy="168.1" rx="4.1" ry="3.5"/><ellipse cx="75.7" cy="254.2" rx="4.4" ry="6.4"/><ellipse cx="78.4" cy="67.1" rx="4.0" ry="3.8"/><ellipse cx="57.6" cy="69.0" rx="3.7" ry="5.3"/><ellipse cx="65.6" cy="241.0" rx="4.4" ry="6.5"/><ellipse cx="71.8" cy="66.0" rx="4.3" ry="4.7"/><ellipse cx="61.1" cy="116.0" rx="4.0" ry="3.5"/><ellipse cx="65.5" cy="142.3" rx="3.4" ry="3.5"/><ellipse cx="56.1" cy="256.6" rx="4.0" ry="5.5"/><ellipse cx="75.1" cy="101.4" rx="3.7" ry="4.3"/><ellipse cx="121.1" cy="169.6" rx="3.4" ry="4.3"/><ellipse cx="78.8" cy="96.3" rx="3.4" ry="3.4"/><ellipse cx="92.0" cy="137.5" rx="3.1" ry="4.6"/><ellipse cx="35.8" cy="269.3" rx="4.4" ry="4.2"/><ellipse cx="127.8" cy="94.3" rx="3.7" ry="4.6"/><ellipse cx="117.4" cy="74.6" rx="3.9" ry="5.3"/><ellipse cx="62.9" cy="205.7" rx="3.6" ry="5.1"/><ellipse cx="127.8" cy="229.4" rx="3.7" ry="3.7"/><ellipse cx="121.4" cy="177.0" rx="3.1" ry="3.6"/><ellipse cx="49.4" cy="124.8" rx="3.5" ry="5.5"/><ellipse cx="43.7" cy="143.8" rx="3.8" ry="6.5"/><ellipse cx="161.3" cy="233.1" rx="4.4" ry="6.1"/><ellipse cx="83.5" cy="122.2" rx="3.2" ry="4.6"/><ellipse cx="138.3" cy="228.1" rx="3.2" ry="4.0"/><ellipse cx="87.3" cy="147.9" rx="4.0" ry="5.6"/><ellipse cx="96.0" cy="192.3" rx="4.2" ry="3.4"/><ellipse cx="43.4" cy="252.2" rx="4.0" ry="5.5"/><ellipse cx="135.9" cy="126.1" rx="3.4" ry="4.7"/><ellipse cx="39.9" cy="155.3" rx="3.3" ry="3.5"/><ellipse cx="70.7" cy="79.1" rx="3.0" ry="3.9"/><ellipse cx="50.1" cy="212.3" rx="4.5" ry="3.7"/><ellipse cx="45.3" cy="227.3" rx="3.9" ry="3.4"/><ellipse cx="62.2" cy="128.2" rx="3.6" ry="5.7"/><ellipse cx="69.5" cy="68.9" rx="3.1" ry="4.7"/><ellipse cx="37.5" cy="229.4" rx="3.4" ry="5.3"/><ellipse cx="75.1" cy="134.9" rx="3.4" ry="5.9"/><ellipse cx="84.1" cy="231.2" rx="4.5" ry="4.8"/><ellipse cx="119.4" cy="265.9" rx="3.8" ry="4.2"/><ellipse cx="160.1" cy="46.2" rx="4.4" ry="6.0"/><ellipse cx="81.5" cy="31.5" rx="3.6" ry="6.5"/><ellipse cx="63.1" cy="96.7" rx="3.1" ry="4.5"/><ellipse cx="115.7" cy="51.2" rx="3.6" ry="5.7"/><ellipse cx="143.7" cy="132.4" rx="3.5" ry="6.5"/><ellipse cx="114.0" cy="221.5" rx="4.1" ry="3.7"/><ellipse cx="97.1" cy="65.5" rx="4.4" ry="3.5"/><ellipse cx="94.9" cy="37.3" rx="3.7" ry="6.2"/><ellipse cx="59.0" cy="44.9" rx="4.4" ry="6.2"/><ellipse cx="147.7" cy="158.0" rx="4.4" ry="5.8"/><ellipse cx="128.0" cy="60.6" rx="3.0" ry="6.6"/><ellipse cx="55.3" cy="69.2" rx="4.2" ry="5.9"/><ellipse cx="116.4" cy="270.8" rx="3.4" ry="4.0"/><ellipse cx="102.8" cy="109.5" rx="3.6" ry="4.4"/><ellipse cx="71.7" cy="118.9" rx="3.1" ry="5.7"/><ellipse cx="54.2" cy="185.1" rx="3.3" ry="4.7"/><ellipse cx="88.7" cy="81.7" rx="3.6" ry="6.0"/><ellipse cx="104.3" cy="115.6" rx="4.2" ry="5.2"/><ellipse cx="70.0" cy="190.2" rx="4.4" ry="4.8"/><ellipse cx="109.7" cy="182.0" rx="4.5" ry="4.3"/><ellipse cx="91.7" cy="153.2" rx="3.3" ry="4.2"/><ellipse cx="115.2" cy="252.7" rx="3.3" ry="5.2"/><ellipse cx="97.9" cy="168.7" rx="3.3" ry="3.7"/><ellipse cx="43.5" cy="27.4" rx="3.9" ry="6.3"/><ellipse cx="55.3" cy="208.5" rx="3.6" ry="5.7"/><ellipse cx="163.0" cy="127.3" rx="3.1" ry="4.2"/><ellipse cx="70.1" cy="125.9" rx="3.0" ry="5.8"/><ellipse cx="110.7" cy="169.7" rx="3.4" ry="4.8"/><ellipse cx="124.1" cy="248.9" rx="3.2" ry="4.3"/><ellipse cx="41.5" cy="173.1" rx="4.0" ry="5.6"/><ellipse cx="91.5" cy="139.5" rx="3.1" ry="5.9"/><ellipse cx="172.2" cy="230.2" rx="4.1" ry="8.7"/><ellipse cx="160.4" cy="204.2" rx="3.3" ry="8.9"/><ellipse cx="173.8" cy="265.5" rx="3.9" ry="4.3"/><ellipse cx="171.7" cy="262.0" rx="4.0" ry="6.2"/><ellipse cx="167.6" cy="87.7" rx="3.8" ry="7.6"/><ellipse cx="163.2" cy="82.4" rx="3.7" ry="5.0"/><ellipse cx="161.2" cy="61.8" rx="2.8" ry="7.0"/></g>
<g fill="url(#r8)"><ellipse cx="72.6" cy="58.4" rx="3.7" ry="5.0"/><ellipse cx="65.6" cy="79.4" rx="3.5" ry="3.9"/><ellipse cx="62.1" cy="198.0" rx="3.3" ry="4.8"/><ellipse cx="54.3" cy="255.7" rx="4.0" ry="5.5"/><ellipse cx="79.0" cy="62.5" rx="3.3" ry="3.6"/><ellipse cx="125.2" cy="136.4" rx="4.0" ry="3.5"/><ellipse cx="40.0" cy="113.6" rx="4.3" ry="5.5"/><ellipse cx="43.9" cy="68.6" rx="4.0" ry="6.2"/><ellipse cx="76.8" cy="116.9" rx="3.3" ry="6.1"/><ellipse cx="89.7" cy="192.1" rx="3.7" ry="5.5"/><ellipse cx="67.0" cy="175.1" rx="3.5" ry="6.0"/><ellipse cx="121.6" cy="222.6" rx="3.3" ry="5.9"/><ellipse cx="64.5" cy="263.5" rx="3.8" ry="6.4"/><ellipse cx="37.2" cy="208.2" rx="4.1" ry="5.0"/><ellipse cx="35.2" cy="93.9" rx="3.4" ry="5.9"/><ellipse cx="100.1" cy="96.2" rx="3.3" ry="3.6"/><ellipse cx="52.4" cy="191.0" rx="4.4" ry="5.4"/><ellipse cx="95.9" cy="108.3" rx="3.0" ry="4.3"/><ellipse cx="124.7" cy="54.9" rx="3.7" ry="3.5"/><ellipse cx="78.3" cy="50.4" rx="3.9" ry="5.8"/><ellipse cx="99.4" cy="123.9" rx="3.0" ry="4.2"/><ellipse cx="126.7" cy="49.8" rx="3.2" ry="5.6"/><ellipse cx="112.9" cy="126.9" rx="3.2" ry="6.4"/><ellipse cx="45.0" cy="75.9" rx="3.6" ry="3.4"/><ellipse cx="81.7" cy="260.2" rx="3.2" ry="5.6"/><ellipse cx="111.7" cy="175.6" rx="3.5" ry="6.4"/><ellipse cx="119.1" cy="56.8" rx="3.4" ry="5.6"/><ellipse cx="54.1" cy="212.7" rx="3.3" ry="6.2"/><ellipse cx="95.5" cy="27.1" rx="3.5" ry="5.5"/><ellipse cx="131.9" cy="105.1" rx="3.4" ry="6.4"/><ellipse cx="131.8" cy="240.4" rx="3.6" ry="6.1"/><ellipse cx="108.2" cy="113.2" rx="4.4" ry="5.5"/><ellipse cx="66.0" cy="101.4" rx="3.5" ry="3.4"/><ellipse cx="87.9" cy="110.7" rx="4.1" ry="3.8"/><ellipse cx="78.5" cy="87.4" rx="3.8" ry="6.0"/><ellipse cx="77.9" cy="192.0" rx="3.2" ry="5.5"/><ellipse cx="92.5" cy="248.5" rx="4.0" ry="6.3"/><ellipse cx="79.5" cy="103.9" rx="4.4" ry="3.4"/><ellipse cx="71.1" cy="39.1" rx="4.3" ry="6.5"/><ellipse cx="45.2" cy="269.6" rx="4.4" ry="5.7"/><ellipse cx="39.6" cy="230.1" rx="3.6" ry="5.8"/><ellipse cx="115.4" cy="126.6" rx="3.5" ry="4.8"/><ellipse cx="61.9" cy="152.4" rx="3.6" ry="4.6"/><ellipse cx="71.1" cy="150.4" rx="3.4" ry="4.1"/><ellipse cx="63.0" cy="169.4" rx="4.0" ry="4.5"/><ellipse cx="130.7" cy="259.6" rx="4.0" ry="6.1"/><ellipse cx="88.1" cy="245.2" rx="4.1" ry="5.6"/><ellipse cx="91.8" cy="255.9" rx="4.0" ry="6.5"/><ellipse cx="93.9" cy="146.7" rx="3.9" ry="5.5"/><ellipse cx="135.1" cy="249.2" rx="4.4" ry="6.6"/><ellipse cx="113.5" cy="119.0" rx="4.5" ry="4.7"/><ellipse cx="60.2" cy="106.9" rx="3.1" ry="5.5"/><ellipse cx="64.7" cy="82.5" rx="3.1" ry="4.4"/><ellipse cx="154.6" cy="31.0" rx="3.6" ry="3.6"/><ellipse cx="103.5" cy="63.3" rx="3.9" ry="3.6"/><ellipse cx="50.6" cy="90.4" rx="3.4" ry="5.5"/><ellipse cx="56.9" cy="108.0" rx="3.3" ry="3.9"/><ellipse cx="142.6" cy="262.6" rx="4.4" ry="3.5"/><ellipse cx="95.2" cy="261.0" rx="3.4" ry="5.6"/><ellipse cx="150.1" cy="208.6" rx="3.2" ry="5.8"/><ellipse cx="130.2" cy="262.1" rx="3.1" ry="3.6"/><ellipse cx="39.5" cy="200.7" rx="4.3" ry="3.8"/><ellipse cx="95.1" cy="161.2" rx="3.9" ry="5.3"/><ellipse cx="46.8" cy="42.4" rx="4.1" ry="3.6"/><ellipse cx="85.6" cy="196.6" rx="4.3" ry="3.5"/><ellipse cx="56.9" cy="163.1" rx="3.7" ry="3.8"/><ellipse cx="111.1" cy="107.5" rx="4.3" ry="6.3"/><ellipse cx="140.9" cy="91.3" rx="3.8" ry="4.9"/><ellipse cx="69.4" cy="80.0" rx="4.1" ry="4.0"/><ellipse cx="91.7" cy="74.6" rx="4.1" ry="5.4"/><ellipse cx="39.1" cy="113.8" rx="3.8" ry="4.5"/><ellipse cx="63.5" cy="218.8" rx="4.5" ry="5.0"/><ellipse cx="91.2" cy="118.9" rx="3.9" ry="4.9"/><ellipse cx="50.6" cy="95.1" rx="4.2" ry="4.0"/><ellipse cx="53.6" cy="268.3" rx="4.1" ry="4.3"/><ellipse cx="46.9" cy="200.2" rx="4.2" ry="6.2"/><ellipse cx="117.1" cy="183.6" rx="4.1" ry="4.5"/><ellipse cx="123.9" cy="98.9" rx="3.1" ry="4.9"/><ellipse cx="120.6" cy="236.2" rx="4.2" ry="3.4"/><ellipse cx="63.2" cy="221.4" rx="3.3" ry="4.0"/><ellipse cx="60.9" cy="183.8" rx="3.2" ry="3.7"/><ellipse cx="47.4" cy="258.4" rx="4.4" ry="4.8"/><ellipse cx="72.2" cy="227.2" rx="4.0" ry="4.7"/><ellipse cx="80.9" cy="70.6" rx="3.6" ry="5.4"/><ellipse cx="95.2" cy="134.9" rx="3.2" ry="4.1"/><ellipse cx="47.9" cy="182.4" rx="4.4" ry="3.9"/><ellipse cx="63.2" cy="262.5" rx="4.1" ry="3.9"/><ellipse cx="111.0" cy="50.1" rx="4.0" ry="4.6"/><ellipse cx="93.3" cy="200.2" rx="3.8" ry="5.0"/><ellipse cx="56.1" cy="269.7" rx="3.5" ry="5.9"/><ellipse cx="53.6" cy="134.4" rx="3.5" ry="6.4"/><ellipse cx="73.1" cy="71.1" rx="3.0" ry="6.2"/><ellipse cx="128.1" cy="192.4" rx="3.3" ry="6.5"/><ellipse cx="120.9" cy="29.1" rx="3.6" ry="6.1"/><ellipse cx="84.6" cy="129.0" rx="4.0" ry="4.4"/><ellipse cx="67.1" cy="60.8" rx="4.1" ry="5.6"/><ellipse cx="156.5" cy="137.6" rx="4.1" ry="4.4"/><ellipse cx="139.6" cy="131.3" rx="3.3" ry="4.6"/><ellipse cx="117.7" cy="42.4" rx="3.9" ry="4.4"/><ellipse cx="46.4" cy="87.7" rx="4.4" ry="4.9"/><ellipse cx="69.3" cy="102.1" rx="3.9" ry="6.4"/><ellipse cx="34.4" cy="88.9" rx="4.0" ry="5.3"/><ellipse cx="51.1" cy="33.4" rx="3.1" ry="4.4"/><ellipse cx="66.2" cy="165.2" rx="3.5" ry="5.1"/><ellipse cx="67.7" cy="200.4" rx="3.1" ry="4.2"/><ellipse cx="71.4" cy="99.1" rx="3.1" ry="5.4"/><ellipse cx="101.1" cy="100.7" rx="3.1" ry="3.9"/><ellipse cx="64.4" cy="265.8" rx="4.0" ry="5.2"/><ellipse cx="60.3" cy="109.1" rx="3.9" ry="4.9"/><ellipse cx="39.4" cy="38.4" rx="3.7" ry="4.3"/><ellipse cx="123.9" cy="78.8" rx="4.4" ry="5.2"/><ellipse cx="51.4" cy="249.0" rx="4.4" ry="4.1"/><ellipse cx="37.8" cy="201.2" rx="4.0" ry="4.5"/><ellipse cx="38.3" cy="269.0" rx="4.1" ry="5.1"/><ellipse cx="127.0" cy="150.5" rx="3.9" ry="5.5"/><ellipse cx="72.6" cy="205.3" rx="3.8" ry="4.5"/><ellipse cx="100.2" cy="236.0" rx="4.1" ry="4.5"/><ellipse cx="97.3" cy="176.1" rx="3.1" ry="5.4"/><ellipse cx="130.9" cy="89.4" rx="3.0" ry="5.8"/><ellipse cx="119.2" cy="53.3" rx="4.1" ry="3.5"/><ellipse cx="127.9" cy="101.7" rx="3.8" ry="3.8"/><ellipse cx="97.2" cy="237.8" rx="4.0" ry="4.6"/><ellipse cx="116.4" cy="216.1" rx="4.5" ry="5.2"/><ellipse cx="52.7" cy="82.2" rx="3.4" ry="4.6"/><ellipse cx="65.2" cy="265.7" rx="3.4" ry="4.2"/><ellipse cx="59.5" cy="114.6" rx="4.0" ry="4.1"/><ellipse cx="46.4" cy="66.0" rx="4.0" ry="3.5"/><ellipse cx="134.7" cy="224.9" rx="4.5" ry="3.5"/><ellipse cx="114.3" cy="113.3" rx="4.2" ry="5.5"/><ellipse cx="35.1" cy="151.1" rx="3.7" ry="6.1"/><ellipse cx="138.1" cy="115.9" rx="3.5" ry="4.9"/><ellipse cx="62.0" cy="255.7" rx="3.9" ry="3.7"/><ellipse cx="139.2" cy="235.4" rx="4.2" ry="5.5"/><ellipse cx="64.0" cy="110.7" rx="4.3" ry="6.4"/><ellipse cx="72.1" cy="161.5" rx="4.0" ry="4.0"/><ellipse cx="54.8" cy="138.4" rx="4.0" ry="6.1"/><ellipse cx="130.4" cy="51.2" rx="3.3" ry="3.6"/><ellipse cx="80.4" cy="209.6" rx="3.5" ry="4.9"/><ellipse cx="134.8" cy="187.0" rx="4.1" ry="3.4"/><ellipse cx="78.7" cy="142.8" rx="4.5" ry="5.0"/><ellipse cx="107.5" cy="226.7" rx="3.2" ry="4.3"/><ellipse cx="89.6" cy="264.0" rx="3.1" ry="5.0"/><ellipse cx="115.1" cy="169.3" rx="3.7" ry="5.1"/><ellipse cx="34.5" cy="194.4" rx="3.4" ry="4.9"/><ellipse cx="141.7" cy="132.0" rx="3.5" ry="4.7"/><ellipse cx="57.7" cy="128.9" rx="3.6" ry="4.0"/><ellipse cx="55.7" cy="229.6" rx="3.5" ry="4.7"/><ellipse cx="121.9" cy="229.3" rx="4.0" ry="6.4"/><ellipse cx="37.9" cy="135.3" rx="3.7" ry="4.1"/><ellipse cx="110.9" cy="43.3" rx="3.2" ry="6.2"/><ellipse cx="40.5" cy="61.5" rx="3.5" ry="4.7"/><ellipse cx="141.2" cy="242.3" rx="3.8" ry="3.6"/><ellipse cx="78.8" cy="68.0" rx="3.1" ry="3.7"/><ellipse cx="66.3" cy="137.0" rx="4.2" ry="5.2"/><ellipse cx="58.7" cy="197.9" rx="3.8" ry="5.8"/><ellipse cx="85.8" cy="264.2" rx="4.0" ry="5.5"/><ellipse cx="101.5" cy="256.8" rx="4.0" ry="6.2"/><ellipse cx="95.5" cy="91.9" rx="3.2" ry="5.7"/><ellipse cx="48.4" cy="132.1" rx="3.1" ry="3.6"/><ellipse cx="78.1" cy="122.8" rx="3.1" ry="4.3"/><ellipse cx="38.6" cy="223.7" rx="3.4" ry="4.8"/><ellipse cx="111.1" cy="254.9" rx="3.9" ry="3.5"/><ellipse cx="89.6" cy="43.3" rx="3.1" ry="3.6"/><ellipse cx="104.7" cy="77.8" rx="3.1" ry="6.5"/><ellipse cx="40.6" cy="135.0" rx="3.1" ry="6.5"/><ellipse cx="96.4" cy="218.0" rx="3.7" ry="4.2"/><ellipse cx="66.8" cy="155.7" rx="3.9" ry="4.3"/><ellipse cx="134.0" cy="203.0" rx="3.7" ry="3.7"/><ellipse cx="123.9" cy="80.0" rx="3.8" ry="6.0"/><ellipse cx="87.8" cy="221.1" rx="3.1" ry="3.5"/><ellipse cx="34.9" cy="57.3" rx="3.8" ry="3.7"/><ellipse cx="61.6" cy="231.8" rx="4.2" ry="6.6"/><ellipse cx="103.5" cy="266.6" rx="3.3" ry="3.3"/><ellipse cx="59.4" cy="176.2" rx="3.2" ry="3.7"/><ellipse cx="132.7" cy="74.9" rx="4.3" ry="5.5"/><ellipse cx="91.5" cy="157.4" rx="3.8" ry="3.4"/><ellipse cx="53.7" cy="119.4" rx="3.5" ry="4.8"/><ellipse cx="119.8" cy="242.4" rx="3.9" ry="6.5"/><ellipse cx="71.6" cy="53.2" rx="3.6" ry="5.7"/><ellipse cx="151.9" cy="250.9" rx="4.2" ry="5.3"/><ellipse cx="136.0" cy="254.7" rx="3.8" ry="3.4"/><ellipse cx="79.2" cy="41.7" rx="3.7" ry="4.1"/><ellipse cx="126.6" cy="134.8" rx="3.7" ry="6.5"/><ellipse cx="66.4" cy="77.7" rx="4.0" ry="6.2"/><ellipse cx="115.7" cy="250.2" rx="3.9" ry="6.3"/><ellipse cx="142.5" cy="204.8" rx="3.3" ry="6.5"/><ellipse cx="129.8" cy="171.2" rx="3.3" ry="5.2"/><ellipse cx="61.8" cy="217.2" rx="3.7" ry="4.2"/><ellipse cx="112.4" cy="234.6" rx="3.7" ry="3.9"/><ellipse cx="113.5" cy="116.6" rx="3.7" ry="5.7"/><ellipse cx="129.5" cy="254.6" rx="3.7" ry="4.3"/><ellipse cx="91.0" cy="153.0" rx="3.3" ry="6.2"/><ellipse cx="151.5" cy="222.1" rx="4.3" ry="3.3"/><ellipse cx="93.6" cy="70.0" rx="3.9" ry="6.3"/><ellipse cx="118.0" cy="194.8" rx="4.3" ry="4.4"/><ellipse cx="75.9" cy="71.5" rx="3.8" ry="4.1"/><ellipse cx="53.2" cy="181.6" rx="3.3" ry="4.3"/><ellipse cx="115.1" cy="65.5" rx="3.4" ry="4.8"/><ellipse cx="103.8" cy="44.4" rx="4.0" ry="3.6"/><ellipse cx="55.6" cy="190.5" rx="3.9" ry="3.9"/><ellipse cx="68.8" cy="178.8" rx="3.6" ry="4.8"/><ellipse cx="86.1" cy="135.1" rx="3.8" ry="4.8"/><ellipse cx="67.3" cy="193.2" rx="3.5" ry="5.2"/><ellipse cx="83.8" cy="218.0" rx="3.5" ry="4.7"/><ellipse cx="123.9" cy="109.3" rx="3.2" ry="5.3"/><ellipse cx="126.9" cy="244.0" rx="3.0" ry="6.4"/><ellipse cx="68.1" cy="78.4" rx="3.7" ry="3.9"/><ellipse cx="103.1" cy="73.0" rx="3.0" ry="5.5"/><ellipse cx="51.3" cy="107.6" rx="3.7" ry="5.6"/><ellipse cx="58.3" cy="65.6" rx="3.0" ry="3.7"/><ellipse cx="159.9" cy="241.7" rx="4.5" ry="6.4"/><ellipse cx="113.8" cy="244.3" rx="3.3" ry="4.1"/><ellipse cx="97.4" cy="95.5" rx="3.8" ry="4.6"/><ellipse cx="97.1" cy="177.3" rx="4.0" ry="3.9"/><ellipse cx="60.5" cy="215.8" rx="3.9" ry="4.3"/><ellipse cx="52.1" cy="145.9" rx="3.5" ry="6.5"/><ellipse cx="58.9" cy="255.9" rx="3.5" ry="6.1"/><ellipse cx="124.5" cy="247.7" rx="4.0" ry="5.5"/><ellipse cx="77.2" cy="92.9" rx="4.3" ry="4.3"/><ellipse cx="77.9" cy="54.6" rx="3.1" ry="3.8"/><ellipse cx="83.5" cy="219.7" rx="3.8" ry="3.4"/><ellipse cx="136.5" cy="250.1" rx="3.4" ry="5.8"/><ellipse cx="60.5" cy="222.2" rx="4.4" ry="5.7"/><ellipse cx="65.8" cy="122.1" rx="4.4" ry="4.6"/><ellipse cx="38.2" cy="215.6" rx="3.5" ry="6.0"/><ellipse cx="96.0" cy="43.1" rx="3.9" ry="4.0"/><ellipse cx="34.8" cy="149.1" rx="3.2" ry="6.4"/><ellipse cx="46.5" cy="210.2" rx="3.8" ry="4.1"/><ellipse cx="52.8" cy="102.7" rx="4.2" ry="6.5"/><ellipse cx="72.9" cy="170.7" rx="3.6" ry="6.0"/><ellipse cx="61.8" cy="169.4" rx="3.9" ry="5.4"/><ellipse cx="158.2" cy="238.4" rx="4.2" ry="5.5"/><ellipse cx="113.5" cy="44.7" rx="4.1" ry="5.5"/><ellipse cx="42.1" cy="102.4" rx="3.4" ry="6.0"/><ellipse cx="162.0" cy="195.3" rx="4.1" ry="4.1"/><ellipse cx="104.3" cy="228.9" rx="3.2" ry="6.3"/><ellipse cx="47.7" cy="201.5" rx="3.3" ry="5.1"/><ellipse cx="135.0" cy="129.3" rx="3.6" ry="4.6"/><ellipse cx="51.2" cy="34.1" rx="3.6" ry="4.5"/><ellipse cx="65.3" cy="63.9" rx="3.8" ry="6.2"/><ellipse cx="95.6" cy="218.8" rx="3.3" ry="5.1"/><ellipse cx="64.0" cy="57.9" rx="4.3" ry="5.4"/><ellipse cx="95.8" cy="91.1" rx="4.4" ry="5.2"/><ellipse cx="64.7" cy="255.7" rx="4.5" ry="4.2"/><ellipse cx="93.4" cy="262.4" rx="3.4" ry="4.9"/><ellipse cx="96.8" cy="266.9" rx="4.0" ry="6.5"/><ellipse cx="105.3" cy="193.4" rx="3.8" ry="5.4"/><ellipse cx="89.5" cy="183.7" rx="4.3" ry="6.5"/><ellipse cx="67.0" cy="133.9" rx="3.2" ry="4.2"/><ellipse cx="110.2" cy="267.0" rx="3.7" ry="5.6"/><ellipse cx="119.3" cy="142.0" rx="3.2" ry="3.7"/><ellipse cx="60.1" cy="68.5" rx="4.4" ry="4.4"/><ellipse cx="114.8" cy="230.2" rx="3.1" ry="5.0"/><ellipse cx="53.3" cy="213.0" rx="4.2" ry="4.2"/><ellipse cx="143.7" cy="57.5" rx="4.1" ry="4.6"/><ellipse cx="78.3" cy="196.7" rx="3.5" ry="3.4"/><ellipse cx="59.0" cy="219.9" rx="3.1" ry="3.5"/><ellipse cx="43.6" cy="226.3" rx="3.6" ry="5.7"/><ellipse cx="43.8" cy="231.2" rx="3.7" ry="4.7"/><ellipse cx="132.6" cy="198.3" rx="4.1" ry="6.3"/><ellipse cx="82.2" cy="154.9" rx="3.6" ry="6.3"/><ellipse cx="101.1" cy="268.0" rx="3.4" ry="5.0"/><ellipse cx="122.9" cy="216.0" rx="3.6" ry="4.2"/><ellipse cx="49.5" cy="52.9" rx="3.6" ry="3.5"/><ellipse cx="160.0" cy="60.9" rx="3.5" ry="8.3"/><ellipse cx="160.5" cy="96.4" rx="2.9" ry="5.6"/></g>
<g fill="url(#r9)"><ellipse cx="74.7" cy="199.6" rx="4.2" ry="4.8"/><ellipse cx="99.5" cy="36.7" rx="4.5" ry="5.8"/><ellipse cx="126.9" cy="115.6" rx="4.3" ry="4.7"/><ellipse cx="126.4" cy="207.7" rx="4.4" ry="6.1"/><ellipse cx="71.7" cy="55.5" rx="4.4" ry="3.9"/><ellipse cx="124.2" cy="174.1" rx="3.4" ry="6.3"/><ellipse cx="139.2" cy="152.8" rx="3.2" ry="5.8"/><ellipse cx="131.7" cy="215.5" rx="4.0" ry="5.9"/><ellipse cx="47.2" cy="229.0" rx="3.8" ry="3.9"/><ellipse cx="54.4" cy="248.6" rx="3.2" ry="5.1"/><ellipse cx="89.5" cy="90.7" rx="3.8" ry="5.6"/><ellipse cx="75.0" cy="116.6" rx="4.4" ry="6.3"/><ellipse cx="44.4" cy="208.0" rx="3.3" ry="5.9"/><ellipse cx="103.6" cy="138.3" rx="4.3" ry="4.9"/><ellipse cx="55.6" cy="266.5" rx="4.2" ry="5.9"/><ellipse cx="97.8" cy="264.5" rx="4.3" ry="3.7"/><ellipse cx="41.2" cy="124.6" rx="4.0" ry="4.2"/><ellipse cx="132.6" cy="62.0" rx="3.1" ry="6.3"/><ellipse cx="152.6" cy="184.5" rx="3.1" ry="4.9"/><ellipse cx="79.7" cy="268.1" rx="4.0" ry="4.7"/><ellipse cx="115.3" cy="216.1" rx="3.4" ry="3.4"/><ellipse cx="38.0" cy="159.9" rx="3.1" ry="4.0"/><ellipse cx="51.1" cy="232.8" rx="3.5" ry="3.4"/><ellipse cx="70.6" cy="108.3" rx="3.8" ry="5.9"/><ellipse cx="132.9" cy="255.7" rx="3.8" ry="6.3"/><ellipse cx="115.6" cy="128.3" rx="4.0" ry="6.1"/><ellipse cx="113.8" cy="66.4" rx="4.1" ry="4.9"/><ellipse cx="86.8" cy="145.7" rx="4.3" ry="4.0"/><ellipse cx="63.6" cy="133.9" rx="4.1" ry="4.0"/><ellipse cx="73.1" cy="229.0" rx="3.8" ry="5.2"/><ellipse cx="75.0" cy="41.2" rx="4.4" ry="4.2"/><ellipse cx="106.4" cy="104.2" rx="4.2" ry="4.1"/><ellipse cx="61.0" cy="111.8" rx="3.8" ry="5.6"/><ellipse cx="157.1" cy="245.3" rx="4.4" ry="3.3"/><ellipse cx="130.9" cy="114.4" rx="4.2" ry="4.1"/><ellipse cx="77.6" cy="172.9" rx="4.4" ry="4.0"/><ellipse cx="57.2" cy="217.5" rx="4.4" ry="5.4"/><ellipse cx="165.4" cy="232.5" rx="4.3" ry="6.3"/><ellipse cx="129.5" cy="74.7" rx="3.8" ry="6.6"/><ellipse cx="120.8" cy="188.6" rx="3.6" ry="6.6"/><ellipse cx="78.3" cy="205.7" rx="4.0" ry="3.6"/><ellipse cx="61.2" cy="146.5" rx="4.1" ry="3.3"/><ellipse cx="61.4" cy="261.5" rx="3.6" ry="4.0"/><ellipse cx="105.6" cy="107.7" rx="3.0" ry="3.6"/><ellipse cx="129.1" cy="39.1" rx="4.1" ry="4.7"/><ellipse cx="165.9" cy="243.1" rx="3.7" ry="4.8"/><ellipse cx="140.6" cy="135.5" rx="3.3" ry="5.3"/><ellipse cx="141.3" cy="223.9" rx="4.4" ry="4.4"/><ellipse cx="49.2" cy="72.9" rx="3.4" ry="4.2"/><ellipse cx="42.5" cy="156.7" rx="4.1" ry="5.3"/><ellipse cx="143.5" cy="217.9" rx="3.3" ry="3.5"/><ellipse cx="98.0" cy="29.9" rx="4.2" ry="4.4"/><ellipse cx="95.0" cy="233.6" rx="3.6" ry="6.4"/><ellipse cx="133.9" cy="130.9" rx="4.1" ry="6.3"/><ellipse cx="44.0" cy="169.8" rx="3.5" ry="4.4"/><ellipse cx="87.4" cy="242.5" rx="3.5" ry="6.1"/><ellipse cx="116.5" cy="144.0" rx="3.3" ry="6.5"/><ellipse cx="126.3" cy="143.6" rx="3.3" ry="5.1"/><ellipse cx="95.1" cy="95.4" rx="4.3" ry="5.8"/><ellipse cx="139.3" cy="75.5" rx="3.9" ry="5.2"/><ellipse cx="53.0" cy="40.1" rx="3.6" ry="6.1"/><ellipse cx="68.3" cy="271.4" rx="4.4" ry="5.3"/><ellipse cx="35.0" cy="177.2" rx="4.4" ry="3.6"/><ellipse cx="139.1" cy="142.8" rx="3.2" ry="6.0"/><ellipse cx="107.1" cy="222.0" rx="3.5" ry="5.3"/><ellipse cx="106.6" cy="262.2" rx="3.9" ry="3.8"/><ellipse cx="65.2" cy="243.1" rx="4.1" ry="4.1"/><ellipse cx="116.4" cy="265.0" rx="3.0" ry="4.8"/><ellipse cx="49.5" cy="129.1" rx="3.3" ry="5.9"/><ellipse cx="137.4" cy="80.8" rx="3.5" ry="5.0"/><ellipse cx="72.9" cy="138.9" rx="3.9" ry="3.5"/><ellipse cx="52.6" cy="211.8" rx="3.9" ry="5.8"/><ellipse cx="67.4" cy="88.4" rx="4.4" ry="5.2"/><ellipse cx="46.6" cy="168.5" rx="3.2" ry="5.0"/><ellipse cx="77.8" cy="153.9" rx="3.0" ry="3.6"/><ellipse cx="50.4" cy="250.2" rx="3.1" ry="5.6"/><ellipse cx="73.0" cy="222.2" rx="3.3" ry="5.2"/><ellipse cx="98.9" cy="140.6" rx="3.6" ry="3.9"/><ellipse cx="125.8" cy="161.0" rx="3.6" ry="4.8"/><ellipse cx="138.7" cy="214.8" rx="3.2" ry="4.1"/><ellipse cx="74.1" cy="126.5" rx="3.2" ry="4.3"/><ellipse cx="46.3" cy="73.8" rx="3.5" ry="6.0"/><ellipse cx="84.1" cy="114.1" rx="4.2" ry="4.6"/><ellipse cx="75.3" cy="257.1" rx="3.5" ry="5.5"/><ellipse cx="50.1" cy="107.4" rx="3.6" ry="4.2"/><ellipse cx="75.5" cy="190.4" rx="3.8" ry="6.5"/><ellipse cx="136.7" cy="232.1" rx="3.1" ry="6.2"/><ellipse cx="79.2" cy="184.4" rx="3.8" ry="4.5"/><ellipse cx="54.4" cy="241.2" rx="3.1" ry="4.8"/><ellipse cx="71.2" cy="96.3" rx="3.7" ry="4.5"/><ellipse cx="100.3" cy="39.9" rx="3.2" ry="3.9"/><ellipse cx="119.8" cy="118.2" rx="4.5" ry="6.2"/><ellipse cx="101.5" cy="177.6" rx="3.1" ry="5.9"/><ellipse cx="64.8" cy="267.9" rx="4.0" ry="6.3"/><ellipse cx="54.0" cy="30.9" rx="3.1" ry="3.3"/><ellipse cx="78.5" cy="239.2" rx="4.0" ry="6.1"/><ellipse cx="79.3" cy="34.6" rx="4.0" ry="4.5"/><ellipse cx="78.7" cy="208.5" rx="3.6" ry="5.4"/><ellipse cx="113.8" cy="217.3" rx="3.4" ry="4.6"/><ellipse cx="107.1" cy="90.4" rx="3.5" ry="4.8"/><ellipse cx="123.7" cy="158.9" rx="3.3" ry="3.4"/><ellipse cx="77.1" cy="63.6" rx="3.9" ry="6.2"/><ellipse cx="82.5" cy="133.6" rx="3.8" ry="6.3"/><ellipse cx="109.1" cy="81.0" rx="3.6" ry="4.1"/><ellipse cx="57.9" cy="144.3" rx="4.4" ry="5.2"/><ellipse cx="93.9" cy="85.5" rx="4.1" ry="5.3"/><ellipse cx="79.1" cy="212.5" rx="3.5" ry="5.4"/><ellipse cx="91.2" cy="130.8" rx="4.2" ry="4.5"/><ellipse cx="57.9" cy="163.4" rx="3.9" ry="3.7"/><ellipse cx="51.0" cy="47.2" rx="3.3" ry="3.8"/><ellipse cx="113.1" cy="148.0" rx="3.6" ry="4.1"/><ellipse cx="147.9" cy="182.6" rx="3.9" ry="5.4"/><ellipse cx="96.5" cy="100.2" rx="4.3" ry="3.4"/><ellipse cx="67.9" cy="169.1" rx="3.6" ry="5.2"/><ellipse cx="76.8" cy="189.9" rx="3.3" ry="6.0"/><ellipse cx="39.3" cy="176.1" rx="3.5" ry="4.9"/><ellipse cx="57.8" cy="223.0" rx="4.2" ry="3.9"/><ellipse cx="109.2" cy="119.4" rx="4.5" ry="3.5"/><ellipse cx="45.7" cy="225.0" rx="3.3" ry="5.5"/><ellipse cx="38.6" cy="219.9" rx="3.4" ry="5.9"/><ellipse cx="127.2" cy="164.6" rx="3.1" ry="6.2"/><ellipse cx="82.2" cy="198.5" rx="4.2" ry="4.9"/><ellipse cx="47.4" cy="114.3" rx="3.3" ry="5.1"/><ellipse cx="64.1" cy="217.5" rx="3.2" ry="6.5"/><ellipse cx="57.7" cy="41.0" rx="4.1" ry="3.8"/><ellipse cx="91.3" cy="180.4" rx="4.3" ry="3.7"/><ellipse cx="113.4" cy="261.5" rx="3.8" ry="5.8"/><ellipse cx="91.3" cy="194.0" rx="3.4" ry="5.0"/><ellipse cx="116.9" cy="145.4" rx="3.5" ry="3.8"/><ellipse cx="71.8" cy="145.8" rx="3.4" ry="3.8"/><ellipse cx="126.1" cy="194.4" rx="3.8" ry="4.6"/><ellipse cx="126.5" cy="264.1" rx="3.3" ry="5.5"/><ellipse cx="129.8" cy="44.3" rx="3.6" ry="3.8"/><ellipse cx="107.9" cy="94.2" rx="4.0" ry="5.2"/><ellipse cx="50.4" cy="76.8" rx="4.4" ry="4.2"/><ellipse cx="75.2" cy="123.7" rx="3.3" ry="3.8"/><ellipse cx="79.6" cy="211.3" rx="3.5" ry="4.6"/><ellipse cx="134.2" cy="123.2" rx="3.6" ry="4.3"/><ellipse cx="130.0" cy="161.1" rx="3.2" ry="4.4"/><ellipse cx="83.8" cy="185.3" rx="4.4" ry="5.5"/><ellipse cx="53.8" cy="205.7" rx="3.4" ry="4.2"/><ellipse cx="94.7" cy="56.0" rx="4.4" ry="4.3"/><ellipse cx="97.2" cy="68.1" rx="3.3" ry="5.5"/><ellipse cx="134.9" cy="37.2" rx="3.8" ry="4.4"/><ellipse cx="85.7" cy="122.2" rx="3.5" ry="3.7"/><ellipse cx="79.7" cy="35.4" rx="4.2" ry="4.4"/><ellipse cx="88.5" cy="137.9" rx="3.8" ry="3.7"/><ellipse cx="60.3" cy="242.9" rx="3.5" ry="3.6"/><ellipse cx="51.3" cy="29.7" rx="3.2" ry="4.9"/><ellipse cx="37.0" cy="61.6" rx="3.1" ry="5.3"/><ellipse cx="58.5" cy="240.0" rx="3.1" ry="3.6"/><ellipse cx="99.4" cy="177.1" rx="4.1" ry="4.6"/><ellipse cx="126.0" cy="144.8" rx="3.6" ry="4.7"/><ellipse cx="131.5" cy="101.6" rx="4.0" ry="4.5"/><ellipse cx="105.0" cy="198.3" rx="3.4" ry="3.8"/><ellipse cx="65.3" cy="152.4" rx="3.1" ry="4.1"/><ellipse cx="166.0" cy="222.3" rx="4.1" ry="4.8"/><ellipse cx="57.3" cy="95.7" rx="4.2" ry="4.9"/><ellipse cx="116.4" cy="252.1" rx="3.5" ry="7.2"/><ellipse cx="47.3" cy="170.1" rx="3.5" ry="4.2"/><ellipse cx="53.4" cy="47.3" rx="3.1" ry="7.1"/><ellipse cx="53.0" cy="214.8" rx="3.5" ry="4.3"/></g>
<g fill="url(#r10)"><ellipse cx="43.1" cy="57.5" rx="4.0" ry="4.1"/><ellipse cx="40.4" cy="219.0" rx="3.4" ry="6.8"/><ellipse cx="52.2" cy="229.5" rx="3.3" ry="4.0"/><ellipse cx="97.4" cy="64.5" rx="3.5" ry="3.7"/><ellipse cx="156.6" cy="158.5" rx="3.5" ry="5.4"/><ellipse cx="61.6" cy="147.9" rx="3.6" ry="5.3"/><ellipse cx="104.8" cy="34.9" rx="3.9" ry="4.5"/><ellipse cx="81.0" cy="227.9" rx="3.7" ry="4.5"/><ellipse cx="107.4" cy="230.9" rx="3.6" ry="8.7"/><ellipse cx="135.0" cy="28.0" rx="3.8" ry="4.1"/><ellipse cx="104.0" cy="246.6" rx="3.7" ry="6.9"/><ellipse cx="34.5" cy="148.7" rx="3.2" ry="3.9"/><ellipse cx="130.5" cy="155.4" rx="3.6" ry="4.7"/><ellipse cx="133.6" cy="132.0" rx="3.1" ry="3.6"/><ellipse cx="88.2" cy="250.2" rx="3.5" ry="7.4"/><ellipse cx="149.5" cy="237.7" rx="4.2" ry="4.0"/><ellipse cx="97.3" cy="97.6" rx="3.8" ry="9.5"/><ellipse cx="102.2" cy="188.0" rx="3.7" ry="3.7"/><ellipse cx="145.4" cy="164.3" rx="3.3" ry="9.0"/><ellipse cx="65.3" cy="53.8" rx="3.0" ry="4.1"/><ellipse cx="93.6" cy="205.6" rx="4.0" ry="4.5"/><ellipse cx="146.9" cy="56.3" rx="3.8" ry="4.4"/><ellipse cx="97.5" cy="150.3" rx="4.0" ry="4.6"/><ellipse cx="92.3" cy="65.9" rx="4.1" ry="4.0"/><ellipse cx="53.3" cy="30.5" rx="3.3" ry="4.0"/><ellipse cx="100.1" cy="113.2" rx="3.2" ry="5.1"/><ellipse cx="49.3" cy="229.7" rx="3.1" ry="4.7"/><ellipse cx="41.4" cy="190.4" rx="3.8" ry="5.1"/><ellipse cx="83.6" cy="106.1" rx="3.2" ry="5.2"/><ellipse cx="56.0" cy="113.7" rx="3.9" ry="5.3"/><ellipse cx="118.9" cy="188.1" rx="4.0" ry="4.4"/><ellipse cx="129.0" cy="70.3" rx="3.1" ry="6.3"/><ellipse cx="98.0" cy="37.0" rx="3.9" ry="8.2"/><ellipse cx="95.4" cy="45.3" rx="3.5" ry="3.6"/><ellipse cx="49.2" cy="98.7" rx="4.2" ry="4.2"/><ellipse cx="132.7" cy="266.8" rx="3.2" ry="3.9"/><ellipse cx="126.8" cy="63.7" rx="4.1" ry="4.7"/><ellipse cx="100.2" cy="225.2" rx="3.6" ry="5.1"/><ellipse cx="109.9" cy="175.7" rx="3.8" ry="5.3"/><ellipse cx="37.2" cy="31.0" rx="3.9" ry="4.5"/><ellipse cx="108.9" cy="62.3" rx="3.2" ry="4.9"/><ellipse cx="75.2" cy="221.8" rx="3.5" ry="7.7"/><ellipse cx="121.3" cy="171.9" rx="4.1" ry="5.3"/><ellipse cx="107.8" cy="243.3" rx="3.5" ry="4.2"/><ellipse cx="74.8" cy="90.9" rx="3.5" ry="4.8"/><ellipse cx="127.2" cy="109.3" rx="4.2" ry="5.2"/><ellipse cx="74.6" cy="74.2" rx="3.7" ry="4.3"/><ellipse cx="78.6" cy="161.9" rx="4.0" ry="4.4"/><ellipse cx="128.8" cy="256.3" rx="4.0" ry="3.9"/><ellipse cx="149.9" cy="215.7" rx="3.8" ry="8.4"/><ellipse cx="52.4" cy="78.7" rx="4.1" ry="9.1"/><ellipse cx="85.7" cy="226.2" rx="4.2" ry="3.9"/><ellipse cx="95.9" cy="204.4" rx="3.4" ry="4.3"/><ellipse cx="135.9" cy="110.3" rx="3.0" ry="4.1"/><ellipse cx="45.0" cy="166.9" rx="3.0" ry="4.7"/><ellipse cx="94.3" cy="260.7" rx="3.0" ry="5.1"/><ellipse cx="102.1" cy="196.2" rx="3.8" ry="4.1"/><ellipse cx="60.2" cy="264.9" rx="3.2" ry="3.6"/><ellipse cx="160.4" cy="239.8" rx="3.6" ry="5.1"/><ellipse cx="94.4" cy="261.2" rx="3.1" ry="3.7"/><ellipse cx="52.7" cy="247.2" rx="3.9" ry="8.2"/><ellipse cx="89.1" cy="240.6" rx="3.7" ry="4.2"/><ellipse cx="111.5" cy="107.9" rx="4.1" ry="5.0"/><ellipse cx="127.9" cy="154.9" rx="4.0" ry="5.0"/><ellipse cx="67.3" cy="225.2" rx="3.2" ry="4.4"/><ellipse cx="45.6" cy="171.3" rx="4.0" ry="5.4"/><ellipse cx="48.8" cy="188.4" rx="4.1" ry="4.6"/><ellipse cx="74.3" cy="114.4" rx="3.6" ry="4.3"/><ellipse cx="89.1" cy="184.8" rx="3.6" ry="5.0"/><ellipse cx="75.2" cy="67.2" rx="3.1" ry="7.5"/><ellipse cx="48.0" cy="93.2" rx="4.0" ry="5.2"/><ellipse cx="102.8" cy="201.2" rx="3.2" ry="4.0"/></g>
<g fill="url(#r11)"><ellipse cx="123.1" cy="76.7" rx="3.7" ry="3.8"/><ellipse cx="126.0" cy="169.5" rx="4.0" ry="5.1"/><ellipse cx="95.0" cy="109.9" rx="3.8" ry="4.0"/><ellipse cx="35.5" cy="75.6" rx="3.4" ry="4.1"/><ellipse cx="66.0" cy="251.2" rx="3.5" ry="5.4"/><ellipse cx="146.4" cy="83.0" rx="3.6" ry="4.9"/><ellipse cx="82.2" cy="105.7" rx="3.2" ry="4.1"/><ellipse cx="114.1" cy="56.7" rx="4.1" ry="8.2"/><ellipse cx="55.1" cy="157.1" rx="3.8" ry="9.2"/><ellipse cx="124.9" cy="125.4" rx="3.2" ry="4.4"/><ellipse cx="71.0" cy="130.7" rx="3.0" ry="5.3"/><ellipse cx="82.7" cy="74.1" rx="3.6" ry="4.9"/><ellipse cx="34.9" cy="256.3" rx="3.2" ry="5.3"/><ellipse cx="80.9" cy="150.8" rx="3.4" ry="6.3"/><ellipse cx="135.3" cy="30.1" rx="4.0" ry="6.4"/><ellipse cx="152.1" cy="205.7" rx="3.3" ry="8.5"/><ellipse cx="75.2" cy="42.0" rx="3.5" ry="8.0"/><ellipse cx="79.6" cy="243.0" rx="3.4" ry="7.7"/><ellipse cx="63.3" cy="47.1" rx="3.5" ry="4.2"/><ellipse cx="105.2" cy="153.0" rx="3.5" ry="5.0"/><ellipse cx="44.9" cy="257.9" rx="3.8" ry="6.9"/><ellipse cx="113.7" cy="174.2" rx="3.9" ry="6.1"/><ellipse cx="41.2" cy="95.7" rx="4.2" ry="4.0"/><ellipse cx="115.6" cy="255.2" rx="4.1" ry="4.5"/><ellipse cx="108.5" cy="155.4" rx="3.3" ry="4.1"/><ellipse cx="121.4" cy="266.4" rx="3.4" ry="3.6"/><ellipse cx="133.1" cy="91.1" rx="3.9" ry="8.6"/><ellipse cx="57.8" cy="111.3" rx="4.0" ry="5.0"/><ellipse cx="96.0" cy="67.9" rx="3.3" ry="7.4"/><ellipse cx="133.7" cy="65.6" rx="4.0" ry="8.8"/><ellipse cx="95.1" cy="57.9" rx="3.8" ry="8.5"/><ellipse cx="39.9" cy="142.3" rx="3.9" ry="4.6"/><ellipse cx="107.1" cy="272.2" rx="3.8" ry="5.3"/><ellipse cx="128.8" cy="103.0" rx="3.4" ry="4.1"/><ellipse cx="41.3" cy="47.9" rx="4.0" ry="5.1"/><ellipse cx="92.3" cy="85.1" rx="3.2" ry="4.0"/><ellipse cx="151.3" cy="230.6" rx="3.1" ry="4.4"/><ellipse cx="83.8" cy="197.8" rx="3.3" ry="6.2"/><ellipse cx="60.0" cy="47.4" rx="4.2" ry="4.0"/><ellipse cx="126.4" cy="94.3" rx="3.6" ry="4.1"/><ellipse cx="79.9" cy="133.7" rx="4.2" ry="6.5"/><ellipse cx="51.2" cy="47.4" rx="3.2" ry="3.8"/><ellipse cx="126.6" cy="253.5" rx="3.5" ry="3.6"/><ellipse cx="40.1" cy="133.9" rx="3.5" ry="3.8"/><ellipse cx="84.6" cy="101.2" rx="4.0" ry="9.5"/><ellipse cx="120.3" cy="168.8" rx="3.2" ry="6.7"/><ellipse cx="85.1" cy="167.4" rx="3.6" ry="3.7"/><ellipse cx="53.5" cy="101.9" rx="4.0" ry="9.4"/><ellipse cx="108.5" cy="207.5" rx="3.3" ry="4.3"/><ellipse cx="115.0" cy="46.2" rx="3.6" ry="5.4"/><ellipse cx="58.6" cy="250.9" rx="3.1" ry="5.0"/><ellipse cx="95.1" cy="241.0" rx="3.5" ry="8.7"/><ellipse cx="92.1" cy="132.9" rx="3.0" ry="4.1"/><ellipse cx="125.7" cy="160.0" rx="4.0" ry="4.0"/><ellipse cx="102.5" cy="208.1" rx="3.4" ry="3.9"/><ellipse cx="49.2" cy="167.2" rx="3.1" ry="7.1"/><ellipse cx="46.2" cy="82.5" rx="3.1" ry="4.8"/><ellipse cx="68.0" cy="215.9" rx="3.9" ry="5.1"/><ellipse cx="34.1" cy="269.7" rx="3.8" ry="4.7"/><ellipse cx="63.9" cy="205.9" rx="3.3" ry="4.4"/><ellipse cx="118.1" cy="71.0" rx="3.4" ry="3.7"/><ellipse cx="44.9" cy="132.3" rx="3.7" ry="8.8"/><ellipse cx="83.5" cy="239.8" rx="4.1" ry="5.3"/><ellipse cx="109.0" cy="150.3" rx="3.3" ry="4.8"/><ellipse cx="39.6" cy="114.7" rx="3.9" ry="4.5"/><ellipse cx="119.7" cy="94.3" rx="3.3" ry="5.4"/><ellipse cx="42.4" cy="244.5" rx="3.8" ry="4.3"/><ellipse cx="70.0" cy="116.4" rx="3.7" ry="3.9"/><ellipse cx="125.6" cy="28.6" rx="3.1" ry="4.1"/><ellipse cx="66.3" cy="116.4" rx="3.2" ry="5.2"/><ellipse cx="38.7" cy="75.5" rx="4.0" ry="7.1"/></g>
<g fill="url(#r12)"><ellipse cx="65.9" cy="143.2" rx="4.1" ry="5.4"/><ellipse cx="93.8" cy="156.5" rx="3.8" ry="5.0"/><ellipse cx="78.3" cy="38.5" rx="3.0" ry="7.7"/><ellipse cx="54.9" cy="41.4" rx="3.9" ry="5.2"/><ellipse cx="73.2" cy="75.4" rx="3.8" ry="3.7"/><ellipse cx="86.9" cy="256.8" rx="3.8" ry="4.5"/><ellipse cx="36.0" cy="173.4" rx="4.1" ry="4.4"/><ellipse cx="109.1" cy="75.7" rx="3.5" ry="8.0"/><ellipse cx="37.5" cy="266.4" rx="4.1" ry="4.7"/><ellipse cx="37.3" cy="71.4" rx="3.5" ry="5.3"/><ellipse cx="107.4" cy="260.0" rx="3.9" ry="5.0"/><ellipse cx="79.7" cy="239.2" rx="3.5" ry="5.3"/><ellipse cx="110.6" cy="268.8" rx="3.9" ry="6.4"/><ellipse cx="46.0" cy="45.0" rx="3.8" ry="5.0"/><ellipse cx="34.6" cy="130.2" rx="3.9" ry="5.0"/><ellipse cx="36.9" cy="173.0" rx="4.0" ry="3.9"/><ellipse cx="105.0" cy="240.5" rx="4.0" ry="3.7"/><ellipse cx="130.1" cy="132.8" rx="3.8" ry="4.9"/><ellipse cx="106.4" cy="134.7" rx="3.4" ry="3.7"/><ellipse cx="107.9" cy="261.3" rx="3.4" ry="8.9"/><ellipse cx="125.8" cy="217.8" rx="3.2" ry="4.0"/><ellipse cx="37.7" cy="163.5" rx="3.8" ry="5.1"/><ellipse cx="162.1" cy="197.4" rx="3.6" ry="4.6"/><ellipse cx="98.7" cy="44.8" rx="4.0" ry="4.3"/><ellipse cx="90.0" cy="140.3" rx="3.2" ry="8.2"/><ellipse cx="111.3" cy="258.4" rx="3.8" ry="3.9"/><ellipse cx="72.5" cy="98.9" rx="3.5" ry="5.2"/><ellipse cx="74.5" cy="122.7" rx="4.0" ry="9.0"/><ellipse cx="121.8" cy="27.2" rx="3.9" ry="4.8"/><ellipse cx="43.5" cy="124.8" rx="3.8" ry="4.7"/><ellipse cx="110.1" cy="136.9" rx="3.5" ry="4.2"/><ellipse cx="86.8" cy="28.5" rx="3.8" ry="4.5"/><ellipse cx="54.7" cy="251.5" rx="4.0" ry="4.9"/><ellipse cx="114.4" cy="209.4" rx="3.1" ry="4.9"/><ellipse cx="38.2" cy="165.1" rx="3.9" ry="8.7"/><ellipse cx="60.7" cy="266.6" rx="3.4" ry="8.6"/><ellipse cx="122.4" cy="244.5" rx="3.4" ry="4.0"/><ellipse cx="163.5" cy="64.8" rx="3.3" ry="5.2"/><ellipse cx="84.4" cy="29.6" rx="3.2" ry="7.1"/><ellipse cx="108.3" cy="53.5" rx="3.2" ry="8.9"/><ellipse cx="126.5" cy="231.2" rx="3.7" ry="5.0"/><ellipse cx="38.9" cy="162.7" rx="3.9" ry="4.2"/><ellipse cx="97.5" cy="165.3" rx="3.3" ry="4.7"/><ellipse cx="115.9" cy="113.9" rx="3.7" ry="8.6"/><ellipse cx="69.1" cy="74.8" rx="3.1" ry="4.1"/><ellipse cx="101.6" cy="269.2" rx="4.2" ry="4.6"/><ellipse cx="60.0" cy="192.4" rx="3.8" ry="8.1"/><ellipse cx="42.3" cy="214.3" rx="3.3" ry="4.2"/><ellipse cx="86.9" cy="202.8" rx="4.1" ry="4.6"/><ellipse cx="56.5" cy="142.3" rx="4.0" ry="3.6"/><ellipse cx="142.5" cy="247.9" rx="3.2" ry="4.5"/><ellipse cx="129.5" cy="145.1" rx="3.6" ry="6.3"/><ellipse cx="77.6" cy="258.2" rx="3.6" ry="4.8"/><ellipse cx="88.9" cy="128.6" rx="3.4" ry="6.7"/><ellipse cx="167.1" cy="229.4" rx="3.2" ry="8.0"/><ellipse cx="58.2" cy="58.6" rx="3.9" ry="7.8"/><ellipse cx="151.5" cy="219.3" rx="3.7" ry="7.5"/><ellipse cx="91.3" cy="37.5" rx="3.4" ry="8.9"/><ellipse cx="87.2" cy="129.9" rx="3.6" ry="3.7"/><ellipse cx="49.6" cy="97.3" rx="4.1" ry="4.5"/><ellipse cx="139.3" cy="89.8" rx="3.3" ry="3.6"/><ellipse cx="95.2" cy="129.3" rx="3.0" ry="4.1"/><ellipse cx="103.1" cy="223.2" rx="3.9" ry="4.1"/><ellipse cx="127.2" cy="178.7" rx="3.4" ry="6.9"/><ellipse cx="84.4" cy="220.6" rx="4.1" ry="4.9"/><ellipse cx="69.9" cy="253.6" rx="3.4" ry="6.4"/><ellipse cx="56.5" cy="174.9" rx="3.8" ry="4.3"/></g>
<g fill="url(#r13)"><ellipse cx="41.7" cy="140.8" rx="3.5" ry="4.9"/><ellipse cx="103.0" cy="110.2" rx="4.0" ry="7.2"/><ellipse cx="132.5" cy="249.2" rx="3.7" ry="5.1"/><ellipse cx="98.6" cy="106.1" rx="3.2" ry="4.3"/><ellipse cx="101.3" cy="266.5" rx="3.4" ry="4.0"/><ellipse cx="41.7" cy="132.0" rx="3.6" ry="3.8"/><ellipse cx="57.1" cy="66.0" rx="4.2" ry="9.2"/><ellipse cx="131.9" cy="221.4" rx="3.4" ry="4.2"/><ellipse cx="54.7" cy="185.4" rx="3.2" ry="5.4"/><ellipse cx="57.1" cy="129.7" rx="4.1" ry="5.3"/><ellipse cx="158.8" cy="93.6" rx="4.0" ry="3.7"/><ellipse cx="60.6" cy="60.3" rx="3.3" ry="4.1"/><ellipse cx="39.4" cy="235.4" rx="3.8" ry="4.6"/><ellipse cx="66.1" cy="125.8" rx="3.8" ry="4.8"/><ellipse cx="145.6" cy="225.9" rx="3.7" ry="8.8"/><ellipse cx="117.4" cy="103.5" rx="3.8" ry="5.3"/><ellipse cx="136.0" cy="217.1" rx="3.7" ry="5.4"/><ellipse cx="116.5" cy="225.8" rx="3.8" ry="4.6"/><ellipse cx="100.6" cy="49.1" rx="3.7" ry="4.5"/><ellipse cx="44.1" cy="46.5" rx="3.2" ry="8.3"/><ellipse cx="125.8" cy="202.4" rx="4.1" ry="3.6"/><ellipse cx="96.2" cy="110.5" rx="3.3" ry="4.6"/><ellipse cx="56.5" cy="212.4" rx="3.4" ry="3.7"/><ellipse cx="141.1" cy="214.8" rx="3.3" ry="5.2"/><ellipse cx="73.9" cy="100.9" rx="3.4" ry="4.0"/><ellipse cx="142.5" cy="114.2" rx="4.1" ry="5.2"/><ellipse cx="42.3" cy="76.2" rx="3.3" ry="4.5"/><ellipse cx="85.4" cy="226.3" rx="3.7" ry="4.3"/><ellipse cx="143.4" cy="248.7" rx="3.4" ry="3.8"/><ellipse cx="130.0" cy="27.8" rx="3.3" ry="8.8"/><ellipse cx="47.4" cy="213.2" rx="3.2" ry="4.8"/><ellipse cx="111.5" cy="242.2" rx="3.6" ry="3.7"/><ellipse cx="128.3" cy="234.1" rx="3.2" ry="4.5"/><ellipse cx="135.3" cy="124.7" rx="3.9" ry="5.0"/><ellipse cx="93.2" cy="146.0" rx="4.0" ry="4.9"/><ellipse cx="72.4" cy="196.2" rx="4.2" ry="4.2"/><ellipse cx="81.3" cy="207.8" rx="3.9" ry="8.2"/><ellipse cx="98.6" cy="93.4" rx="3.3" ry="5.1"/></g>
<g fill="url(#r4)"><ellipse cx="183.4" cy="238.3" rx="4.0" ry="8.4"/><ellipse cx="186.2" cy="112.7" rx="3.6" ry="7.0"/><ellipse cx="194.7" cy="257.6" rx="3.7" ry="8.7"/><ellipse cx="175.6" cy="222.6" rx="3.8" ry="4.3"/><ellipse cx="196.1" cy="236.2" rx="3.3" ry="8.3"/><ellipse cx="199.2" cy="32.8" rx="3.3" ry="7.0"/><ellipse cx="193.6" cy="117.1" rx="3.2" ry="4.3"/><ellipse cx="197.3" cy="197.3" rx="4.1" ry="5.4"/><ellipse cx="176.1" cy="73.5" rx="3.1" ry="7.7"/><ellipse cx="160.1" cy="244.9" rx="3.6" ry="8.0"/><ellipse cx="186.6" cy="72.4" rx="3.2" ry="5.4"/><ellipse cx="184.4" cy="62.1" rx="3.5" ry="7.0"/><ellipse cx="160.8" cy="203.7" rx="3.5" ry="6.0"/><ellipse cx="191.8" cy="233.0" rx="2.8" ry="6.0"/><ellipse cx="195.1" cy="51.0" rx="3.8" ry="5.2"/><ellipse cx="200.3" cy="247.1" rx="3.8" ry="6.9"/><ellipse cx="162.5" cy="245.3" rx="3.1" ry="7.9"/><ellipse cx="187.9" cy="240.8" rx="3.7" ry="6.3"/><ellipse cx="169.3" cy="45.1" rx="3.2" ry="7.9"/><ellipse cx="187.4" cy="228.9" rx="2.9" ry="7.4"/><ellipse cx="161.9" cy="76.9" rx="2.8" ry="8.4"/><ellipse cx="169.1" cy="190.9" rx="3.0" ry="6.6"/><ellipse cx="185.6" cy="265.8" rx="3.5" ry="8.5"/><ellipse cx="163.6" cy="211.3" rx="4.2" ry="8.4"/></g>
<g fill="url(#r3)"><ellipse cx="187.7" cy="49.1" rx="3.8" ry="7.1"/><ellipse cx="203.7" cy="48.1" rx="3.9" ry="5.9"/><ellipse cx="203.8" cy="70.0" rx="3.3" ry="5.4"/><ellipse cx="201.2" cy="197.9" rx="2.8" ry="4.4"/><ellipse cx="183.4" cy="99.8" rx="3.6" ry="8.5"/><ellipse cx="189.6" cy="251.4" rx="4.1" ry="6.5"/><ellipse cx="178.6" cy="239.2" rx="3.1" ry="7.1"/><ellipse cx="203.6" cy="204.8" rx="2.7" ry="9.0"/><ellipse cx="194.5" cy="32.9" rx="3.9" ry="8.5"/><ellipse cx="191.6" cy="256.2" rx="3.0" ry="6.1"/></g>
</g>
</g>
<g filter="url(#cmb)" style="mix-blend-mode:darken">
<rect x="120" y="28" width="557" height="244" fill="#000"/>
<g class="lt">
<g fill="url(#r7)"><ellipse cx="153.7" cy="143.7" rx="4.2" ry="8.9"/><ellipse cx="154.7" cy="105.9" rx="3.5" ry="4.6"/><ellipse cx="158.0" cy="152.8" rx="4.6" ry="5.3"/><ellipse cx="157.5" cy="131.7" rx="4.0" ry="8.1"/><ellipse cx="163.7" cy="172.2" rx="4.8" ry="7.0"/><ellipse cx="162.4" cy="148.3" rx="4.1" ry="8.1"/><ellipse cx="164.0" cy="155.3" rx="3.2" ry="4.6"/><ellipse cx="163.5" cy="203.1" rx="3.1" ry="5.2"/><ellipse cx="166.8" cy="164.2" rx="3.3" ry="5.1"/><ellipse cx="166.7" cy="140.8" rx="3.4" ry="6.1"/><ellipse cx="165.6" cy="167.1" rx="4.3" ry="4.6"/><ellipse cx="165.8" cy="151.0" rx="4.8" ry="6.0"/><ellipse cx="170.8" cy="158.8" rx="3.7" ry="7.0"/><ellipse cx="171.7" cy="120.5" rx="3.3" ry="5.8"/><ellipse cx="174.3" cy="147.2" rx="4.7" ry="7.7"/><ellipse cx="179.6" cy="147.9" rx="3.6" ry="8.2"/><ellipse cx="182.2" cy="105.3" rx="4.3" ry="8.2"/><ellipse cx="182.3" cy="139.9" rx="4.3" ry="7.7"/><ellipse cx="184.2" cy="125.1" rx="3.6" ry="6.7"/><ellipse cx="186.2" cy="160.4" rx="4.0" ry="6.2"/><ellipse cx="186.9" cy="144.2" rx="4.5" ry="4.6"/><ellipse cx="187.6" cy="174.8" rx="3.6" ry="8.7"/><ellipse cx="190.3" cy="171.3" rx="4.3" ry="7.1"/><ellipse cx="190.0" cy="144.7" rx="3.2" ry="6.3"/><ellipse cx="194.4" cy="151.2" rx="3.1" ry="7.7"/><ellipse cx="195.1" cy="109.3" rx="4.7" ry="5.6"/><ellipse cx="197.5" cy="182.4" rx="3.3" ry="8.4"/><ellipse cx="197.0" cy="148.6" rx="4.0" ry="5.9"/><ellipse cx="200.5" cy="159.1" rx="3.6" ry="6.0"/><ellipse cx="202.8" cy="163.5" rx="4.2" ry="8.9"/><ellipse cx="203.0" cy="156.7" rx="4.6" ry="6.4"/><ellipse cx="201.9" cy="158.9" rx="3.4" ry="5.3"/><ellipse cx="205.0" cy="179.2" rx="3.4" ry="4.8"/><ellipse cx="207.5" cy="151.2" rx="3.7" ry="4.6"/><ellipse cx="208.5" cy="167.6" rx="3.0" ry="8.5"/><ellipse cx="208.4" cy="164.5" rx="3.9" ry="8.0"/><ellipse cx="209.2" cy="162.9" rx="3.0" ry="8.5"/><ellipse cx="212.2" cy="144.4" rx="4.7" ry="5.6"/><ellipse cx="215.4" cy="151.3" rx="4.1" ry="5.7"/><ellipse cx="215.4" cy="143.8" rx="4.4" ry="8.2"/><ellipse cx="216.0" cy="151.5" rx="3.7" ry="8.6"/><ellipse cx="220.7" cy="152.7" rx="3.9" ry="6.5"/><ellipse cx="223.5" cy="159.1" rx="4.4" ry="7.9"/><ellipse cx="222.6" cy="137.3" rx="3.0" ry="7.3"/><ellipse cx="223.0" cy="152.5" rx="4.5" ry="7.7"/><ellipse cx="228.1" cy="162.9" rx="4.0" ry="7.0"/><ellipse cx="229.0" cy="155.3" rx="4.5" ry="8.7"/><ellipse cx="228.3" cy="147.8" rx="4.3" ry="7.6"/><ellipse cx="230.7" cy="124.1" rx="3.5" ry="8.1"/><ellipse cx="230.1" cy="144.2" rx="3.9" ry="5.8"/><ellipse cx="233.0" cy="127.6" rx="4.5" ry="4.9"/><ellipse cx="235.7" cy="152.1" rx="4.4" ry="5.4"/><ellipse cx="238.4" cy="116.3" rx="3.3" ry="4.9"/><ellipse cx="239.6" cy="140.1" rx="4.5" ry="5.0"/><ellipse cx="239.8" cy="156.6" rx="4.3" ry="5.9"/><ellipse cx="239.2" cy="139.5" rx="4.7" ry="6.0"/><ellipse cx="244.3" cy="140.7" rx="4.1" ry="8.5"/><ellipse cx="243.0" cy="127.7" rx="4.0" ry="8.6"/><ellipse cx="247.0" cy="121.1" rx="3.0" ry="4.6"/><ellipse cx="247.6" cy="158.9" rx="3.9" ry="7.2"/><ellipse cx="246.8" cy="163.1" rx="4.8" ry="8.2"/><ellipse cx="249.6" cy="167.5" rx="3.6" ry="4.7"/><ellipse cx="248.8" cy="166.5" rx="3.8" ry="6.0"/><ellipse cx="249.0" cy="143.5" rx="4.0" ry="7.4"/><ellipse cx="251.9" cy="148.0" rx="3.2" ry="5.9"/><ellipse cx="251.0" cy="144.8" rx="4.1" ry="6.5"/><ellipse cx="252.2" cy="174.5" rx="4.3" ry="4.9"/><ellipse cx="253.4" cy="140.1" rx="3.9" ry="8.1"/><ellipse cx="257.8" cy="151.1" rx="4.2" ry="7.3"/><ellipse cx="260.6" cy="179.2" rx="3.0" ry="8.5"/><ellipse cx="259.3" cy="167.3" rx="3.5" ry="7.4"/><ellipse cx="263.2" cy="147.9" rx="3.7" ry="5.9"/><ellipse cx="261.6" cy="144.9" rx="4.1" ry="7.1"/><ellipse cx="262.8" cy="148.1" rx="3.0" ry="5.1"/><ellipse cx="264.1" cy="159.2" rx="4.1" ry="6.8"/><ellipse cx="268.2" cy="152.4" rx="3.3" ry="7.0"/><ellipse cx="267.1" cy="151.2" rx="3.1" ry="4.5"/><ellipse cx="270.0" cy="159.8" rx="3.2" ry="7.0"/><ellipse cx="269.4" cy="160.6" rx="3.6" ry="8.1"/><ellipse cx="270.0" cy="179.4" rx="4.6" ry="8.6"/><ellipse cx="272.1" cy="147.1" rx="4.3" ry="8.3"/><ellipse cx="275.9" cy="140.4" rx="3.4" ry="6.3"/><ellipse cx="277.5" cy="133.4" rx="4.0" ry="8.2"/><ellipse cx="280.0" cy="207.0" rx="3.2" ry="8.5"/><ellipse cx="282.9" cy="167.7" rx="3.9" ry="8.6"/><ellipse cx="283.8" cy="140.6" rx="3.8" ry="7.6"/><ellipse cx="284.0" cy="124.8" rx="3.3" ry="5.2"/><ellipse cx="285.1" cy="148.5" rx="4.0" ry="7.3"/><ellipse cx="288.8" cy="133.0" rx="4.3" ry="4.6"/><ellipse cx="291.1" cy="139.8" rx="4.3" ry="8.0"/><ellipse cx="292.9" cy="148.4" rx="3.5" ry="7.1"/><ellipse cx="293.4" cy="137.0" rx="4.2" ry="5.9"/><ellipse cx="296.9" cy="160.6" rx="4.1" ry="4.7"/><ellipse cx="295.2" cy="145.1" rx="4.3" ry="6.9"/><ellipse cx="299.0" cy="129.4" rx="3.1" ry="7.9"/><ellipse cx="299.1" cy="171.7" rx="4.3" ry="6.2"/><ellipse cx="299.2" cy="137.2" rx="3.2" ry="6.5"/><ellipse cx="300.8" cy="171.7" rx="4.4" ry="6.5"/><ellipse cx="301.7" cy="178.6" rx="3.4" ry="8.9"/><ellipse cx="300.9" cy="156.2" rx="4.4" ry="6.4"/><ellipse cx="303.3" cy="156.7" rx="4.6" ry="5.2"/><ellipse cx="303.9" cy="112.8" rx="3.5" ry="8.5"/><ellipse cx="309.4" cy="116.5" rx="3.7" ry="5.0"/><ellipse cx="309.7" cy="172.4" rx="3.3" ry="7.5"/><ellipse cx="311.7" cy="129.0" rx="3.4" ry="7.1"/><ellipse cx="312.0" cy="150.9" rx="3.5" ry="6.1"/><ellipse cx="313.4" cy="136.6" rx="3.5" ry="7.7"/><ellipse cx="315.0" cy="135.7" rx="4.4" ry="7.0"/><ellipse cx="314.3" cy="109.9" rx="3.1" ry="6.8"/><ellipse cx="316.3" cy="116.5" rx="4.3" ry="8.3"/><ellipse cx="317.6" cy="144.6" rx="3.8" ry="8.0"/><ellipse cx="319.6" cy="125.3" rx="3.9" ry="8.2"/><ellipse cx="320.3" cy="143.9" rx="3.4" ry="4.8"/><ellipse cx="319.5" cy="105.5" rx="3.1" ry="7.0"/><ellipse cx="322.1" cy="160.4" rx="3.6" ry="7.1"/><ellipse cx="321.5" cy="124.2" rx="3.4" ry="5.9"/><ellipse cx="323.9" cy="143.6" rx="4.1" ry="8.7"/><ellipse cx="326.3" cy="143.3" rx="4.6" ry="8.3"/><ellipse cx="328.8" cy="141.0" rx="3.9" ry="4.7"/><ellipse cx="329.3" cy="152.2" rx="4.2" ry="8.5"/><ellipse cx="330.5" cy="136.8" rx="3.3" ry="6.2"/><ellipse cx="330.5" cy="140.0" rx="3.3" ry="7.6"/><ellipse cx="329.7" cy="132.6" rx="4.2" ry="4.6"/><ellipse cx="335.0" cy="132.9" rx="3.1" ry="6.6"/><ellipse cx="335.3" cy="141.1" rx="4.1" ry="7.4"/><ellipse cx="334.7" cy="140.5" rx="3.9" ry="6.0"/><ellipse cx="335.9" cy="120.7" rx="4.3" ry="4.5"/><ellipse cx="334.9" cy="123.7" rx="4.3" ry="5.6"/><ellipse cx="338.5" cy="160.3" rx="3.2" ry="7.4"/><ellipse cx="340.4" cy="147.6" rx="4.1" ry="5.0"/><ellipse cx="340.8" cy="151.9" rx="3.0" ry="5.6"/><ellipse cx="343.7" cy="156.1" rx="4.3" ry="9.0"/><ellipse cx="342.3" cy="144.7" rx="4.6" ry="5.7"/><ellipse cx="343.3" cy="125.6" rx="4.2" ry="4.5"/><ellipse cx="344.9" cy="135.4" rx="3.5" ry="8.0"/><ellipse cx="345.2" cy="160.1" rx="4.5" ry="5.4"/><ellipse cx="347.9" cy="152.9" rx="4.3" ry="8.1"/><ellipse cx="347.0" cy="135.6" rx="3.5" ry="6.6"/><ellipse cx="347.4" cy="132.5" rx="4.4" ry="5.3"/><ellipse cx="351.3" cy="140.8" rx="4.2" ry="8.9"/><ellipse cx="353.5" cy="112.9" rx="3.3" ry="5.4"/><ellipse cx="356.2" cy="140.7" rx="3.4" ry="5.6"/><ellipse cx="354.9" cy="160.0" rx="3.6" ry="5.2"/><ellipse cx="361.8" cy="156.2" rx="4.5" ry="7.7"/><ellipse cx="362.6" cy="164.0" rx="4.8" ry="8.7"/><ellipse cx="366.0" cy="140.6" rx="3.2" ry="6.5"/><ellipse cx="369.8" cy="155.5" rx="4.5" ry="8.5"/><ellipse cx="356.0" cy="112.0" rx="3.3" ry="5.4"/><ellipse cx="360.0" cy="120.0" rx="3.3" ry="5.4"/><ellipse cx="366.0" cy="118.0" rx="3.3" ry="5.4"/><ellipse cx="347.0" cy="162.0" rx="3.3" ry="5.4"/><ellipse cx="154.1" cy="68.4" rx="3.9" ry="6.0"/><ellipse cx="153.4" cy="73.2" rx="3.9" ry="6.0"/><ellipse cx="134.0" cy="232.0" rx="3.6" ry="6.6"/></g>
<g fill="url(#r6)"><ellipse cx="152.1" cy="155.2" rx="3.6" ry="8.0"/><ellipse cx="153.7" cy="156.3" rx="3.0" ry="7.6"/><ellipse cx="152.9" cy="167.0" rx="4.0" ry="5.2"/><ellipse cx="155.0" cy="174.8" rx="3.4" ry="7.2"/><ellipse cx="156.2" cy="152.6" rx="3.4" ry="5.8"/><ellipse cx="157.8" cy="186.2" rx="4.3" ry="7.0"/><ellipse cx="158.1" cy="147.2" rx="3.2" ry="5.6"/><ellipse cx="160.1" cy="182.2" rx="4.5" ry="5.6"/><ellipse cx="161.0" cy="132.0" rx="4.1" ry="5.7"/><ellipse cx="161.2" cy="125.1" rx="3.7" ry="5.8"/><ellipse cx="160.4" cy="178.4" rx="3.3" ry="5.3"/><ellipse cx="165.6" cy="160.5" rx="4.0" ry="5.1"/><ellipse cx="167.9" cy="155.7" rx="3.2" ry="5.0"/><ellipse cx="169.0" cy="159.1" rx="4.6" ry="4.5"/><ellipse cx="171.3" cy="158.9" rx="4.4" ry="4.7"/><ellipse cx="170.2" cy="151.6" rx="4.0" ry="8.5"/><ellipse cx="173.5" cy="180.2" rx="3.0" ry="8.2"/><ellipse cx="173.7" cy="140.2" rx="3.5" ry="8.8"/><ellipse cx="173.6" cy="133.2" rx="3.9" ry="5.2"/><ellipse cx="175.9" cy="152.3" rx="3.4" ry="7.4"/><ellipse cx="179.5" cy="136.2" rx="3.1" ry="6.3"/><ellipse cx="178.2" cy="164.3" rx="3.3" ry="8.8"/><ellipse cx="181.1" cy="166.9" rx="4.2" ry="7.7"/><ellipse cx="184.8" cy="182.5" rx="3.2" ry="6.6"/><ellipse cx="184.3" cy="168.2" rx="4.4" ry="8.1"/><ellipse cx="184.6" cy="159.6" rx="4.1" ry="7.2"/><ellipse cx="184.6" cy="159.9" rx="3.7" ry="8.0"/><ellipse cx="186.4" cy="151.3" rx="3.8" ry="7.7"/><ellipse cx="189.9" cy="166.7" rx="3.1" ry="8.5"/><ellipse cx="189.1" cy="147.3" rx="4.7" ry="5.1"/><ellipse cx="191.9" cy="140.4" rx="4.1" ry="8.9"/><ellipse cx="193.8" cy="143.2" rx="3.1" ry="8.2"/><ellipse cx="194.6" cy="163.1" rx="3.3" ry="8.3"/><ellipse cx="197.5" cy="159.4" rx="3.3" ry="6.3"/><ellipse cx="197.6" cy="148.7" rx="3.6" ry="7.3"/><ellipse cx="197.7" cy="131.5" rx="4.8" ry="7.8"/><ellipse cx="201.5" cy="159.9" rx="4.1" ry="8.3"/><ellipse cx="205.9" cy="175.9" rx="4.0" ry="7.0"/><ellipse cx="204.6" cy="152.5" rx="3.4" ry="7.1"/><ellipse cx="204.3" cy="140.4" rx="3.1" ry="6.0"/><ellipse cx="210.1" cy="156.1" rx="4.1" ry="7.9"/><ellipse cx="209.7" cy="147.7" rx="3.0" ry="4.7"/><ellipse cx="210.7" cy="163.6" rx="4.1" ry="7.5"/><ellipse cx="215.5" cy="158.9" rx="3.5" ry="7.9"/><ellipse cx="214.4" cy="175.3" rx="4.3" ry="4.8"/><ellipse cx="218.1" cy="144.1" rx="3.8" ry="8.9"/><ellipse cx="221.2" cy="152.0" rx="4.2" ry="5.7"/><ellipse cx="220.5" cy="125.4" rx="4.2" ry="8.4"/><ellipse cx="221.5" cy="143.9" rx="4.1" ry="7.4"/><ellipse cx="223.4" cy="175.5" rx="4.6" ry="4.6"/><ellipse cx="224.8" cy="140.2" rx="4.3" ry="7.9"/><ellipse cx="228.1" cy="136.8" rx="4.4" ry="8.5"/><ellipse cx="230.2" cy="112.1" rx="4.5" ry="8.8"/><ellipse cx="231.0" cy="140.9" rx="3.1" ry="5.9"/><ellipse cx="231.3" cy="143.2" rx="3.9" ry="7.4"/><ellipse cx="233.4" cy="136.8" rx="4.4" ry="8.3"/><ellipse cx="236.0" cy="144.2" rx="3.9" ry="6.4"/><ellipse cx="235.7" cy="132.0" rx="4.2" ry="7.6"/><ellipse cx="237.0" cy="155.6" rx="3.8" ry="8.2"/><ellipse cx="239.5" cy="152.4" rx="3.2" ry="5.2"/><ellipse cx="239.2" cy="159.6" rx="4.1" ry="7.6"/><ellipse cx="241.5" cy="109.4" rx="4.4" ry="8.2"/><ellipse cx="241.0" cy="140.2" rx="4.5" ry="7.9"/><ellipse cx="242.3" cy="163.5" rx="4.1" ry="6.9"/><ellipse cx="247.0" cy="159.5" rx="3.3" ry="6.7"/><ellipse cx="247.2" cy="136.8" rx="3.3" ry="8.0"/><ellipse cx="245.8" cy="155.1" rx="4.5" ry="8.6"/><ellipse cx="252.2" cy="183.8" rx="3.9" ry="6.6"/><ellipse cx="251.6" cy="168.5" rx="3.1" ry="8.8"/><ellipse cx="251.6" cy="112.9" rx="3.6" ry="5.0"/><ellipse cx="255.1" cy="132.0" rx="4.8" ry="5.1"/><ellipse cx="254.7" cy="167.3" rx="3.4" ry="5.2"/><ellipse cx="254.2" cy="144.1" rx="4.0" ry="8.8"/><ellipse cx="260.4" cy="147.2" rx="3.5" ry="7.1"/><ellipse cx="262.8" cy="164.5" rx="4.3" ry="8.2"/><ellipse cx="262.6" cy="186.0" rx="4.0" ry="4.8"/><ellipse cx="264.2" cy="143.9" rx="4.7" ry="5.5"/><ellipse cx="273.6" cy="132.4" rx="3.3" ry="7.3"/><ellipse cx="271.7" cy="159.5" rx="4.6" ry="4.7"/><ellipse cx="278.2" cy="148.1" rx="4.1" ry="8.9"/><ellipse cx="278.0" cy="133.3" rx="4.3" ry="5.3"/><ellipse cx="277.9" cy="128.2" rx="4.1" ry="8.7"/><ellipse cx="280.8" cy="179.9" rx="4.4" ry="5.0"/><ellipse cx="280.0" cy="147.2" rx="3.6" ry="5.7"/><ellipse cx="280.7" cy="174.5" rx="3.6" ry="6.2"/><ellipse cx="283.7" cy="124.8" rx="3.5" ry="5.1"/><ellipse cx="282.1" cy="155.9" rx="3.7" ry="5.6"/><ellipse cx="285.9" cy="179.0" rx="4.3" ry="9.0"/><ellipse cx="284.7" cy="179.2" rx="3.4" ry="5.6"/><ellipse cx="285.8" cy="137.2" rx="3.8" ry="8.8"/><ellipse cx="288.5" cy="143.7" rx="4.4" ry="7.8"/><ellipse cx="287.6" cy="148.3" rx="3.4" ry="5.3"/><ellipse cx="291.6" cy="148.5" rx="3.9" ry="8.5"/><ellipse cx="293.8" cy="108.3" rx="4.0" ry="6.4"/><ellipse cx="296.4" cy="171.0" rx="3.3" ry="5.6"/><ellipse cx="295.9" cy="120.4" rx="3.8" ry="7.0"/><ellipse cx="298.6" cy="136.7" rx="3.7" ry="7.7"/><ellipse cx="297.8" cy="128.4" rx="4.5" ry="8.2"/><ellipse cx="307.2" cy="166.9" rx="4.7" ry="5.7"/><ellipse cx="306.0" cy="121.7" rx="3.3" ry="6.0"/><ellipse cx="308.5" cy="124.6" rx="4.3" ry="7.0"/><ellipse cx="312.6" cy="144.5" rx="4.2" ry="6.3"/><ellipse cx="314.7" cy="136.4" rx="4.7" ry="6.8"/><ellipse cx="314.9" cy="117.6" rx="4.5" ry="7.2"/><ellipse cx="316.2" cy="143.3" rx="4.7" ry="5.5"/><ellipse cx="317.8" cy="147.8" rx="3.7" ry="6.2"/><ellipse cx="316.0" cy="151.8" rx="3.4" ry="6.1"/><ellipse cx="322.4" cy="148.0" rx="3.2" ry="8.2"/><ellipse cx="325.1" cy="145.1" rx="4.4" ry="7.8"/><ellipse cx="328.0" cy="136.0" rx="4.4" ry="8.8"/><ellipse cx="331.7" cy="119.7" rx="3.6" ry="7.8"/><ellipse cx="332.4" cy="131.6" rx="3.9" ry="8.0"/><ellipse cx="333.4" cy="140.8" rx="3.4" ry="5.8"/><ellipse cx="335.9" cy="140.0" rx="4.6" ry="4.7"/><ellipse cx="338.4" cy="124.6" rx="3.8" ry="8.0"/><ellipse cx="337.0" cy="176.0" rx="3.6" ry="5.3"/><ellipse cx="340.8" cy="166.7" rx="4.1" ry="8.8"/><ellipse cx="345.1" cy="155.6" rx="3.6" ry="5.8"/><ellipse cx="348.6" cy="116.0" rx="3.5" ry="5.0"/><ellipse cx="347.6" cy="159.1" rx="4.4" ry="8.9"/><ellipse cx="350.9" cy="133.3" rx="3.7" ry="7.0"/><ellipse cx="349.9" cy="140.5" rx="4.4" ry="8.5"/><ellipse cx="354.2" cy="162.8" rx="3.8" ry="6.6"/><ellipse cx="355.0" cy="129.0" rx="3.0" ry="5.1"/><ellipse cx="355.9" cy="152.1" rx="4.1" ry="4.9"/><ellipse cx="357.4" cy="131.7" rx="3.9" ry="4.7"/><ellipse cx="358.2" cy="117.4" rx="3.2" ry="7.9"/><ellipse cx="361.3" cy="140.6" rx="4.3" ry="6.6"/><ellipse cx="364.5" cy="151.1" rx="3.4" ry="7.2"/><ellipse cx="362.9" cy="136.0" rx="3.4" ry="8.5"/><ellipse cx="362.6" cy="144.5" rx="4.2" ry="8.1"/><ellipse cx="363.5" cy="135.6" rx="4.3" ry="5.5"/><ellipse cx="369.4" cy="150.9" rx="4.0" ry="5.8"/><ellipse cx="369.2" cy="152.0" rx="3.7" ry="8.2"/><ellipse cx="369.3" cy="147.2" rx="4.4" ry="5.5"/><ellipse cx="365.6" cy="102.0" rx="3.3" ry="5.4"/><ellipse cx="352.0" cy="165.0" rx="3.3" ry="5.4"/><ellipse cx="356.0" cy="166.0" rx="3.3" ry="5.4"/><ellipse cx="362.0" cy="164.0" rx="3.3" ry="5.4"/><ellipse cx="154.3" cy="66.0" rx="3.9" ry="6.0"/><ellipse cx="153.9" cy="70.8" rx="3.9" ry="6.0"/></g>
<g fill="url(#r11)"><ellipse cx="152.3" cy="140.2" rx="4.0" ry="6.8"/><ellipse cx="157.9" cy="159.7" rx="5.4" ry="6.9"/><ellipse cx="163.9" cy="167.5" rx="4.6" ry="6.6"/><ellipse cx="166.0" cy="148.0" rx="4.5" ry="5.3"/><ellipse cx="170.8" cy="159.7" rx="4.6" ry="6.2"/><ellipse cx="174.1" cy="155.8" rx="4.8" ry="4.8"/><ellipse cx="176.6" cy="163.6" rx="5.0" ry="5.1"/><ellipse cx="178.5" cy="144.1" rx="4.9" ry="5.5"/><ellipse cx="178.7" cy="159.7" rx="4.3" ry="6.3"/><ellipse cx="186.5" cy="159.7" rx="4.3" ry="5.7"/><ellipse cx="187.2" cy="175.3" rx="5.0" ry="6.6"/><ellipse cx="186.3" cy="155.8" rx="4.2" ry="6.7"/><ellipse cx="189.2" cy="151.9" rx="5.1" ry="4.7"/><ellipse cx="191.8" cy="151.9" rx="5.0" ry="5.1"/><ellipse cx="195.2" cy="167.5" rx="5.4" ry="5.7"/><ellipse cx="194.4" cy="155.8" rx="4.0" ry="4.7"/><ellipse cx="196.8" cy="148.0" rx="4.2" ry="6.7"/><ellipse cx="197.4" cy="148.0" rx="4.5" ry="6.8"/><ellipse cx="199.9" cy="155.8" rx="4.1" ry="5.1"/><ellipse cx="202.7" cy="171.4" rx="4.0" ry="5.2"/><ellipse cx="210.9" cy="140.2" rx="5.2" ry="6.7"/><ellipse cx="209.5" cy="148.0" rx="4.5" ry="6.5"/><ellipse cx="212.1" cy="163.6" rx="4.8" ry="4.8"/><ellipse cx="215.5" cy="151.9" rx="3.9" ry="6.0"/><ellipse cx="217.9" cy="151.9" rx="4.8" ry="6.3"/><ellipse cx="220.2" cy="159.7" rx="5.2" ry="5.5"/><ellipse cx="221.2" cy="167.5" rx="4.5" ry="5.1"/><ellipse cx="220.5" cy="136.3" rx="4.2" ry="4.8"/><ellipse cx="223.7" cy="151.9" rx="4.3" ry="6.3"/><ellipse cx="222.6" cy="151.9" rx="5.2" ry="5.0"/><ellipse cx="226.4" cy="148.0" rx="4.5" ry="4.9"/><ellipse cx="228.0" cy="124.6" rx="5.0" ry="6.1"/><ellipse cx="228.6" cy="151.9" rx="4.1" ry="5.6"/><ellipse cx="236.9" cy="155.8" rx="4.4" ry="6.2"/><ellipse cx="238.2" cy="144.1" rx="5.2" ry="4.8"/><ellipse cx="238.6" cy="140.2" rx="4.4" ry="6.5"/><ellipse cx="244.7" cy="151.9" rx="5.4" ry="5.2"/><ellipse cx="247.1" cy="175.3" rx="4.3" ry="6.8"/><ellipse cx="245.9" cy="136.3" rx="4.4" ry="4.9"/><ellipse cx="246.3" cy="148.0" rx="4.8" ry="6.8"/><ellipse cx="246.9" cy="155.8" rx="4.5" ry="4.7"/><ellipse cx="249.7" cy="155.8" rx="4.5" ry="5.9"/><ellipse cx="249.7" cy="163.6" rx="4.5" ry="5.7"/><ellipse cx="252.3" cy="148.0" rx="4.9" ry="5.3"/><ellipse cx="252.3" cy="148.0" rx="4.7" ry="6.4"/><ellipse cx="255.0" cy="155.8" rx="4.0" ry="4.9"/><ellipse cx="254.8" cy="151.9" rx="5.1" ry="5.6"/><ellipse cx="257.3" cy="155.8" rx="4.0" ry="5.3"/><ellipse cx="257.0" cy="155.8" rx="5.1" ry="6.8"/><ellipse cx="259.5" cy="144.1" rx="3.9" ry="6.9"/><ellipse cx="260.3" cy="167.5" rx="4.3" ry="4.7"/><ellipse cx="259.4" cy="171.4" rx="4.9" ry="5.3"/><ellipse cx="262.6" cy="136.3" rx="4.8" ry="4.7"/><ellipse cx="264.4" cy="151.9" rx="5.3" ry="5.6"/><ellipse cx="264.2" cy="163.6" rx="4.1" ry="6.8"/><ellipse cx="267.4" cy="159.7" rx="5.2" ry="6.7"/><ellipse cx="269.8" cy="151.9" rx="4.8" ry="4.5"/><ellipse cx="270.3" cy="167.5" rx="4.9" ry="4.9"/><ellipse cx="269.8" cy="140.2" rx="4.3" ry="4.9"/><ellipse cx="269.9" cy="155.8" rx="4.4" ry="5.3"/><ellipse cx="270.2" cy="155.8" rx="5.1" ry="6.1"/><ellipse cx="272.6" cy="144.1" rx="4.0" ry="6.3"/><ellipse cx="280.3" cy="159.7" rx="4.0" ry="6.1"/><ellipse cx="280.1" cy="151.9" rx="4.7" ry="6.1"/><ellipse cx="283.3" cy="155.8" rx="4.1" ry="6.1"/><ellipse cx="282.3" cy="159.7" rx="4.5" ry="5.1"/><ellipse cx="288.5" cy="159.7" rx="5.0" ry="6.2"/><ellipse cx="290.5" cy="140.2" rx="5.0" ry="6.4"/><ellipse cx="290.3" cy="159.7" rx="3.9" ry="6.4"/><ellipse cx="292.7" cy="163.6" rx="4.3" ry="6.7"/><ellipse cx="293.6" cy="159.7" rx="4.7" ry="6.1"/><ellipse cx="296.5" cy="140.2" rx="4.6" ry="5.9"/><ellipse cx="296.6" cy="136.3" rx="4.9" ry="4.9"/><ellipse cx="298.1" cy="155.8" rx="4.4" ry="4.8"/><ellipse cx="300.9" cy="140.2" rx="4.7" ry="5.6"/><ellipse cx="303.4" cy="148.0" rx="4.7" ry="5.3"/><ellipse cx="309.7" cy="151.9" rx="4.9" ry="6.0"/><ellipse cx="311.9" cy="136.3" rx="5.3" ry="6.7"/><ellipse cx="313.6" cy="140.2" rx="5.0" ry="6.4"/><ellipse cx="317.3" cy="136.3" rx="5.4" ry="4.9"/><ellipse cx="320.1" cy="136.3" rx="4.2" ry="6.3"/><ellipse cx="322.8" cy="140.2" rx="4.8" ry="5.1"/><ellipse cx="329.2" cy="128.5" rx="3.9" ry="6.8"/><ellipse cx="329.7" cy="132.4" rx="5.0" ry="6.0"/><ellipse cx="338.3" cy="144.1" rx="4.3" ry="6.1"/><ellipse cx="337.0" cy="140.2" rx="4.0" ry="6.0"/><ellipse cx="337.1" cy="151.9" rx="5.0" ry="6.8"/><ellipse cx="339.8" cy="148.0" rx="4.2" ry="6.9"/><ellipse cx="340.7" cy="144.1" rx="4.6" ry="5.4"/><ellipse cx="343.3" cy="144.1" rx="4.0" ry="6.7"/><ellipse cx="342.1" cy="144.1" rx="3.9" ry="5.3"/><ellipse cx="351.3" cy="144.1" rx="5.0" ry="6.1"/><ellipse cx="356.4" cy="144.1" rx="5.0" ry="4.7"/><ellipse cx="355.9" cy="151.9" rx="4.5" ry="6.1"/><ellipse cx="361.6" cy="144.1" rx="5.1" ry="4.6"/><ellipse cx="366.9" cy="151.9" rx="4.3" ry="5.0"/><ellipse cx="365.7" cy="144.1" rx="5.1" ry="6.4"/><ellipse cx="334.7" cy="109.0" rx="4.5" ry="4.8"/><ellipse cx="149.6" cy="104.4" rx="3.9" ry="6.0"/><ellipse cx="140.4" cy="178.8" rx="3.9" ry="6.0"/><ellipse cx="155.2" cy="59.0" rx="3.6" ry="6.6"/><ellipse cx="154.9" cy="61.5" rx="3.6" ry="6.6"/></g>
<g fill="url(#r13)"><ellipse cx="152.9" cy="151.9" rx="5.4" ry="6.0"/><ellipse cx="152.7" cy="148.0" rx="4.7" ry="6.0"/><ellipse cx="155.8" cy="148.0" rx="4.6" ry="4.9"/><ellipse cx="156.2" cy="163.6" rx="5.0" ry="6.3"/><ellipse cx="155.5" cy="144.1" rx="4.8" ry="5.0"/><ellipse cx="158.4" cy="155.8" rx="4.8" ry="6.2"/><ellipse cx="160.4" cy="148.0" rx="4.6" ry="5.6"/><ellipse cx="165.5" cy="144.1" rx="4.0" ry="6.6"/><ellipse cx="166.0" cy="151.9" rx="3.9" ry="5.3"/><ellipse cx="169.3" cy="151.9" rx="4.4" ry="5.3"/><ellipse cx="179.4" cy="155.8" rx="4.9" ry="6.9"/><ellipse cx="181.5" cy="155.8" rx="5.1" ry="5.2"/><ellipse cx="181.0" cy="151.9" rx="4.1" ry="6.2"/><ellipse cx="181.8" cy="144.1" rx="5.3" ry="4.5"/><ellipse cx="184.4" cy="171.4" rx="4.5" ry="5.4"/><ellipse cx="186.7" cy="144.1" rx="5.1" ry="5.8"/><ellipse cx="192.7" cy="171.4" rx="5.2" ry="5.0"/><ellipse cx="193.9" cy="159.7" rx="4.9" ry="5.7"/><ellipse cx="195.3" cy="155.8" rx="4.5" ry="4.9"/><ellipse cx="197.4" cy="163.6" rx="4.9" ry="5.1"/><ellipse cx="203.2" cy="136.3" rx="5.4" ry="5.6"/><ellipse cx="201.9" cy="163.6" rx="4.5" ry="6.6"/><ellipse cx="202.7" cy="155.8" rx="4.6" ry="6.8"/><ellipse cx="204.8" cy="148.0" rx="4.8" ry="4.9"/><ellipse cx="204.5" cy="140.2" rx="4.4" ry="6.5"/><ellipse cx="207.1" cy="155.8" rx="4.5" ry="5.3"/><ellipse cx="208.4" cy="151.9" rx="4.1" ry="4.5"/><ellipse cx="210.6" cy="144.1" rx="5.3" ry="5.0"/><ellipse cx="212.0" cy="159.7" rx="5.1" ry="5.8"/><ellipse cx="213.2" cy="155.8" rx="4.6" ry="4.9"/><ellipse cx="215.3" cy="144.1" rx="5.4" ry="6.1"/><ellipse cx="215.4" cy="155.8" rx="5.1" ry="5.4"/><ellipse cx="218.3" cy="151.9" rx="3.9" ry="6.6"/><ellipse cx="223.6" cy="148.0" rx="4.5" ry="4.6"/><ellipse cx="225.6" cy="159.7" rx="5.3" ry="5.6"/><ellipse cx="228.3" cy="144.1" rx="4.5" ry="6.7"/><ellipse cx="228.0" cy="148.0" rx="4.6" ry="6.4"/><ellipse cx="231.5" cy="148.0" rx="4.7" ry="5.0"/><ellipse cx="235.6" cy="144.1" rx="5.3" ry="6.5"/><ellipse cx="238.0" cy="148.0" rx="4.4" ry="6.6"/><ellipse cx="238.1" cy="140.2" rx="4.4" ry="5.5"/><ellipse cx="238.7" cy="151.9" rx="5.4" ry="4.7"/><ellipse cx="248.9" cy="148.0" rx="4.0" ry="6.3"/><ellipse cx="252.3" cy="140.2" rx="4.2" ry="4.7"/><ellipse cx="251.2" cy="155.8" rx="4.6" ry="6.4"/><ellipse cx="253.6" cy="140.2" rx="5.4" ry="5.2"/><ellipse cx="257.1" cy="163.6" rx="4.1" ry="4.8"/><ellipse cx="259.8" cy="151.9" rx="5.3" ry="5.9"/><ellipse cx="264.4" cy="148.0" rx="5.0" ry="6.1"/><ellipse cx="267.1" cy="151.9" rx="3.9" ry="6.1"/><ellipse cx="267.0" cy="151.9" rx="4.7" ry="6.8"/><ellipse cx="275.8" cy="155.8" rx="5.2" ry="6.8"/><ellipse cx="275.3" cy="163.6" rx="4.6" ry="6.5"/><ellipse cx="278.1" cy="144.1" rx="4.3" ry="5.4"/><ellipse cx="283.5" cy="140.2" rx="4.9" ry="6.4"/><ellipse cx="285.7" cy="167.5" rx="5.0" ry="6.2"/><ellipse cx="291.2" cy="144.1" rx="4.7" ry="6.5"/><ellipse cx="290.3" cy="144.1" rx="4.7" ry="5.7"/><ellipse cx="296.8" cy="163.6" rx="5.1" ry="5.2"/><ellipse cx="296.4" cy="144.1" rx="4.7" ry="6.6"/><ellipse cx="299.3" cy="148.0" rx="4.2" ry="6.6"/><ellipse cx="299.3" cy="151.9" rx="4.9" ry="4.6"/><ellipse cx="301.8" cy="148.0" rx="5.1" ry="6.3"/><ellipse cx="304.0" cy="148.0" rx="4.5" ry="6.5"/><ellipse cx="303.3" cy="148.0" rx="4.1" ry="5.1"/><ellipse cx="313.8" cy="151.9" rx="4.1" ry="6.1"/><ellipse cx="316.5" cy="155.8" rx="4.0" ry="5.0"/><ellipse cx="321.7" cy="132.4" rx="5.4" ry="5.7"/><ellipse cx="324.3" cy="116.8" rx="4.1" ry="6.2"/><ellipse cx="324.0" cy="132.4" rx="5.3" ry="6.6"/><ellipse cx="325.2" cy="140.2" rx="5.3" ry="4.6"/><ellipse cx="326.5" cy="151.9" rx="5.2" ry="4.8"/><ellipse cx="335.6" cy="132.4" rx="4.8" ry="4.8"/><ellipse cx="335.3" cy="128.5" rx="4.1" ry="4.6"/><ellipse cx="335.6" cy="151.9" rx="5.4" ry="5.1"/><ellipse cx="337.0" cy="144.1" rx="5.3" ry="5.9"/><ellipse cx="340.3" cy="144.1" rx="4.4" ry="6.5"/><ellipse cx="340.4" cy="140.2" rx="4.0" ry="5.8"/><ellipse cx="343.2" cy="155.8" rx="4.1" ry="6.1"/><ellipse cx="343.4" cy="151.9" rx="4.2" ry="6.6"/><ellipse cx="345.9" cy="151.9" rx="4.2" ry="5.3"/><ellipse cx="344.9" cy="136.3" rx="5.3" ry="5.4"/><ellipse cx="351.0" cy="144.1" rx="4.0" ry="6.4"/><ellipse cx="352.6" cy="140.2" rx="4.7" ry="5.1"/><ellipse cx="352.9" cy="148.0" rx="4.1" ry="6.2"/><ellipse cx="353.0" cy="136.3" rx="4.7" ry="6.1"/><ellipse cx="358.3" cy="140.2" rx="5.0" ry="5.1"/><ellipse cx="359.2" cy="144.1" rx="4.2" ry="6.5"/><ellipse cx="357.9" cy="148.0" rx="4.6" ry="6.8"/><ellipse cx="368.6" cy="151.9" rx="4.7" ry="6.3"/><ellipse cx="342.0" cy="124.0" rx="4.5" ry="4.8"/><ellipse cx="141.1" cy="174.0" rx="3.9" ry="6.0"/><ellipse cx="131.7" cy="251.0" rx="3.6" ry="6.6"/><ellipse cx="131.2" cy="255.0" rx="3.6" ry="6.6"/><ellipse cx="130.7" cy="259.0" rx="3.6" ry="6.6"/></g>
<g fill="url(#r12)"><ellipse cx="152.8" cy="148.0" rx="5.2" ry="5.1"/><ellipse cx="156.1" cy="144.1" rx="5.3" ry="6.8"/><ellipse cx="159.0" cy="155.8" rx="4.5" ry="6.5"/><ellipse cx="160.4" cy="159.7" rx="4.9" ry="6.2"/><ellipse cx="160.5" cy="159.7" rx="4.4" ry="6.2"/><ellipse cx="161.2" cy="163.6" rx="4.4" ry="6.8"/><ellipse cx="161.1" cy="155.8" rx="4.1" ry="5.7"/><ellipse cx="162.9" cy="155.8" rx="4.8" ry="5.2"/><ellipse cx="162.9" cy="140.2" rx="5.4" ry="5.0"/><ellipse cx="165.8" cy="163.6" rx="4.8" ry="5.7"/><ellipse cx="169.0" cy="155.8" rx="4.9" ry="5.9"/><ellipse cx="170.8" cy="151.9" rx="4.7" ry="4.8"/><ellipse cx="170.8" cy="167.5" rx="5.0" ry="6.5"/><ellipse cx="176.4" cy="167.5" rx="4.3" ry="6.2"/><ellipse cx="175.7" cy="155.8" rx="4.2" ry="4.9"/><ellipse cx="179.5" cy="163.6" rx="4.3" ry="5.9"/><ellipse cx="188.8" cy="167.5" rx="4.8" ry="5.3"/><ellipse cx="189.8" cy="144.1" rx="5.2" ry="5.1"/><ellipse cx="189.5" cy="163.6" rx="4.9" ry="5.2"/><ellipse cx="191.5" cy="159.7" rx="4.9" ry="5.6"/><ellipse cx="200.5" cy="151.9" rx="4.3" ry="5.2"/><ellipse cx="202.6" cy="144.1" rx="5.1" ry="5.6"/><ellipse cx="208.4" cy="159.7" rx="4.6" ry="6.2"/><ellipse cx="212.4" cy="159.7" rx="4.9" ry="5.3"/><ellipse cx="215.5" cy="167.5" rx="5.2" ry="4.7"/><ellipse cx="214.9" cy="155.8" rx="4.2" ry="5.0"/><ellipse cx="217.5" cy="151.9" rx="5.0" ry="5.5"/><ellipse cx="217.9" cy="159.7" rx="4.6" ry="6.3"/><ellipse cx="221.3" cy="136.3" rx="4.7" ry="4.9"/><ellipse cx="221.3" cy="167.5" rx="4.4" ry="5.5"/><ellipse cx="223.3" cy="167.5" rx="4.5" ry="5.9"/><ellipse cx="231.3" cy="148.0" rx="5.1" ry="5.3"/><ellipse cx="230.6" cy="159.7" rx="5.0" ry="5.3"/><ellipse cx="233.1" cy="163.6" rx="4.4" ry="4.5"/><ellipse cx="242.0" cy="144.1" rx="4.9" ry="5.9"/><ellipse cx="243.3" cy="140.2" rx="4.8" ry="4.7"/><ellipse cx="244.8" cy="155.8" rx="4.2" ry="6.4"/><ellipse cx="254.0" cy="148.0" rx="5.0" ry="4.9"/><ellipse cx="259.1" cy="159.7" rx="4.0" ry="4.6"/><ellipse cx="262.9" cy="151.9" rx="4.4" ry="5.7"/><ellipse cx="262.1" cy="151.9" rx="5.0" ry="6.8"/><ellipse cx="265.3" cy="151.9" rx="4.0" ry="5.3"/><ellipse cx="267.4" cy="151.9" rx="4.6" ry="5.9"/><ellipse cx="273.2" cy="148.0" rx="4.0" ry="6.1"/><ellipse cx="272.3" cy="159.7" rx="4.0" ry="6.7"/><ellipse cx="275.4" cy="148.0" rx="4.1" ry="6.2"/><ellipse cx="274.6" cy="155.8" rx="5.1" ry="4.8"/><ellipse cx="275.5" cy="163.6" rx="4.8" ry="5.0"/><ellipse cx="279.7" cy="163.6" rx="4.1" ry="6.7"/><ellipse cx="283.8" cy="155.8" rx="4.2" ry="5.6"/><ellipse cx="285.0" cy="148.0" rx="3.9" ry="6.8"/><ellipse cx="288.4" cy="155.8" rx="4.5" ry="5.7"/><ellipse cx="288.6" cy="136.3" rx="4.9" ry="5.6"/><ellipse cx="308.5" cy="136.3" rx="4.2" ry="6.2"/><ellipse cx="308.9" cy="144.1" rx="5.1" ry="4.7"/><ellipse cx="311.6" cy="136.3" rx="5.3" ry="6.7"/><ellipse cx="314.6" cy="136.3" rx="5.2" ry="5.8"/><ellipse cx="314.6" cy="140.2" rx="5.0" ry="4.7"/><ellipse cx="320.1" cy="140.2" rx="4.2" ry="6.8"/><ellipse cx="323.8" cy="128.5" rx="4.9" ry="6.1"/><ellipse cx="327.3" cy="140.2" rx="4.5" ry="4.8"/><ellipse cx="330.3" cy="136.3" rx="4.1" ry="6.4"/><ellipse cx="331.7" cy="124.6" rx="4.0" ry="5.5"/><ellipse cx="332.2" cy="112.9" rx="4.8" ry="5.9"/><ellipse cx="335.7" cy="144.1" rx="4.1" ry="6.4"/><ellipse cx="339.9" cy="151.9" rx="4.2" ry="6.7"/><ellipse cx="343.3" cy="136.3" rx="5.2" ry="5.8"/><ellipse cx="345.3" cy="140.2" rx="4.4" ry="6.0"/><ellipse cx="347.2" cy="144.1" rx="4.8" ry="4.6"/><ellipse cx="349.9" cy="136.3" rx="4.9" ry="5.2"/><ellipse cx="356.0" cy="136.3" rx="4.7" ry="5.1"/><ellipse cx="360.3" cy="140.2" rx="4.0" ry="6.8"/><ellipse cx="362.9" cy="155.8" rx="5.4" ry="6.7"/><ellipse cx="364.0" cy="148.0" rx="4.9" ry="6.0"/><ellipse cx="363.6" cy="155.8" rx="5.1" ry="4.5"/><ellipse cx="366.4" cy="151.9" rx="4.0" ry="6.8"/><ellipse cx="368.7" cy="151.9" rx="4.4" ry="5.4"/><ellipse cx="153.3" cy="75.6" rx="3.9" ry="6.0"/><ellipse cx="150.4" cy="99.6" rx="3.9" ry="6.0"/><ellipse cx="150.0" cy="102.0" rx="3.9" ry="6.0"/><ellipse cx="140.8" cy="176.4" rx="3.9" ry="6.0"/></g>
<g fill="url(#r14)"><ellipse cx="153.0" cy="155.8" rx="4.9" ry="6.2"/><ellipse cx="158.5" cy="155.8" rx="4.3" ry="5.5"/><ellipse cx="164.1" cy="163.6" rx="4.0" ry="5.4"/><ellipse cx="168.1" cy="155.8" rx="4.7" ry="4.9"/><ellipse cx="183.5" cy="144.1" rx="5.0" ry="6.2"/><ellipse cx="186.8" cy="151.9" rx="4.1" ry="6.0"/><ellipse cx="189.6" cy="155.8" rx="4.6" ry="4.9"/><ellipse cx="196.8" cy="163.6" rx="4.0" ry="6.1"/><ellipse cx="200.0" cy="151.9" rx="4.7" ry="5.6"/><ellipse cx="200.4" cy="155.8" rx="4.4" ry="6.0"/><ellipse cx="200.2" cy="163.6" rx="4.7" ry="6.7"/><ellipse cx="208.2" cy="144.1" rx="4.9" ry="4.6"/><ellipse cx="212.4" cy="155.8" rx="5.3" ry="5.7"/><ellipse cx="227.9" cy="148.0" rx="4.2" ry="5.7"/><ellipse cx="230.7" cy="136.3" rx="4.0" ry="6.7"/><ellipse cx="231.4" cy="163.6" rx="5.2" ry="4.9"/><ellipse cx="233.8" cy="140.2" rx="5.0" ry="4.6"/><ellipse cx="234.2" cy="136.3" rx="4.3" ry="6.6"/><ellipse cx="235.6" cy="148.0" rx="5.3" ry="5.4"/><ellipse cx="236.7" cy="144.1" rx="4.6" ry="5.7"/><ellipse cx="244.8" cy="151.9" rx="5.0" ry="5.4"/><ellipse cx="253.9" cy="140.2" rx="5.0" ry="6.1"/><ellipse cx="261.9" cy="171.4" rx="4.0" ry="6.3"/><ellipse cx="273.1" cy="144.1" rx="5.0" ry="5.4"/><ellipse cx="277.8" cy="163.6" rx="4.1" ry="6.7"/><ellipse cx="278.3" cy="148.0" rx="4.4" ry="4.6"/><ellipse cx="288.2" cy="163.6" rx="4.9" ry="5.7"/><ellipse cx="290.6" cy="159.7" rx="4.7" ry="6.9"/><ellipse cx="292.8" cy="155.8" rx="4.0" ry="6.7"/><ellipse cx="298.7" cy="151.9" rx="4.6" ry="6.1"/><ellipse cx="303.6" cy="151.9" rx="4.7" ry="5.3"/><ellipse cx="303.6" cy="144.1" rx="4.4" ry="5.1"/><ellipse cx="307.1" cy="136.3" rx="4.9" ry="5.7"/><ellipse cx="309.3" cy="136.3" rx="5.0" ry="6.5"/><ellipse cx="309.3" cy="128.5" rx="5.3" ry="4.5"/><ellipse cx="311.0" cy="144.1" rx="4.6" ry="5.0"/><ellipse cx="317.5" cy="128.5" rx="4.8" ry="5.5"/><ellipse cx="319.7" cy="136.3" rx="5.3" ry="4.6"/><ellipse cx="319.4" cy="148.0" rx="4.5" ry="5.5"/><ellipse cx="321.7" cy="144.1" rx="4.6" ry="6.3"/><ellipse cx="327.8" cy="132.4" rx="4.2" ry="6.6"/><ellipse cx="326.9" cy="136.3" rx="5.2" ry="6.1"/><ellipse cx="330.1" cy="136.3" rx="4.0" ry="5.1"/><ellipse cx="332.4" cy="136.3" rx="5.1" ry="6.6"/><ellipse cx="348.6" cy="140.2" rx="4.6" ry="6.4"/><ellipse cx="356.1" cy="140.2" rx="4.9" ry="5.8"/><ellipse cx="360.4" cy="148.0" rx="5.1" ry="5.6"/><ellipse cx="363.9" cy="151.9" rx="5.3" ry="6.8"/><ellipse cx="362.8" cy="148.0" rx="5.2" ry="5.7"/><ellipse cx="369.2" cy="151.9" rx="5.3" ry="4.9"/><ellipse cx="332.0" cy="117.0" rx="4.5" ry="4.8"/><ellipse cx="152.9" cy="78.0" rx="3.9" ry="6.0"/><ellipse cx="141.6" cy="171.6" rx="3.9" ry="6.0"/></g>
<g fill="url(#r16)"><ellipse cx="152.6" cy="155.8" rx="3.7" ry="5.1"/><ellipse cx="160.9" cy="159.7" rx="4.2" ry="4.1"/><ellipse cx="163.6" cy="163.6" rx="4.6" ry="4.5"/><ellipse cx="163.3" cy="159.7" rx="4.6" ry="4.0"/><ellipse cx="169.1" cy="155.8" rx="4.3" ry="5.4"/><ellipse cx="168.0" cy="144.1" rx="4.8" ry="4.7"/><ellipse cx="170.7" cy="148.0" rx="4.7" ry="4.4"/><ellipse cx="179.4" cy="163.6" rx="4.2" ry="4.9"/><ellipse cx="187.3" cy="151.9" rx="4.6" ry="5.3"/><ellipse cx="189.8" cy="155.8" rx="4.5" ry="4.2"/><ellipse cx="189.5" cy="155.8" rx="4.1" ry="5.5"/><ellipse cx="191.7" cy="163.6" rx="3.7" ry="4.9"/><ellipse cx="194.4" cy="155.8" rx="3.9" ry="5.4"/><ellipse cx="200.2" cy="163.6" rx="4.0" ry="4.6"/><ellipse cx="200.2" cy="155.8" rx="3.8" ry="5.7"/><ellipse cx="205.1" cy="159.7" rx="4.4" ry="4.6"/><ellipse cx="207.5" cy="155.8" rx="3.9" ry="5.4"/><ellipse cx="209.6" cy="159.7" rx="4.3" ry="4.3"/><ellipse cx="210.5" cy="155.8" rx="3.8" ry="4.8"/><ellipse cx="209.9" cy="155.8" rx="3.9" ry="4.7"/><ellipse cx="212.9" cy="159.7" rx="4.0" ry="4.8"/><ellipse cx="215.1" cy="151.9" rx="3.9" ry="4.6"/><ellipse cx="223.7" cy="151.9" rx="4.3" ry="4.8"/><ellipse cx="226.2" cy="144.1" rx="4.3" ry="4.2"/><ellipse cx="228.8" cy="136.3" rx="4.6" ry="4.1"/><ellipse cx="251.7" cy="155.8" rx="4.2" ry="4.8"/><ellipse cx="254.8" cy="151.9" rx="3.8" ry="4.1"/><ellipse cx="272.4" cy="159.7" rx="3.6" ry="5.6"/><ellipse cx="277.5" cy="148.0" rx="4.2" ry="4.8"/><ellipse cx="288.5" cy="163.6" rx="3.8" ry="4.5"/><ellipse cx="293.1" cy="148.0" rx="3.6" ry="5.1"/><ellipse cx="304.2" cy="144.1" rx="3.8" ry="4.7"/><ellipse cx="306.0" cy="148.0" rx="3.8" ry="4.5"/><ellipse cx="306.6" cy="148.0" rx="4.0" ry="5.5"/><ellipse cx="309.3" cy="144.1" rx="4.5" ry="5.1"/><ellipse cx="311.3" cy="148.0" rx="4.7" ry="5.0"/><ellipse cx="314.4" cy="144.1" rx="4.6" ry="5.5"/><ellipse cx="314.1" cy="136.3" rx="4.5" ry="5.6"/><ellipse cx="317.1" cy="136.3" rx="4.0" ry="5.4"/><ellipse cx="316.3" cy="140.2" rx="4.1" ry="4.3"/><ellipse cx="324.6" cy="132.4" rx="3.9" ry="5.1"/><ellipse cx="329.4" cy="124.6" rx="4.3" ry="5.2"/><ellipse cx="329.9" cy="128.5" rx="4.7" ry="5.5"/><ellipse cx="335.2" cy="136.3" rx="3.8" ry="5.2"/><ellipse cx="340.1" cy="144.1" rx="4.4" ry="5.2"/><ellipse cx="350.6" cy="136.3" rx="4.7" ry="5.3"/><ellipse cx="350.7" cy="140.2" rx="4.2" ry="4.3"/><ellipse cx="353.7" cy="136.3" rx="4.7" ry="5.1"/><ellipse cx="356.1" cy="136.3" rx="3.8" ry="4.3"/><ellipse cx="357.9" cy="144.1" rx="3.6" ry="4.8"/><ellipse cx="361.4" cy="148.0" rx="3.6" ry="5.2"/><ellipse cx="363.7" cy="151.9" rx="3.7" ry="4.3"/><ellipse cx="368.6" cy="151.9" rx="4.7" ry="5.3"/><ellipse cx="151.5" cy="87.6" rx="3.9" ry="6.0"/><ellipse cx="151.2" cy="92.4" rx="3.9" ry="6.0"/><ellipse cx="148.1" cy="118.8" rx="3.9" ry="6.0"/><ellipse cx="145.1" cy="142.8" rx="3.9" ry="6.0"/><ellipse cx="142.5" cy="162.0" rx="3.9" ry="6.0"/><ellipse cx="141.7" cy="166.8" rx="3.9" ry="6.0"/></g>
<g fill="url(#r20)"><ellipse cx="153.2" cy="151.9" rx="3.9" ry="5.4"/><ellipse cx="155.4" cy="155.8" rx="4.1" ry="4.4"/><ellipse cx="158.0" cy="151.9" rx="3.9" ry="5.1"/><ellipse cx="158.4" cy="148.0" rx="3.9" ry="4.9"/><ellipse cx="163.4" cy="151.9" rx="4.1" ry="4.5"/><ellipse cx="171.3" cy="155.8" rx="4.5" ry="4.2"/><ellipse cx="171.6" cy="155.8" rx="3.8" ry="5.5"/><ellipse cx="173.4" cy="151.9" rx="3.7" ry="4.5"/><ellipse cx="181.2" cy="148.0" rx="4.1" ry="5.4"/><ellipse cx="183.8" cy="148.0" rx="4.8" ry="4.4"/><ellipse cx="192.6" cy="163.6" rx="3.8" ry="5.7"/><ellipse cx="197.3" cy="163.6" rx="4.6" ry="4.7"/><ellipse cx="197.0" cy="163.6" rx="4.2" ry="5.5"/><ellipse cx="202.6" cy="159.7" rx="4.6" ry="4.0"/><ellipse cx="202.3" cy="155.8" rx="3.7" ry="4.7"/><ellipse cx="205.2" cy="159.7" rx="4.5" ry="5.2"/><ellipse cx="204.8" cy="155.8" rx="4.4" ry="5.0"/><ellipse cx="207.9" cy="151.9" rx="4.3" ry="4.1"/><ellipse cx="210.6" cy="155.8" rx="3.9" ry="4.7"/><ellipse cx="212.5" cy="151.9" rx="4.2" ry="4.3"/><ellipse cx="217.7" cy="144.1" rx="4.8" ry="4.6"/><ellipse cx="220.7" cy="159.7" rx="4.4" ry="5.4"/><ellipse cx="220.2" cy="148.0" rx="4.0" ry="5.5"/><ellipse cx="223.0" cy="148.0" rx="4.4" ry="5.2"/><ellipse cx="236.0" cy="144.1" rx="3.9" ry="4.9"/><ellipse cx="243.6" cy="151.9" rx="4.5" ry="4.8"/><ellipse cx="244.4" cy="140.2" rx="4.5" ry="5.5"/><ellipse cx="249.6" cy="148.0" rx="3.9" ry="4.1"/><ellipse cx="254.9" cy="151.9" rx="4.1" ry="3.9"/><ellipse cx="256.8" cy="155.8" rx="4.3" ry="5.3"/><ellipse cx="259.1" cy="151.9" rx="4.8" ry="5.5"/><ellipse cx="262.2" cy="159.7" rx="3.7" ry="5.3"/><ellipse cx="267.6" cy="155.8" rx="4.3" ry="5.3"/><ellipse cx="267.4" cy="155.8" rx="4.8" ry="5.1"/><ellipse cx="270.0" cy="163.6" rx="4.3" ry="5.0"/><ellipse cx="269.4" cy="151.9" rx="4.8" ry="4.5"/><ellipse cx="272.6" cy="159.7" rx="3.7" ry="4.3"/><ellipse cx="274.7" cy="159.7" rx="3.8" ry="4.7"/><ellipse cx="275.0" cy="155.8" rx="3.7" ry="4.6"/><ellipse cx="280.6" cy="151.9" rx="4.5" ry="5.7"/><ellipse cx="281.0" cy="159.7" rx="4.7" ry="4.0"/><ellipse cx="283.2" cy="155.8" rx="3.8" ry="4.3"/><ellipse cx="283.2" cy="155.8" rx="4.2" ry="4.6"/><ellipse cx="282.4" cy="159.7" rx="3.7" ry="4.5"/><ellipse cx="285.9" cy="155.8" rx="4.1" ry="4.4"/><ellipse cx="287.6" cy="151.9" rx="3.9" ry="4.1"/><ellipse cx="293.5" cy="148.0" rx="4.1" ry="5.2"/><ellipse cx="293.4" cy="148.0" rx="4.1" ry="4.5"/><ellipse cx="300.7" cy="148.0" rx="4.1" ry="4.6"/><ellipse cx="300.8" cy="151.9" rx="4.4" ry="4.8"/><ellipse cx="303.7" cy="144.1" rx="3.7" ry="4.5"/><ellipse cx="303.6" cy="140.2" rx="3.8" ry="4.6"/><ellipse cx="306.0" cy="144.1" rx="4.1" ry="4.9"/><ellipse cx="306.3" cy="144.1" rx="4.1" ry="4.8"/><ellipse cx="308.8" cy="144.1" rx="3.7" ry="4.9"/><ellipse cx="314.8" cy="148.0" rx="4.0" ry="4.6"/><ellipse cx="318.9" cy="144.1" rx="4.2" ry="5.7"/><ellipse cx="321.9" cy="132.4" rx="4.6" ry="5.3"/><ellipse cx="324.6" cy="132.4" rx="4.2" ry="5.2"/><ellipse cx="337.0" cy="140.2" rx="4.4" ry="4.6"/><ellipse cx="338.0" cy="144.1" rx="4.6" ry="5.1"/><ellipse cx="340.5" cy="144.1" rx="4.8" ry="5.0"/><ellipse cx="342.9" cy="148.0" rx="4.2" ry="5.6"/><ellipse cx="342.9" cy="140.2" rx="4.5" ry="5.6"/><ellipse cx="347.8" cy="148.0" rx="4.1" ry="4.6"/><ellipse cx="348.0" cy="140.2" rx="4.6" ry="4.1"/><ellipse cx="355.7" cy="144.1" rx="4.5" ry="5.6"/><ellipse cx="358.8" cy="148.0" rx="4.5" ry="5.6"/><ellipse cx="363.9" cy="151.9" rx="3.7" ry="4.5"/><ellipse cx="366.0" cy="148.0" rx="3.8" ry="4.1"/><ellipse cx="335.3" cy="128.3" rx="4.5" ry="4.8"/><ellipse cx="151.6" cy="90.0" rx="3.9" ry="6.0"/><ellipse cx="150.6" cy="97.2" rx="3.9" ry="6.0"/><ellipse cx="146.0" cy="133.2" rx="3.9" ry="6.0"/><ellipse cx="143.7" cy="154.8" rx="3.9" ry="6.0"/><ellipse cx="145.4" cy="139.0" rx="3.3" ry="5.4"/><ellipse cx="149.7" cy="104.0" rx="3.3" ry="5.4"/><ellipse cx="146.7" cy="128.0" rx="3.3" ry="5.4"/></g>
<g fill="url(#r19)"><ellipse cx="152.7" cy="144.1" rx="4.1" ry="5.5"/><ellipse cx="153.3" cy="155.8" rx="4.4" ry="4.5"/><ellipse cx="155.8" cy="144.1" rx="4.6" ry="4.0"/><ellipse cx="165.8" cy="159.7" rx="4.7" ry="5.3"/><ellipse cx="173.6" cy="144.1" rx="4.0" ry="4.1"/><ellipse cx="173.7" cy="155.8" rx="4.7" ry="5.2"/><ellipse cx="176.6" cy="159.7" rx="4.0" ry="4.5"/><ellipse cx="181.7" cy="144.1" rx="4.3" ry="5.6"/><ellipse cx="184.7" cy="155.8" rx="3.8" ry="3.9"/><ellipse cx="184.7" cy="140.2" rx="4.3" ry="4.9"/><ellipse cx="192.0" cy="159.7" rx="4.5" ry="4.4"/><ellipse cx="194.8" cy="159.7" rx="4.8" ry="4.8"/><ellipse cx="194.4" cy="159.7" rx="4.7" ry="4.3"/><ellipse cx="197.3" cy="159.7" rx="3.8" ry="5.4"/><ellipse cx="202.5" cy="155.8" rx="4.7" ry="4.0"/><ellipse cx="208.1" cy="151.9" rx="3.7" ry="5.0"/><ellipse cx="207.8" cy="159.7" rx="4.2" ry="4.3"/><ellipse cx="226.3" cy="140.2" rx="4.4" ry="4.5"/><ellipse cx="228.2" cy="148.0" rx="4.4" ry="4.4"/><ellipse cx="233.4" cy="144.1" rx="3.6" ry="5.1"/><ellipse cx="235.6" cy="155.8" rx="4.3" ry="4.6"/><ellipse cx="236.3" cy="151.9" rx="4.4" ry="5.0"/><ellipse cx="240.8" cy="148.0" rx="4.7" ry="4.6"/><ellipse cx="246.4" cy="140.2" rx="4.6" ry="5.2"/><ellipse cx="246.7" cy="155.8" rx="4.5" ry="4.8"/><ellipse cx="249.7" cy="155.8" rx="4.7" ry="5.6"/><ellipse cx="254.9" cy="151.9" rx="4.6" ry="5.0"/><ellipse cx="257.3" cy="155.8" rx="4.7" ry="4.5"/><ellipse cx="256.6" cy="144.1" rx="4.2" ry="4.9"/><ellipse cx="261.9" cy="151.9" rx="4.6" ry="5.5"/><ellipse cx="273.0" cy="163.6" rx="4.6" ry="4.7"/><ellipse cx="277.5" cy="155.8" rx="3.8" ry="5.0"/><ellipse cx="288.5" cy="155.8" rx="3.8" ry="5.6"/><ellipse cx="290.4" cy="148.0" rx="4.2" ry="5.0"/><ellipse cx="290.3" cy="148.0" rx="3.8" ry="4.2"/><ellipse cx="293.8" cy="148.0" rx="4.3" ry="5.5"/><ellipse cx="293.9" cy="148.0" rx="4.5" ry="4.3"/><ellipse cx="296.0" cy="148.0" rx="4.1" ry="4.7"/><ellipse cx="298.3" cy="148.0" rx="4.1" ry="4.2"/><ellipse cx="311.7" cy="151.9" rx="4.5" ry="4.1"/><ellipse cx="314.2" cy="132.4" rx="4.8" ry="5.0"/><ellipse cx="319.6" cy="140.2" rx="3.9" ry="4.0"/><ellipse cx="326.9" cy="132.4" rx="4.0" ry="4.3"/><ellipse cx="327.4" cy="124.6" rx="4.2" ry="5.4"/><ellipse cx="329.8" cy="132.4" rx="4.1" ry="5.2"/><ellipse cx="332.2" cy="136.3" rx="3.9" ry="4.7"/><ellipse cx="345.7" cy="144.1" rx="4.1" ry="3.9"/><ellipse cx="345.0" cy="140.2" rx="4.5" ry="4.5"/><ellipse cx="348.2" cy="136.3" rx="4.6" ry="4.1"/><ellipse cx="353.5" cy="136.3" rx="4.0" ry="4.6"/><ellipse cx="358.4" cy="144.1" rx="4.4" ry="5.2"/><ellipse cx="152.1" cy="82.8" rx="3.9" ry="6.0"/><ellipse cx="149.1" cy="106.8" rx="3.9" ry="6.0"/><ellipse cx="149.2" cy="109.2" rx="3.9" ry="6.0"/><ellipse cx="148.7" cy="114.0" rx="3.9" ry="6.0"/><ellipse cx="148.0" cy="116.4" rx="3.9" ry="6.0"/><ellipse cx="147.8" cy="121.2" rx="3.9" ry="6.0"/><ellipse cx="147.0" cy="123.6" rx="3.9" ry="6.0"/><ellipse cx="146.3" cy="130.8" rx="3.9" ry="6.0"/><ellipse cx="145.7" cy="135.6" rx="3.9" ry="6.0"/><ellipse cx="145.6" cy="138.0" rx="3.9" ry="6.0"/><ellipse cx="145.1" cy="140.4" rx="3.9" ry="6.0"/><ellipse cx="144.2" cy="150.0" rx="3.9" ry="6.0"/><ellipse cx="143.5" cy="152.4" rx="3.9" ry="6.0"/><ellipse cx="143.5" cy="157.2" rx="3.9" ry="6.0"/><ellipse cx="143.1" cy="159.6" rx="3.9" ry="6.0"/><ellipse cx="142.3" cy="164.4" rx="3.9" ry="6.0"/><ellipse cx="144.0" cy="150.0" rx="3.3" ry="5.4"/></g>
<g fill="url(#r26)"><ellipse cx="153.0" cy="151.9" rx="4.1" ry="4.5"/><ellipse cx="228.4" cy="155.8" rx="4.1" ry="4.5"/><ellipse cx="257.0" cy="155.8" rx="4.1" ry="4.5"/><ellipse cx="277.8" cy="155.8" rx="4.1" ry="4.5"/><ellipse cx="280.4" cy="155.8" rx="4.1" ry="4.5"/></g>
<g fill="url(#r5)"><ellipse cx="156.1" cy="148.2" rx="3.1" ry="5.7"/><ellipse cx="154.8" cy="159.8" rx="4.5" ry="5.9"/><ellipse cx="156.2" cy="159.1" rx="3.1" ry="4.8"/><ellipse cx="158.4" cy="147.3" rx="3.4" ry="6.4"/><ellipse cx="158.0" cy="112.3" rx="4.6" ry="8.8"/><ellipse cx="161.2" cy="147.3" rx="3.2" ry="7.7"/><ellipse cx="163.0" cy="166.7" rx="3.2" ry="8.2"/><ellipse cx="165.5" cy="104.2" rx="3.5" ry="6.9"/><ellipse cx="165.9" cy="172.3" rx="3.1" ry="5.4"/><ellipse cx="168.8" cy="155.7" rx="4.0" ry="6.7"/><ellipse cx="170.8" cy="135.8" rx="3.3" ry="6.5"/><ellipse cx="174.1" cy="136.8" rx="4.6" ry="4.8"/><ellipse cx="173.8" cy="163.2" rx="4.8" ry="5.8"/><ellipse cx="178.1" cy="155.2" rx="3.9" ry="6.4"/><ellipse cx="179.1" cy="175.1" rx="3.9" ry="7.7"/><ellipse cx="181.3" cy="174.4" rx="3.8" ry="6.7"/><ellipse cx="182.2" cy="139.3" rx="3.8" ry="7.2"/><ellipse cx="182.1" cy="148.8" rx="4.2" ry="8.7"/><ellipse cx="184.8" cy="151.8" rx="3.7" ry="7.9"/><ellipse cx="195.0" cy="194.5" rx="4.3" ry="8.3"/><ellipse cx="195.4" cy="171.6" rx="4.3" ry="6.7"/><ellipse cx="200.1" cy="141.2" rx="3.1" ry="6.5"/><ellipse cx="203.1" cy="139.9" rx="4.3" ry="4.7"/><ellipse cx="202.8" cy="152.4" rx="3.8" ry="6.4"/><ellipse cx="204.6" cy="136.1" rx="3.7" ry="6.4"/><ellipse cx="205.9" cy="151.8" rx="3.3" ry="6.8"/><ellipse cx="204.9" cy="102.1" rx="4.1" ry="5.5"/><ellipse cx="208.5" cy="167.4" rx="4.4" ry="7.5"/><ellipse cx="206.7" cy="179.6" rx="4.7" ry="7.1"/><ellipse cx="210.8" cy="178.5" rx="3.6" ry="7.0"/><ellipse cx="211.0" cy="140.0" rx="3.0" ry="8.6"/><ellipse cx="213.6" cy="148.7" rx="4.7" ry="6.4"/><ellipse cx="213.3" cy="156.3" rx="4.1" ry="7.6"/><ellipse cx="217.8" cy="163.7" rx="4.4" ry="8.0"/><ellipse cx="218.0" cy="159.0" rx="3.5" ry="5.6"/><ellipse cx="218.3" cy="147.3" rx="4.4" ry="7.8"/><ellipse cx="221.4" cy="145.1" rx="4.8" ry="7.6"/><ellipse cx="220.6" cy="171.2" rx="3.7" ry="5.7"/><ellipse cx="223.5" cy="141.1" rx="4.6" ry="6.7"/><ellipse cx="226.5" cy="136.3" rx="4.2" ry="6.9"/><ellipse cx="225.3" cy="164.0" rx="4.7" ry="8.3"/><ellipse cx="227.9" cy="151.4" rx="4.2" ry="8.9"/><ellipse cx="229.3" cy="124.4" rx="3.9" ry="6.0"/><ellipse cx="228.3" cy="151.4" rx="4.0" ry="5.8"/><ellipse cx="231.8" cy="179.0" rx="4.2" ry="4.7"/><ellipse cx="231.6" cy="148.8" rx="4.1" ry="6.1"/><ellipse cx="235.3" cy="171.6" rx="3.7" ry="8.2"/><ellipse cx="239.7" cy="147.7" rx="3.9" ry="6.0"/><ellipse cx="241.9" cy="133.1" rx="4.6" ry="7.9"/><ellipse cx="244.6" cy="140.0" rx="4.4" ry="7.1"/><ellipse cx="246.1" cy="140.1" rx="3.8" ry="8.4"/><ellipse cx="249.4" cy="124.0" rx="4.5" ry="9.0"/><ellipse cx="250.2" cy="155.4" rx="4.7" ry="8.0"/><ellipse cx="250.9" cy="125.3" rx="4.5" ry="8.6"/><ellipse cx="253.4" cy="180.0" rx="4.4" ry="6.0"/><ellipse cx="256.1" cy="187.9" rx="4.0" ry="8.4"/><ellipse cx="256.1" cy="178.4" rx="3.7" ry="8.8"/><ellipse cx="256.0" cy="139.9" rx="3.3" ry="4.6"/><ellipse cx="259.5" cy="132.5" rx="3.6" ry="8.1"/><ellipse cx="259.5" cy="148.3" rx="4.0" ry="7.0"/><ellipse cx="262.5" cy="144.4" rx="3.1" ry="6.9"/><ellipse cx="262.9" cy="158.8" rx="4.4" ry="6.5"/><ellipse cx="265.4" cy="156.5" rx="4.4" ry="7.4"/><ellipse cx="264.0" cy="164.5" rx="3.7" ry="5.5"/><ellipse cx="265.7" cy="158.9" rx="4.8" ry="7.2"/><ellipse cx="263.9" cy="175.4" rx="3.2" ry="5.5"/><ellipse cx="267.4" cy="170.9" rx="4.4" ry="4.7"/><ellipse cx="266.7" cy="145.1" rx="4.8" ry="7.0"/><ellipse cx="268.1" cy="129.2" rx="3.0" ry="8.6"/><ellipse cx="269.9" cy="151.2" rx="3.2" ry="8.9"/><ellipse cx="270.9" cy="162.9" rx="4.5" ry="8.5"/><ellipse cx="270.1" cy="156.8" rx="4.0" ry="7.0"/><ellipse cx="272.2" cy="183.5" rx="3.6" ry="4.6"/><ellipse cx="271.7" cy="151.5" rx="4.1" ry="8.1"/><ellipse cx="271.6" cy="154.9" rx="3.0" ry="6.9"/><ellipse cx="274.6" cy="175.7" rx="4.0" ry="7.4"/><ellipse cx="275.9" cy="155.6" rx="4.0" ry="5.0"/><ellipse cx="278.2" cy="156.1" rx="3.8" ry="4.6"/><ellipse cx="277.4" cy="131.8" rx="4.3" ry="8.8"/><ellipse cx="278.1" cy="171.0" rx="4.1" ry="5.1"/><ellipse cx="280.9" cy="125.3" rx="4.2" ry="4.7"/><ellipse cx="283.7" cy="129.0" rx="3.0" ry="6.2"/><ellipse cx="283.4" cy="159.8" rx="4.2" ry="4.7"/><ellipse cx="284.7" cy="163.0" rx="4.1" ry="5.4"/><ellipse cx="287.3" cy="144.0" rx="3.6" ry="5.4"/><ellipse cx="290.4" cy="156.0" rx="3.5" ry="7.3"/><ellipse cx="290.7" cy="129.2" rx="3.8" ry="8.6"/><ellipse cx="292.4" cy="187.3" rx="4.6" ry="6.8"/><ellipse cx="295.5" cy="148.1" rx="4.8" ry="7.1"/><ellipse cx="298.0" cy="148.1" rx="3.1" ry="8.5"/><ellipse cx="297.7" cy="131.6" rx="4.1" ry="8.5"/><ellipse cx="299.1" cy="152.9" rx="4.5" ry="4.9"/><ellipse cx="301.3" cy="167.1" rx="3.1" ry="7.9"/><ellipse cx="303.5" cy="140.5" rx="3.8" ry="5.8"/><ellipse cx="304.3" cy="113.0" rx="3.8" ry="5.9"/><ellipse cx="307.1" cy="112.5" rx="4.7" ry="6.7"/><ellipse cx="310.7" cy="179.1" rx="4.6" ry="8.6"/><ellipse cx="311.9" cy="143.3" rx="3.1" ry="7.5"/><ellipse cx="316.1" cy="159.4" rx="3.5" ry="8.2"/><ellipse cx="318.5" cy="148.0" rx="4.4" ry="8.2"/><ellipse cx="319.0" cy="136.0" rx="4.8" ry="7.8"/><ellipse cx="321.8" cy="147.1" rx="3.7" ry="5.6"/><ellipse cx="322.5" cy="119.9" rx="4.0" ry="5.9"/><ellipse cx="325.2" cy="139.3" rx="3.4" ry="6.2"/><ellipse cx="324.4" cy="125.1" rx="3.7" ry="8.9"/><ellipse cx="326.6" cy="132.2" rx="3.5" ry="7.1"/><ellipse cx="326.4" cy="144.5" rx="4.6" ry="8.8"/><ellipse cx="327.1" cy="128.0" rx="3.2" ry="5.4"/><ellipse cx="331.8" cy="131.7" rx="3.2" ry="6.6"/><ellipse cx="331.9" cy="101.0" rx="4.2" ry="7.2"/><ellipse cx="338.1" cy="156.8" rx="4.7" ry="7.1"/><ellipse cx="337.6" cy="144.8" rx="4.8" ry="6.5"/><ellipse cx="340.2" cy="148.6" rx="4.0" ry="7.1"/><ellipse cx="340.8" cy="155.0" rx="4.7" ry="6.8"/><ellipse cx="343.3" cy="131.5" rx="3.7" ry="4.8"/><ellipse cx="346.0" cy="160.2" rx="4.7" ry="6.0"/><ellipse cx="345.6" cy="152.5" rx="3.9" ry="8.5"/><ellipse cx="344.6" cy="128.6" rx="3.5" ry="4.6"/><ellipse cx="348.5" cy="132.3" rx="3.3" ry="5.8"/><ellipse cx="350.9" cy="135.9" rx="3.3" ry="7.9"/><ellipse cx="352.7" cy="152.6" rx="3.0" ry="7.5"/><ellipse cx="352.8" cy="152.1" rx="3.7" ry="4.5"/><ellipse cx="352.8" cy="125.1" rx="4.6" ry="8.6"/><ellipse cx="355.1" cy="137.1" rx="4.6" ry="4.6"/><ellipse cx="358.3" cy="158.9" rx="3.6" ry="8.0"/><ellipse cx="358.6" cy="136.2" rx="3.9" ry="4.8"/><ellipse cx="359.0" cy="119.8" rx="4.4" ry="5.1"/><ellipse cx="361.8" cy="147.4" rx="3.6" ry="8.8"/><ellipse cx="361.6" cy="143.2" rx="4.6" ry="5.9"/><ellipse cx="360.9" cy="144.7" rx="4.3" ry="8.6"/><ellipse cx="361.5" cy="136.1" rx="3.0" ry="8.9"/><ellipse cx="365.5" cy="151.7" rx="3.6" ry="8.1"/><ellipse cx="368.7" cy="145.1" rx="3.5" ry="4.8"/><ellipse cx="370.5" cy="88.0" rx="3.3" ry="5.4"/><ellipse cx="375.0" cy="91.0" rx="3.3" ry="5.4"/><ellipse cx="359.0" cy="100.0" rx="3.3" ry="5.4"/></g>
<g fill="url(#r4)"><ellipse cx="155.3" cy="178.8" rx="4.1" ry="5.8"/><ellipse cx="165.6" cy="183.4" rx="3.7" ry="5.7"/><ellipse cx="176.1" cy="206.2" rx="3.1" ry="6.2"/><ellipse cx="175.6" cy="175.4" rx="3.2" ry="6.9"/><ellipse cx="182.0" cy="140.2" rx="3.7" ry="4.5"/><ellipse cx="185.9" cy="136.5" rx="4.3" ry="4.9"/><ellipse cx="189.5" cy="164.2" rx="4.6" ry="8.4"/><ellipse cx="189.6" cy="156.5" rx="4.6" ry="5.2"/><ellipse cx="192.6" cy="170.5" rx="4.2" ry="7.6"/><ellipse cx="191.4" cy="195.2" rx="3.3" ry="5.4"/><ellipse cx="192.8" cy="117.5" rx="4.4" ry="6.6"/><ellipse cx="193.0" cy="147.1" rx="3.4" ry="5.2"/><ellipse cx="207.2" cy="139.3" rx="4.5" ry="8.8"/><ellipse cx="212.7" cy="151.3" rx="3.0" ry="7.8"/><ellipse cx="215.5" cy="143.2" rx="3.6" ry="4.7"/><ellipse cx="219.0" cy="178.4" rx="3.9" ry="4.9"/><ellipse cx="223.1" cy="156.6" rx="3.9" ry="6.1"/><ellipse cx="225.1" cy="174.9" rx="4.2" ry="8.0"/><ellipse cx="234.2" cy="145.1" rx="4.3" ry="7.1"/><ellipse cx="234.6" cy="147.3" rx="3.4" ry="6.0"/><ellipse cx="237.1" cy="135.8" rx="3.6" ry="7.0"/><ellipse cx="241.5" cy="143.6" rx="3.4" ry="8.5"/><ellipse cx="244.6" cy="129.3" rx="3.6" ry="6.6"/><ellipse cx="243.3" cy="170.9" rx="3.8" ry="7.4"/><ellipse cx="246.0" cy="187.2" rx="3.1" ry="5.6"/><ellipse cx="249.3" cy="171.0" rx="4.5" ry="5.2"/><ellipse cx="249.5" cy="141.1" rx="3.0" ry="7.3"/><ellipse cx="254.9" cy="151.0" rx="4.3" ry="5.4"/><ellipse cx="256.6" cy="163.2" rx="3.5" ry="5.0"/><ellipse cx="256.7" cy="164.3" rx="3.8" ry="5.6"/><ellipse cx="257.8" cy="139.4" rx="3.5" ry="7.4"/><ellipse cx="260.3" cy="159.6" rx="3.6" ry="7.7"/><ellipse cx="260.6" cy="128.6" rx="4.0" ry="8.5"/><ellipse cx="262.8" cy="144.2" rx="3.8" ry="6.3"/><ellipse cx="270.3" cy="136.0" rx="3.3" ry="7.8"/><ellipse cx="273.0" cy="168.0" rx="4.7" ry="6.0"/><ellipse cx="274.5" cy="144.7" rx="4.5" ry="8.3"/><ellipse cx="275.5" cy="143.6" rx="3.0" ry="6.5"/><ellipse cx="283.7" cy="156.4" rx="4.0" ry="7.1"/><ellipse cx="286.4" cy="125.5" rx="3.7" ry="5.2"/><ellipse cx="287.5" cy="151.3" rx="3.3" ry="8.7"/><ellipse cx="287.2" cy="140.4" rx="3.1" ry="8.8"/><ellipse cx="294.2" cy="163.6" rx="4.7" ry="4.6"/><ellipse cx="292.7" cy="179.7" rx="3.4" ry="5.1"/><ellipse cx="296.9" cy="163.7" rx="3.8" ry="7.7"/><ellipse cx="301.1" cy="178.3" rx="4.5" ry="7.6"/><ellipse cx="301.5" cy="120.3" rx="3.1" ry="7.9"/><ellipse cx="304.4" cy="148.1" rx="4.5" ry="4.7"/><ellipse cx="303.7" cy="152.3" rx="3.6" ry="7.8"/><ellipse cx="307.0" cy="124.3" rx="3.9" ry="8.1"/><ellipse cx="305.6" cy="131.8" rx="3.5" ry="6.2"/><ellipse cx="309.0" cy="136.3" rx="3.8" ry="5.8"/><ellipse cx="308.3" cy="113.1" rx="4.8" ry="7.1"/><ellipse cx="316.5" cy="125.6" rx="4.1" ry="5.4"/><ellipse cx="319.0" cy="125.6" rx="3.3" ry="7.6"/><ellipse cx="318.9" cy="132.7" rx="3.1" ry="7.2"/><ellipse cx="318.5" cy="104.1" rx="3.5" ry="6.9"/><ellipse cx="322.9" cy="152.4" rx="3.6" ry="7.6"/><ellipse cx="327.7" cy="147.5" rx="4.5" ry="7.8"/><ellipse cx="326.5" cy="156.7" rx="3.3" ry="6.5"/><ellipse cx="333.1" cy="120.2" rx="3.1" ry="6.2"/><ellipse cx="334.3" cy="145.0" rx="3.0" ry="7.9"/><ellipse cx="335.8" cy="140.2" rx="3.2" ry="7.4"/><ellipse cx="338.4" cy="129.1" rx="4.7" ry="7.2"/><ellipse cx="338.6" cy="163.2" rx="3.5" ry="8.1"/><ellipse cx="345.2" cy="121.3" rx="3.8" ry="6.5"/><ellipse cx="348.7" cy="144.8" rx="3.3" ry="8.6"/><ellipse cx="357.5" cy="132.2" rx="3.3" ry="8.1"/><ellipse cx="365.9" cy="151.3" rx="3.6" ry="8.4"/><ellipse cx="366.8" cy="152.5" rx="4.2" ry="5.5"/><ellipse cx="368.0" cy="84.0" rx="3.3" ry="5.4"/><ellipse cx="373.0" cy="86.0" rx="3.3" ry="5.4"/><ellipse cx="358.0" cy="95.0" rx="3.3" ry="5.4"/><ellipse cx="363.0" cy="98.0" rx="3.3" ry="5.4"/></g>
<g fill="url(#r10)"><ellipse cx="154.8" cy="151.9" rx="4.1" ry="4.5"/><ellipse cx="157.8" cy="155.8" rx="5.3" ry="5.6"/><ellipse cx="163.0" cy="155.8" rx="5.2" ry="6.7"/><ellipse cx="166.6" cy="151.9" rx="5.2" ry="6.7"/><ellipse cx="170.8" cy="167.5" rx="5.2" ry="6.7"/><ellipse cx="170.9" cy="163.6" rx="3.9" ry="4.6"/><ellipse cx="173.6" cy="163.6" rx="5.1" ry="5.9"/><ellipse cx="173.7" cy="144.1" rx="4.9" ry="6.6"/><ellipse cx="173.8" cy="159.7" rx="5.2" ry="5.4"/><ellipse cx="173.7" cy="159.7" rx="5.3" ry="4.5"/><ellipse cx="176.2" cy="148.0" rx="4.6" ry="6.6"/><ellipse cx="175.7" cy="167.5" rx="4.9" ry="4.6"/><ellipse cx="179.4" cy="167.5" rx="4.0" ry="6.7"/><ellipse cx="183.8" cy="155.8" rx="4.2" ry="5.3"/><ellipse cx="184.7" cy="159.7" rx="4.2" ry="5.8"/><ellipse cx="192.5" cy="155.8" rx="4.5" ry="6.3"/><ellipse cx="194.9" cy="175.3" rx="4.1" ry="4.9"/><ellipse cx="197.8" cy="151.9" rx="4.8" ry="5.8"/><ellipse cx="204.3" cy="144.1" rx="4.3" ry="6.6"/><ellipse cx="209.8" cy="159.7" rx="4.5" ry="5.5"/><ellipse cx="209.5" cy="159.7" rx="4.3" ry="6.9"/><ellipse cx="217.5" cy="151.9" rx="5.0" ry="4.6"/><ellipse cx="222.7" cy="167.5" rx="5.0" ry="6.9"/><ellipse cx="225.0" cy="140.2" rx="4.9" ry="5.1"/><ellipse cx="225.8" cy="136.3" rx="5.3" ry="4.5"/><ellipse cx="226.2" cy="159.7" rx="5.3" ry="5.3"/><ellipse cx="233.0" cy="144.1" rx="4.5" ry="5.4"/><ellipse cx="234.2" cy="144.1" rx="4.4" ry="5.8"/><ellipse cx="236.7" cy="159.7" rx="3.9" ry="5.0"/><ellipse cx="241.6" cy="148.0" rx="4.0" ry="6.0"/><ellipse cx="241.1" cy="132.4" rx="4.2" ry="6.6"/><ellipse cx="244.2" cy="159.7" rx="4.3" ry="6.8"/><ellipse cx="246.4" cy="163.6" rx="5.3" ry="6.4"/><ellipse cx="249.2" cy="140.2" rx="4.3" ry="6.3"/><ellipse cx="252.1" cy="148.0" rx="4.2" ry="4.6"/><ellipse cx="257.5" cy="144.1" rx="5.0" ry="5.1"/><ellipse cx="261.6" cy="151.9" rx="4.8" ry="6.3"/><ellipse cx="264.5" cy="155.8" rx="4.6" ry="5.2"/><ellipse cx="267.1" cy="140.2" rx="4.6" ry="5.4"/><ellipse cx="272.7" cy="163.6" rx="4.8" ry="5.9"/><ellipse cx="277.7" cy="163.6" rx="4.2" ry="5.7"/><ellipse cx="281.1" cy="140.2" rx="4.6" ry="6.1"/><ellipse cx="279.8" cy="148.0" rx="4.1" ry="4.6"/><ellipse cx="284.9" cy="171.4" rx="4.1" ry="4.8"/><ellipse cx="284.9" cy="163.6" rx="4.9" ry="4.6"/><ellipse cx="288.8" cy="132.4" rx="4.3" ry="4.5"/><ellipse cx="292.7" cy="140.2" rx="4.8" ry="4.6"/><ellipse cx="294.1" cy="148.0" rx="5.0" ry="6.8"/><ellipse cx="295.5" cy="148.0" rx="4.1" ry="4.9"/><ellipse cx="299.0" cy="144.1" rx="4.1" ry="4.6"/><ellipse cx="301.0" cy="148.0" rx="4.1" ry="4.9"/><ellipse cx="301.3" cy="140.2" rx="4.0" ry="5.3"/><ellipse cx="301.3" cy="140.2" rx="4.7" ry="5.8"/><ellipse cx="306.4" cy="148.0" rx="4.6" ry="5.3"/><ellipse cx="306.8" cy="144.1" rx="5.0" ry="6.0"/><ellipse cx="305.7" cy="136.3" rx="5.0" ry="4.7"/><ellipse cx="310.9" cy="132.4" rx="4.2" ry="5.2"/><ellipse cx="312.1" cy="144.1" rx="5.0" ry="4.7"/><ellipse cx="317.2" cy="140.2" rx="4.3" ry="6.6"/><ellipse cx="316.2" cy="144.1" rx="4.9" ry="6.5"/><ellipse cx="319.0" cy="136.3" rx="3.9" ry="5.3"/><ellipse cx="322.7" cy="144.1" rx="5.3" ry="5.1"/><ellipse cx="322.7" cy="140.2" rx="4.9" ry="6.8"/><ellipse cx="325.3" cy="136.3" rx="4.1" ry="6.2"/><ellipse cx="332.4" cy="144.1" rx="4.4" ry="6.0"/><ellipse cx="335.6" cy="144.1" rx="3.9" ry="6.7"/><ellipse cx="337.9" cy="136.3" rx="4.2" ry="6.1"/><ellipse cx="345.0" cy="144.1" rx="5.3" ry="4.5"/><ellipse cx="347.3" cy="159.7" rx="5.3" ry="5.3"/><ellipse cx="347.8" cy="132.4" rx="4.8" ry="5.4"/><ellipse cx="350.3" cy="136.3" rx="4.8" ry="5.2"/><ellipse cx="353.7" cy="140.2" rx="4.2" ry="4.7"/><ellipse cx="353.0" cy="140.2" rx="4.5" ry="4.8"/><ellipse cx="355.4" cy="140.2" rx="5.0" ry="6.4"/><ellipse cx="358.3" cy="136.3" rx="5.0" ry="4.8"/><ellipse cx="357.8" cy="140.2" rx="4.3" ry="4.6"/><ellipse cx="361.1" cy="140.2" rx="4.9" ry="5.4"/><ellipse cx="360.8" cy="148.0" rx="5.4" ry="5.0"/><ellipse cx="366.5" cy="151.9" rx="4.6" ry="5.8"/><ellipse cx="369.3" cy="155.8" rx="5.1" ry="6.6"/><ellipse cx="368.3" cy="151.9" rx="4.7" ry="6.3"/><ellipse cx="349.0" cy="128.0" rx="3.3" ry="5.4"/><ellipse cx="140.5" cy="181.2" rx="3.9" ry="6.0"/><ellipse cx="138.3" cy="197.0" rx="3.6" ry="6.6"/><ellipse cx="137.7" cy="202.0" rx="3.6" ry="6.6"/><ellipse cx="136.7" cy="210.0" rx="3.6" ry="6.6"/></g>
<g fill="url(#r15)"><ellipse cx="155.7" cy="163.6" rx="3.9" ry="4.1"/><ellipse cx="156.1" cy="151.9" rx="4.7" ry="5.1"/><ellipse cx="170.6" cy="155.8" rx="4.5" ry="4.3"/><ellipse cx="176.7" cy="148.0" rx="4.2" ry="5.1"/><ellipse cx="178.9" cy="155.8" rx="3.9" ry="5.1"/><ellipse cx="189.7" cy="159.7" rx="4.4" ry="4.2"/><ellipse cx="215.5" cy="155.8" rx="3.9" ry="5.2"/><ellipse cx="223.3" cy="140.2" rx="3.7" ry="5.4"/><ellipse cx="230.8" cy="148.0" rx="4.4" ry="5.2"/><ellipse cx="233.2" cy="148.0" rx="4.3" ry="5.0"/><ellipse cx="247.1" cy="144.1" rx="4.0" ry="5.1"/><ellipse cx="285.3" cy="151.9" rx="4.2" ry="4.4"/><ellipse cx="290.7" cy="151.9" rx="4.1" ry="4.1"/><ellipse cx="321.5" cy="132.4" rx="4.2" ry="4.0"/><ellipse cx="339.8" cy="144.1" rx="4.2" ry="4.5"/><ellipse cx="345.7" cy="151.9" rx="4.4" ry="4.5"/><ellipse cx="347.8" cy="136.3" rx="4.0" ry="4.2"/><ellipse cx="350.6" cy="136.3" rx="4.0" ry="5.5"/><ellipse cx="368.6" cy="151.9" rx="4.6" ry="5.5"/><ellipse cx="141.6" cy="169.2" rx="3.9" ry="6.0"/></g>
<g fill="url(#r23)"><ellipse cx="155.6" cy="155.8" rx="4.1" ry="4.5"/><ellipse cx="210.2" cy="155.8" rx="4.1" ry="4.5"/><ellipse cx="236.2" cy="144.1" rx="4.1" ry="4.5"/><ellipse cx="272.6" cy="155.8" rx="4.1" ry="4.5"/><ellipse cx="166.7" cy="144.3" rx="4.5" ry="4.8"/><ellipse cx="151.5" cy="89.0" rx="3.3" ry="5.4"/><ellipse cx="148.2" cy="116.0" rx="3.3" ry="5.4"/><ellipse cx="145.8" cy="136.0" rx="3.3" ry="5.4"/></g>
<g fill="url(#r8)"><ellipse cx="158.7" cy="190.4" rx="4.3" ry="8.9"/><ellipse cx="161.4" cy="174.8" rx="3.1" ry="6.5"/><ellipse cx="164.1" cy="160.3" rx="4.1" ry="6.0"/><ellipse cx="167.9" cy="174.4" rx="3.8" ry="5.9"/><ellipse cx="168.7" cy="166.8" rx="4.4" ry="8.8"/><ellipse cx="169.3" cy="105.4" rx="4.0" ry="7.7"/><ellipse cx="168.2" cy="155.9" rx="3.9" ry="7.9"/><ellipse cx="171.0" cy="124.1" rx="3.3" ry="5.2"/><ellipse cx="175.6" cy="152.7" rx="4.7" ry="7.8"/><ellipse cx="176.4" cy="128.1" rx="4.2" ry="5.4"/><ellipse cx="176.6" cy="168.5" rx="4.4" ry="5.8"/><ellipse cx="179.4" cy="121.6" rx="3.7" ry="5.7"/><ellipse cx="178.1" cy="178.5" rx="4.6" ry="6.0"/><ellipse cx="199.7" cy="163.7" rx="3.1" ry="8.0"/><ellipse cx="211.1" cy="143.7" rx="4.3" ry="6.0"/><ellipse cx="211.9" cy="144.4" rx="3.3" ry="5.7"/><ellipse cx="212.0" cy="175.8" rx="4.1" ry="5.0"/><ellipse cx="215.4" cy="183.9" rx="3.2" ry="5.0"/><ellipse cx="218.1" cy="151.6" rx="3.6" ry="5.2"/><ellipse cx="218.8" cy="151.4" rx="4.6" ry="7.8"/><ellipse cx="219.7" cy="112.9" rx="3.1" ry="8.0"/><ellipse cx="222.9" cy="170.8" rx="4.3" ry="6.6"/><ellipse cx="228.5" cy="117.2" rx="3.8" ry="7.4"/><ellipse cx="233.8" cy="183.0" rx="3.1" ry="6.8"/><ellipse cx="233.5" cy="155.1" rx="3.4" ry="8.7"/><ellipse cx="239.5" cy="135.5" rx="4.0" ry="6.3"/><ellipse cx="243.1" cy="132.5" rx="4.4" ry="7.4"/><ellipse cx="243.9" cy="124.1" rx="4.5" ry="7.1"/><ellipse cx="249.4" cy="155.3" rx="3.9" ry="8.4"/><ellipse cx="265.4" cy="151.6" rx="4.8" ry="8.3"/><ellipse cx="267.9" cy="152.8" rx="3.4" ry="5.2"/><ellipse cx="269.0" cy="147.9" rx="4.7" ry="6.2"/><ellipse cx="277.8" cy="175.3" rx="3.9" ry="5.9"/><ellipse cx="280.1" cy="159.9" rx="4.7" ry="5.2"/><ellipse cx="285.5" cy="148.8" rx="4.0" ry="8.5"/><ellipse cx="287.8" cy="167.2" rx="3.9" ry="7.5"/><ellipse cx="289.1" cy="172.0" rx="4.4" ry="6.2"/><ellipse cx="296.7" cy="152.0" rx="3.3" ry="5.3"/><ellipse cx="306.7" cy="159.2" rx="4.0" ry="7.8"/><ellipse cx="308.4" cy="133.3" rx="3.1" ry="6.3"/><ellipse cx="317.1" cy="143.7" rx="3.2" ry="7.5"/><ellipse cx="325.0" cy="152.5" rx="4.0" ry="8.6"/><ellipse cx="325.0" cy="139.4" rx="3.2" ry="6.6"/><ellipse cx="324.2" cy="155.3" rx="3.8" ry="5.9"/><ellipse cx="330.1" cy="155.5" rx="3.9" ry="6.0"/><ellipse cx="330.0" cy="144.0" rx="3.3" ry="6.2"/><ellipse cx="332.9" cy="139.6" rx="4.1" ry="7.3"/><ellipse cx="342.4" cy="129.4" rx="3.8" ry="6.2"/><ellipse cx="343.4" cy="120.9" rx="4.7" ry="5.8"/><ellipse cx="345.8" cy="164.1" rx="4.7" ry="7.2"/><ellipse cx="348.4" cy="135.7" rx="4.3" ry="6.8"/><ellipse cx="350.5" cy="147.1" rx="4.0" ry="5.9"/><ellipse cx="353.8" cy="147.6" rx="4.4" ry="7.6"/><ellipse cx="355.4" cy="139.7" rx="3.2" ry="4.9"/><ellipse cx="356.6" cy="128.9" rx="4.6" ry="5.8"/><ellipse cx="357.5" cy="139.7" rx="3.1" ry="6.8"/><ellipse cx="359.3" cy="143.6" rx="3.6" ry="8.6"/><ellipse cx="364.1" cy="148.6" rx="3.8" ry="5.3"/><ellipse cx="363.4" cy="159.4" rx="4.4" ry="5.0"/><ellipse cx="367.1" cy="155.7" rx="3.4" ry="5.8"/><ellipse cx="369.6" cy="148.4" rx="3.1" ry="8.9"/><ellipse cx="352.0" cy="118.0" rx="3.3" ry="5.4"/><ellipse cx="336.0" cy="104.0" rx="3.3" ry="5.4"/><ellipse cx="366.0" cy="130.0" rx="3.3" ry="5.4"/><ellipse cx="369.0" cy="136.0" rx="3.3" ry="5.4"/><ellipse cx="341.0" cy="160.0" rx="3.3" ry="5.4"/></g>
<g fill="url(#r21)"><ellipse cx="158.2" cy="159.7" rx="3.7" ry="5.7"/><ellipse cx="158.2" cy="155.8" rx="4.1" ry="4.5"/><ellipse cx="162.9" cy="163.6" rx="4.4" ry="4.8"/><ellipse cx="165.9" cy="148.0" rx="4.0" ry="4.9"/><ellipse cx="168.6" cy="159.7" rx="4.1" ry="4.5"/><ellipse cx="179.3" cy="159.7" rx="3.8" ry="4.7"/><ellipse cx="181.1" cy="159.7" rx="3.9" ry="4.0"/><ellipse cx="197.3" cy="155.8" rx="4.0" ry="4.5"/><ellipse cx="200.0" cy="159.7" rx="4.4" ry="5.5"/><ellipse cx="202.2" cy="159.7" rx="4.2" ry="5.0"/><ellipse cx="205.6" cy="159.7" rx="4.5" ry="5.3"/><ellipse cx="212.3" cy="159.7" rx="4.3" ry="4.1"/><ellipse cx="215.4" cy="155.8" rx="4.1" ry="4.5"/><ellipse cx="218.6" cy="155.8" rx="3.6" ry="4.5"/><ellipse cx="220.9" cy="144.1" rx="4.7" ry="4.8"/><ellipse cx="230.4" cy="148.0" rx="3.7" ry="5.4"/><ellipse cx="239.2" cy="148.0" rx="4.2" ry="4.2"/><ellipse cx="238.5" cy="148.0" rx="4.6" ry="5.1"/><ellipse cx="241.5" cy="144.1" rx="3.6" ry="5.7"/><ellipse cx="244.1" cy="148.0" rx="4.5" ry="4.5"/><ellipse cx="249.8" cy="155.8" rx="4.4" ry="5.0"/><ellipse cx="251.8" cy="144.1" rx="4.2" ry="5.3"/><ellipse cx="257.4" cy="151.9" rx="4.4" ry="4.1"/><ellipse cx="260.1" cy="151.9" rx="3.8" ry="5.4"/><ellipse cx="259.3" cy="151.9" rx="4.8" ry="5.4"/><ellipse cx="264.5" cy="155.8" rx="4.6" ry="4.5"/><ellipse cx="269.9" cy="151.9" rx="4.1" ry="4.2"/><ellipse cx="274.7" cy="148.0" rx="4.6" ry="4.6"/><ellipse cx="275.5" cy="159.7" rx="4.5" ry="4.5"/><ellipse cx="277.5" cy="148.0" rx="4.0" ry="5.3"/><ellipse cx="298.3" cy="148.0" rx="4.5" ry="4.3"/><ellipse cx="303.3" cy="155.8" rx="4.0" ry="4.1"/><ellipse cx="309.0" cy="144.1" rx="4.2" ry="4.0"/><ellipse cx="311.5" cy="144.1" rx="3.8" ry="5.3"/><ellipse cx="316.4" cy="140.2" rx="4.6" ry="4.9"/><ellipse cx="321.9" cy="140.2" rx="4.4" ry="4.7"/><ellipse cx="324.3" cy="136.3" rx="4.2" ry="4.1"/><ellipse cx="335.4" cy="140.2" rx="4.2" ry="5.5"/><ellipse cx="337.2" cy="148.0" rx="4.1" ry="4.8"/><ellipse cx="343.3" cy="140.2" rx="4.0" ry="4.7"/><ellipse cx="345.3" cy="148.0" rx="4.4" ry="5.2"/><ellipse cx="355.5" cy="140.2" rx="3.8" ry="5.2"/><ellipse cx="356.0" cy="140.2" rx="3.6" ry="4.7"/><ellipse cx="364.1" cy="151.9" rx="4.4" ry="5.6"/><ellipse cx="366.6" cy="148.0" rx="3.8" ry="4.9"/><ellipse cx="147.8" cy="119.0" rx="3.3" ry="5.4"/></g>
<g fill="url(#r18)"><ellipse cx="158.2" cy="151.9" rx="3.9" ry="4.3"/><ellipse cx="160.9" cy="148.0" rx="4.3" ry="4.6"/><ellipse cx="165.9" cy="159.7" rx="3.8" ry="4.5"/><ellipse cx="165.7" cy="155.8" rx="4.4" ry="4.4"/><ellipse cx="168.6" cy="155.8" rx="3.8" ry="4.6"/><ellipse cx="176.7" cy="159.7" rx="4.7" ry="4.0"/><ellipse cx="176.4" cy="155.8" rx="4.6" ry="4.5"/><ellipse cx="179.1" cy="151.9" rx="3.9" ry="4.4"/><ellipse cx="187.4" cy="151.9" rx="4.4" ry="4.6"/><ellipse cx="187.3" cy="159.7" rx="4.4" ry="5.4"/><ellipse cx="189.4" cy="167.5" rx="4.8" ry="4.2"/><ellipse cx="191.8" cy="167.5" rx="4.2" ry="5.1"/><ellipse cx="194.0" cy="159.7" rx="4.1" ry="5.3"/><ellipse cx="217.8" cy="163.6" rx="4.5" ry="5.3"/><ellipse cx="223.2" cy="155.8" rx="3.8" ry="3.9"/><ellipse cx="226.0" cy="151.9" rx="3.9" ry="4.4"/><ellipse cx="228.2" cy="148.0" rx="4.2" ry="4.1"/><ellipse cx="228.0" cy="148.0" rx="4.3" ry="5.5"/><ellipse cx="233.3" cy="148.0" rx="3.9" ry="4.0"/><ellipse cx="238.3" cy="151.9" rx="4.4" ry="4.2"/><ellipse cx="241.6" cy="155.8" rx="4.5" ry="5.6"/><ellipse cx="240.9" cy="151.9" rx="4.2" ry="3.9"/><ellipse cx="243.6" cy="144.1" rx="4.3" ry="4.5"/><ellipse cx="247.1" cy="144.1" rx="4.0" ry="3.9"/><ellipse cx="249.6" cy="159.7" rx="4.0" ry="5.7"/><ellipse cx="252.0" cy="151.9" rx="4.6" ry="5.2"/><ellipse cx="262.6" cy="151.9" rx="4.3" ry="5.0"/><ellipse cx="264.6" cy="159.7" rx="4.3" ry="4.3"/><ellipse cx="266.8" cy="163.6" rx="4.0" ry="4.8"/><ellipse cx="267.4" cy="159.7" rx="3.9" ry="4.0"/><ellipse cx="280.7" cy="151.9" rx="4.6" ry="5.0"/><ellipse cx="287.7" cy="148.0" rx="4.2" ry="5.1"/><ellipse cx="295.6" cy="151.9" rx="4.4" ry="4.2"/><ellipse cx="295.5" cy="151.9" rx="4.5" ry="4.0"/><ellipse cx="298.1" cy="151.9" rx="4.1" ry="5.5"/><ellipse cx="301.6" cy="151.9" rx="3.6" ry="4.9"/><ellipse cx="309.5" cy="132.4" rx="4.5" ry="4.5"/><ellipse cx="319.4" cy="132.4" rx="4.0" ry="4.0"/><ellipse cx="318.9" cy="140.2" rx="4.2" ry="5.5"/><ellipse cx="324.0" cy="140.2" rx="4.8" ry="4.2"/><ellipse cx="327.7" cy="132.4" rx="4.8" ry="5.2"/><ellipse cx="327.5" cy="132.4" rx="3.8" ry="4.6"/><ellipse cx="332.2" cy="128.5" rx="4.6" ry="4.1"/><ellipse cx="331.9" cy="136.3" rx="3.8" ry="4.1"/><ellipse cx="335.0" cy="132.4" rx="3.7" ry="4.3"/><ellipse cx="337.7" cy="148.0" rx="3.9" ry="4.6"/><ellipse cx="339.9" cy="148.0" rx="4.8" ry="5.3"/><ellipse cx="350.5" cy="136.3" rx="4.4" ry="4.6"/><ellipse cx="353.2" cy="136.3" rx="3.6" ry="4.7"/><ellipse cx="361.4" cy="148.0" rx="4.0" ry="4.8"/><ellipse cx="361.3" cy="151.9" rx="4.7" ry="5.0"/><ellipse cx="366.0" cy="151.9" rx="4.0" ry="4.1"/><ellipse cx="366.3" cy="155.8" rx="4.3" ry="4.0"/><ellipse cx="152.3" cy="80.4" rx="3.9" ry="6.0"/><ellipse cx="152.1" cy="85.2" rx="3.9" ry="6.0"/><ellipse cx="151.1" cy="94.8" rx="3.9" ry="6.0"/><ellipse cx="148.6" cy="111.6" rx="3.9" ry="6.0"/><ellipse cx="147.0" cy="126.0" rx="3.9" ry="6.0"/><ellipse cx="146.7" cy="128.4" rx="3.9" ry="6.0"/></g>
<g fill="url(#r17)"><ellipse cx="160.3" cy="151.9" rx="3.7" ry="4.0"/><ellipse cx="160.5" cy="151.9" rx="4.3" ry="4.1"/><ellipse cx="163.4" cy="155.8" rx="3.8" ry="4.3"/><ellipse cx="168.1" cy="155.8" rx="4.0" ry="4.2"/><ellipse cx="173.9" cy="159.7" rx="3.9" ry="5.0"/><ellipse cx="181.3" cy="159.7" rx="4.2" ry="5.6"/><ellipse cx="183.9" cy="155.8" rx="3.7" ry="5.1"/><ellipse cx="186.2" cy="155.8" rx="4.2" ry="4.2"/><ellipse cx="199.9" cy="159.7" rx="3.8" ry="5.3"/><ellipse cx="212.3" cy="159.7" rx="4.0" ry="4.3"/><ellipse cx="215.2" cy="151.9" rx="4.4" ry="4.8"/><ellipse cx="215.6" cy="151.9" rx="4.3" ry="5.1"/><ellipse cx="218.4" cy="155.8" rx="3.7" ry="5.3"/><ellipse cx="220.8" cy="148.0" rx="4.0" ry="5.1"/><ellipse cx="225.5" cy="155.8" rx="4.6" ry="4.7"/><ellipse cx="230.8" cy="148.0" rx="3.7" ry="4.0"/><ellipse cx="231.5" cy="151.9" rx="4.1" ry="5.3"/><ellipse cx="233.6" cy="148.0" rx="4.3" ry="5.7"/><ellipse cx="236.4" cy="136.3" rx="4.3" ry="5.1"/><ellipse cx="239.3" cy="144.1" rx="3.8" ry="4.8"/><ellipse cx="251.3" cy="151.9" rx="4.2" ry="4.2"/><ellipse cx="255.0" cy="155.8" rx="4.4" ry="5.2"/><ellipse cx="260.1" cy="155.8" rx="4.6" ry="4.3"/><ellipse cx="262.7" cy="159.7" rx="4.6" ry="4.3"/><ellipse cx="265.1" cy="159.7" rx="4.5" ry="5.6"/><ellipse cx="265.3" cy="155.8" rx="4.6" ry="4.7"/><ellipse cx="270.3" cy="148.0" rx="4.7" ry="5.2"/><ellipse cx="272.2" cy="151.9" rx="4.7" ry="4.0"/><ellipse cx="277.8" cy="159.7" rx="4.2" ry="4.6"/><ellipse cx="280.9" cy="155.8" rx="4.3" ry="5.0"/><ellipse cx="283.1" cy="144.1" rx="4.0" ry="4.7"/><ellipse cx="285.2" cy="155.8" rx="4.4" ry="4.7"/><ellipse cx="285.8" cy="151.9" rx="3.7" ry="5.5"/><ellipse cx="290.5" cy="148.0" rx="4.4" ry="4.7"/><ellipse cx="296.0" cy="144.1" rx="4.7" ry="5.6"/><ellipse cx="298.3" cy="144.1" rx="3.8" ry="4.1"/><ellipse cx="301.3" cy="144.1" rx="4.2" ry="4.1"/><ellipse cx="312.1" cy="140.2" rx="4.4" ry="5.6"/><ellipse cx="317.0" cy="140.2" rx="4.0" ry="4.6"/><ellipse cx="322.5" cy="144.1" rx="4.0" ry="4.1"/><ellipse cx="329.5" cy="128.5" rx="4.3" ry="4.5"/><ellipse cx="332.9" cy="140.2" rx="4.1" ry="5.1"/><ellipse cx="334.4" cy="148.0" rx="4.0" ry="5.2"/><ellipse cx="342.8" cy="148.0" rx="3.7" ry="4.1"/><ellipse cx="353.1" cy="136.3" rx="4.7" ry="5.4"/><ellipse cx="359.0" cy="144.1" rx="4.3" ry="4.6"/><ellipse cx="360.8" cy="148.0" rx="4.5" ry="4.9"/><ellipse cx="363.6" cy="155.8" rx="4.7" ry="5.4"/><ellipse cx="368.6" cy="151.9" rx="4.5" ry="5.4"/><ellipse cx="369.0" cy="151.9" rx="4.5" ry="4.4"/><ellipse cx="144.5" cy="145.2" rx="3.9" ry="6.0"/><ellipse cx="144.6" cy="147.6" rx="3.9" ry="6.0"/></g>
<g fill="url(#r9)"><ellipse cx="168.2" cy="155.8" rx="4.2" ry="5.5"/><ellipse cx="168.9" cy="140.2" rx="4.7" ry="5.2"/><ellipse cx="182.1" cy="163.6" rx="4.8" ry="5.9"/><ellipse cx="182.4" cy="159.7" rx="4.0" ry="6.3"/><ellipse cx="184.2" cy="155.8" rx="5.2" ry="5.1"/><ellipse cx="192.8" cy="155.8" rx="4.2" ry="5.7"/><ellipse cx="204.3" cy="155.8" rx="4.2" ry="5.1"/><ellipse cx="205.6" cy="155.8" rx="5.3" ry="6.5"/><ellipse cx="207.7" cy="175.3" rx="4.3" ry="5.6"/><ellipse cx="241.4" cy="151.9" rx="5.3" ry="4.5"/><ellipse cx="241.3" cy="151.9" rx="4.5" ry="6.7"/><ellipse cx="248.6" cy="151.9" rx="4.3" ry="5.5"/><ellipse cx="256.4" cy="144.1" rx="4.7" ry="6.7"/><ellipse cx="277.7" cy="151.9" rx="5.3" ry="5.9"/><ellipse cx="283.7" cy="148.0" rx="5.0" ry="5.8"/><ellipse cx="286.2" cy="155.8" rx="4.0" ry="6.5"/><ellipse cx="307.0" cy="144.1" rx="4.1" ry="5.0"/><ellipse cx="314.1" cy="140.2" rx="4.1" ry="6.4"/><ellipse cx="327.8" cy="132.4" rx="4.3" ry="6.3"/><ellipse cx="329.5" cy="132.4" rx="5.1" ry="5.2"/><ellipse cx="332.4" cy="155.8" rx="4.5" ry="5.1"/><ellipse cx="344.9" cy="140.2" rx="4.7" ry="6.2"/><ellipse cx="347.7" cy="132.4" rx="5.0" ry="5.2"/><ellipse cx="350.5" cy="144.1" rx="4.8" ry="6.9"/><ellipse cx="366.0" cy="159.7" rx="4.8" ry="5.2"/><ellipse cx="346.0" cy="118.0" rx="3.3" ry="5.4"/><ellipse cx="343.0" cy="112.0" rx="3.3" ry="5.4"/><ellipse cx="358.0" cy="128.0" rx="3.3" ry="5.4"/><ellipse cx="358.0" cy="160.0" rx="3.3" ry="5.4"/><ellipse cx="139.6" cy="183.6" rx="3.9" ry="6.0"/><ellipse cx="135.9" cy="216.0" rx="3.6" ry="6.6"/></g>
<g fill="url(#r25)"><ellipse cx="171.2" cy="155.8" rx="4.1" ry="4.5"/><ellipse cx="176.4" cy="159.7" rx="4.1" ry="4.5"/><ellipse cx="202.4" cy="155.8" rx="4.1" ry="4.5"/><ellipse cx="231.0" cy="148.0" rx="4.1" ry="4.5"/><ellipse cx="309.0" cy="136.3" rx="4.1" ry="4.5"/><ellipse cx="348.0" cy="140.2" rx="4.1" ry="4.5"/></g>
<g fill="url(#r24)"><ellipse cx="181.6" cy="159.7" rx="4.1" ry="4.5"/><ellipse cx="207.6" cy="151.9" rx="4.1" ry="4.5"/><ellipse cx="218.0" cy="151.9" rx="4.1" ry="4.5"/><ellipse cx="264.8" cy="159.7" rx="4.1" ry="4.5"/><ellipse cx="324.6" cy="136.3" rx="4.1" ry="4.5"/><ellipse cx="276.0" cy="151.7" rx="4.5" ry="4.8"/><ellipse cx="291.3" cy="163.7" rx="4.5" ry="4.8"/><ellipse cx="302.7" cy="155.0" rx="4.5" ry="4.8"/></g>
<g fill="url(#r27)"><ellipse cx="192.0" cy="155.8" rx="4.1" ry="4.5"/><ellipse cx="285.6" cy="151.9" rx="4.1" ry="4.5"/><ellipse cx="314.2" cy="140.2" rx="4.1" ry="4.5"/></g>
<g fill="url(#r22)"><ellipse cx="244.0" cy="148.0" rx="4.1" ry="4.5"/><ellipse cx="249.2" cy="151.9" rx="4.1" ry="4.5"/><ellipse cx="254.4" cy="148.0" rx="4.1" ry="4.5"/><ellipse cx="298.6" cy="148.0" rx="4.1" ry="4.5"/><ellipse cx="368.8" cy="151.9" rx="4.1" ry="4.5"/><ellipse cx="151.2" cy="92.0" rx="3.3" ry="5.4"/></g>
<g fill="url(#r29)"><ellipse cx="160.0" cy="159.7" rx="4.5" ry="4.8"/><ellipse cx="193.7" cy="151.7" rx="4.5" ry="4.8"/><ellipse cx="200.7" cy="159.4" rx="4.5" ry="4.8"/><ellipse cx="222.0" cy="147.7" rx="4.5" ry="4.8"/><ellipse cx="266.7" cy="159.7" rx="4.5" ry="4.8"/><ellipse cx="310.7" cy="140.3" rx="4.5" ry="4.8"/><ellipse cx="360.0" cy="145.0" rx="4.5" ry="4.8"/></g>
<g fill="url(#r28)"><ellipse cx="174.7" cy="159.0" rx="4.5" ry="4.8"/><ellipse cx="188.0" cy="148.0" rx="4.5" ry="4.8"/><ellipse cx="196.0" cy="155.7" rx="4.5" ry="4.8"/><ellipse cx="205.7" cy="159.4" rx="4.5" ry="4.8"/><ellipse cx="213.0" cy="159.0" rx="4.5" ry="4.8"/><ellipse cx="246.7" cy="140.3" rx="4.5" ry="4.8"/><ellipse cx="259.3" cy="155.7" rx="4.5" ry="4.8"/><ellipse cx="262.0" cy="155.7" rx="4.5" ry="4.8"/><ellipse cx="270.7" cy="155.7" rx="4.5" ry="4.8"/><ellipse cx="287.3" cy="152.3" rx="4.5" ry="4.8"/><ellipse cx="306.0" cy="144.3" rx="4.5" ry="4.8"/><ellipse cx="322.7" cy="140.3" rx="4.5" ry="4.8"/><ellipse cx="331.3" cy="133.0" rx="4.5" ry="4.8"/><ellipse cx="357.5" cy="142.0" rx="4.5" ry="4.8"/></g>
<g fill="url(#r30)"><ellipse cx="179.0" cy="155.4" rx="4.5" ry="4.8"/><ellipse cx="252.7" cy="155.7" rx="4.5" ry="4.8"/><ellipse cx="345.0" cy="144.0" rx="4.5" ry="4.8"/><ellipse cx="355.0" cy="139.5" rx="4.5" ry="4.8"/></g>
<g fill="url(#r31)"><ellipse cx="184.4" cy="155.7" rx="4.5" ry="4.8"/><ellipse cx="225.7" cy="155.7" rx="4.5" ry="4.8"/><ellipse cx="232.7" cy="144.0" rx="4.5" ry="4.8"/><ellipse cx="319.7" cy="135.7" rx="4.5" ry="4.8"/><ellipse cx="350.0" cy="140.0" rx="4.5" ry="4.8"/><ellipse cx="363.0" cy="152.0" rx="4.5" ry="4.8"/><ellipse cx="365.0" cy="151.8" rx="4.5" ry="4.8"/></g>
<g fill="url(#r37)"><ellipse cx="239.0" cy="144.0" rx="4.5" ry="4.8"/><ellipse cx="316.7" cy="140.3" rx="4.5" ry="4.8"/></g>
<g fill="url(#r36)"><ellipse cx="240.5" cy="144.3" rx="4.5" ry="4.8"/><ellipse cx="367.0" cy="151.6" rx="4.5" ry="4.8"/></g>
<g fill="url(#r33)"><ellipse cx="282.7" cy="151.7" rx="4.5" ry="4.8"/><ellipse cx="295.3" cy="148.0" rx="4.5" ry="4.8"/><ellipse cx="328.0" cy="132.3" rx="4.5" ry="4.8"/><ellipse cx="338.7" cy="148.0" rx="4.5" ry="4.8"/></g>
<g fill="url(#r38)"><ellipse cx="352.0" cy="148.0" rx="4.5" ry="4.8"/></g>
<g fill="url(#l13)"><rect x="152" y="127.8" width="2.05" height="50.6"/><rect x="154" y="125.6" width="2.05" height="57.9"/><rect x="156" y="129.2" width="2.05" height="53.9"/><rect x="158" y="130.5" width="2.05" height="48.9"/><rect x="160" y="128.2" width="2.05" height="52.4"/><rect x="162" y="124.9" width="2.05" height="60.4"/><rect x="164" y="128.5" width="2.05" height="50.2"/><rect x="166" y="128.9" width="2.05" height="48.9"/><rect x="168" y="124.5" width="2.05" height="61.0"/><rect x="170" y="128.5" width="2.05" height="49.0"/><rect x="172" y="117.0" width="2.05" height="73.4"/><rect x="174" y="129.5" width="2.05" height="50.0"/><rect x="176" y="125.5" width="2.05" height="56.9"/><rect x="178" y="127.3" width="2.05" height="54.6"/><rect x="180" y="122.5" width="2.05" height="67.3"/><rect x="182" y="124.2" width="2.05" height="62.5"/><rect x="184" y="124.4" width="2.05" height="64.3"/><rect x="186" y="128.4" width="2.05" height="54.3"/><rect x="188" y="129.0" width="2.05" height="55.8"/><rect x="190" y="124.0" width="2.05" height="66.3"/><rect x="192" y="130.6" width="2.05" height="55.8"/><rect x="194" y="120.5" width="2.05" height="71.0"/><rect x="196" y="131.6" width="2.05" height="49.9"/><rect x="198" y="128.8" width="2.05" height="55.7"/><rect x="200" y="128.2" width="2.05" height="62.1"/><rect x="202" y="121.8" width="2.05" height="71.3"/><rect x="204" y="129.3" width="2.05" height="57.7"/><rect x="206" y="126.7" width="2.05" height="63.7"/><rect x="208" y="130.1" width="2.05" height="54.2"/><rect x="210" y="121.8" width="2.05" height="72.0"/><rect x="212" y="125.8" width="2.05" height="58.2"/><rect x="214" y="120.5" width="2.05" height="70.0"/><rect x="216" y="123.1" width="2.05" height="61.1"/><rect x="218" y="117.1" width="2.05" height="72.5"/><rect x="220" y="125.5" width="2.05" height="54.1"/><rect x="222" y="119.6" width="2.05" height="63.9"/><rect x="224" y="115.3" width="2.05" height="66.7"/><rect x="226" y="121.7" width="2.05" height="56.2"/><rect x="228" y="119.6" width="2.05" height="58.1"/><rect x="230" y="111.2" width="2.05" height="73.0"/><rect x="232" y="120.5" width="2.05" height="49.6"/><rect x="234" y="108.7" width="2.05" height="74.1"/><rect x="236" y="111.4" width="2.05" height="66.7"/><rect x="238" y="111.0" width="2.05" height="67.8"/><rect x="240" y="113.4" width="2.05" height="64.7"/><rect x="242" y="120.7" width="2.05" height="55.2"/><rect x="244" y="118.6" width="2.05" height="61.1"/><rect x="246" y="119.1" width="2.05" height="63.6"/><rect x="248" y="116.1" width="2.05" height="72.3"/><rect x="250" y="124.1" width="2.05" height="61.0"/><rect x="252" y="121.8" width="2.05" height="64.4"/><rect x="254" y="130.5" width="2.05" height="49.1"/><rect x="256" y="119.6" width="2.05" height="70.5"/><rect x="258" y="128.2" width="2.05" height="50.7"/><rect x="260" y="127.3" width="2.05" height="53.0"/><rect x="262" y="123.7" width="2.05" height="65.6"/><rect x="264" y="122.6" width="2.05" height="68.4"/><rect x="266" y="130.1" width="2.05" height="50.9"/><rect x="268" y="123.5" width="2.05" height="64.0"/><rect x="270" y="125.8" width="2.05" height="57.9"/><rect x="272" y="125.0" width="2.05" height="60.5"/><rect x="274" y="118.8" width="2.05" height="73.0"/><rect x="276" y="126.8" width="2.05" height="55.3"/><rect x="278" y="126.3" width="2.05" height="53.0"/><rect x="280" y="120.1" width="2.05" height="64.9"/><rect x="282" y="122.9" width="2.05" height="55.9"/><rect x="284" y="113.6" width="2.05" height="75.0"/><rect x="286" y="119.1" width="2.05" height="66.7"/><rect x="288" y="121.9" width="2.05" height="60.3"/><rect x="290" y="118.2" width="2.05" height="65.1"/><rect x="292" y="118.9" width="2.05" height="62.6"/><rect x="294" y="113.3" width="2.05" height="74.0"/><rect x="296" y="122.1" width="2.05" height="54.2"/><rect x="298" y="111.5" width="2.05" height="69.4"/><rect x="300" y="111.7" width="2.05" height="68.3"/><rect x="302" y="110.6" width="2.05" height="70.7"/><rect x="304" y="112.5" width="2.05" height="67.3"/><rect x="306" y="118.6" width="2.05" height="49.8"/><rect x="308" y="109.2" width="2.05" height="68.1"/><rect x="310" y="108.7" width="2.05" height="63.8"/><rect x="312" y="103.6" width="2.05" height="73.9"/><rect x="314" y="101.9" width="2.05" height="74.6"/><rect x="316" y="105.3" width="2.05" height="64.0"/><rect x="318" y="107.7" width="2.05" height="61.3"/><rect x="320" y="103.5" width="2.05" height="64.0"/><rect x="322" y="103.7" width="2.05" height="65.0"/><rect x="324" y="105.9" width="2.05" height="57.0"/><rect x="326" y="104.2" width="2.05" height="60.1"/><rect x="328" y="104.1" width="2.05" height="58.0"/><rect x="330" y="107.3" width="2.05" height="50.5"/><rect x="332" y="109.4" width="2.05" height="52.8"/><rect x="334" y="112.0" width="2.05" height="54.8"/><rect x="336" y="110.0" width="2.05" height="66.7"/><rect x="338" y="117.2" width="2.05" height="57.8"/><rect x="340" y="122.8" width="2.05" height="44.9"/><rect x="342" y="122.5" width="2.05" height="44.3"/><rect x="344" y="126.3" width="2.05" height="37.9"/><rect x="346" y="123.2" width="2.05" height="40.3"/><rect x="348" y="120.9" width="2.05" height="41.4"/><rect x="350" y="116.9" width="2.05" height="50.2"/><rect x="352" y="123.5" width="2.05" height="33.1"/><rect x="354" y="120.0" width="2.05" height="40.4"/><rect x="356" y="126.9" width="2.05" height="28.6"/><rect x="358" y="128.5" width="2.05" height="33.6"/><rect x="360" y="129.7" width="2.05" height="37.5"/><rect x="362" y="135.7" width="2.05" height="30.6"/><rect x="364" y="138.6" width="2.05" height="24.7"/><rect x="366" y="136.8" width="2.05" height="27.4"/><rect x="368" y="137.5" width="2.05" height="24.4"/><rect x="370" y="133.9" width="2.05" height="25.7"/></g>
<g fill="url(#l16)"><rect x="152" y="135.2" width="2.05" height="36.8"/><rect x="154" y="140.3" width="2.05" height="28.0"/><rect x="156" y="135.9" width="2.05" height="37.1"/><rect x="158" y="141.0" width="2.05" height="27.0"/><rect x="160" y="136.9" width="2.05" height="38.2"/><rect x="162" y="138.9" width="2.05" height="32.6"/><rect x="164" y="143.2" width="2.05" height="25.2"/><rect x="166" y="136.0" width="2.05" height="38.0"/><rect x="168" y="139.4" width="2.05" height="32.0"/><rect x="170" y="137.3" width="2.05" height="31.7"/><rect x="172" y="136.2" width="2.05" height="36.8"/><rect x="174" y="137.8" width="2.05" height="36.7"/><rect x="176" y="135.9" width="2.05" height="38.6"/><rect x="178" y="136.0" width="2.05" height="39.1"/><rect x="180" y="142.7" width="2.05" height="27.4"/><rect x="182" y="136.7" width="2.05" height="36.9"/><rect x="184" y="139.9" width="2.05" height="34.1"/><rect x="186" y="141.2" width="2.05" height="30.7"/><rect x="188" y="143.9" width="2.05" height="27.9"/><rect x="190" y="140.2" width="2.05" height="34.9"/><rect x="192" y="140.1" width="2.05" height="34.9"/><rect x="194" y="141.1" width="2.05" height="31.1"/><rect x="196" y="140.0" width="2.05" height="36.9"/><rect x="198" y="145.5" width="2.05" height="25.6"/><rect x="200" y="138.2" width="2.05" height="38.9"/><rect x="202" y="144.0" width="2.05" height="25.6"/><rect x="204" y="141.4" width="2.05" height="29.8"/><rect x="206" y="145.3" width="2.05" height="25.5"/><rect x="208" y="138.7" width="2.05" height="37.9"/><rect x="210" y="140.0" width="2.05" height="32.9"/><rect x="212" y="144.0" width="2.05" height="25.6"/><rect x="214" y="141.0" width="2.05" height="29.2"/><rect x="216" y="134.4" width="2.05" height="39.2"/><rect x="218" y="140.7" width="2.05" height="27.6"/><rect x="220" y="139.0" width="2.05" height="28.3"/><rect x="222" y="136.0" width="2.05" height="31.9"/><rect x="224" y="130.3" width="2.05" height="37.7"/><rect x="226" y="132.4" width="2.05" height="35.1"/><rect x="228" y="127.4" width="2.05" height="39.2"/><rect x="230" y="128.9" width="2.05" height="36.3"/><rect x="232" y="128.0" width="2.05" height="36.8"/><rect x="234" y="130.4" width="2.05" height="31.6"/><rect x="236" y="131.2" width="2.05" height="29.3"/><rect x="238" y="129.1" width="2.05" height="32.7"/><rect x="240" y="131.5" width="2.05" height="27.9"/><rect x="242" y="133.7" width="2.05" height="27.4"/><rect x="244" y="134.2" width="2.05" height="28.6"/><rect x="246" y="132.1" width="2.05" height="38.1"/><rect x="248" y="134.6" width="2.05" height="35.4"/><rect x="250" y="134.3" width="2.05" height="37.2"/><rect x="252" y="133.8" width="2.05" height="38.3"/><rect x="254" y="136.0" width="2.05" height="34.4"/><rect x="256" y="141.4" width="2.05" height="28.0"/><rect x="258" y="137.5" width="2.05" height="32.8"/><rect x="260" y="139.0" width="2.05" height="34.4"/><rect x="262" y="141.8" width="2.05" height="25.9"/><rect x="264" y="138.0" width="2.05" height="37.9"/><rect x="266" y="139.2" width="2.05" height="33.8"/><rect x="268" y="138.8" width="2.05" height="31.7"/><rect x="270" y="138.7" width="2.05" height="31.5"/><rect x="272" y="136.4" width="2.05" height="36.0"/><rect x="274" y="136.0" width="2.05" height="36.9"/><rect x="276" y="134.8" width="2.05" height="36.1"/><rect x="278" y="139.4" width="2.05" height="25.6"/><rect x="280" y="135.8" width="2.05" height="33.2"/><rect x="282" y="131.5" width="2.05" height="39.5"/><rect x="284" y="134.1" width="2.05" height="33.7"/><rect x="286" y="137.3" width="2.05" height="29.2"/><rect x="288" y="132.6" width="2.05" height="34.1"/><rect x="290" y="136.3" width="2.05" height="27.3"/><rect x="292" y="133.8" width="2.05" height="33.7"/><rect x="294" y="130.0" width="2.05" height="35.9"/><rect x="296" y="129.0" width="2.05" height="37.7"/><rect x="298" y="132.2" width="2.05" height="32.1"/><rect x="300" y="129.9" width="2.05" height="32.2"/><rect x="302" y="127.0" width="2.05" height="37.7"/><rect x="304" y="129.4" width="2.05" height="28.8"/><rect x="306" y="129.3" width="2.05" height="27.0"/><rect x="308" y="124.1" width="2.05" height="34.4"/><rect x="310" y="125.8" width="2.05" height="32.5"/><rect x="312" y="126.2" width="2.05" height="27.7"/><rect x="314" y="124.9" width="2.05" height="30.3"/><rect x="316" y="124.5" width="2.05" height="28.1"/><rect x="318" y="120.4" width="2.05" height="34.2"/><rect x="320" y="121.1" width="2.05" height="29.6"/><rect x="322" y="119.7" width="2.05" height="33.8"/><rect x="324" y="119.4" width="2.05" height="29.2"/><rect x="326" y="114.5" width="2.05" height="37.2"/><rect x="328" y="113.9" width="2.05" height="38.2"/><rect x="330" y="121.2" width="2.05" height="25.7"/><rect x="332" y="119.7" width="2.05" height="31.8"/><rect x="334" y="125.5" width="2.05" height="28.7"/><rect x="336" y="131.2" width="2.05" height="27.5"/><rect x="338" y="135.5" width="2.05" height="22.4"/><rect x="340" y="130.1" width="2.05" height="31.3"/><rect x="342" y="133.9" width="2.05" height="23.1"/><rect x="344" y="130.3" width="2.05" height="29.7"/><rect x="346" y="130.1" width="2.05" height="27.2"/><rect x="348" y="129.5" width="2.05" height="25.9"/><rect x="350" y="128.5" width="2.05" height="22.9"/><rect x="352" y="130.6" width="2.05" height="18.4"/><rect x="354" y="130.8" width="2.05" height="16.4"/><rect x="356" y="131.0" width="2.05" height="22.6"/><rect x="358" y="135.6" width="2.05" height="18.8"/><rect x="360" y="138.9" width="2.05" height="17.8"/><rect x="362" y="143.3" width="2.05" height="14.8"/><rect x="364" y="142.9" width="2.05" height="14.9"/><rect x="366" y="144.4" width="2.05" height="15.3"/><rect x="368" y="142.1" width="2.05" height="15.8"/><rect x="370" y="140.5" width="2.05" height="15.1"/></g>
<g fill="url(#l20)"><rect x="152" y="145.3" width="2.05" height="16.5"/><rect x="154" y="147.0" width="2.05" height="16.1"/><rect x="156" y="146.1" width="2.05" height="15.5"/><rect x="158" y="147.9" width="2.05" height="10.9"/><rect x="160" y="145.2" width="2.05" height="17.0"/><rect x="162" y="148.9" width="2.05" height="11.8"/><rect x="164" y="151.1" width="2.05" height="12.1"/><rect x="166" y="146.9" width="2.05" height="12.5"/><rect x="168" y="148.5" width="2.05" height="12.9"/><rect x="170" y="147.2" width="2.05" height="17.4"/><rect x="172" y="147.6" width="2.05" height="16.2"/><rect x="174" y="145.9" width="2.05" height="14.5"/><rect x="176" y="148.3" width="2.05" height="15.1"/><rect x="178" y="148.1" width="2.05" height="15.1"/><rect x="180" y="149.6" width="2.05" height="14.1"/><rect x="182" y="152.1" width="2.05" height="12.1"/><rect x="184" y="147.4" width="2.05" height="16.8"/><rect x="186" y="146.9" width="2.05" height="16.3"/><rect x="188" y="148.4" width="2.05" height="13.1"/><rect x="190" y="149.3" width="2.05" height="16.3"/><rect x="192" y="151.1" width="2.05" height="12.4"/><rect x="194" y="151.3" width="2.05" height="15.3"/><rect x="196" y="148.6" width="2.05" height="16.6"/><rect x="198" y="148.7" width="2.05" height="16.7"/><rect x="200" y="151.3" width="2.05" height="16.5"/><rect x="202" y="149.6" width="2.05" height="14.7"/><rect x="204" y="151.3" width="2.05" height="13.4"/><rect x="206" y="149.2" width="2.05" height="12.7"/><rect x="208" y="148.7" width="2.05" height="16.9"/><rect x="210" y="148.6" width="2.05" height="16.3"/><rect x="212" y="145.6" width="2.05" height="17.0"/><rect x="214" y="149.6" width="2.05" height="14.8"/><rect x="216" y="148.2" width="2.05" height="16.2"/><rect x="218" y="145.7" width="2.05" height="14.2"/><rect x="220" y="142.3" width="2.05" height="16.1"/><rect x="222" y="146.0" width="2.05" height="11.1"/><rect x="224" y="144.2" width="2.05" height="11.8"/><rect x="226" y="143.4" width="2.05" height="15.7"/><rect x="228" y="139.8" width="2.05" height="12.2"/><rect x="230" y="140.7" width="2.05" height="14.5"/><rect x="232" y="141.0" width="2.05" height="12.7"/><rect x="234" y="135.6" width="2.05" height="14.2"/><rect x="236" y="136.8" width="2.05" height="12.9"/><rect x="238" y="140.4" width="2.05" height="11.0"/><rect x="240" y="137.1" width="2.05" height="13.6"/><rect x="242" y="137.3" width="2.05" height="17.0"/><rect x="244" y="142.5" width="2.05" height="13.8"/><rect x="246" y="143.8" width="2.05" height="14.4"/><rect x="248" y="145.8" width="2.05" height="11.9"/><rect x="250" y="147.3" width="2.05" height="13.8"/><rect x="252" y="146.5" width="2.05" height="11.1"/><rect x="254" y="148.5" width="2.05" height="13.7"/><rect x="256" y="149.8" width="2.05" height="13.9"/><rect x="258" y="149.7" width="2.05" height="10.9"/><rect x="260" y="147.6" width="2.05" height="16.4"/><rect x="262" y="146.1" width="2.05" height="14.5"/><rect x="264" y="150.4" width="2.05" height="14.9"/><rect x="266" y="149.3" width="2.05" height="11.1"/><rect x="268" y="147.2" width="2.05" height="14.3"/><rect x="270" y="149.1" width="2.05" height="14.8"/><rect x="272" y="145.5" width="2.05" height="13.3"/><rect x="274" y="146.5" width="2.05" height="13.4"/><rect x="276" y="148.6" width="2.05" height="13.4"/><rect x="278" y="148.0" width="2.05" height="13.0"/><rect x="280" y="142.8" width="2.05" height="15.4"/><rect x="282" y="147.6" width="2.05" height="13.7"/><rect x="284" y="147.6" width="2.05" height="11.4"/><rect x="286" y="147.1" width="2.05" height="11.7"/><rect x="288" y="143.5" width="2.05" height="16.5"/><rect x="290" y="146.4" width="2.05" height="11.4"/><rect x="292" y="142.8" width="2.05" height="12.9"/><rect x="294" y="139.4" width="2.05" height="16.8"/><rect x="296" y="141.7" width="2.05" height="15.6"/><rect x="298" y="141.1" width="2.05" height="11.8"/><rect x="300" y="140.2" width="2.05" height="15.4"/><rect x="302" y="136.0" width="2.05" height="14.7"/><rect x="304" y="136.7" width="2.05" height="13.4"/><rect x="306" y="134.0" width="2.05" height="15.2"/><rect x="308" y="134.3" width="2.05" height="14.3"/><rect x="310" y="133.4" width="2.05" height="13.2"/><rect x="312" y="130.0" width="2.05" height="17.1"/><rect x="314" y="131.4" width="2.05" height="11.4"/><rect x="316" y="129.0" width="2.05" height="14.6"/><rect x="318" y="127.9" width="2.05" height="16.4"/><rect x="320" y="129.5" width="2.05" height="12.1"/><rect x="322" y="130.5" width="2.05" height="12.4"/><rect x="324" y="125.2" width="2.05" height="16.9"/><rect x="326" y="127.0" width="2.05" height="13.6"/><rect x="328" y="129.4" width="2.05" height="11.8"/><rect x="330" y="125.4" width="2.05" height="12.9"/><rect x="332" y="126.9" width="2.05" height="11.9"/><rect x="334" y="132.4" width="2.05" height="15.0"/><rect x="336" y="133.7" width="2.05" height="16.6"/><rect x="338" y="141.8" width="2.05" height="11.1"/><rect x="340" y="137.7" width="2.05" height="12.4"/><rect x="342" y="137.2" width="2.05" height="13.1"/><rect x="344" y="138.9" width="2.05" height="11.8"/><rect x="346" y="133.5" width="2.05" height="14.3"/><rect x="348" y="135.8" width="2.05" height="11.5"/><rect x="350" y="130.7" width="2.05" height="17.3"/><rect x="352" y="134.5" width="2.05" height="11.8"/><rect x="354" y="132.2" width="2.05" height="14.4"/><rect x="356" y="134.6" width="2.05" height="13.8"/><rect x="358" y="137.1" width="2.05" height="15.7"/><rect x="360" y="137.4" width="2.05" height="14.9"/><rect x="362" y="144.3" width="2.05" height="14.3"/><rect x="364" y="142.3" width="2.05" height="14.9"/><rect x="366" y="142.7" width="2.05" height="15.2"/><rect x="368" y="146.0" width="2.05" height="12.1"/><rect x="370" y="137.0" width="2.05" height="17.2"/></g>
<g fill="url(#m30)"><rect x="369" y="140.0" width="1.05" height="16.0"/><rect x="391" y="140.0" width="1.05" height="16.0"/><rect x="465" y="138.8" width="1.05" height="18.4"/><rect x="466" y="138.8" width="1.05" height="18.4"/><rect x="467" y="138.8" width="1.05" height="18.4"/><rect x="468" y="138.8" width="1.05" height="18.4"/><rect x="484" y="142.6" width="1.05" height="18.4"/><rect x="485" y="142.6" width="1.05" height="18.4"/><rect x="486" y="142.6" width="1.05" height="18.4"/><rect x="487" y="142.6" width="1.05" height="18.4"/><rect x="488" y="142.6" width="1.05" height="18.4"/><rect x="489" y="142.6" width="1.05" height="18.4"/><rect x="490" y="142.6" width="1.05" height="18.4"/><rect x="491" y="142.6" width="1.05" height="18.4"/><rect x="492" y="142.6" width="1.05" height="18.4"/><rect x="493" y="142.6" width="1.05" height="18.4"/></g>
<g fill="url(#m35)"><rect x="370" y="140.0" width="1.05" height="16.0"/><rect x="410" y="140.0" width="1.05" height="16.0"/><rect x="412" y="143.8" width="1.05" height="16.0"/><rect x="413" y="143.8" width="1.05" height="16.0"/><rect x="418" y="143.8" width="1.05" height="16.0"/><rect x="419" y="143.8" width="1.05" height="16.0"/><rect x="421" y="143.8" width="1.05" height="16.0"/><rect x="423" y="143.8" width="1.05" height="16.0"/><rect x="428" y="143.8" width="1.05" height="16.0"/><rect x="434" y="138.8" width="1.05" height="18.4"/><rect x="436" y="138.8" width="1.05" height="18.4"/><rect x="439" y="138.8" width="1.05" height="18.4"/><rect x="440" y="138.8" width="1.05" height="18.4"/><rect x="447" y="138.8" width="1.05" height="18.4"/><rect x="448" y="138.8" width="1.05" height="18.4"/><rect x="525" y="143.0" width="1.05" height="17.6"/><rect x="526" y="143.1" width="1.05" height="17.4"/><rect x="527" y="143.2" width="1.05" height="17.3"/><rect x="528" y="143.2" width="1.05" height="17.1"/><rect x="529" y="143.3" width="1.05" height="17.0"/><rect x="588" y="145.2" width="1.05" height="13.1"/><rect x="589" y="145.2" width="1.05" height="13.1"/><rect x="608" y="144.5" width="1.05" height="14.7"/><rect x="609" y="144.3" width="1.05" height="15.0"/><rect x="614" y="144.2" width="1.05" height="15.2"/><rect x="619" y="144.2" width="1.05" height="15.2"/><rect x="622" y="144.2" width="1.05" height="15.2"/><rect x="623" y="140.4" width="1.05" height="15.2"/><rect x="640" y="144.9" width="1.05" height="13.8"/><rect x="641" y="145.0" width="1.05" height="13.6"/></g>
<g fill="url(#m38)"><rect x="371" y="140.0" width="1.05" height="16.0"/><rect x="374" y="140.0" width="1.05" height="16.0"/><rect x="375" y="140.0" width="1.05" height="16.0"/><rect x="384" y="140.0" width="1.05" height="16.0"/><rect x="405" y="140.0" width="1.05" height="16.0"/><rect x="406" y="140.0" width="1.05" height="16.0"/><rect x="416" y="143.8" width="1.05" height="16.0"/><rect x="425" y="143.8" width="1.05" height="16.0"/><rect x="538" y="144.0" width="1.05" height="15.6"/><rect x="539" y="144.1" width="1.05" height="15.4"/><rect x="540" y="144.2" width="1.05" height="15.2"/><rect x="541" y="144.3" width="1.05" height="15.0"/><rect x="542" y="144.4" width="1.05" height="14.8"/><rect x="581" y="145.2" width="1.05" height="13.1"/><rect x="590" y="145.2" width="1.05" height="13.1"/><rect x="605" y="145.0" width="1.05" height="13.6"/><rect x="621" y="144.2" width="1.05" height="15.2"/><rect x="625" y="140.4" width="1.05" height="15.2"/><rect x="626" y="140.4" width="1.05" height="15.2"/><rect x="646" y="145.2" width="1.05" height="13.1"/></g>
<g fill="url(#m39)"><rect x="372" y="140.0" width="1.05" height="16.0"/><rect x="373" y="140.0" width="1.05" height="16.0"/><rect x="376" y="140.0" width="1.05" height="16.0"/><rect x="386" y="140.0" width="1.05" height="16.0"/><rect x="387" y="140.0" width="1.05" height="16.0"/><rect x="388" y="140.0" width="1.05" height="16.0"/><rect x="404" y="140.0" width="1.05" height="16.0"/><rect x="407" y="140.0" width="1.05" height="16.0"/><rect x="408" y="140.0" width="1.05" height="16.0"/><rect x="409" y="140.0" width="1.05" height="16.0"/><rect x="543" y="144.5" width="1.05" height="14.7"/><rect x="544" y="144.6" width="1.05" height="14.5"/><rect x="545" y="144.7" width="1.05" height="14.3"/><rect x="546" y="144.7" width="1.05" height="14.1"/><rect x="547" y="144.8" width="1.05" height="13.9"/><rect x="577" y="145.2" width="1.05" height="13.1"/><rect x="591" y="145.2" width="1.05" height="13.1"/><rect x="604" y="145.2" width="1.05" height="13.3"/><rect x="647" y="145.2" width="1.05" height="13.1"/></g>
<g fill="url(#m37)"><rect x="377" y="140.0" width="1.05" height="16.0"/><rect x="378" y="140.0" width="1.05" height="16.0"/><rect x="385" y="140.0" width="1.05" height="16.0"/><rect x="398" y="140.0" width="1.05" height="16.0"/><rect x="417" y="143.8" width="1.05" height="16.0"/><rect x="424" y="143.8" width="1.05" height="16.0"/><rect x="426" y="143.8" width="1.05" height="16.0"/><rect x="427" y="143.8" width="1.05" height="16.0"/><rect x="533" y="143.6" width="1.05" height="16.4"/><rect x="534" y="143.7" width="1.05" height="16.2"/><rect x="535" y="143.8" width="1.05" height="16.1"/><rect x="536" y="143.8" width="1.05" height="15.9"/><rect x="537" y="143.9" width="1.05" height="15.7"/><rect x="587" y="145.2" width="1.05" height="13.1"/><rect x="606" y="144.8" width="1.05" height="14.0"/><rect x="615" y="144.2" width="1.05" height="15.2"/><rect x="620" y="144.2" width="1.05" height="15.2"/><rect x="627" y="140.4" width="1.05" height="15.2"/><rect x="644" y="145.2" width="1.05" height="13.1"/><rect x="645" y="145.2" width="1.05" height="13.1"/></g>
<g fill="url(#m40)"><rect x="379" y="140.0" width="1.05" height="16.0"/><rect x="380" y="140.0" width="1.05" height="16.0"/><rect x="382" y="140.0" width="1.05" height="16.0"/><rect x="383" y="140.0" width="1.05" height="16.0"/><rect x="399" y="140.0" width="1.05" height="16.0"/><rect x="400" y="140.0" width="1.05" height="16.0"/><rect x="403" y="140.0" width="1.05" height="16.0"/><rect x="548" y="144.9" width="1.05" height="13.8"/><rect x="549" y="145.0" width="1.05" height="13.6"/><rect x="550" y="145.1" width="1.05" height="13.4"/><rect x="551" y="145.2" width="1.05" height="13.2"/><rect x="576" y="145.2" width="1.05" height="13.1"/><rect x="582" y="145.2" width="1.05" height="13.1"/><rect x="583" y="145.2" width="1.05" height="13.1"/><rect x="584" y="145.2" width="1.05" height="13.1"/><rect x="585" y="145.2" width="1.05" height="13.1"/><rect x="586" y="145.2" width="1.05" height="13.1"/><rect x="592" y="145.2" width="1.05" height="13.1"/><rect x="593" y="145.2" width="1.05" height="13.1"/><rect x="594" y="145.2" width="1.05" height="13.1"/><rect x="595" y="145.2" width="1.05" height="13.1"/><rect x="596" y="145.2" width="1.05" height="13.1"/><rect x="603" y="145.2" width="1.05" height="13.1"/><rect x="648" y="145.2" width="1.05" height="13.1"/><rect x="649" y="145.2" width="1.05" height="13.1"/><rect x="650" y="145.2" width="1.05" height="13.1"/></g>
<g fill="url(#m41)"><rect x="381" y="140.0" width="1.05" height="16.0"/><rect x="401" y="140.0" width="1.05" height="16.0"/><rect x="402" y="140.0" width="1.05" height="16.0"/><rect x="552" y="145.2" width="1.05" height="13.1"/><rect x="553" y="145.2" width="1.05" height="13.1"/><rect x="554" y="145.2" width="1.05" height="13.1"/><rect x="555" y="145.2" width="1.05" height="13.1"/><rect x="556" y="145.2" width="1.05" height="13.1"/><rect x="557" y="145.2" width="1.05" height="13.1"/><rect x="558" y="145.2" width="1.05" height="13.1"/><rect x="559" y="145.2" width="1.05" height="13.1"/><rect x="560" y="145.2" width="1.05" height="13.1"/><rect x="561" y="145.2" width="1.05" height="13.1"/><rect x="562" y="145.2" width="1.05" height="13.1"/><rect x="563" y="145.2" width="1.05" height="13.1"/><rect x="564" y="145.2" width="1.05" height="13.1"/><rect x="565" y="145.2" width="1.05" height="13.1"/><rect x="566" y="145.2" width="1.05" height="13.1"/><rect x="567" y="145.2" width="1.05" height="13.1"/><rect x="568" y="145.2" width="1.05" height="13.1"/><rect x="569" y="145.2" width="1.05" height="13.1"/><rect x="570" y="145.2" width="1.05" height="13.1"/><rect x="571" y="145.2" width="1.05" height="13.1"/><rect x="572" y="145.2" width="1.05" height="13.1"/><rect x="573" y="145.2" width="1.05" height="13.1"/><rect x="574" y="145.2" width="1.05" height="13.1"/><rect x="575" y="145.2" width="1.05" height="13.1"/><rect x="597" y="145.2" width="1.05" height="13.1"/><rect x="598" y="145.2" width="1.05" height="13.1"/><rect x="599" y="145.2" width="1.05" height="13.1"/><rect x="600" y="145.2" width="1.05" height="13.1"/><rect x="601" y="145.2" width="1.05" height="13.1"/><rect x="602" y="145.2" width="1.05" height="13.1"/><rect x="651" y="145.2" width="1.05" height="13.1"/><rect x="652" y="145.2" width="1.05" height="13.1"/><rect x="653" y="145.2" width="1.05" height="13.1"/><rect x="654" y="145.2" width="1.05" height="13.1"/><rect x="655" y="145.2" width="1.05" height="13.1"/><rect x="656" y="145.2" width="1.05" height="13.1"/><rect x="657" y="145.2" width="1.05" height="13.1"/><rect x="658" y="145.2" width="1.05" height="13.1"/><rect x="659" y="145.2" width="1.05" height="13.1"/><rect x="660" y="145.2" width="1.05" height="13.1"/><rect x="661" y="145.2" width="1.05" height="13.1"/><rect x="662" y="145.2" width="1.05" height="13.1"/><rect x="663" y="145.2" width="1.05" height="13.1"/><rect x="664" y="145.2" width="1.05" height="13.1"/><rect x="665" y="145.2" width="1.05" height="13.1"/><rect x="666" y="145.2" width="1.05" height="13.1"/><rect x="667" y="145.2" width="1.05" height="13.1"/><rect x="668" y="145.2" width="1.05" height="13.1"/><rect x="669" y="145.2" width="1.05" height="13.1"/><rect x="670" y="145.2" width="1.05" height="13.1"/><rect x="671" y="145.2" width="1.05" height="13.1"/><rect x="672" y="145.2" width="1.05" height="13.1"/><rect x="673" y="145.2" width="1.05" height="13.1"/><rect x="674" y="145.2" width="1.05" height="13.1"/><rect x="675" y="145.2" width="1.05" height="13.1"/></g>
<g fill="url(#m36)"><rect x="389" y="140.0" width="1.05" height="16.0"/><rect x="415" y="143.8" width="1.05" height="16.0"/><rect x="420" y="143.8" width="1.05" height="16.0"/><rect x="435" y="138.8" width="1.05" height="18.4"/><rect x="530" y="143.4" width="1.05" height="16.8"/><rect x="531" y="143.5" width="1.05" height="16.7"/><rect x="532" y="143.5" width="1.05" height="16.5"/><rect x="578" y="145.2" width="1.05" height="13.1"/><rect x="580" y="145.2" width="1.05" height="13.1"/><rect x="607" y="144.6" width="1.05" height="14.3"/><rect x="616" y="144.2" width="1.05" height="15.2"/><rect x="624" y="140.4" width="1.05" height="15.2"/><rect x="628" y="140.4" width="1.05" height="15.2"/><rect x="629" y="140.4" width="1.05" height="15.2"/><rect x="642" y="145.1" width="1.05" height="13.4"/><rect x="643" y="145.2" width="1.05" height="13.2"/></g>
<g fill="url(#m13)"><rect x="389" y="143.8" width="1.05" height="16.0"/><rect x="399" y="143.8" width="1.05" height="16.0"/><rect x="414" y="140.0" width="1.05" height="16.0"/><rect x="415" y="140.0" width="1.05" height="16.0"/><rect x="416" y="140.0" width="1.05" height="16.0"/><rect x="417" y="140.0" width="1.05" height="16.0"/><rect x="418" y="140.0" width="1.05" height="16.0"/><rect x="419" y="140.0" width="1.05" height="16.0"/><rect x="420" y="140.0" width="1.05" height="16.0"/><rect x="421" y="140.0" width="1.05" height="16.0"/><rect x="422" y="140.0" width="1.05" height="16.0"/><rect x="423" y="140.0" width="1.05" height="16.0"/><rect x="424" y="140.0" width="1.05" height="16.0"/><rect x="425" y="140.0" width="1.05" height="16.0"/><rect x="426" y="140.0" width="1.05" height="16.0"/><rect x="427" y="140.0" width="1.05" height="16.0"/><rect x="509" y="138.8" width="1.05" height="18.4"/><rect x="609" y="140.5" width="1.05" height="15.0"/></g>
<g fill="url(#m33)"><rect x="390" y="140.0" width="1.05" height="16.0"/><rect x="411" y="143.8" width="1.05" height="16.0"/><rect x="433" y="138.9" width="1.05" height="18.2"/><rect x="437" y="138.8" width="1.05" height="18.4"/><rect x="442" y="138.8" width="1.05" height="18.4"/><rect x="443" y="138.8" width="1.05" height="18.4"/><rect x="444" y="138.8" width="1.05" height="18.4"/><rect x="454" y="138.8" width="1.05" height="18.4"/><rect x="455" y="138.8" width="1.05" height="18.4"/><rect x="456" y="138.8" width="1.05" height="18.4"/><rect x="457" y="138.8" width="1.05" height="18.4"/><rect x="459" y="138.8" width="1.05" height="18.4"/><rect x="460" y="138.8" width="1.05" height="18.4"/><rect x="512" y="142.6" width="1.05" height="18.4"/><rect x="513" y="142.6" width="1.05" height="18.4"/><rect x="514" y="142.6" width="1.05" height="18.4"/><rect x="515" y="142.6" width="1.05" height="18.4"/><rect x="516" y="142.6" width="1.05" height="18.4"/><rect x="517" y="142.6" width="1.05" height="18.4"/><rect x="518" y="142.6" width="1.05" height="18.4"/><rect x="611" y="144.2" width="1.05" height="15.2"/><rect x="612" y="144.2" width="1.05" height="15.2"/><rect x="613" y="144.2" width="1.05" height="15.2"/><rect x="633" y="144.2" width="1.05" height="15.2"/></g>
<g fill="url(#m22)"><rect x="390" y="143.8" width="1.05" height="16.0"/><rect x="410" y="143.8" width="1.05" height="16.0"/><rect x="429" y="139.9" width="1.05" height="16.2"/><rect x="459" y="142.6" width="1.05" height="18.4"/><rect x="460" y="142.6" width="1.05" height="18.4"/><rect x="494" y="138.8" width="1.05" height="18.4"/><rect x="495" y="138.8" width="1.05" height="18.4"/><rect x="615" y="140.4" width="1.05" height="15.2"/></g>
<g fill="url(#m26)"><rect x="391" y="143.8" width="1.05" height="16.0"/><rect x="466" y="142.6" width="1.05" height="18.4"/><rect x="486" y="138.8" width="1.05" height="18.4"/><rect x="487" y="138.8" width="1.05" height="18.4"/><rect x="488" y="138.8" width="1.05" height="18.4"/><rect x="612" y="140.4" width="1.05" height="15.2"/></g>
<g fill="url(#m27)"><rect x="392" y="140.0" width="1.05" height="16.0"/><rect x="396" y="140.0" width="1.05" height="16.0"/><rect x="396" y="143.8" width="1.05" height="16.0"/><rect x="467" y="142.6" width="1.05" height="18.4"/><rect x="468" y="142.6" width="1.05" height="18.4"/><rect x="469" y="142.6" width="1.05" height="18.4"/><rect x="470" y="142.6" width="1.05" height="18.4"/><rect x="483" y="138.8" width="1.05" height="18.4"/><rect x="484" y="138.8" width="1.05" height="18.4"/><rect x="485" y="138.8" width="1.05" height="18.4"/><rect x="613" y="140.4" width="1.05" height="15.2"/><rect x="617" y="140.4" width="1.05" height="15.2"/><rect x="618" y="140.4" width="1.05" height="15.2"/><rect x="621" y="140.4" width="1.05" height="15.2"/></g>
<g fill="url(#m28)"><rect x="392" y="143.8" width="1.05" height="16.0"/><rect x="430" y="139.6" width="1.05" height="16.7"/><rect x="471" y="142.6" width="1.05" height="18.4"/><rect x="472" y="142.6" width="1.05" height="18.4"/><rect x="473" y="142.6" width="1.05" height="18.4"/><rect x="474" y="142.6" width="1.05" height="18.4"/><rect x="475" y="142.6" width="1.05" height="18.4"/><rect x="478" y="138.8" width="1.05" height="18.4"/><rect x="479" y="138.8" width="1.05" height="18.4"/><rect x="480" y="138.8" width="1.05" height="18.4"/><rect x="481" y="138.8" width="1.05" height="18.4"/><rect x="482" y="138.8" width="1.05" height="18.4"/><rect x="631" y="144.2" width="1.05" height="15.2"/></g>
<g fill="url(#m25)"><rect x="393" y="140.0" width="1.05" height="16.0"/><rect x="395" y="140.0" width="1.05" height="16.0"/><rect x="411" y="140.0" width="1.05" height="16.0"/><rect x="464" y="142.6" width="1.05" height="18.4"/><rect x="465" y="142.6" width="1.05" height="18.4"/><rect x="489" y="138.8" width="1.05" height="18.4"/><rect x="490" y="138.8" width="1.05" height="18.4"/><rect x="614" y="140.4" width="1.05" height="15.2"/><rect x="616" y="140.4" width="1.05" height="15.2"/></g>
<g fill="url(#m29)"><rect x="393" y="143.8" width="1.05" height="16.0"/><rect x="394" y="143.8" width="1.05" height="16.0"/><rect x="395" y="143.8" width="1.05" height="16.0"/><rect x="469" y="138.8" width="1.05" height="18.4"/><rect x="470" y="138.8" width="1.05" height="18.4"/><rect x="471" y="138.8" width="1.05" height="18.4"/><rect x="472" y="138.8" width="1.05" height="18.4"/><rect x="473" y="138.8" width="1.05" height="18.4"/><rect x="474" y="138.8" width="1.05" height="18.4"/><rect x="475" y="138.8" width="1.05" height="18.4"/><rect x="476" y="138.8" width="1.05" height="18.4"/><rect x="476" y="142.6" width="1.05" height="18.4"/><rect x="477" y="138.8" width="1.05" height="18.4"/><rect x="477" y="142.6" width="1.05" height="18.4"/><rect x="478" y="142.6" width="1.05" height="18.4"/><rect x="479" y="142.6" width="1.05" height="18.4"/><rect x="480" y="142.6" width="1.05" height="18.4"/><rect x="481" y="142.6" width="1.05" height="18.4"/><rect x="482" y="142.6" width="1.05" height="18.4"/><rect x="483" y="142.6" width="1.05" height="18.4"/><rect x="623" y="144.2" width="1.05" height="15.2"/></g>
<g fill="url(#m24)"><rect x="394" y="140.0" width="1.05" height="16.0"/><rect x="397" y="143.8" width="1.05" height="16.0"/><rect x="430" y="143.4" width="1.05" height="16.7"/><rect x="462" y="142.6" width="1.05" height="18.4"/><rect x="463" y="142.6" width="1.05" height="18.4"/><rect x="491" y="138.8" width="1.05" height="18.4"/><rect x="619" y="140.4" width="1.05" height="15.2"/><rect x="620" y="140.4" width="1.05" height="15.2"/><rect x="632" y="140.4" width="1.05" height="15.2"/></g>
<g fill="url(#m32)"><rect x="397" y="140.0" width="1.05" height="16.0"/><rect x="432" y="139.2" width="1.05" height="17.7"/><rect x="461" y="138.8" width="1.05" height="18.4"/><rect x="503" y="142.6" width="1.05" height="18.4"/><rect x="504" y="142.6" width="1.05" height="18.4"/><rect x="505" y="142.6" width="1.05" height="18.4"/><rect x="506" y="142.6" width="1.05" height="18.4"/><rect x="507" y="142.6" width="1.05" height="18.4"/><rect x="508" y="142.6" width="1.05" height="18.4"/><rect x="509" y="142.6" width="1.05" height="18.4"/><rect x="510" y="142.6" width="1.05" height="18.4"/><rect x="511" y="142.6" width="1.05" height="18.4"/><rect x="632" y="144.2" width="1.05" height="15.2"/></g>
<g fill="url(#m18)"><rect x="398" y="143.8" width="1.05" height="16.0"/><rect x="432" y="143.0" width="1.05" height="17.7"/><rect x="451" y="142.6" width="1.05" height="18.4"/><rect x="452" y="142.6" width="1.05" height="18.4"/><rect x="453" y="142.6" width="1.05" height="18.4"/><rect x="454" y="142.6" width="1.05" height="18.4"/><rect x="455" y="142.6" width="1.05" height="18.4"/><rect x="501" y="138.8" width="1.05" height="18.4"/><rect x="633" y="140.4" width="1.05" height="15.2"/></g>
<g fill="url(#m9)"><rect x="400" y="143.8" width="1.05" height="16.0"/><rect x="401" y="143.8" width="1.05" height="16.0"/><rect x="402" y="143.8" width="1.05" height="16.0"/><rect x="403" y="143.8" width="1.05" height="16.0"/><rect x="404" y="143.8" width="1.05" height="16.0"/><rect x="405" y="143.8" width="1.05" height="16.0"/><rect x="406" y="143.8" width="1.05" height="16.0"/><rect x="407" y="143.8" width="1.05" height="16.0"/><rect x="408" y="143.8" width="1.05" height="16.0"/><rect x="514" y="138.8" width="1.05" height="18.4"/><rect x="515" y="138.8" width="1.05" height="18.4"/><rect x="516" y="138.8" width="1.05" height="18.4"/><rect x="517" y="138.8" width="1.05" height="18.4"/><rect x="518" y="138.8" width="1.05" height="18.4"/><rect x="636" y="140.7" width="1.05" height="14.7"/></g>
<g fill="url(#m15)"><rect x="409" y="143.8" width="1.05" height="16.0"/><rect x="505" y="138.8" width="1.05" height="18.4"/><rect x="506" y="138.8" width="1.05" height="18.4"/></g>
<g fill="url(#m17)"><rect x="412" y="140.0" width="1.05" height="16.0"/><rect x="433" y="142.7" width="1.05" height="18.2"/><rect x="434" y="142.6" width="1.05" height="18.4"/><rect x="435" y="142.6" width="1.05" height="18.4"/><rect x="436" y="142.6" width="1.05" height="18.4"/><rect x="437" y="142.6" width="1.05" height="18.4"/><rect x="438" y="142.6" width="1.05" height="18.4"/><rect x="439" y="142.6" width="1.05" height="18.4"/><rect x="440" y="142.6" width="1.05" height="18.4"/><rect x="441" y="142.6" width="1.05" height="18.4"/><rect x="442" y="142.6" width="1.05" height="18.4"/><rect x="443" y="142.6" width="1.05" height="18.4"/><rect x="444" y="142.6" width="1.05" height="18.4"/><rect x="445" y="142.6" width="1.05" height="18.4"/><rect x="446" y="142.6" width="1.05" height="18.4"/><rect x="447" y="142.6" width="1.05" height="18.4"/><rect x="448" y="142.6" width="1.05" height="18.4"/><rect x="449" y="142.6" width="1.05" height="18.4"/><rect x="450" y="142.6" width="1.05" height="18.4"/><rect x="502" y="138.8" width="1.05" height="18.4"/><rect x="503" y="138.8" width="1.05" height="18.4"/><rect x="626" y="144.2" width="1.05" height="15.2"/><rect x="627" y="144.2" width="1.05" height="15.2"/><rect x="628" y="144.2" width="1.05" height="15.2"/></g>
<g fill="url(#m14)"><rect x="413" y="140.0" width="1.05" height="16.0"/><rect x="507" y="138.8" width="1.05" height="18.4"/><rect x="508" y="138.8" width="1.05" height="18.4"/><rect x="634" y="140.5" width="1.05" height="15.1"/></g>
<g fill="url(#m34)"><rect x="414" y="143.8" width="1.05" height="16.0"/><rect x="422" y="143.8" width="1.05" height="16.0"/><rect x="438" y="138.8" width="1.05" height="18.4"/><rect x="441" y="138.8" width="1.05" height="18.4"/><rect x="445" y="138.8" width="1.05" height="18.4"/><rect x="446" y="138.8" width="1.05" height="18.4"/><rect x="449" y="138.8" width="1.05" height="18.4"/><rect x="450" y="138.8" width="1.05" height="18.4"/><rect x="451" y="138.8" width="1.05" height="18.4"/><rect x="452" y="138.8" width="1.05" height="18.4"/><rect x="453" y="138.8" width="1.05" height="18.4"/><rect x="458" y="138.8" width="1.05" height="18.4"/><rect x="519" y="142.6" width="1.05" height="18.4"/><rect x="520" y="142.6" width="1.05" height="18.3"/><rect x="521" y="142.7" width="1.05" height="18.2"/><rect x="522" y="142.8" width="1.05" height="18.0"/><rect x="523" y="142.9" width="1.05" height="17.9"/><rect x="524" y="142.9" width="1.05" height="17.7"/><rect x="579" y="145.2" width="1.05" height="13.1"/><rect x="610" y="144.2" width="1.05" height="15.2"/><rect x="617" y="144.2" width="1.05" height="15.2"/><rect x="618" y="144.2" width="1.05" height="15.2"/><rect x="630" y="140.4" width="1.05" height="15.2"/><rect x="634" y="144.3" width="1.05" height="15.1"/><rect x="635" y="144.4" width="1.05" height="14.9"/><rect x="636" y="144.5" width="1.05" height="14.7"/><rect x="637" y="144.6" width="1.05" height="14.5"/><rect x="638" y="144.7" width="1.05" height="14.3"/><rect x="639" y="144.8" width="1.05" height="14.1"/></g>
<g fill="url(#m16)"><rect x="428" y="140.0" width="1.05" height="16.0"/><rect x="504" y="138.8" width="1.05" height="18.4"/><rect x="610" y="140.4" width="1.05" height="15.2"/></g>
<g fill="url(#m31)"><rect x="429" y="143.7" width="1.05" height="16.2"/><rect x="431" y="139.4" width="1.05" height="17.2"/><rect x="462" y="138.8" width="1.05" height="18.4"/><rect x="463" y="138.8" width="1.05" height="18.4"/><rect x="464" y="138.8" width="1.05" height="18.4"/><rect x="494" y="142.6" width="1.05" height="18.4"/><rect x="495" y="142.6" width="1.05" height="18.4"/><rect x="496" y="142.6" width="1.05" height="18.4"/><rect x="497" y="142.6" width="1.05" height="18.4"/><rect x="498" y="142.6" width="1.05" height="18.4"/><rect x="499" y="142.6" width="1.05" height="18.4"/><rect x="500" y="142.6" width="1.05" height="18.4"/><rect x="501" y="142.6" width="1.05" height="18.4"/><rect x="502" y="142.6" width="1.05" height="18.4"/><rect x="622" y="140.4" width="1.05" height="15.2"/><rect x="631" y="140.4" width="1.05" height="15.2"/></g>
<g fill="url(#m20)"><rect x="431" y="143.2" width="1.05" height="17.2"/><rect x="457" y="142.6" width="1.05" height="18.4"/><rect x="497" y="138.8" width="1.05" height="18.4"/><rect x="498" y="138.8" width="1.05" height="18.4"/></g>
<g fill="url(#m19)"><rect x="456" y="142.6" width="1.05" height="18.4"/><rect x="499" y="138.8" width="1.05" height="18.4"/><rect x="500" y="138.8" width="1.05" height="18.4"/><rect x="625" y="144.2" width="1.05" height="15.2"/><rect x="629" y="144.2" width="1.05" height="15.2"/></g>
<g fill="url(#m21)"><rect x="458" y="142.6" width="1.05" height="18.4"/><rect x="496" y="138.8" width="1.05" height="18.4"/><rect x="611" y="140.4" width="1.05" height="15.2"/></g>
<g fill="url(#m23)"><rect x="461" y="142.6" width="1.05" height="18.4"/><rect x="492" y="138.8" width="1.05" height="18.4"/><rect x="493" y="138.8" width="1.05" height="18.4"/><rect x="624" y="144.2" width="1.05" height="15.2"/><rect x="630" y="144.2" width="1.05" height="15.2"/></g>
<g fill="url(#m12)"><rect x="510" y="138.8" width="1.05" height="18.4"/><rect x="511" y="138.8" width="1.05" height="18.4"/></g>
<g fill="url(#m11)"><rect x="512" y="138.8" width="1.05" height="18.4"/><rect x="635" y="140.6" width="1.05" height="14.9"/></g>
<g fill="url(#m10)"><rect x="513" y="138.8" width="1.05" height="18.4"/></g>
<g fill="url(#m8)"><rect x="519" y="138.8" width="1.05" height="18.4"/><rect x="520" y="138.8" width="1.05" height="18.3"/><rect x="521" y="138.9" width="1.05" height="18.2"/><rect x="522" y="139.0" width="1.05" height="18.0"/><rect x="523" y="139.1" width="1.05" height="17.9"/></g>
<g fill="url(#l10)"><rect x="369" y="127.8" width="2.05" height="44.0"/><rect x="371" y="130.1" width="2.05" height="42.0"/><rect x="373" y="131.7" width="2.05" height="40.3"/><rect x="375" y="131.3" width="2.05" height="39.9"/><rect x="377" y="130.8" width="2.05" height="38.8"/><rect x="379" y="131.4" width="2.05" height="36.6"/><rect x="381" y="130.8" width="2.05" height="37.4"/><rect x="383" y="128.7" width="2.05" height="41.3"/><rect x="385" y="127.6" width="2.05" height="43.7"/><rect x="387" y="129.3" width="2.05" height="41.9"/><rect x="389" y="131.2" width="2.05" height="39.4"/><rect x="391" y="130.9" width="2.05" height="40.4"/><rect x="393" y="129.7" width="2.05" height="42.7"/><rect x="395" y="129.8" width="2.05" height="42.5"/><rect x="397" y="130.3" width="2.05" height="40.7"/><rect x="399" y="129.1" width="2.05" height="40.5"/><rect x="401" y="127.8" width="2.05" height="41.6"/><rect x="403" y="128.6" width="2.05" height="41.5"/><rect x="405" y="130.3" width="2.05" height="40.8"/><rect x="407" y="130.8" width="2.05" height="41.2"/><rect x="409" y="130.7" width="2.05" height="41.6"/><rect x="411" y="131.3" width="2.05" height="41.1"/><rect x="413" y="131.5" width="2.05" height="41.5"/><rect x="415" y="129.5" width="2.05" height="44.6"/><rect x="417" y="127.1" width="2.05" height="47.4"/><rect x="419" y="127.0" width="2.05" height="45.9"/><rect x="421" y="128.6" width="2.05" height="42.5"/><rect x="423" y="129.0" width="2.05" height="42.0"/><rect x="425" y="128.2" width="2.05" height="44.1"/><rect x="427" y="128.6" width="2.05" height="44.6"/><rect x="429" y="126.3" width="2.05" height="47.8"/><rect x="431" y="126.2" width="2.05" height="48.0"/><rect x="433" y="125.7" width="2.05" height="48.7"/><rect x="435" y="125.3" width="2.05" height="49.1"/><rect x="437" y="125.4" width="2.05" height="49.1"/><rect x="439" y="125.4" width="2.05" height="48.9"/><rect x="441" y="125.3" width="2.05" height="48.7"/><rect x="443" y="125.5" width="2.05" height="48.2"/><rect x="445" y="125.8" width="2.05" height="47.9"/><rect x="447" y="125.8" width="2.05" height="48.3"/><rect x="449" y="125.3" width="2.05" height="49.1"/><rect x="451" y="125.1" width="2.05" height="49.4"/><rect x="453" y="125.2" width="2.05" height="49.2"/><rect x="455" y="125.2" width="2.05" height="49.1"/><rect x="457" y="125.0" width="2.05" height="49.4"/><rect x="459" y="125.1" width="2.05" height="49.1"/><rect x="461" y="125.7" width="2.05" height="48.1"/><rect x="463" y="126.2" width="2.05" height="47.1"/><rect x="465" y="126.1" width="2.05" height="47.1"/><rect x="467" y="126.0" width="2.05" height="47.5"/><rect x="469" y="125.9" width="2.05" height="47.8"/><rect x="471" y="125.8" width="2.05" height="48.1"/><rect x="473" y="125.5" width="2.05" height="48.4"/><rect x="475" y="125.5" width="2.05" height="48.3"/><rect x="477" y="125.8" width="2.05" height="47.8"/><rect x="479" y="126.3" width="2.05" height="47.2"/><rect x="481" y="126.5" width="2.05" height="46.7"/><rect x="483" y="126.7" width="2.05" height="46.1"/><rect x="485" y="127.1" width="2.05" height="45.4"/><rect x="487" y="127.2" width="2.05" height="45.2"/><rect x="489" y="126.9" width="2.05" height="45.9"/><rect x="491" y="126.6" width="2.05" height="46.5"/><rect x="493" y="126.8" width="2.05" height="46.2"/><rect x="495" y="127.3" width="2.05" height="45.4"/><rect x="497" y="127.6" width="2.05" height="44.9"/><rect x="499" y="127.8" width="2.05" height="44.5"/><rect x="501" y="128.3" width="2.05" height="43.7"/><rect x="503" y="128.8" width="2.05" height="42.8"/><rect x="505" y="128.9" width="2.05" height="42.3"/><rect x="507" y="128.7" width="2.05" height="42.3"/><rect x="509" y="128.8" width="2.05" height="42.2"/><rect x="511" y="129.1" width="2.05" height="42.1"/><rect x="513" y="129.3" width="2.05" height="41.9"/><rect x="515" y="129.5" width="2.05" height="41.5"/><rect x="517" y="130.1" width="2.05" height="40.4"/><rect x="519" y="130.8" width="2.05" height="39.3"/><rect x="521" y="131.0" width="2.05" height="38.9"/><rect x="523" y="130.9" width="2.05" height="38.8"/><rect x="525" y="131.0" width="2.05" height="38.4"/><rect x="527" y="131.4" width="2.05" height="37.6"/><rect x="529" y="131.5" width="2.05" height="37.3"/><rect x="531" y="131.5" width="2.05" height="37.4"/><rect x="533" y="131.9" width="2.05" height="37.2"/><rect x="535" y="132.5" width="2.05" height="36.3"/><rect x="537" y="133.0" width="2.05" height="35.5"/><rect x="539" y="133.1" width="2.05" height="35.0"/><rect x="541" y="133.0" width="2.05" height="34.8"/><rect x="543" y="133.1" width="2.05" height="34.4"/><rect x="545" y="133.1" width="2.05" height="34.2"/><rect x="547" y="132.8" width="2.05" height="34.1"/><rect x="549" y="133.0" width="2.05" height="33.7"/><rect x="551" y="133.4" width="2.05" height="33.0"/><rect x="553" y="136.4" width="2.05" height="27.9"/><rect x="555" y="139.0" width="2.05" height="23.2"/><rect x="557" y="140.4" width="2.05" height="20.7"/><rect x="559" y="140.5" width="2.05" height="20.3"/><rect x="561" y="140.5" width="2.05" height="20.2"/><rect x="563" y="140.1" width="2.05" height="20.6"/><rect x="565" y="139.8" width="2.05" height="20.9"/><rect x="567" y="140.1" width="2.05" height="20.5"/><rect x="569" y="140.5" width="2.05" height="19.9"/><rect x="571" y="140.5" width="2.05" height="19.8"/><rect x="573" y="140.5" width="2.05" height="20.1"/><rect x="575" y="140.6" width="2.05" height="22.5"/><rect x="577" y="135.3" width="2.05" height="34.7"/><rect x="579" y="133.1" width="2.05" height="37.5"/><rect x="581" y="131.1" width="2.05" height="39.1"/><rect x="583" y="131.2" width="2.05" height="38.4"/><rect x="585" y="131.9" width="2.05" height="37.8"/><rect x="587" y="131.6" width="2.05" height="38.6"/><rect x="589" y="131.6" width="2.05" height="38.6"/><rect x="591" y="133.4" width="2.05" height="35.6"/><rect x="593" y="134.4" width="2.05" height="34.4"/><rect x="595" y="132.5" width="2.05" height="38.2"/><rect x="597" y="129.6" width="2.05" height="43.4"/><rect x="599" y="128.7" width="2.05" height="44.6"/><rect x="601" y="128.2" width="2.05" height="45.0"/><rect x="603" y="126.9" width="2.05" height="46.0"/><rect x="605" y="125.5" width="2.05" height="47.9"/><rect x="607" y="126.8" width="2.05" height="46.6"/><rect x="609" y="128.5" width="2.05" height="44.6"/><rect x="611" y="128.2" width="2.05" height="44.8"/><rect x="613" y="126.2" width="2.05" height="47.5"/><rect x="615" y="124.7" width="2.05" height="50.5"/><rect x="617" y="123.7" width="2.05" height="53.7"/><rect x="619" y="121.7" width="2.05" height="57.6"/><rect x="621" y="120.9" width="2.05" height="58.1"/><rect x="623" y="122.6" width="2.05" height="54.1"/><rect x="625" y="125.8" width="2.05" height="48.3"/><rect x="627" y="127.2" width="2.05" height="45.9"/><rect x="629" y="126.7" width="2.05" height="46.7"/><rect x="631" y="126.7" width="2.05" height="46.6"/><rect x="633" y="127.9" width="2.05" height="44.1"/><rect x="635" y="127.5" width="2.05" height="44.2"/><rect x="637" y="125.8" width="2.05" height="47.1"/><rect x="639" y="125.8" width="2.05" height="48.0"/><rect x="641" y="128.4" width="2.05" height="44.6"/><rect x="643" y="131.0" width="2.05" height="39.6"/><rect x="645" y="132.5" width="2.05" height="35.2"/><rect x="647" y="134.3" width="2.05" height="31.1"/><rect x="649" y="136.4" width="2.05" height="27.6"/><rect x="651" y="136.8" width="2.05" height="26.8"/><rect x="653" y="135.4" width="2.05" height="28.0"/><rect x="655" y="135.3" width="2.05" height="27.0"/><rect x="657" y="137.7" width="2.05" height="23.4"/></g>
</g>
</g>
</g>
<linearGradient id="cb" x1="0" y1="0" x2="0" y2="1"><stop offset="0.0000" stop-color="rgb(240,16,129)"/><stop offset="0.0125" stop-color="rgb(240,16,114)"/><stop offset="0.0250" stop-color="rgb(240,16,99)"/><stop offset="0.0375" stop-color="rgb(240,16,85)"/><stop offset="0.0500" stop-color="rgb(240,16,70)"/><stop offset="0.0625" stop-color="rgb(240,16,55)"/><stop offset="0.0750" stop-color="rgb(240,16,41)"/><stop offset="0.0875" stop-color="rgb(240,16,26)"/><stop offset="0.1000" stop-color="rgb(240,21,16)"/><stop offset="0.1125" stop-color="rgb(240,36,16)"/><stop offset="0.1250" stop-color="rgb(240,50,16)"/><stop offset="0.1375" stop-color="rgb(240,65,16)"/><stop offset="0.1500" stop-color="rgb(240,80,16)"/><stop offset="0.1625" stop-color="rgb(240,94,16)"/><stop offset="0.1750" stop-color="rgb(240,109,16)"/><stop offset="0.1875" stop-color="rgb(240,124,16)"/><stop offset="0.2000" stop-color="rgb(240,139,16)"/><stop offset="0.2125" stop-color="rgb(240,153,16)"/><stop offset="0.2250" stop-color="rgb(240,168,16)"/><stop offset="0.2375" stop-color="rgb(240,183,16)"/><stop offset="0.2500" stop-color="rgb(240,197,16)"/><stop offset="0.2625" stop-color="rgb(240,212,16)"/><stop offset="0.2750" stop-color="rgb(240,227,16)"/><stop offset="0.2875" stop-color="rgb(239,240,16)"/><stop offset="0.3000" stop-color="rgb(224,240,16)"/><stop offset="0.3125" stop-color="rgb(209,240,16)"/><stop offset="0.3250" stop-color="rgb(194,240,16)"/><stop offset="0.3375" stop-color="rgb(180,240,16)"/><stop offset="0.3500" stop-color="rgb(165,240,16)"/><stop offset="0.3625" stop-color="rgb(150,240,16)"/><stop offset="0.3750" stop-color="rgb(136,240,16)"/><stop offset="0.3875" stop-color="rgb(121,240,16)"/><stop offset="0.4000" stop-color="rgb(106,240,16)"/><stop offset="0.4125" stop-color="rgb(92,240,16)"/><stop offset="0.4250" stop-color="rgb(77,240,16)"/><stop offset="0.4375" stop-color="rgb(62,240,16)"/><stop offset="0.4500" stop-color="rgb(47,240,16)"/><stop offset="0.4625" stop-color="rgb(33,240,16)"/><stop offset="0.4750" stop-color="rgb(18,240,16)"/><stop offset="0.4875" stop-color="rgb(16,240,29)"/><stop offset="0.5000" stop-color="rgb(16,240,43)"/><stop offset="0.5125" stop-color="rgb(16,240,58)"/><stop offset="0.5250" stop-color="rgb(16,240,73)"/><stop offset="0.5375" stop-color="rgb(16,240,88)"/><stop offset="0.5500" stop-color="rgb(16,240,102)"/><stop offset="0.5625" stop-color="rgb(16,240,117)"/><stop offset="0.5750" stop-color="rgb(16,240,132)"/><stop offset="0.5875" stop-color="rgb(16,240,146)"/><stop offset="0.6000" stop-color="rgb(16,240,161)"/><stop offset="0.6125" stop-color="rgb(16,240,176)"/><stop offset="0.6250" stop-color="rgb(16,240,190)"/><stop offset="0.6375" stop-color="rgb(16,240,205)"/><stop offset="0.6500" stop-color="rgb(16,240,220)"/><stop offset="0.6625" stop-color="rgb(16,240,235)"/><stop offset="0.6750" stop-color="rgb(16,231,240)"/><stop offset="0.6875" stop-color="rgb(16,216,240)"/><stop offset="0.7000" stop-color="rgb(16,201,240)"/><stop offset="0.7125" stop-color="rgb(16,187,240)"/><stop offset="0.7250" stop-color="rgb(16,172,240)"/><stop offset="0.7375" stop-color="rgb(16,157,240)"/><stop offset="0.7500" stop-color="rgb(16,142,240)"/><stop offset="0.7625" stop-color="rgb(16,128,240)"/><stop offset="0.7750" stop-color="rgb(16,113,240)"/><stop offset="0.7875" stop-color="rgb(16,98,240)"/><stop offset="0.8000" stop-color="rgb(16,84,240)"/><stop offset="0.8125" stop-color="rgb(16,69,240)"/><stop offset="0.8250" stop-color="rgb(16,54,240)"/><stop offset="0.8375" stop-color="rgb(16,40,240)"/><stop offset="0.8500" stop-color="rgb(16,25,240)"/><stop offset="0.8625" stop-color="rgb(22,16,240)"/><stop offset="0.8750" stop-color="rgb(37,16,240)"/><stop offset="0.8875" stop-color="rgb(51,16,240)"/><stop offset="0.9000" stop-color="rgb(66,16,240)"/><stop offset="0.9125" stop-color="rgb(81,16,240)"/><stop offset="0.9250" stop-color="rgb(95,16,240)"/><stop offset="0.9375" stop-color="rgb(110,16,240)"/><stop offset="0.9500" stop-color="rgb(125,16,240)"/><stop offset="0.9542" stop-color="rgb(125,16,240)"/><stop offset="0.9542" stop-color="rgb(150,60,240)"/><stop offset="0.9625" stop-color="rgb(150,60,240)"/><stop offset="0.9625" stop-color="rgb(175,100,245)"/><stop offset="0.9708" stop-color="rgb(175,100,245)"/><stop offset="0.9708" stop-color="rgb(200,150,248)"/><stop offset="0.9792" stop-color="rgb(200,150,248)"/><stop offset="0.9792" stop-color="rgb(220,185,250)"/><stop offset="0.9875" stop-color="rgb(220,185,250)"/><stop offset="0.9875" stop-color="rgb(238,220,253)"/><stop offset="0.9958" stop-color="rgb(238,220,253)"/><stop offset="0.9958" stop-color="rgb(255,255,255)"/><stop offset="1.0000" stop-color="rgb(255,255,255)"/></linearGradient>
<rect x="712" y="29.5" width="24" height="240" fill="url(#cb)"/>
<path d="M712 270.5L720 270.5" stroke="#555" stroke-width="1"/>
<path d="M727.5 270.5L736 270.5" stroke="#555" stroke-width="1"/>
<g fill="none">
<path d="M37.5 270L37.5 30L675 30L675 270L37.5 270" fill="none" stroke="#000" stroke-width="1"/>
<path d="M37.5 269.675L42 269.675" stroke="#000" stroke-width="1"/>
<path d="M675 269.675L670.5 269.675" stroke="#000" stroke-width="1"/>
<path d="M37.5 257.488L42 257.488" stroke="#000" stroke-width="1"/>
<path d="M675 257.488L670.5 257.488" stroke="#000" stroke-width="1"/>
<path d="M37.5 245.3L45 245.3" stroke="#000" stroke-width="1"/>
<path d="M675 245.3L667.5 245.3" stroke="#000" stroke-width="1"/>
<path d="M37.5 233.113L42 233.113" stroke="#000" stroke-width="1"/>
<path d="M675 233.113L670.5 233.113" stroke="#000" stroke-width="1"/>
<path d="M37.5 220.925L42 220.925" stroke="#000" stroke-width="1"/>
<path d="M675 220.925L670.5 220.925" stroke="#000" stroke-width="1"/>
<path d="M37.5 208.738L42 208.738" stroke="#000" stroke-width="1"/>
<path d="M675 208.738L670.5 208.738" stroke="#000" stroke-width="1"/>
<path d="M37.5 196.55L45 196.55" stroke="#000" stroke-width="1"/>
<path d="M675 196.55L667.5 196.55" stroke="#000" stroke-width="1"/>
<path d="M37.5 184.363L42 184.363" stroke="#000" stroke-width="1"/>
<path d="M675 184.363L670.5 184.363" stroke="#000" stroke-width="1"/>
<path d="M37.5 172.175L42 172.175" stroke="#000" stroke-width="1"/>
<path d="M675 172.175L670.5 172.175" stroke="#000" stroke-width="1"/>
<path d="M37.5 159.988L42 159.988" stroke="#000" stroke-width="1"/>
<path d="M675 159.988L670.5 159.988" stroke="#000" stroke-width="1"/>
<path d="M37.5 147.8L45 147.8" stroke="#000" stroke-width="1"/>
<path d="M675 147.8L667.5 147.8" stroke="#000" stroke-width="1"/>
<path d="M37.5 135.613L42 135.613" stroke="#000" stroke-width="1"/>
<path d="M675 135.613L670.5 135.613" stroke="#000" stroke-width="1"/>
<path d="M37.5 123.425L42 123.425" stroke="#000" stroke-width="1"/>
<path d="M675 123.425L670.5 123.425" stroke="#000" stroke-width="1"/>
<path d="M37.5 111.238L42 111.238" stroke="#000" stroke-width="1"/>
<path d="M675 111.238L670.5 111.238" stroke="#000" stroke-width="1"/>
<path d="M37.5 99.05L45 99.05" stroke="#000" stroke-width="1"/>
<path d="M675 99.05L667.5 99.05" stroke="#000" stroke-width="1"/>
<path d="M37.5 86.8625L42 86.8625" stroke="#000" stroke-width="1"/>
<path d="M675 86.8625L670.5 86.8625" stroke="#000" stroke-width="1"/>
<path d="M37.5 74.675L42 74.675" stroke="#000" stroke-width="1"/>
<path d="M675 74.675L670.5 74.675" stroke="#000" stroke-width="1"/>
<path d="M37.5 62.4875L42 62.4875" stroke="#000" stroke-width="1"/>
<path d="M675 62.4875L670.5 62.4875" stroke="#000" stroke-width="1"/>
<path d="M37.5 50.3L45 50.3" stroke="#000" stroke-width="1"/>
<path d="M675 50.3L667.5 50.3" stroke="#000" stroke-width="1"/>
<path d="M37.5 38.1125L42 38.1125" stroke="#000" stroke-width="1"/>
<path d="M675 38.1125L670.5 38.1125" stroke="#000" stroke-width="1"/>
<path d="M62.3 270L62.3 265.5" stroke="#000" stroke-width="1"/>
<path d="M62.3 30L62.3 34.5" stroke="#000" stroke-width="1"/>
<path d="M101.3 270L101.3 265.5" stroke="#000" stroke-width="1"/>
<path d="M101.3 30L101.3 34.5" stroke="#000" stroke-width="1"/>
<path d="M140.3 270L140.3 265.5" stroke="#000" stroke-width="1"/>
<path d="M140.3 30L140.3 34.5" stroke="#000" stroke-width="1"/>
<path d="M179.3 270L179.3 265.5" stroke="#000" stroke-width="1"/>
<path d="M179.3 30L179.3 34.5" stroke="#000" stroke-width="1"/>
<path d="M218.3 270L218.3 262.5" stroke="#000" stroke-width="1"/>
<path d="M218.3 30L218.3 37.5" stroke="#000" stroke-width="1"/>
<path d="M257.3 270L257.3 265.5" stroke="#000" stroke-width="1"/>
<path d="M257.3 30L257.3 34.5" stroke="#000" stroke-width="1"/>
<path d="M296.3 270L296.3 265.5" stroke="#000" stroke-width="1"/>
<path d="M296.3 30L296.3 34.5" stroke="#000" stroke-width="1"/>
<path d="M335.3 270L335.3 265.5" stroke="#000" stroke-width="1"/>
<path d="M335.3 30L335.3 34.5" stroke="#000" stroke-width="1"/>
<path d="M374.3 270L374.3 265.5" stroke="#000" stroke-width="1"/>
<path d="M374.3 30L374.3 34.5" stroke="#000" stroke-width="1"/>
<path d="M413.3 270L413.3 262.5" stroke="#000" stroke-width="1"/>
<path d="M413.3 30L413.3 37.5" stroke="#000" stroke-width="1"/>
<path d="M452.3 270L452.3 265.5" stroke="#000" stroke-width="1"/>
<path d="M452.3 30L452.3 34.5" stroke="#000" stroke-width="1"/>
<path d="M491.3 270L491.3 265.5" stroke="#000" stroke-width="1"/>
<path d="M491.3 30L491.3 34.5" stroke="#000" stroke-width="1"/>
<path d="M530.3 270L530.3 265.5" stroke="#000" stroke-width="1"/>
<path d="M530.3 30L530.3 34.5" stroke="#000" stroke-width="1"/>
<path d="M569.3 270L569.3 265.5" stroke="#000" stroke-width="1"/>
<path d="M569.3 30L569.3 34.5" stroke="#000" stroke-width="1"/>
<path d="M608.3 270L608.3 262.5" stroke="#000" stroke-width="1"/>
<path d="M608.3 30L608.3 37.5" stroke="#000" stroke-width="1"/>
<path d="M647.3 270L647.3 265.5" stroke="#000" stroke-width="1"/>
<path d="M647.3 30L647.3 34.5" stroke="#000" stroke-width="1"/>
<path d="M37.5 570L37.5 330L675 330L675 570L37.5 570" fill="none" stroke="#000" stroke-width="1"/>
<path d="M37.5 561.428L42 561.428" stroke="#000" stroke-width="1"/>
<path d="M675 561.428L670.5 561.428" stroke="#000" stroke-width="1"/>
<path d="M37.5 552.857L42 552.857" stroke="#000" stroke-width="1"/>
<path d="M675 552.857L670.5 552.857" stroke="#000" stroke-width="1"/>
<path d="M37.5 544.285L42 544.285" stroke="#000" stroke-width="1"/>
<path d="M675 544.285L670.5 544.285" stroke="#000" stroke-width="1"/>
<path d="M37.5 535.714L45 535.714" stroke="#000" stroke-width="1"/>
<path d="M675 535.714L667.5 535.714" stroke="#000" stroke-width="1"/>
<path d="M37.5 527.143L42 527.143" stroke="#000" stroke-width="1"/>
<path d="M675 527.143L670.5 527.143" stroke="#000" stroke-width="1"/>
<path d="M37.5 518.571L42 518.571" stroke="#000" stroke-width="1"/>
<path d="M675 518.571L670.5 518.571" stroke="#000" stroke-width="1"/>
<path d="M37.5 510L42 510" stroke="#000" stroke-width="1"/>
<path d="M675 510L670.5 510" stroke="#000" stroke-width="1"/>
<path d="M37.5 501.428L45 501.428" stroke="#000" stroke-width="1"/>
<path d="M675 501.428L667.5 501.428" stroke="#000" stroke-width="1"/>
<path d="M37.5 492.856L42 492.856" stroke="#000" stroke-width="1"/>
<path d="M675 492.856L670.5 492.856" stroke="#000" stroke-width="1"/>
<path d="M37.5 484.285L42 484.285" stroke="#000" stroke-width="1"/>
<path d="M675 484.285L670.5 484.285" stroke="#000" stroke-width="1"/>
<path d="M37.5 475.713L42 475.713" stroke="#000" stroke-width="1"/>
<path d="M675 475.713L670.5 475.713" stroke="#000" stroke-width="1"/>
<path d="M37.5 467.142L45 467.142" stroke="#000" stroke-width="1"/>
<path d="M675 467.142L667.5 467.142" stroke="#000" stroke-width="1"/>
<path d="M37.5 458.57L42 458.57" stroke="#000" stroke-width="1"/>
<path d="M675 458.57L670.5 458.57" stroke="#000" stroke-width="1"/>
<path d="M37.5 449.999L42 449.999" stroke="#000" stroke-width="1"/>
<path d="M675 449.999L670.5 449.999" stroke="#000" stroke-width="1"/>
<path d="M37.5 441.428L42 441.428" stroke="#000" stroke-width="1"/>
<path d="M675 441.428L670.5 441.428" stroke="#000" stroke-width="1"/>
<path d="M37.5 432.856L45 432.856" stroke="#000" stroke-width="1"/>
<path d="M675 432.856L667.5 432.856" stroke="#000" stroke-width="1"/>
<path d="M37.5 424.284L42 424.284" stroke="#000" stroke-width="1"/>
<path d="M675 424.284L670.5 424.284" stroke="#000" stroke-width="1"/>
<path d="M37.5 415.713L42 415.713" stroke="#000" stroke-width="1"/>
<path d="M675 415.713L670.5 415.713" stroke="#000" stroke-width="1"/>
<path d="M37.5 407.141L42 407.141" stroke="#000" stroke-width="1"/>
<path d="M675 407.141L670.5 407.141" stroke="#000" stroke-width="1"/>
<path d="M37.5 398.57L45 398.57" stroke="#000" stroke-width="1"/>
<path d="M675 398.57L667.5 398.57" stroke="#000" stroke-width="1"/>
<path d="M37.5 389.998L42 389.998" stroke="#000" stroke-width="1"/>
<path d="M675 389.998L670.5 389.998" stroke="#000" stroke-width="1"/>
<path d="M37.5 381.427L42 381.427" stroke="#000" stroke-width="1"/>
<path d="M675 381.427L670.5 381.427" stroke="#000" stroke-width="1"/>
<path d="M37.5 372.856L42 372.856" stroke="#000" stroke-width="1"/>
<path d="M675 372.856L670.5 372.856" stroke="#000" stroke-width="1"/>
<path d="M37.5 364.284L45 364.284" stroke="#000" stroke-width="1"/>
<path d="M675 364.284L667.5 364.284" stroke="#000" stroke-width="1"/>
<path d="M37.5 355.712L42 355.712" stroke="#000" stroke-width="1"/>
<path d="M675 355.712L670.5 355.712" stroke="#000" stroke-width="1"/>
<path d="M37.5 347.141L42 347.141" stroke="#000" stroke-width="1"/>
<path d="M675 347.141L670.5 347.141" stroke="#000" stroke-width="1"/>
<path d="M37.5 338.569L42 338.569" stroke="#000" stroke-width="1"/>
<path d="M675 338.569L670.5 338.569" stroke="#000" stroke-width="1"/>
<path d="M37.5 329.998L45 329.998" stroke="#000" stroke-width="1"/>
<path d="M675 329.998L667.5 329.998" stroke="#000" stroke-width="1"/>
<path d="M62.3 570L62.3 565.5" stroke="#000" stroke-width="1"/>
<path d="M62.3 330L62.3 334.5" stroke="#000" stroke-width="1"/>
<path d="M101.3 570L101.3 565.5" stroke="#000" stroke-width="1"/>
<path d="M101.3 330L101.3 334.5" stroke="#000" stroke-width="1"/>
<path d="M140.3 570L140.3 565.5" stroke="#000" stroke-width="1"/>
<path d="M140.3 330L140.3 334.5" stroke="#000" stroke-width="1"/>
<path d="M179.3 570L179.3 565.5" stroke="#000" stroke-width="1"/>
<path d="M179.3 330L179.3 334.5" stroke="#000" stroke-width="1"/>
<path d="M218.3 570L218.3 562.5" stroke="#000" stroke-width="1"/>
<path d="M218.3 330L218.3 337.5" stroke="#000" stroke-width="1"/>
<path d="M257.3 570L257.3 565.5" stroke="#000" stroke-width="1"/>
<path d="M257.3 330L257.3 334.5" stroke="#000" stroke-width="1"/>
<path d="M296.3 570L296.3 565.5" stroke="#000" stroke-width="1"/>
<path d="M296.3 330L296.3 334.5" stroke="#000" stroke-width="1"/>
<path d="M335.3 570L335.3 565.5" stroke="#000" stroke-width="1"/>
<path d="M335.3 330L335.3 334.5" stroke="#000" stroke-width="1"/>
<path d="M374.3 570L374.3 565.5" stroke="#000" stroke-width="1"/>
<path d="M374.3 330L374.3 334.5" stroke="#000" stroke-width="1"/>
<path d="M413.3 570L413.3 562.5" stroke="#000" stroke-width="1"/>
<path d="M413.3 330L413.3 337.5" stroke="#000" stroke-width="1"/>
<path d="M452.3 570L452.3 565.5" stroke="#000" stroke-width="1"/>
<path d="M452.3 330L452.3 334.5" stroke="#000" stroke-width="1"/>
<path d="M491.3 570L491.3 565.5" stroke="#000" stroke-width="1"/>
<path d="M491.3 330L491.3 334.5" stroke="#000" stroke-width="1"/>
<path d="M530.3 570L530.3 565.5" stroke="#000" stroke-width="1"/>
<path d="M530.3 330L530.3 334.5" stroke="#000" stroke-width="1"/>
<path d="M569.3 570L569.3 565.5" stroke="#000" stroke-width="1"/>
<path d="M569.3 330L569.3 334.5" stroke="#000" stroke-width="1"/>
<path d="M608.3 570L608.3 562.5" stroke="#000" stroke-width="1"/>
<path d="M608.3 330L608.3 337.5" stroke="#000" stroke-width="1"/>
<path d="M647.3 570L647.3 565.5" stroke="#000" stroke-width="1"/>
<path d="M647.3 330L647.3 334.5" stroke="#000" stroke-width="1"/>
</g>
<clipPath id="cpb"><rect x="37.5" y="330" width="637.5" height="240"/></clipPath>
<path clip-path="url(#cpb)" d="M37.6 561.5L37.9 567.7L38.1 568.3L38.4 568.5L38.7 567.0L39.0 568.4L39.2 567.4L39.5 568.9L39.8 567.1L40.0 568.6L40.3 568.3L40.6 569.3L40.8 564.0L41.1 561.2L41.4 564.5L41.7 568.4L41.9 567.1L42.2 566.2L42.5 568.1L42.7 565.4L43.0 564.9L43.3 564.5L43.5 564.9L43.8 568.3L44.1 566.5L44.4 569.1L44.6 563.9L44.9 568.5L45.2 566.4L45.4 567.6L45.7 565.4L46.0 563.8L46.2 565.0L46.5 567.3L46.8 565.1L47.1 569.0L47.3 567.5L47.6 567.0L47.9 568.2L48.1 565.5L48.4 568.9L48.7 564.0L48.9 568.4L49.2 566.4L49.5 562.4L49.8 568.3L50.0 564.9L50.3 566.5L50.6 565.0L50.8 567.0L51.1 562.9L51.4 567.1L51.6 565.6L51.9 568.0L52.2 565.5L52.5 569.0L52.7 568.2L53.0 568.2L53.3 564.4L53.5 567.7L53.8 565.5L54.1 564.9L54.3 567.0L54.6 566.5L54.9 565.8L55.2 567.3L55.4 569.1L55.7 565.5L56.0 566.8L56.2 565.2L56.5 562.9L56.8 564.2L57.0 565.9L57.3 569.1L57.6 568.3L57.9 568.3L58.1 564.3L58.4 564.6L58.7 567.6L58.9 569.1L59.2 568.8L59.5 568.0L59.7 569.2L60.0 566.5L60.3 567.4L60.6 569.1L60.8 568.5L61.1 566.2L61.4 563.9L61.6 564.6L61.9 566.4L62.2 565.7L62.4 566.4L62.7 568.4L63.0 566.1L63.3 568.4L63.5 569.1L63.8 564.5L64.1 564.8L64.3 569.2L64.6 569.0L64.9 564.9L65.1 566.2L65.4 568.7L65.7 568.7L66.0 564.1L66.2 568.1L66.5 566.5L66.8 568.1L67.0 565.2L67.3 566.0L67.6 563.8L67.8 564.2L68.1 566.2L68.4 565.8L68.7 565.3L68.9 569.2L69.2 565.0L69.5 566.2L69.7 567.8L70.0 563.9L70.3 567.2L70.5 565.6L70.8 565.7L71.1 564.3L71.4 569.1L71.6 564.3L71.9 567.1L72.2 566.9L72.4 567.9L72.7 566.2L73.0 565.3L73.2 567.1L73.5 565.8L73.8 565.8L74.1 561.3L74.3 564.3L74.6 568.1L74.9 569.1L75.1 568.0L75.4 567.9L75.7 564.9L75.9 562.3L76.2 564.9L76.5 567.4L76.8 565.9L77.0 567.7L77.3 567.1L77.6 567.0L77.8 565.3L78.1 566.1L78.4 566.5L78.6 565.6L78.9 565.4L79.2 568.3L79.5 565.4L79.7 564.7L80.0 567.5L80.3 567.1L80.5 567.1L80.8 565.2L81.1 565.8L81.3 563.4L81.6 565.5L81.9 567.1L82.2 565.8L82.4 569.0L82.7 565.9L83.0 567.3L83.2 568.4L83.5 567.2L83.8 566.1L84.0 564.9L84.3 561.8L84.6 567.9L84.8 568.0L85.1 566.5L85.4 566.0L85.7 567.4L85.9 568.2L86.2 565.4L86.5 565.1L86.7 568.5L87.0 562.9L87.3 566.0L87.5 565.9L87.8 563.9L88.1 563.5L88.4 566.8L88.6 567.9L88.9 565.5L89.2 566.5L89.4 568.1L89.7 564.6L90.0 568.9L90.2 564.3L90.5 567.9L90.8 564.8L91.1 568.9L91.3 561.3L91.6 565.5L91.9 566.5L92.1 565.1L92.4 569.0L92.7 567.2L92.9 567.3L93.2 568.1L93.5 568.7L93.8 566.6L94.0 566.2L94.3 569.0L94.6 564.3L94.8 565.5L95.1 565.9L95.4 567.8L95.6 566.4L95.9 567.0L96.2 568.6L96.5 565.7L96.7 564.8L97.0 565.6L97.3 564.9L97.5 564.0L97.8 566.7L98.1 567.7L98.3 566.3L98.6 565.2L98.9 566.8L99.2 564.8L99.4 565.6L99.7 564.9L100.0 567.7L100.2 567.4L100.5 564.3L100.8 565.8L101.0 566.5L101.3 566.6L101.6 567.2L101.9 563.8L102.1 568.7L102.4 564.8L102.7 564.8L102.9 568.4L103.2 564.6L103.5 569.0L103.7 564.2L104.0 564.6L104.3 562.0L104.6 567.9L104.8 568.9L105.1 568.5L105.4 568.7L105.6 568.2L105.9 566.5L106.2 565.6L106.4 564.4L106.7 568.3L107.0 567.1L107.3 562.7L107.5 563.8L107.8 564.6L108.1 565.7L108.3 567.9L108.6 566.8L108.9 566.0L109.1 567.7L109.4 568.9L109.7 566.9L110.0 568.0L110.2 569.0L110.5 566.7L110.8 566.9L111.0 566.8L111.3 565.1L111.6 564.0L111.8 569.0L112.1 566.5L112.4 565.4L112.7 566.1L112.9 568.3L113.2 568.1L113.5 563.8L113.7 568.9L114.0 566.7L114.3 566.7L114.5 567.5L114.8 568.6L115.1 566.3L115.4 565.8L115.6 567.5L115.9 564.6L116.2 563.6L116.4 565.1L116.7 565.1L117.0 568.4L117.2 566.4L117.5 564.9L117.8 566.6L118.1 567.6L118.3 567.2L118.6 563.6L118.9 568.9L119.1 565.1L119.4 564.7L119.7 565.2L119.9 568.2L120.2 565.4L120.5 568.8L120.8 563.3L121.0 567.8L121.3 567.2L121.6 564.3L121.8 563.6L122.1 569.0L122.4 565.6L122.6 564.1L122.9 564.6L123.2 564.9L123.5 566.3L123.7 566.0L124.0 565.4L124.3 568.4L124.5 568.3L124.8 567.1L125.1 563.3L125.3 565.1L125.6 566.7L125.9 566.4L126.2 565.2L126.4 568.3L126.7 563.2L127.0 567.0L127.2 566.0L127.5 564.5L127.8 567.4L128.0 564.2L128.3 563.8L128.6 562.0L128.9 564.8L129.1 568.6L129.4 564.4L129.7 564.6L129.9 568.8L130.2 563.6L130.5 565.6L130.7 567.0L131.0 564.1L131.3 563.8L131.6 565.5L131.8 564.6L132.1 566.3L132.4 563.5L132.6 567.7L132.9 566.0L133.2 563.2L133.4 562.7L133.7 567.5L134.0 564.3L134.3 564.2L134.5 564.1L134.8 562.8L135.1 562.8L135.3 562.5L135.6 561.1L135.9 561.1L136.1 567.2L136.4 567.2L136.7 567.4L137.0 559.6L137.2 568.0L137.5 566.8L137.8 562.8L138.0 563.3L138.3 566.4L138.6 562.7L138.8 564.9L139.1 564.1L139.4 564.9L139.7 562.4L139.9 568.5L140.2 566.8L140.5 565.1L140.7 566.1L141.0 566.1L141.3 566.0L141.5 565.0L141.8 563.6L142.1 567.0L142.4 568.1L142.6 565.0L142.9 563.2L143.2 565.6L143.4 568.8L143.7 568.6L144.0 568.5L144.2 563.2L144.5 567.0L144.8 563.3L145.1 562.5L145.3 568.8L145.6 568.1L145.9 568.5L146.1 564.9L146.4 564.9L146.7 568.8L147.0 568.7L147.2 563.7L147.5 565.9L147.8 568.5L148.0 568.5L148.3 567.7L148.6 567.0L148.8 566.4L149.1 564.4L149.4 563.7L149.7 568.4L149.9 568.5L150.2 568.8L150.5 567.7L150.7 564.7L151.0 562.2L151.3 563.7L151.5 567.6L151.8 564.1L152.1 568.3L152.4 566.6L152.6 567.2L152.9 563.6L153.2 567.5L153.4 563.1L153.7 559.2L154.0 563.4L154.2 567.3L154.5 568.2L154.8 564.4L155.1 564.8L155.3 568.4L155.6 560.0L155.9 566.9L156.1 566.8L156.4 567.9L156.7 562.9L156.9 566.6L157.2 564.9L157.5 563.2L157.8 564.4L158.0 563.7L158.3 568.7L158.6 562.3L158.8 567.9L159.1 567.6L159.4 563.3L159.6 566.8L159.9 565.7L160.2 562.9L160.5 568.4L160.7 561.4L161.0 568.0L161.3 560.7L161.5 564.9L161.8 561.5L162.1 561.1L162.3 563.1L162.6 567.9L162.9 565.2L163.2 565.0L163.4 561.6L163.7 564.3L164.0 565.6L164.2 568.5L164.5 563.5L164.8 568.7L165.0 565.2L165.3 568.5L165.6 568.5L165.9 566.3L166.1 561.0L166.4 564.3L166.7 563.3L166.9 555.6L167.2 553.0L167.5 560.4L167.7 561.0L168.0 559.4L168.3 561.3L168.6 568.3L168.8 558.3L169.1 563.2L169.4 566.4L169.6 561.1L169.9 558.2L170.2 568.3L170.4 566.0L170.7 560.7L171.0 562.7L171.3 563.2L171.5 560.0L171.8 549.0L172.1 568.6L172.3 567.0L172.6 564.3L172.9 566.0L173.1 562.9L173.4 566.5L173.7 568.4L174.0 558.6L174.2 567.2L174.5 560.0L174.8 559.0L175.0 556.2L175.3 560.7L175.6 554.3L175.8 549.6L176.1 566.6L176.4 563.5L176.7 565.5L176.9 559.3L177.2 545.6L177.5 557.6L177.7 556.9L178.0 543.5L178.0 554.0L178.3 557.4L178.5 554.8L178.8 568.1L179.1 551.4L179.4 556.4L179.6 554.5L179.9 566.5L180.2 568.2L180.4 564.9L180.7 568.2L181.0 567.6L181.2 556.6L181.5 560.9L181.8 564.0L182.1 563.5L182.3 559.8L182.6 564.1L182.9 554.5L183.1 554.1L183.4 567.8L183.7 556.2L183.9 567.0L184.2 566.0L184.5 563.3L184.8 564.0L185.0 561.4L185.3 550.8L185.6 559.6L185.8 565.2L186.1 555.9L186.4 567.1L186.6 559.8L186.9 557.5L187.2 563.3L187.5 553.9L187.7 564.5L188.0 566.2L188.3 552.7L188.5 561.9L188.8 562.4L189.1 563.2L189.3 551.7L189.6 551.9L189.9 566.7L190.0 540.0L190.2 565.3L190.4 565.4L190.7 551.7L191.0 565.1L191.2 540.3L191.5 549.8L191.8 562.6L192.0 565.2L192.3 560.7L192.6 562.2L192.9 547.9L193.1 564.0L193.4 552.4L193.7 544.1L193.9 550.9L194.2 547.6L194.5 535.4L194.7 561.2L195.0 532.6L195.3 559.7L195.6 564.9L195.8 563.7L196.0 529.5L196.1 548.0L196.4 555.8L196.6 567.1L196.9 546.4L197.2 561.7L197.4 526.7L197.7 564.7L198.0 564.8L198.3 554.7L198.5 562.0L198.8 568.6L199.1 544.7L199.3 557.3L199.6 554.6L199.9 567.7L200.0 519.0L200.1 538.5L200.4 556.1L200.7 547.2L201.0 550.6L201.2 567.0L201.5 529.8L201.8 524.0L202.0 552.1L202.3 546.7L202.6 558.1L202.8 539.5L203.1 555.1L203.4 558.0L203.7 542.8L203.9 556.1L204.2 543.2L204.5 560.5L204.7 561.3L205.0 530.8L205.3 566.1L205.5 558.4L205.8 535.7L206.0 511.0L206.1 560.6L206.4 525.1L206.6 566.1L206.9 535.1L207.2 534.4L207.4 558.4L207.7 561.2L208.0 549.7L208.2 553.7L208.5 522.9L208.8 566.2L209.1 564.9L209.3 522.4L209.6 547.6L209.9 539.7L210.1 542.7L210.4 555.2L210.7 557.2L210.9 554.7L211.0 519.0L211.2 567.0L211.5 545.1L211.8 562.7L212.0 561.9L212.3 555.6L212.6 553.9L212.8 544.9L213.1 547.2L213.4 545.5L213.6 534.9L213.9 541.3L214.2 551.0L214.5 554.0L214.7 565.0L215.0 565.7L215.3 567.1L215.5 559.0L215.8 566.5L216.1 535.6L216.3 541.2L216.6 566.6L216.9 560.1L217.2 565.8L217.4 558.6L217.6 515.0L217.7 561.0L218.0 564.7L218.2 565.9L218.5 566.6L218.8 542.4L219.0 553.0L219.3 563.6L219.6 565.6L219.9 549.0L220.1 558.1L220.4 562.5L220.7 566.0L220.9 553.4L221.2 562.9L221.5 562.5L221.7 562.9L222.0 559.8L222.3 559.8L222.6 560.0L222.8 560.8L223.1 564.4L223.4 554.1L223.6 553.2L223.9 563.7L224.2 563.4L224.4 554.6L224.7 560.0L225.0 556.5L225.3 556.8L225.5 558.6L225.8 558.4L226.1 554.8L226.3 554.3L226.6 551.9L226.9 564.6L227.1 551.5L227.4 560.9L227.7 563.9L228.0 560.7L228.2 556.0L228.5 566.5L228.8 544.8L229.0 561.9L229.3 561.8L229.6 566.4L229.8 554.1L230.1 549.5L230.4 536.2L230.7 558.2L230.9 564.2L231.2 546.4L231.5 561.6L231.7 560.7L232.0 553.7L232.3 564.4L232.5 544.3L232.8 564.8L233.1 540.8L233.4 537.2L233.6 553.6L233.9 549.4L234.0 513.8L234.2 533.5L234.4 557.3L234.7 543.3L235.0 529.3L235.2 566.0L235.5 562.9L235.8 555.3L236.1 523.3L236.3 543.8L236.6 564.6L236.9 556.7L237.1 494.6L237.4 563.2L237.5 485.8L237.7 518.7L237.9 531.8L238.2 529.6L238.5 524.6L238.8 537.3L239.0 558.3L239.3 524.8L239.6 531.9L239.8 529.0L240.0 505.0L240.1 555.4L240.4 541.3L240.6 530.9L240.9 545.9L241.2 551.7L241.5 524.8L241.7 562.7L242.0 539.5L242.0 499.0L242.3 533.8L242.5 549.8L242.8 526.4L243.1 563.7L243.3 555.9L243.6 550.0L243.9 534.4L244.2 564.5L244.4 525.5L244.5 515.0L244.7 556.6L245.0 565.0L245.2 559.8L245.5 550.8L245.8 564.7L246.0 497.0L246.3 538.4L246.6 544.1L246.9 565.1L247.0 490.0L247.1 495.6L247.4 531.6L247.7 566.5L247.9 564.9L248.2 529.4L248.5 549.6L248.7 526.9L249.0 511.7L249.3 539.0L249.5 500.0L249.6 548.8L249.8 556.9L250.1 544.8L250.4 547.3L250.6 536.0L250.9 563.1L251.2 549.4L251.4 560.8L251.7 531.9L252.0 566.1L252.3 556.6L252.5 540.9L252.7 508.5L252.8 558.2L253.1 539.7L253.3 541.8L253.6 541.6L253.9 558.5L254.1 535.0L254.4 543.7L254.7 553.0L255.0 543.7L255.2 560.6L255.5 552.8L255.8 540.5L256.0 520.9L256.3 546.7L256.6 566.2L256.8 552.9L257.1 565.0L257.4 557.4L257.7 561.3L257.9 548.7L258.2 523.1L258.5 545.1L258.7 560.3L259.0 521.6L259.0 538.1L259.3 546.7L259.5 548.3L259.8 552.1L260.1 552.6L260.4 557.4L260.6 560.9L260.9 548.2L261.2 560.1L261.4 565.9L261.7 551.0L262.0 551.5L262.2 553.9L262.5 558.9L262.8 549.1L263.1 558.0L263.3 553.1L263.6 557.4L263.9 534.7L264.1 551.4L264.4 551.6L264.7 557.8L264.9 562.1L265.2 551.4L265.5 562.9L265.8 566.2L266.0 552.2L266.3 549.1L266.6 554.7L266.6 520.0L266.8 552.8L267.1 561.8L267.4 549.5L267.6 561.6L267.9 547.4L268.2 564.3L268.5 558.3L268.7 554.0L269.0 559.1L269.3 547.4L269.5 539.6L269.8 542.4L270.1 537.7L270.3 559.5L270.6 555.9L270.9 541.1L271.0 519.0L271.2 527.1L271.4 538.7L271.7 553.1L272.0 553.3L272.2 540.2L272.5 553.8L272.8 554.6L273.0 553.4L273.3 560.9L273.6 522.5L273.9 539.0L274.1 515.5L274.4 538.1L274.7 566.7L274.9 561.8L275.2 523.3L275.5 545.0L275.7 519.4L276.0 566.7L276.3 564.5L276.6 548.5L276.8 541.9L277.1 537.4L277.4 544.2L277.6 520.1L277.9 565.7L278.2 554.2L278.4 559.5L278.7 535.7L279.0 557.5L279.3 545.4L279.5 530.5L279.8 538.7L280.0 507.0L280.1 518.5L280.3 534.3L280.6 560.0L280.9 523.0L281.1 557.1L281.4 531.1L281.7 538.9L282.0 562.7L282.2 557.0L282.5 555.9L282.8 548.3L283.0 560.2L283.3 557.8L283.6 557.2L283.8 549.1L284.1 536.5L284.4 559.9L284.7 543.2L284.9 562.4L285.2 559.9L285.5 555.1L285.7 548.9L286.0 548.9L286.3 563.5L286.5 545.5L286.8 549.6L287.1 560.7L287.4 566.2L287.6 558.3L287.9 566.4L288.2 538.4L288.4 548.7L288.7 548.5L289.0 549.2L289.2 551.5L289.5 565.8L289.8 559.5L290.1 565.6L290.3 525.0L290.6 565.5L290.9 556.2L291.1 560.5L291.4 543.6L291.7 538.7L291.9 561.8L292.2 559.4L292.5 565.7L292.8 566.8L293.0 548.4L293.3 523.3L293.6 564.7L293.8 555.8L294.1 564.7L294.4 566.0L294.6 548.3L294.9 562.8L295.2 556.7L295.5 552.8L295.7 517.7L296.0 519.3L296.3 542.7L296.5 536.8L296.8 545.2L297.1 552.7L297.3 548.7L297.5 507.5L297.6 556.0L297.9 535.3L298.2 555.1L298.4 542.0L298.7 538.9L299.0 543.9L299.2 565.3L299.5 538.5L299.8 539.8L300.0 553.7L300.3 533.6L300.6 560.7L300.9 547.9L301.1 538.8L301.4 546.9L301.7 531.3L301.9 549.0L302.2 541.1L302.5 554.2L302.7 533.5L303.0 534.6L303.3 550.2L303.6 543.0L303.8 560.2L304.1 565.7L304.4 563.8L304.6 564.2L304.9 559.3L305.2 548.3L305.4 561.7L305.7 546.9L306.0 550.1L306.3 539.5L306.5 540.0L306.8 564.3L307.1 533.2L307.3 563.3L307.6 564.6L307.9 561.1L308.1 534.7L308.4 548.8L308.7 543.2L309.0 517.9L309.2 547.0L309.5 561.3L309.8 531.8L310.0 539.9L310.3 555.5L310.6 557.8L310.8 538.3L311.1 528.4L311.4 524.8L311.7 546.2L311.7 497.5L311.9 529.6L312.2 565.7L312.5 566.6L312.7 539.6L313.0 546.2L313.3 560.4L313.5 558.7L313.8 538.2L314.1 536.3L314.4 537.0L314.6 550.5L314.9 539.7L315.2 535.9L315.4 565.4L315.7 533.5L316.0 518.8L316.2 545.1L316.5 535.0L316.8 540.4L317.1 554.8L317.3 558.0L317.6 537.2L317.9 536.7L318.1 528.2L318.4 547.6L318.7 562.5L318.9 557.3L319.0 510.0L319.2 563.9L319.5 559.7L319.7 536.4L320.0 524.0L320.3 546.3L320.6 552.9L320.8 550.2L321.1 558.7L321.4 546.3L321.6 547.0L321.9 562.7L322.2 528.5L322.4 557.6L322.7 565.7L323.0 549.4L323.3 549.0L323.5 537.5L323.8 523.2L324.1 551.7L324.3 564.3L324.6 560.3L324.9 540.0L325.1 563.9L325.4 560.0L325.7 545.6L326.0 540.5L326.2 565.4L326.5 548.8L326.8 543.1L327.0 554.6L327.3 545.2L327.6 562.4L327.8 519.6L328.1 543.1L328.4 549.3L328.7 545.5L328.9 566.7L329.2 552.6L329.5 524.6L329.7 543.6L330.0 528.9L330.3 522.8L330.5 519.9L330.8 537.9L331.0 488.7L331.1 522.8L331.4 535.5L331.6 529.8L331.9 520.7L332.2 520.2L332.4 523.1L332.7 559.0L333.0 547.3L333.2 526.5L333.5 553.7L333.8 562.2L334.1 556.8L334.3 510.2L334.6 532.8L334.9 541.4L335.1 529.3L335.4 553.4L335.7 547.3L335.9 520.5L336.0 500.0L336.2 566.2L336.5 530.3L336.8 548.9L337.0 556.9L337.3 556.9L337.6 548.2L337.8 547.3L338.1 562.5L338.4 530.5L338.6 546.7L338.9 539.1L339.2 533.3L339.5 560.6L339.7 560.0L340.0 540.2L340.3 553.0L340.5 532.8L340.8 546.3L341.0 502.5L341.1 544.9L341.3 527.8L341.6 533.7L341.9 557.1L342.2 539.0L342.4 546.7L342.7 547.9L343.0 527.4L343.2 504.0L343.5 542.5L343.8 518.3L344.0 549.3L344.3 561.3L344.5 490.7L344.6 566.5L344.9 555.8L345.1 530.4L345.4 547.5L345.7 529.5L345.9 539.4L346.2 564.5L346.5 557.0L346.7 564.8L347.0 500.9L347.3 547.3L347.6 549.1L347.8 555.6L348.1 542.3L348.4 558.2L348.6 557.9L348.9 543.9L349.2 548.7L349.4 511.3L349.7 565.8L350.0 545.4L350.3 520.8L350.8 541.1L351.3 498.9L351.8 513.8L352.3 498.2L352.5 428.7L352.8 494.7L353.3 517.7L353.8 522.1L354.3 566.5L354.8 558.4L355.3 545.8L355.8 550.6L356.3 552.0L356.8 498.2L357.3 522.8L357.7 447.5L357.8 550.8L358.3 496.0L358.8 550.1L359.3 538.9L359.5 460.0L359.8 549.1L360.3 503.1L360.8 523.3L361.3 563.7L361.8 509.0L362.3 553.8L362.8 547.6L363.3 558.9L363.8 517.1L364.3 518.8L364.8 542.5L365.0 473.7L365.3 462.7L365.8 514.8L366.3 534.7L366.5 407.0L366.8 442.6L367.3 487.0L367.8 498.2L368.3 485.0L368.8 499.0L369.3 502.8L369.5 427.0L369.8 543.3L370.3 451.1L370.8 484.0L371.3 458.7L371.8 546.2L372.0 408.0L372.3 495.6L372.8 517.6L373.3 497.3L373.8 479.5L374.3 537.4L374.8 481.1L375.3 488.4L375.8 556.9L376.3 462.4L376.8 482.1L377.3 525.7L377.3 380.0L377.8 378.5L378.0 335.0L378.3 557.2L378.8 475.4L378.8 390.0L379.3 454.3L379.8 488.4L380.3 470.7L380.8 522.0L381.3 479.9L381.8 558.2L382.3 490.9L382.8 547.2L383.3 509.2L383.8 477.7L384.3 522.4L384.8 493.1L385.3 503.9L385.8 482.3L386.3 547.3L386.8 505.1L387.3 482.0L387.8 466.4L388.3 432.8L388.5 421.0L388.8 513.1L389.3 446.7L390.4 504.1L391.3 450.7L392.7 502.8L394.1 451.8L395.5 490.4L396.9 454.5L398.0 477.4L399.4 437.5L400.8 474.4L401.8 444.6L402.9 469.5L404.2 444.3L405.4 463.6L406.5 432.8L407.8 450.7L408.8 428.3L410.1 452.3L411.5 418.6L413.0 457.3L414.0 438.8L415.4 454.2L416.7 427.7L417.8 443.2L419.3 425.5L420.3 438.5L421.7 422.3L422.6 433.2L423.5 419.0L424.6 427.7L425.5 405.8L426.5 420.0L428.0 359.6L429.2 430.0L430.5 485.4L431.5 440.0L432.8 361.7L433.7 440.0L434.7 518.8L435.8 430.0L437.0 350.0L438.2 420.0L439.5 485.0L440.5 450.0L441.3 460.0L442.3 420.0L443.3 400.6L444.5 451.7L445.3 420.0L446.5 385.0L447.5 425.0L448.5 444.4L449.6 400.0L451.0 372.0L452.2 405.0L453.5 420.4L454.5 400.0L455.4 407.0L457.0 376.7L458.2 392.0L459.0 386.0L460.5 404.8L462.0 385.0L462.8 390.0L464.0 371.5L465.3 384.0L466.0 380.0L467.0 392.3L468.3 375.0L469.0 379.0L470.0 364.2L471.2 380.0L471.8 376.0L472.5 391.3L473.8 374.0L474.6 379.0L476.0 367.3L477.0 376.0L478.0 379.8L478.6 372.6L478.9 378.2L479.2 370.7L479.5 371.3L479.8 376.6L480.1 366.8L480.4 371.9L480.7 374.9L481.0 374.4L481.3 370.2L481.6 371.1L481.9 365.1L482.2 372.2L482.5 376.1L482.8 372.9L483.1 366.0L483.4 370.1L483.7 370.2L484.0 370.1L484.3 363.1L484.6 371.9L484.9 364.3L485.2 367.5L485.5 366.2L485.8 368.0L486.1 372.3L486.4 365.5L486.7 363.0L487.0 373.9L487.3 365.0L487.6 366.1L487.9 363.3L488.2 365.6L488.5 373.7L488.8 368.5L489.1 365.6L489.4 361.9L489.7 368.0L490.0 358.9L490.3 375.5L490.6 362.4L490.9 364.8L491.2 366.9L491.5 374.0L491.8 377.8L492.1 376.8L492.4 370.8L492.7 359.7L493.0 376.4L493.3 367.4L493.6 369.5L493.9 365.4L494.2 374.7L494.5 368.2L494.8 368.8L495.1 366.2L495.4 372.4L495.7 362.7L496.0 364.2L496.3 366.8L496.6 374.4L496.9 369.2L497.2 372.6L497.5 374.8L497.8 363.7L498.1 368.9L498.4 364.7L498.7 366.3L499.0 365.0L499.3 360.2L499.6 363.2L499.9 368.8L500.2 367.2L500.5 362.6L500.8 362.6L501.1 370.7L501.4 362.9L501.7 368.9L502.0 363.7L502.3 367.6L502.6 363.2L502.9 370.3L503.2 362.6L503.5 361.3L503.8 364.8L504.1 359.7L504.4 360.8L504.7 365.3L505.0 366.3L505.3 372.1L505.6 368.0L505.9 368.0L506.2 365.8L506.5 366.2L506.8 361.3L507.1 360.0L507.4 363.4L507.7 368.7L508.0 369.8L508.3 363.0L508.6 364.2L508.9 365.4L509.2 367.2L509.5 363.0L509.8 366.1L510.1 365.9L510.4 360.8L510.7 360.6L511.0 370.0L511.3 371.5L511.6 361.6L511.9 364.3L512.2 361.0L512.5 371.5L512.8 364.8L513.1 366.3L513.4 366.0L513.7 362.0L514.0 369.8L514.3 361.3L514.6 362.5L514.9 368.3L515.2 362.7L515.5 360.0L515.8 366.3L516.1 370.8L516.4 368.0L516.7 362.6L517.0 371.3L517.3 370.9L517.6 366.3L517.9 372.5L518.2 367.0L518.5 371.1L518.8 368.8L519.1 368.3L519.4 365.0L519.7 362.3L520.0 366.3L520.3 365.0L520.6 369.2L520.9 372.9L521.2 367.2L521.5 362.1L521.8 361.0L522.1 371.4L522.4 360.5L522.7 373.1L523.0 366.2L523.3 366.8L523.6 363.0L523.9 368.1L524.2 361.4L524.5 364.9L524.8 365.8L525.1 370.6L525.4 369.5L525.7 370.5L526.0 369.4L526.3 362.4L526.6 370.1L526.9 372.5L527.2 366.8L527.5 358.1L527.8 358.4L528.1 365.6L528.4 369.2L528.7 360.8L529.0 360.5L529.3 372.1L529.6 366.3L529.9 367.8L530.2 371.5L530.5 364.7L530.8 361.6L531.1 364.2L531.4 361.4L531.7 357.5L532.0 365.0L532.3 371.4L532.6 364.8L532.9 357.3L533.2 365.1L533.5 370.5L533.8 362.4L534.1 359.2L534.4 364.8L534.7 368.6L535.0 360.2L535.3 363.4L535.6 360.6L535.9 367.1L536.2 361.8L536.5 363.9L536.8 366.9L537.1 367.1L537.4 368.6L537.7 361.6L538.0 363.8L538.3 361.6L538.6 369.0L538.9 364.0L539.2 366.7L539.5 360.2L539.8 364.5L540.1 364.1L540.4 368.2L540.7 370.3L541.0 369.0L541.3 361.6L541.6 369.6L541.9 366.2L542.2 360.8L542.5 360.4L542.8 367.8L543.1 363.0L543.4 364.2L543.7 359.1L544.0 365.1L544.3 369.9L544.6 360.4L544.9 368.2L545.2 367.4L545.5 370.5L545.8 363.8L546.1 367.3L546.4 371.4L546.7 368.5L547.0 366.2L547.3 374.1L547.6 358.7L547.9 374.2L548.2 372.4L548.5 359.5L548.8 360.5L549.1 365.9L549.4 364.5L549.7 366.7L550.0 366.6L550.3 358.4L550.6 358.9L550.9 372.0L551.2 360.6L551.5 366.1L551.8 369.7L552.1 361.5L552.4 372.8L552.7 368.9L553.0 363.3L553.3 359.4L553.6 365.8L553.9 364.9L554.2 368.2L554.5 375.2L554.8 357.0L555.1 370.5L555.4 360.0L555.7 364.5L556.0 364.7L556.3 353.4L556.6 356.7L556.9 362.8L557.2 358.7L557.5 360.8L557.8 359.4L558.1 364.8L558.4 358.0L558.7 364.3L559.0 372.6L559.3 362.2L559.6 363.2L559.9 368.5L560.2 355.2L560.5 361.1L560.8 367.6L561.1 364.1L561.4 361.5L561.7 363.2L562.0 363.9L562.3 359.0L562.6 353.3L562.9 368.4L563.2 367.3L563.5 360.4L563.8 356.5L564.1 361.7L564.4 362.8L564.7 361.8L565.0 362.4L565.3 362.4L565.6 366.0L565.9 363.3L566.2 355.1L566.5 365.6L566.8 363.0L567.1 357.9L567.4 366.6L567.7 351.9L568.0 368.8L568.3 361.3L568.6 355.3L568.9 367.5L569.2 360.9L569.5 365.9L569.8 360.6L570.1 374.7L570.4 363.6L570.7 360.3L571.0 364.1L571.3 374.4L571.6 361.9L571.9 369.6L572.2 358.6L572.5 354.2L572.8 363.1L573.1 364.7L573.4 359.8L573.7 360.7L574.0 366.6L574.3 359.7L574.6 364.6L574.9 373.7L575.2 359.0L575.5 369.7L575.8 367.0L576.1 375.6L576.4 365.2L576.7 363.0L577.0 351.4L577.3 357.1L577.6 360.1L577.9 365.2L578.2 374.3L578.5 359.5L578.8 351.2L579.1 370.7L579.4 376.3L579.7 367.8L580.0 354.1L580.3 359.0L580.6 360.6L580.9 349.3L581.2 357.5L581.5 361.2L581.8 361.6L582.1 360.2L582.4 359.7L582.7 356.2L583.0 367.7L583.3 354.2L583.6 361.4L583.9 370.1L584.2 369.5L584.5 353.5L584.8 370.0L585.1 367.6L585.4 365.5L585.7 362.0L586.0 367.7L586.3 368.0L586.6 348.2L586.9 364.4L587.2 366.4L587.5 357.6L587.8 355.0L588.1 359.6L588.4 366.6L588.7 365.9L589.0 351.8L589.3 365.4L589.6 368.9L589.9 353.9L590.2 358.2L590.5 377.0L590.8 367.3L591.1 374.5L591.4 371.1L591.7 368.6L592.0 354.3L592.3 367.6L592.6 368.2L592.9 366.3L593.2 356.0L593.5 357.5L593.8 357.8L594.1 356.8L594.4 353.6L594.7 372.7L595.0 354.2L595.3 361.2L595.6 363.8L595.9 369.3L596.2 367.5L596.5 363.0L596.8 371.2L597.1 366.9L597.4 362.3L597.7 358.3L598.0 360.1L598.3 364.0L598.6 355.9L598.9 360.6L599.2 354.6L599.5 366.5L599.8 365.9L600.1 370.1L600.4 366.5L600.7 359.3L601.0 363.0L601.3 377.3L601.6 366.1L601.9 368.4L602.2 379.0L602.5 360.8L602.8 370.5L603.1 371.3L603.4 358.9L603.7 371.4L604.0 373.0L604.3 359.8L604.6 357.3L604.9 380.5L605.2 376.3L605.5 355.5L605.8 371.1L606.0 357.0L606.7 372.0L607.4 390.7L608.3 372.0L609.0 380.0L610.0 362.0L610.6 368.0L611.4 350.4L612.2 366.0L613.0 377.5L614.0 362.0L615.0 354.0L615.8 364.0L616.6 370.5L617.3 366.0L618.4 396.8L619.4 370.0L620.5 335.2L621.3 370.0L622.0 396.4L623.0 372.0L623.6 365.0L624.2 350.0L624.8 336.0L625.5 345.0L626.3 330.5L627.3 380.0L628.5 423.0L629.8 380.0L631.2 335.9L632.0 360.0L632.6 371.4L633.3 362.0L634.1 353.9L635.0 362.0L635.6 358.0L636.4 364.0L637.1 356.5L638.0 366.0L638.6 367.3L638.9 361.1L639.2 369.4L639.5 366.8L639.8 365.2L640.1 364.4L640.4 364.5L640.7 364.1L641.0 365.9L641.3 363.2L641.6 365.9L641.9 365.5L642.2 367.1L642.5 370.5L642.8 367.4L643.1 368.8L643.4 361.9L643.7 370.4L644.0 365.4L644.3 363.9L644.6 369.4L644.9 361.4L645.2 364.7L645.5 364.9L645.8 366.0L646.1 357.4L646.4 357.4L646.7 357.4L647.0 365.0L647.3 367.2L647.6 367.6L647.9 367.7L648.2 368.5L648.5 366.7L648.8 364.4L649.1 366.0L649.4 372.8L649.7 372.5L650.0 370.7L650.3 365.3L650.6 360.5L650.9 371.3L651.2 369.8L651.5 366.0L651.8 365.0L652.1 367.1L652.4 368.7L652.7 369.5L653.0 368.2L653.3 372.4L653.6 372.0L653.9 371.0L654.2 369.7L654.5 365.2L654.8 371.8L655.1 372.9L655.4 371.6L655.7 368.2L656.0 363.9L656.3 369.5L656.6 371.2L656.9 362.7L657.2 371.5L657.5 367.2L657.8 371.9L658.1 372.2L658.4 368.5L658.7 371.1L659.0 371.4L659.3 370.9L659.6 360.9L659.9 366.7L660.2 367.1L660.5 367.8L660.8 368.7L661.1 368.6L661.4 366.1L661.7 370.7L662.0 365.8L662.3 363.5L662.6 365.7L662.9 365.9L663.2 367.9L663.5 367.9L663.8 368.1L664.1 362.8L664.4 361.8L664.7 365.2L665.0 372.7L665.3 363.6L665.6 362.8L665.9 369.5L666.2 364.3L666.5 366.5L666.8 371.8L667.1 369.7L667.4 372.8L667.7 370.8L668.0 367.3L668.3 367.1L668.6 367.6L668.9 369.3L669.2 369.1L669.5 367.8L669.8 366.6L670.1 369.1L670.4 366.3L670.7 365.8L671.0 365.4L671.3 363.9L671.6 369.7L671.9 364.7L672.2 367.5L672.5 370.0L672.8 367.9L673.1 366.2L673.4 365.9L673.7 362.1L674.0 364.8L674.3 366.7L674.6 366.2L674.9 368.4" fill="none" stroke="#eb2d32" stroke-width="1.1" stroke-linejoin="round"/>
<g fill="#000" opacity="0.999">
<text x="354.7" y="13.9" text-anchor="middle" font-size="14">C2E1.2025.353.23.22.G11</text>
<text transform="translate(30 51.3) rotate(-90)" text-anchor="middle" font-size="10.25">40</text>
<text transform="translate(30 100.05) rotate(-90)" text-anchor="middle" font-size="10.25">20</text>
<text transform="translate(30 148.8) rotate(-90)" text-anchor="middle" font-size="10.25">0</text>
<text transform="translate(30 197.55) rotate(-90)" text-anchor="middle" font-size="10.25">-20</text>
<text transform="translate(30 246.3) rotate(-90)" text-anchor="middle" font-size="10.25">-40</text>
<text transform="translate(16 149.5) rotate(-90)" text-anchor="middle" font-size="10.25">Frequency (Hz)</text>
<text x="217.8" y="284.4" text-anchor="middle" font-size="10.25">-100</text>
<text x="217.8" y="584.4" text-anchor="middle" font-size="10.25">-100</text>
<text x="412.8" y="284.4" text-anchor="middle" font-size="10.25">0</text>
<text x="412.8" y="584.4" text-anchor="middle" font-size="10.25">0</text>
<text x="607.8" y="284.4" text-anchor="middle" font-size="10.25">100</text>
<text x="607.8" y="584.4" text-anchor="middle" font-size="10.25">100</text>
<text x="356.3" y="292.6" text-anchor="middle" font-size="10.25">Height of straight line (km)</text>
<text x="356.3" y="592.6" text-anchor="middle" font-size="10.25">Height of straight line (km)</text>
<text transform="translate(705 270.5) rotate(-90)" text-anchor="middle" font-size="10.25">0.0</text>
<text transform="translate(705 222.3) rotate(-90)" text-anchor="middle" font-size="10.25">0.2</text>
<text transform="translate(705 174.1) rotate(-90)" text-anchor="middle" font-size="10.25">0.4</text>
<text transform="translate(705 125.9) rotate(-90)" text-anchor="middle" font-size="10.25">0.6</text>
<text transform="translate(705 77.7) rotate(-90)" text-anchor="middle" font-size="10.25">0.8</text>
<text transform="translate(745.5 149.7) rotate(-90)" text-anchor="middle" font-size="10.25">Normalized spectral amplitude</text>
<text transform="translate(30 536.714) rotate(-90)" text-anchor="middle" font-size="10.25">0.2</text>
<text transform="translate(30 502.428) rotate(-90)" text-anchor="middle" font-size="10.25">0.4</text>
<text transform="translate(30 468.142) rotate(-90)" text-anchor="middle" font-size="10.25">0.6</text>
<text transform="translate(30 433.856) rotate(-90)" text-anchor="middle" font-size="10.25">0.8</text>
<text transform="translate(30 399.57) rotate(-90)" text-anchor="middle" font-size="10.25">1.0</text>
<text transform="translate(30 365.284) rotate(-90)" text-anchor="middle" font-size="10.25">1.2</text>
<text transform="translate(30 330.998) rotate(-90)" text-anchor="middle" font-size="10.25">1.4</text>
<text transform="translate(16 450.7) rotate(-90)" text-anchor="middle" font-size="10.25">SNR (10 * v/v)</text>
<text transform="translate(17 339.3) rotate(-90)" font-size="10.25">(x10<tspan dx="0.8" dy="-8" font-size="6.4">4</tspan><tspan dy="8" dx="0.2">)</tspan></text>
</g>
</svg>
</body></html>
